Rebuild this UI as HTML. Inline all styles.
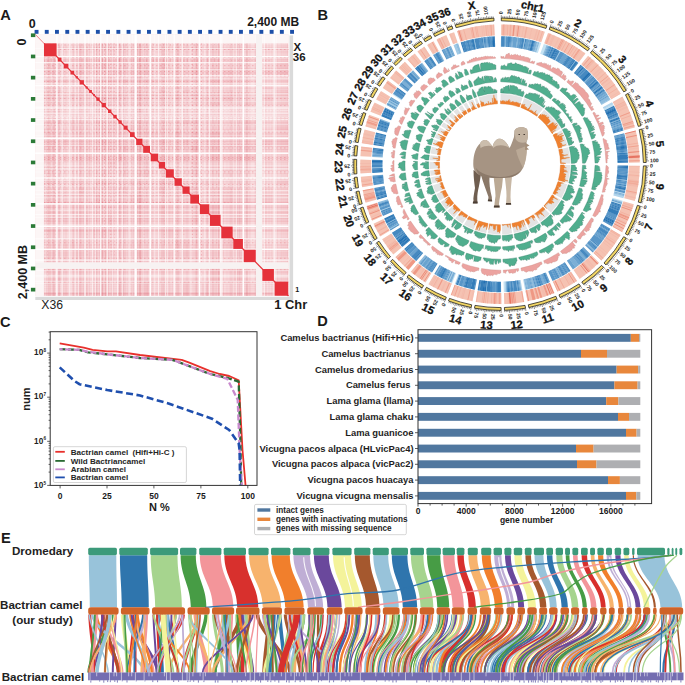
<!DOCTYPE html>
<html><head><meta charset="utf-8"><style>
html,body{margin:0;padding:0;background:#fff;width:685px;height:685px;overflow:hidden}
svg{display:block;font-family:"Liberation Sans", sans-serif}
</style></head><body>
<svg width="685" height="685" viewBox="0 0 685 685">
<rect width="685" height="685" fill="#fff"/>
<rect x="35.3" y="34.4" width="253.2" height="261.6" fill="#f9e0e2"/>
<rect x="35.3" y="34.4" width="8.7" height="261.6" fill="#fcf6f6"/>
<rect x="35.3" y="34.4" width="253.2" height="9" fill="#fcf6f6"/>
<rect x="56.8" y="89.2" width="5.7" height="4.5" fill="#e9707a" opacity="0.08"/>
<rect x="56.8" y="101.8" width="5.7" height="6.7" fill="#e9707a" opacity="0.06"/>
<rect x="56.8" y="108.5" width="5.7" height="5.5" fill="#e9707a" opacity="0.10"/>
<rect x="56.8" y="119.4" width="5.7" height="5.2" fill="#e9707a" opacity="0.12"/>
<rect x="56.8" y="145.5" width="5.7" height="7.7" fill="#e9707a" opacity="0.04"/>
<rect x="56.8" y="161.7" width="5.7" height="7.2" fill="#e9707a" opacity="0.06"/>
<rect x="56.8" y="168.9" width="5.7" height="9" fill="#e9707a" opacity="0.04"/>
<rect x="56.8" y="268.6" width="5.7" height="12.6" fill="#e9707a" opacity="0.12"/>
<rect x="62.5" y="75.5" width="7" height="3.5" fill="#e9707a" opacity="0.06"/>
<rect x="62.5" y="79" width="7" height="6.7" fill="#e9707a" opacity="0.10"/>
<rect x="62.5" y="108.5" width="7" height="5.5" fill="#e9707a" opacity="0.06"/>
<rect x="62.5" y="138.3" width="7" height="7.1" fill="#e9707a" opacity="0.09"/>
<rect x="62.5" y="153.2" width="7" height="8.5" fill="#e9707a" opacity="0.05"/>
<rect x="62.5" y="186.2" width="7" height="8.1" fill="#e9707a" opacity="0.06"/>
<rect x="62.5" y="194.2" width="7" height="9.7" fill="#e9707a" opacity="0.04"/>
<rect x="62.5" y="214.5" width="7" height="11.8" fill="#e9707a" opacity="0.08"/>
<rect x="62.5" y="238.7" width="7" height="10.6" fill="#e9707a" opacity="0.10"/>
<rect x="62.5" y="249.3" width="7" height="13.1" fill="#e9707a" opacity="0.09"/>
<rect x="62.5" y="268.6" width="7" height="12.6" fill="#e9707a" opacity="0.07"/>
<rect x="62.5" y="281.2" width="7" height="14.8" fill="#e9707a" opacity="0.06"/>
<rect x="69.5" y="79" width="5.6" height="6.7" fill="#e9707a" opacity="0.07"/>
<rect x="69.5" y="93.7" width="5.6" height="2.9" fill="#e9707a" opacity="0.12"/>
<rect x="69.5" y="96.6" width="5.6" height="5.2" fill="#e9707a" opacity="0.06"/>
<rect x="69.5" y="114" width="5.6" height="5.5" fill="#e9707a" opacity="0.05"/>
<rect x="69.5" y="119.4" width="5.6" height="5.2" fill="#e9707a" opacity="0.09"/>
<rect x="69.5" y="124.6" width="5.6" height="6.3" fill="#e9707a" opacity="0.09"/>
<rect x="69.5" y="177.9" width="5.6" height="8.3" fill="#e9707a" opacity="0.05"/>
<rect x="69.5" y="203.9" width="5.6" height="10.5" fill="#e9707a" opacity="0.06"/>
<rect x="69.5" y="238.7" width="5.6" height="10.6" fill="#e9707a" opacity="0.12"/>
<rect x="75.1" y="56.6" width="3.4" height="5.9" fill="#e9707a" opacity="0.04"/>
<rect x="75.1" y="69.7" width="3.4" height="5.8" fill="#e9707a" opacity="0.10"/>
<rect x="75.1" y="75.5" width="3.4" height="3.5" fill="#e9707a" opacity="0.11"/>
<rect x="75.1" y="85.7" width="3.4" height="3.4" fill="#e9707a" opacity="0.05"/>
<rect x="75.1" y="93.7" width="3.4" height="2.9" fill="#e9707a" opacity="0.06"/>
<rect x="75.1" y="114" width="3.4" height="5.5" fill="#e9707a" opacity="0.11"/>
<rect x="75.1" y="119.4" width="3.4" height="5.2" fill="#e9707a" opacity="0.04"/>
<rect x="75.1" y="124.6" width="3.4" height="6.3" fill="#e9707a" opacity="0.08"/>
<rect x="75.1" y="130.9" width="3.4" height="7.4" fill="#e9707a" opacity="0.05"/>
<rect x="75.1" y="153.2" width="3.4" height="8.5" fill="#e9707a" opacity="0.07"/>
<rect x="75.1" y="203.9" width="3.4" height="10.5" fill="#e9707a" opacity="0.04"/>
<rect x="75.1" y="214.5" width="3.4" height="11.8" fill="#e9707a" opacity="0.11"/>
<rect x="75.1" y="249.3" width="3.4" height="13.1" fill="#e9707a" opacity="0.09"/>
<rect x="78.5" y="69.7" width="6.5" height="5.8" fill="#e9707a" opacity="0.08"/>
<rect x="78.5" y="186.2" width="6.5" height="8.1" fill="#e9707a" opacity="0.09"/>
<rect x="85" y="56.6" width="3.3" height="5.9" fill="#e9707a" opacity="0.10"/>
<rect x="85" y="62.5" width="3.3" height="7.2" fill="#e9707a" opacity="0.09"/>
<rect x="85" y="75.5" width="3.3" height="3.5" fill="#e9707a" opacity="0.10"/>
<rect x="85" y="93.7" width="3.3" height="2.9" fill="#e9707a" opacity="0.04"/>
<rect x="85" y="108.5" width="3.3" height="5.5" fill="#e9707a" opacity="0.05"/>
<rect x="85" y="153.2" width="3.3" height="8.5" fill="#e9707a" opacity="0.07"/>
<rect x="85" y="214.5" width="3.3" height="11.8" fill="#e9707a" opacity="0.08"/>
<rect x="85" y="281.2" width="3.3" height="14.8" fill="#e9707a" opacity="0.05"/>
<rect x="88.3" y="62.5" width="4.4" height="7.2" fill="#e9707a" opacity="0.06"/>
<rect x="88.3" y="101.8" width="4.4" height="6.7" fill="#e9707a" opacity="0.04"/>
<rect x="88.3" y="114" width="4.4" height="5.5" fill="#e9707a" opacity="0.10"/>
<rect x="88.3" y="138.3" width="4.4" height="7.1" fill="#e9707a" opacity="0.05"/>
<rect x="88.3" y="153.2" width="4.4" height="8.5" fill="#e9707a" opacity="0.11"/>
<rect x="88.3" y="161.7" width="4.4" height="7.2" fill="#e9707a" opacity="0.05"/>
<rect x="88.3" y="168.9" width="4.4" height="9" fill="#e9707a" opacity="0.09"/>
<rect x="88.3" y="238.7" width="4.4" height="10.6" fill="#e9707a" opacity="0.08"/>
<rect x="88.3" y="249.3" width="4.4" height="13.1" fill="#e9707a" opacity="0.04"/>
<rect x="92.7" y="56.6" width="2.8" height="5.9" fill="#e9707a" opacity="0.06"/>
<rect x="92.7" y="101.8" width="2.8" height="6.7" fill="#e9707a" opacity="0.11"/>
<rect x="92.7" y="114" width="2.8" height="5.5" fill="#e9707a" opacity="0.08"/>
<rect x="92.7" y="186.2" width="2.8" height="8.1" fill="#e9707a" opacity="0.10"/>
<rect x="92.7" y="226.3" width="2.8" height="12.4" fill="#e9707a" opacity="0.11"/>
<rect x="95.5" y="79" width="5" height="6.7" fill="#e9707a" opacity="0.08"/>
<rect x="95.5" y="96.6" width="5" height="5.2" fill="#e9707a" opacity="0.10"/>
<rect x="95.5" y="101.8" width="5" height="6.7" fill="#e9707a" opacity="0.10"/>
<rect x="95.5" y="108.5" width="5" height="5.5" fill="#e9707a" opacity="0.07"/>
<rect x="95.5" y="119.4" width="5" height="5.2" fill="#e9707a" opacity="0.05"/>
<rect x="95.5" y="177.9" width="5" height="8.3" fill="#e9707a" opacity="0.06"/>
<rect x="95.5" y="194.2" width="5" height="9.7" fill="#e9707a" opacity="0.10"/>
<rect x="100.5" y="62.5" width="6.5" height="7.2" fill="#e9707a" opacity="0.11"/>
<rect x="100.5" y="85.7" width="6.5" height="3.4" fill="#e9707a" opacity="0.08"/>
<rect x="100.5" y="96.6" width="6.5" height="5.2" fill="#e9707a" opacity="0.12"/>
<rect x="100.5" y="138.3" width="6.5" height="7.1" fill="#e9707a" opacity="0.08"/>
<rect x="100.5" y="168.9" width="6.5" height="9" fill="#e9707a" opacity="0.08"/>
<rect x="100.5" y="177.9" width="6.5" height="8.3" fill="#e9707a" opacity="0.07"/>
<rect x="100.5" y="226.3" width="6.5" height="12.4" fill="#e9707a" opacity="0.09"/>
<rect x="100.5" y="249.3" width="6.5" height="13.1" fill="#e9707a" opacity="0.10"/>
<rect x="100.5" y="268.6" width="6.5" height="12.6" fill="#e9707a" opacity="0.06"/>
<rect x="100.5" y="281.2" width="6.5" height="14.8" fill="#e9707a" opacity="0.09"/>
<rect x="107" y="75.5" width="5.3" height="3.5" fill="#e9707a" opacity="0.10"/>
<rect x="107" y="79" width="5.3" height="6.7" fill="#e9707a" opacity="0.08"/>
<rect x="107" y="85.7" width="5.3" height="3.4" fill="#e9707a" opacity="0.06"/>
<rect x="107" y="114" width="5.3" height="5.5" fill="#e9707a" opacity="0.06"/>
<rect x="107" y="161.7" width="5.3" height="7.2" fill="#e9707a" opacity="0.10"/>
<rect x="107" y="214.5" width="5.3" height="11.8" fill="#e9707a" opacity="0.12"/>
<rect x="107" y="238.7" width="5.3" height="10.6" fill="#e9707a" opacity="0.06"/>
<rect x="107" y="268.6" width="5.3" height="12.6" fill="#e9707a" opacity="0.05"/>
<rect x="112.3" y="69.7" width="5.3" height="5.8" fill="#e9707a" opacity="0.07"/>
<rect x="112.3" y="79" width="5.3" height="6.7" fill="#e9707a" opacity="0.06"/>
<rect x="112.3" y="96.6" width="5.3" height="5.2" fill="#e9707a" opacity="0.08"/>
<rect x="112.3" y="119.4" width="5.3" height="5.2" fill="#e9707a" opacity="0.05"/>
<rect x="112.3" y="124.6" width="5.3" height="6.3" fill="#e9707a" opacity="0.04"/>
<rect x="112.3" y="153.2" width="5.3" height="8.5" fill="#e9707a" opacity="0.05"/>
<rect x="112.3" y="161.7" width="5.3" height="7.2" fill="#e9707a" opacity="0.11"/>
<rect x="112.3" y="186.2" width="5.3" height="8.1" fill="#e9707a" opacity="0.04"/>
<rect x="117.6" y="56.6" width="5" height="5.9" fill="#e9707a" opacity="0.10"/>
<rect x="117.6" y="69.7" width="5" height="5.8" fill="#e9707a" opacity="0.08"/>
<rect x="117.6" y="85.7" width="5" height="3.4" fill="#e9707a" opacity="0.05"/>
<rect x="117.6" y="93.7" width="5" height="2.9" fill="#e9707a" opacity="0.11"/>
<rect x="117.6" y="153.2" width="5" height="8.5" fill="#e9707a" opacity="0.11"/>
<rect x="117.6" y="281.2" width="5" height="14.8" fill="#e9707a" opacity="0.07"/>
<rect x="122.6" y="62.5" width="6.1" height="7.2" fill="#e9707a" opacity="0.07"/>
<rect x="122.6" y="79" width="6.1" height="6.7" fill="#e9707a" opacity="0.12"/>
<rect x="122.6" y="145.5" width="6.1" height="7.7" fill="#e9707a" opacity="0.09"/>
<rect x="122.6" y="161.7" width="6.1" height="7.2" fill="#e9707a" opacity="0.07"/>
<rect x="122.6" y="168.9" width="6.1" height="9" fill="#e9707a" opacity="0.06"/>
<rect x="122.6" y="186.2" width="6.1" height="8.1" fill="#e9707a" opacity="0.06"/>
<rect x="128.7" y="56.6" width="7.2" height="5.9" fill="#e9707a" opacity="0.09"/>
<rect x="128.7" y="69.7" width="7.2" height="5.8" fill="#e9707a" opacity="0.11"/>
<rect x="128.7" y="75.5" width="7.2" height="3.5" fill="#e9707a" opacity="0.08"/>
<rect x="128.7" y="79" width="7.2" height="6.7" fill="#e9707a" opacity="0.08"/>
<rect x="128.7" y="89.2" width="7.2" height="4.5" fill="#e9707a" opacity="0.12"/>
<rect x="128.7" y="114" width="7.2" height="5.5" fill="#e9707a" opacity="0.09"/>
<rect x="128.7" y="124.6" width="7.2" height="6.3" fill="#e9707a" opacity="0.10"/>
<rect x="128.7" y="130.9" width="7.2" height="7.4" fill="#e9707a" opacity="0.04"/>
<rect x="128.7" y="138.3" width="7.2" height="7.1" fill="#e9707a" opacity="0.04"/>
<rect x="128.7" y="145.5" width="7.2" height="7.7" fill="#e9707a" opacity="0.10"/>
<rect x="128.7" y="177.9" width="7.2" height="8.3" fill="#e9707a" opacity="0.12"/>
<rect x="128.7" y="194.2" width="7.2" height="9.7" fill="#e9707a" opacity="0.11"/>
<rect x="128.7" y="238.7" width="7.2" height="10.6" fill="#e9707a" opacity="0.08"/>
<rect x="135.9" y="75.5" width="6.9" height="3.5" fill="#e9707a" opacity="0.09"/>
<rect x="135.9" y="85.7" width="6.9" height="3.4" fill="#e9707a" opacity="0.04"/>
<rect x="135.9" y="93.7" width="6.9" height="2.9" fill="#e9707a" opacity="0.08"/>
<rect x="135.9" y="108.5" width="6.9" height="5.5" fill="#e9707a" opacity="0.09"/>
<rect x="135.9" y="153.2" width="6.9" height="8.5" fill="#e9707a" opacity="0.05"/>
<rect x="135.9" y="194.2" width="6.9" height="9.7" fill="#e9707a" opacity="0.09"/>
<rect x="135.9" y="249.3" width="6.9" height="13.1" fill="#e9707a" opacity="0.06"/>
<rect x="142.8" y="62.5" width="7.5" height="7.2" fill="#e9707a" opacity="0.04"/>
<rect x="142.8" y="69.7" width="7.5" height="5.8" fill="#e9707a" opacity="0.07"/>
<rect x="142.8" y="79" width="7.5" height="6.7" fill="#e9707a" opacity="0.08"/>
<rect x="142.8" y="85.7" width="7.5" height="3.4" fill="#e9707a" opacity="0.05"/>
<rect x="142.8" y="114" width="7.5" height="5.5" fill="#e9707a" opacity="0.07"/>
<rect x="142.8" y="130.9" width="7.5" height="7.4" fill="#e9707a" opacity="0.05"/>
<rect x="142.8" y="161.7" width="7.5" height="7.2" fill="#e9707a" opacity="0.07"/>
<rect x="142.8" y="168.9" width="7.5" height="9" fill="#e9707a" opacity="0.10"/>
<rect x="142.8" y="281.2" width="7.5" height="14.8" fill="#e9707a" opacity="0.11"/>
<rect x="150.3" y="56.6" width="8.2" height="5.9" fill="#e9707a" opacity="0.05"/>
<rect x="150.3" y="79" width="8.2" height="6.7" fill="#e9707a" opacity="0.10"/>
<rect x="150.3" y="85.7" width="8.2" height="3.4" fill="#e9707a" opacity="0.06"/>
<rect x="150.3" y="93.7" width="8.2" height="2.9" fill="#e9707a" opacity="0.06"/>
<rect x="150.3" y="108.5" width="8.2" height="5.5" fill="#e9707a" opacity="0.05"/>
<rect x="150.3" y="130.9" width="8.2" height="7.4" fill="#e9707a" opacity="0.10"/>
<rect x="150.3" y="238.7" width="8.2" height="10.6" fill="#e9707a" opacity="0.07"/>
<rect x="158.5" y="62.5" width="7" height="7.2" fill="#e9707a" opacity="0.09"/>
<rect x="158.5" y="89.2" width="7" height="4.5" fill="#e9707a" opacity="0.10"/>
<rect x="158.5" y="96.6" width="7" height="5.2" fill="#e9707a" opacity="0.04"/>
<rect x="158.5" y="138.3" width="7" height="7.1" fill="#e9707a" opacity="0.08"/>
<rect x="158.5" y="153.2" width="7" height="8.5" fill="#e9707a" opacity="0.05"/>
<rect x="158.5" y="177.9" width="7" height="8.3" fill="#e9707a" opacity="0.09"/>
<rect x="158.5" y="186.2" width="7" height="8.1" fill="#e9707a" opacity="0.10"/>
<rect x="158.5" y="203.9" width="7" height="10.5" fill="#e9707a" opacity="0.06"/>
<rect x="165.5" y="177.9" width="8.7" height="8.3" fill="#e9707a" opacity="0.10"/>
<rect x="165.5" y="203.9" width="8.7" height="10.5" fill="#e9707a" opacity="0.06"/>
<rect x="165.5" y="226.3" width="8.7" height="12.4" fill="#e9707a" opacity="0.12"/>
<rect x="165.5" y="238.7" width="8.7" height="10.6" fill="#e9707a" opacity="0.06"/>
<rect x="165.5" y="249.3" width="8.7" height="13.1" fill="#e9707a" opacity="0.09"/>
<rect x="165.5" y="281.2" width="8.7" height="14.8" fill="#e9707a" opacity="0.04"/>
<rect x="174.2" y="75.5" width="8" height="3.5" fill="#e9707a" opacity="0.05"/>
<rect x="174.2" y="79" width="8" height="6.7" fill="#e9707a" opacity="0.06"/>
<rect x="174.2" y="85.7" width="8" height="3.4" fill="#e9707a" opacity="0.10"/>
<rect x="174.2" y="93.7" width="8" height="2.9" fill="#e9707a" opacity="0.05"/>
<rect x="174.2" y="96.6" width="8" height="5.2" fill="#e9707a" opacity="0.05"/>
<rect x="174.2" y="130.9" width="8" height="7.4" fill="#e9707a" opacity="0.11"/>
<rect x="174.2" y="177.9" width="8" height="8.3" fill="#e9707a" opacity="0.04"/>
<rect x="174.2" y="238.7" width="8" height="10.6" fill="#e9707a" opacity="0.12"/>
<rect x="174.2" y="268.6" width="8" height="12.6" fill="#e9707a" opacity="0.04"/>
<rect x="182.2" y="79" width="7.8" height="6.7" fill="#e9707a" opacity="0.05"/>
<rect x="182.2" y="89.2" width="7.8" height="4.5" fill="#e9707a" opacity="0.11"/>
<rect x="182.2" y="108.5" width="7.8" height="5.5" fill="#e9707a" opacity="0.08"/>
<rect x="182.2" y="114" width="7.8" height="5.5" fill="#e9707a" opacity="0.10"/>
<rect x="182.2" y="119.4" width="7.8" height="5.2" fill="#e9707a" opacity="0.11"/>
<rect x="182.2" y="138.3" width="7.8" height="7.1" fill="#e9707a" opacity="0.06"/>
<rect x="182.2" y="153.2" width="7.8" height="8.5" fill="#e9707a" opacity="0.08"/>
<rect x="182.2" y="238.7" width="7.8" height="10.6" fill="#e9707a" opacity="0.11"/>
<rect x="182.2" y="249.3" width="7.8" height="13.1" fill="#e9707a" opacity="0.08"/>
<rect x="182.2" y="281.2" width="7.8" height="14.8" fill="#e9707a" opacity="0.11"/>
<rect x="190" y="69.7" width="9.4" height="5.8" fill="#e9707a" opacity="0.06"/>
<rect x="190" y="93.7" width="9.4" height="2.9" fill="#e9707a" opacity="0.07"/>
<rect x="190" y="119.4" width="9.4" height="5.2" fill="#e9707a" opacity="0.07"/>
<rect x="190" y="130.9" width="9.4" height="7.4" fill="#e9707a" opacity="0.09"/>
<rect x="190" y="145.5" width="9.4" height="7.7" fill="#e9707a" opacity="0.12"/>
<rect x="190" y="161.7" width="9.4" height="7.2" fill="#e9707a" opacity="0.09"/>
<rect x="190" y="168.9" width="9.4" height="9" fill="#e9707a" opacity="0.07"/>
<rect x="190" y="186.2" width="9.4" height="8.1" fill="#e9707a" opacity="0.07"/>
<rect x="190" y="214.5" width="9.4" height="11.8" fill="#e9707a" opacity="0.06"/>
<rect x="199.4" y="69.7" width="10.2" height="5.8" fill="#e9707a" opacity="0.05"/>
<rect x="199.4" y="75.5" width="10.2" height="3.5" fill="#e9707a" opacity="0.09"/>
<rect x="199.4" y="85.7" width="10.2" height="3.4" fill="#e9707a" opacity="0.07"/>
<rect x="199.4" y="96.6" width="10.2" height="5.2" fill="#e9707a" opacity="0.06"/>
<rect x="199.4" y="101.8" width="10.2" height="6.7" fill="#e9707a" opacity="0.05"/>
<rect x="199.4" y="114" width="10.2" height="5.5" fill="#e9707a" opacity="0.11"/>
<rect x="199.4" y="177.9" width="10.2" height="8.3" fill="#e9707a" opacity="0.07"/>
<rect x="199.4" y="238.7" width="10.2" height="10.6" fill="#e9707a" opacity="0.07"/>
<rect x="199.4" y="281.2" width="10.2" height="14.8" fill="#e9707a" opacity="0.07"/>
<rect x="209.6" y="79" width="11.4" height="6.7" fill="#e9707a" opacity="0.10"/>
<rect x="209.6" y="101.8" width="11.4" height="6.7" fill="#e9707a" opacity="0.10"/>
<rect x="209.6" y="130.9" width="11.4" height="7.4" fill="#e9707a" opacity="0.12"/>
<rect x="209.6" y="145.5" width="11.4" height="7.7" fill="#e9707a" opacity="0.05"/>
<rect x="209.6" y="153.2" width="11.4" height="8.5" fill="#e9707a" opacity="0.09"/>
<rect x="209.6" y="203.9" width="11.4" height="10.5" fill="#e9707a" opacity="0.12"/>
<rect x="209.6" y="214.5" width="11.4" height="11.8" fill="#e9707a" opacity="0.11"/>
<rect x="209.6" y="268.6" width="11.4" height="12.6" fill="#e9707a" opacity="0.11"/>
<rect x="221" y="69.7" width="12" height="5.8" fill="#e9707a" opacity="0.11"/>
<rect x="221" y="75.5" width="12" height="3.5" fill="#e9707a" opacity="0.11"/>
<rect x="221" y="79" width="12" height="6.7" fill="#e9707a" opacity="0.09"/>
<rect x="221" y="89.2" width="12" height="4.5" fill="#e9707a" opacity="0.08"/>
<rect x="221" y="93.7" width="12" height="2.9" fill="#e9707a" opacity="0.04"/>
<rect x="221" y="96.6" width="12" height="5.2" fill="#e9707a" opacity="0.12"/>
<rect x="221" y="153.2" width="12" height="8.5" fill="#e9707a" opacity="0.06"/>
<rect x="221" y="168.9" width="12" height="9" fill="#e9707a" opacity="0.07"/>
<rect x="221" y="186.2" width="12" height="8.1" fill="#e9707a" opacity="0.08"/>
<rect x="221" y="194.2" width="12" height="9.7" fill="#e9707a" opacity="0.09"/>
<rect x="221" y="226.3" width="12" height="12.4" fill="#e9707a" opacity="0.09"/>
<rect x="221" y="238.7" width="12" height="10.6" fill="#e9707a" opacity="0.12"/>
<rect x="233" y="153.2" width="10.3" height="8.5" fill="#e9707a" opacity="0.10"/>
<rect x="233" y="214.5" width="10.3" height="11.8" fill="#e9707a" opacity="0.05"/>
<rect x="233" y="268.6" width="10.3" height="12.6" fill="#e9707a" opacity="0.10"/>
<rect x="243.3" y="56.6" width="12.7" height="5.9" fill="#e9707a" opacity="0.06"/>
<rect x="243.3" y="69.7" width="12.7" height="5.8" fill="#e9707a" opacity="0.05"/>
<rect x="243.3" y="101.8" width="12.7" height="6.7" fill="#e9707a" opacity="0.10"/>
<rect x="243.3" y="119.4" width="12.7" height="5.2" fill="#e9707a" opacity="0.10"/>
<rect x="243.3" y="124.6" width="12.7" height="6.3" fill="#e9707a" opacity="0.08"/>
<rect x="243.3" y="138.3" width="12.7" height="7.1" fill="#e9707a" opacity="0.06"/>
<rect x="243.3" y="145.5" width="12.7" height="7.7" fill="#e9707a" opacity="0.07"/>
<rect x="243.3" y="153.2" width="12.7" height="8.5" fill="#e9707a" opacity="0.11"/>
<rect x="243.3" y="194.2" width="12.7" height="9.7" fill="#e9707a" opacity="0.04"/>
<rect x="243.3" y="281.2" width="12.7" height="14.8" fill="#e9707a" opacity="0.06"/>
<rect x="262" y="69.7" width="12.2" height="5.8" fill="#e9707a" opacity="0.11"/>
<rect x="262" y="85.7" width="12.2" height="3.4" fill="#e9707a" opacity="0.11"/>
<rect x="262" y="93.7" width="12.2" height="2.9" fill="#e9707a" opacity="0.09"/>
<rect x="262" y="96.6" width="12.2" height="5.2" fill="#e9707a" opacity="0.11"/>
<rect x="262" y="101.8" width="12.2" height="6.7" fill="#e9707a" opacity="0.05"/>
<rect x="262" y="138.3" width="12.2" height="7.1" fill="#e9707a" opacity="0.10"/>
<rect x="262" y="161.7" width="12.2" height="7.2" fill="#e9707a" opacity="0.06"/>
<rect x="262" y="186.2" width="12.2" height="8.1" fill="#e9707a" opacity="0.05"/>
<rect x="262" y="194.2" width="12.2" height="9.7" fill="#e9707a" opacity="0.09"/>
<rect x="262" y="268.6" width="12.2" height="12.6" fill="#e9707a" opacity="0.06"/>
<rect x="274.2" y="62.5" width="14.3" height="7.2" fill="#e9707a" opacity="0.09"/>
<rect x="274.2" y="69.7" width="14.3" height="5.8" fill="#e9707a" opacity="0.12"/>
<rect x="274.2" y="89.2" width="14.3" height="4.5" fill="#e9707a" opacity="0.09"/>
<rect x="274.2" y="93.7" width="14.3" height="2.9" fill="#e9707a" opacity="0.06"/>
<rect x="274.2" y="101.8" width="14.3" height="6.7" fill="#e9707a" opacity="0.06"/>
<rect x="274.2" y="114" width="14.3" height="5.5" fill="#e9707a" opacity="0.06"/>
<rect x="274.2" y="124.6" width="14.3" height="6.3" fill="#e9707a" opacity="0.11"/>
<rect x="274.2" y="138.3" width="14.3" height="7.1" fill="#e9707a" opacity="0.08"/>
<rect x="274.2" y="177.9" width="14.3" height="8.3" fill="#e9707a" opacity="0.08"/>
<path d="M276.6 43.4v252.6M86.5 43.4v252.6M234.6 43.4v252.6M84.4 43.4v252.6M192.7 43.4v252.6M101.5 43.4v252.6M151.7 43.4v252.6M233 43.4v252.6M236.3 43.4v252.6M237.4 43.4v252.6M101.7 43.4v252.6M163.6 43.4v252.6M98.1 43.4v252.6M185.8 43.4v252.6M166 43.4v252.6M52.6 43.4v252.6M189.9 43.4v252.6M218.7 43.4v252.6M184 43.4v252.6M257.4 43.4v252.6M88 43.4v252.6M81.1 43.4v252.6M48.3 43.4v252.6M165.3 43.4v252.6M150.3 43.4v252.6M152 43.4v252.6M108.3 43.4v252.6M239.2 43.4v252.6M61.7 43.4v252.6M265.8 43.4v252.6M183.1 43.4v252.6M176.8 43.4v252.6M237.5 43.4v252.6M102.2 43.4v252.6M79.8 43.4v252.6M120 43.4v252.6M54.3 43.4v252.6M120.9 43.4v252.6M195.9 43.4v252.6M172.5 43.4v252.6M108.7 43.4v252.6M187.9 43.4v252.6M65.6 43.4v252.6M244.6 43.4v252.6M86 43.4v252.6M106.3 43.4v252.6M83.1 43.4v252.6M212.9 43.4v252.6M247.2 43.4v252.6M236.3 43.4v252.6M58.9 43.4v252.6M144.4 43.4v252.6M133.1 43.4v252.6M96.9 43.4v252.6M281.3 43.4v252.6M54.3 43.4v252.6M163.7 43.4v252.6M230.1 43.4v252.6M285.1 43.4v252.6M79.3 43.4v252.6M155.3 43.4v252.6M226.1 43.4v252.6M53.6 43.4v252.6M102.8 43.4v252.6M261.6 43.4v252.6M78.6 43.4v252.6M140.1 43.4v252.6M116.9 43.4v252.6M147.8 43.4v252.6M62.7 43.4v252.6M52.4 43.4v252.6M287.6 43.4v252.6M230.6 43.4v252.6M223.5 43.4v252.6M100.2 43.4v252.6M105.9 43.4v252.6M178.9 43.4v252.6M103.1 43.4v252.6M156.9 43.4v252.6M272 43.4v252.6M133 43.4v252.6M126.4 43.4v252.6M283.9 43.4v252.6M193.4 43.4v252.6M53.7 43.4v252.6M142.5 43.4v252.6M202.9 43.4v252.6M58.3 43.4v252.6M127.9 43.4v252.6M213.9 43.4v252.6M255.4 43.4v252.6M188.4 43.4v252.6M260.7 43.4v252.6M157.1 43.4v252.6M140.1 43.4v252.6M250.1 43.4v252.6M137.2 43.4v252.6M235 43.4v252.6M96.7 43.4v252.6M128.9 43.4v252.6M88.9 43.4v252.6M178.4 43.4v252.6M84.1 43.4v252.6M93.8 43.4v252.6M96.4 43.4v252.6M158.4 43.4v252.6M119.4 43.4v252.6M153.3 43.4v252.6M286.9 43.4v252.6M210.1 43.4v252.6M254.9 43.4v252.6M94 43.4v252.6M137.6 43.4v252.6M61.8 43.4v252.6M213 43.4v252.6M132.7 43.4v252.6M111.1 43.4v252.6M48.5 43.4v252.6M88.5 43.4v252.6M108.1 43.4v252.6M140.1 43.4v252.6M269.8 43.4v252.6M218.9 43.4v252.6M109.7 43.4v252.6M132.3 43.4v252.6M81.5 43.4v252.6M273 43.4v252.6M132 43.4v252.6M231.2 43.4v252.6M220.9 43.4v252.6M265.8 43.4v252.6M49 43.4v252.6M122.7 43.4v252.6M138 43.4v252.6M64.3 43.4v252.6M259.7 43.4v252.6M123.5 43.4v252.6M232.4 43.4v252.6M171 43.4v252.6M57.4 43.4v252.6M140.3 43.4v252.6M102.3 43.4v252.6M54 43.4v252.6M80.9 43.4v252.6M189.6 43.4v252.6M51.8 43.4v252.6M120.4 43.4v252.6M147.7 43.4v252.6M177 43.4v252.6M77.3 43.4v252.6M216.8 43.4v252.6M107.7 43.4v252.6M221.4 43.4v252.6M206.9 43.4v252.6M80 43.4v252.6M94.1 43.4v252.6M112.5 43.4v252.6M218.3 43.4v252.6M143.1 43.4v252.6M138.5 43.4v252.6M255.7 43.4v252.6M99.3 43.4v252.6M115.4 43.4v252.6M128.3 43.4v252.6M96.8 43.4v252.6M53.9 43.4v252.6M50 43.4v252.6M198.1 43.4v252.6M182.4 43.4v252.6M241.7 43.4v252.6M282.5 43.4v252.6M116.9 43.4v252.6M207.9 43.4v252.6M268.7 43.4v252.6M96.9 43.4v252.6M212.5 43.4v252.6M207 43.4v252.6M277.5 43.4v252.6M256.3 43.4v252.6M101.4 43.4v252.6M198.7 43.4v252.6M66 43.4v252.6M148.6 43.4v252.6M140 43.4v252.6M58.7 43.4v252.6M137.7 43.4v252.6M124.2 43.4v252.6M165.5 43.4v252.6M112.4 43.4v252.6M82.8 43.4v252.6M142.4 43.4v252.6M160.2 43.4v252.6M84.8 43.4v252.6M206.6 43.4v252.6M102.6 43.4v252.6M66.8 43.4v252.6M127.6 43.4v252.6M147.3 43.4v252.6M80.9 43.4v252.6M186.5 43.4v252.6M215.5 43.4v252.6M179.3 43.4v252.6M215.2 43.4v252.6M49.6 43.4v252.6M139.7 43.4v252.6M133.1 43.4v252.6M59.4 43.4v252.6M142.9 43.4v252.6M57.4 43.4v252.6M165.2 43.4v252.6M187.2 43.4v252.6M158.7 43.4v252.6M123.6 43.4v252.6M106 43.4v252.6M49.8 43.4v252.6M128.9 43.4v252.6M262 43.4v252.6M182.3 43.4v252.6M108 43.4v252.6M207.3 43.4v252.6M89.5 43.4v252.6M158.7 43.4v252.6M194.4 43.4v252.6M277.4 43.4v252.6M132.7 43.4v252.6M184.9 43.4v252.6M274.4 43.4v252.6M232.6 43.4v252.6M197.4 43.4v252.6M195.8 43.4v252.6M144.5 43.4v252.6M145.6 43.4v252.6M111.5 43.4v252.6M246.8 43.4v252.6M259.1 43.4v252.6M137.4 43.4v252.6M266.4 43.4v252.6M53.3 43.4v252.6M77.2 43.4v252.6M168 43.4v252.6M119.5 43.4v252.6M132.1 43.4v252.6M282.9 43.4v252.6M80.6 43.4v252.6M91.1 43.4v252.6M99.9 43.4v252.6M210.3 43.4v252.6M101.3 43.4v252.6M44.2 43.4v252.6M177 43.4v252.6M140.3 43.4v252.6M102.5 43.4v252.6M164.7 43.4v252.6M203 43.4v252.6M178 43.4v252.6M196.7 43.4v252.6M181.1 43.4v252.6M247.2 43.4v252.6M280.9 43.4v252.6M125.5 43.4v252.6M128.8 43.4v252.6M260.7 43.4v252.6M120.6 43.4v252.6M219 43.4v252.6M214 43.4v252.6M211.9 43.4v252.6M279.7 43.4v252.6M245.6 43.4v252.6M83 43.4v252.6M196 43.4v252.6M164 43.4v252.6M181.9 43.4v252.6M134.3 43.4v252.6M113.9 43.4v252.6M227.1 43.4v252.6M174.6 43.4v252.6M102 43.4v252.6M105 43.4v252.6M123.5 43.4v252.6M87.5 43.4v252.6M169.6 43.4v252.6M74.8 43.4v252.6M59.5 43.4v252.6M60.8 43.4v252.6M69 43.4v252.6M216.3 43.4v252.6M71.6 43.4v252.6M154.4 43.4v252.6M232.8 43.4v252.6M161.5 43.4v252.6M83.7 43.4v252.6M255.8 43.4v252.6M256.7 43.4v252.6M57.1 43.4v252.6M106.1 43.4v252.6M168.1 43.4v252.6M238.7 43.4v252.6M139.9 43.4v252.6M219 43.4v252.6M105.6 43.4v252.6M219 43.4v252.6M123.9 43.4v252.6M125.6 43.4v252.6M229.6 43.4v252.6M250 43.4v252.6M246.6 43.4v252.6M182.7 43.4v252.6M146.8 43.4v252.6M216.8 43.4v252.6M196.3 43.4v252.6M247.2 43.4v252.6M239.9 43.4v252.6M74.6 43.4v252.6M136.2 43.4v252.6M207.7 43.4v252.6M100.5 43.4v252.6M89.1 43.4v252.6M47.4 43.4v252.6M187.2 43.4v252.6M274.1 43.4v252.6M281.3 43.4v252.6M76.7 43.4v252.6M212.1 43.4v252.6M146.5 43.4v252.6M198.4 43.4v252.6M141 43.4v252.6M272.2 43.4v252.6M285.8 43.4v252.6M55.9 43.4v252.6M218.4 43.4v252.6M72.9 43.4v252.6M54.4 43.4v252.6M113.9 43.4v252.6M222.8 43.4v252.6M286.9 43.4v252.6M73.4 43.4v252.6M124.7 43.4v252.6M50.5 43.4v252.6M176.7 43.4v252.6M162.1 43.4v252.6M135.3 43.4v252.6M119.6 43.4v252.6M239.7 43.4v252.6M249.1 43.4v252.6M113.4 43.4v252.6M139.8 43.4v252.6M195 43.4v252.6M231.1 43.4v252.6M283.8 43.4v252.6M139.2 43.4v252.6M213.7 43.4v252.6M177.5 43.4v252.6M239.6 43.4v252.6M79.9 43.4v252.6M86.8 43.4v252.6M70.2 43.4v252.6M272.3 43.4v252.6M105.5 43.4v252.6M163.4 43.4v252.6M73.4 43.4v252.6M123.1 43.4v252.6M48.7 43.4v252.6M182.4 43.4v252.6M79.1 43.4v252.6M196.9 43.4v252.6M111 43.4v252.6M99.6 43.4v252.6M161.9 43.4v252.6M133.4 43.4v252.6M107.5 43.4v252.6M56.5 43.4v252.6M59.7 43.4v252.6M262.3 43.4v252.6M119.6 43.4v252.6M63.2 43.4v252.6M88.6 43.4v252.6M162.2 43.4v252.6M287.8 43.4v252.6M93.4 43.4v252.6M256 43.4v252.6M162.4 43.4v252.6M145.4 43.4v252.6M241.3 43.4v252.6M140.8 43.4v252.6M58.1 43.4v252.6M178.6 43.4v252.6M204.6 43.4v252.6M196.3 43.4v252.6M111.8 43.4v252.6M273.6 43.4v252.6M255.4 43.4v252.6M287.1 43.4v252.6M152.4 43.4v252.6M247.8 43.4v252.6M221.3 43.4v252.6M87 43.4v252.6M50.5 43.4v252.6M85.3 43.4v252.6M73 43.4v252.6M62.3 43.4v252.6M131.8 43.4v252.6M228.2 43.4v252.6M119.8 43.4v252.6M169.7 43.4v252.6M46.6 43.4v252.6M95.4 43.4v252.6M278.5 43.4v252.6M46.7 43.4v252.6M172.9 43.4v252.6M242.1 43.4v252.6M237.7 43.4v252.6M223.8 43.4v252.6M141.6 43.4v252.6M240.4 43.4v252.6M246.4 43.4v252.6M231.7 43.4v252.6M285.1 43.4v252.6M68.7 43.4v252.6M276.4 43.4v252.6M142.4 43.4v252.6" stroke="#e4606c" stroke-width="0.45" opacity="0.14" fill="none"/>
<path d="M44 221.5h244.5M44 106.7h244.5M44 273.2h244.5M44 49.3h244.5M44 189.1h244.5M44 100.8h244.5M44 141.5h244.5M44 136.7h244.5M44 209.3h244.5M44 248.2h244.5M44 135.5h244.5M44 204.6h244.5M44 132.8h244.5M44 113.9h244.5M44 272h244.5M44 124.6h244.5M44 67.2h244.5M44 128h244.5M44 230.7h244.5M44 96.8h244.5M44 231.1h244.5M44 181.4h244.5M44 215.2h244.5M44 88.2h244.5M44 70.1h244.5M44 79.5h244.5M44 131.9h244.5M44 152.2h244.5M44 45.8h244.5M44 170.3h244.5M44 145.3h244.5M44 124.6h244.5M44 179.1h244.5M44 283.9h244.5M44 95.1h244.5M44 265.8h244.5M44 124.5h244.5M44 233.9h244.5M44 70.8h244.5M44 292.8h244.5M44 152h244.5M44 286.6h244.5M44 98.9h244.5M44 146.5h244.5M44 221.7h244.5M44 88.3h244.5M44 112.4h244.5M44 214.5h244.5M44 282.8h244.5M44 124.8h244.5M44 89.7h244.5M44 133.6h244.5M44 293.3h244.5M44 80.8h244.5M44 203.7h244.5M44 138.9h244.5M44 206h244.5M44 97h244.5M44 199.1h244.5M44 267.6h244.5M44 259.7h244.5M44 202.2h244.5M44 170.9h244.5M44 186.8h244.5M44 72.2h244.5M44 254.9h244.5M44 217.6h244.5M44 157.9h244.5M44 211.5h244.5M44 149.3h244.5M44 140.6h244.5M44 101.5h244.5M44 195.1h244.5M44 188.1h244.5M44 173.5h244.5M44 51.5h244.5M44 201.9h244.5M44 156.3h244.5M44 193.3h244.5M44 193.6h244.5M44 278.7h244.5M44 81.8h244.5M44 161.8h244.5M44 294.2h244.5M44 229.8h244.5M44 122.4h244.5M44 229.5h244.5M44 293.3h244.5M44 145h244.5M44 262.5h244.5M44 75.4h244.5M44 293.5h244.5M44 167.4h244.5M44 102.5h244.5M44 255.6h244.5M44 207.4h244.5M44 280.3h244.5M44 252.9h244.5M44 244.9h244.5M44 172.6h244.5M44 294.4h244.5M44 59.8h244.5M44 263.2h244.5M44 223.2h244.5M44 106.7h244.5M44 247.3h244.5M44 158.1h244.5M44 178.9h244.5M44 262h244.5M44 92.9h244.5M44 114h244.5M44 206h244.5M44 62h244.5M44 183.6h244.5M44 242.2h244.5M44 167.4h244.5M44 104.5h244.5M44 245.5h244.5M44 259.4h244.5M44 238.1h244.5M44 182.1h244.5M44 272.2h244.5M44 244.7h244.5M44 81.7h244.5M44 135.8h244.5M44 68.7h244.5M44 52.7h244.5M44 130.7h244.5M44 261.9h244.5M44 254h244.5M44 73h244.5M44 89.3h244.5M44 141.6h244.5M44 257.9h244.5M44 199.3h244.5M44 271.2h244.5M44 61.5h244.5M44 292.9h244.5M44 95.6h244.5M44 202.3h244.5M44 264.8h244.5M44 227.2h244.5M44 93.2h244.5M44 212.2h244.5M44 152.2h244.5M44 47.3h244.5M44 129.2h244.5M44 123h244.5M44 202.5h244.5M44 113.7h244.5M44 195.7h244.5M44 218.9h244.5M44 89h244.5M44 75.7h244.5M44 218.6h244.5M44 161.2h244.5M44 76h244.5M44 72.7h244.5M44 281.1h244.5M44 197.5h244.5M44 133.7h244.5M44 92.9h244.5M44 294.7h244.5M44 218.1h244.5M44 229.4h244.5M44 134.4h244.5M44 121.8h244.5M44 146.5h244.5M44 80.3h244.5M44 202.8h244.5M44 150.7h244.5M44 250.6h244.5M44 146.7h244.5M44 158.8h244.5M44 171.3h244.5M44 281.3h244.5M44 130.9h244.5M44 221.1h244.5M44 102.8h244.5M44 189.7h244.5M44 115.4h244.5M44 263.8h244.5M44 115.8h244.5M44 259.2h244.5M44 214.3h244.5M44 158.3h244.5M44 279.2h244.5M44 141.3h244.5M44 231.2h244.5M44 195.3h244.5M44 156.7h244.5M44 59.6h244.5M44 149.3h244.5M44 114.4h244.5M44 154.8h244.5M44 284.5h244.5M44 117.4h244.5M44 218.9h244.5M44 213.2h244.5M44 105.2h244.5M44 147.3h244.5M44 76.8h244.5M44 269.6h244.5M44 107h244.5M44 149.6h244.5M44 129.7h244.5M44 250.7h244.5M44 258.2h244.5M44 192.6h244.5M44 181.3h244.5M44 68.5h244.5M44 269.9h244.5M44 65.7h244.5M44 135.2h244.5M44 138h244.5M44 226h244.5M44 212.4h244.5M44 130.3h244.5M44 270.2h244.5M44 283.3h244.5M44 49.3h244.5M44 203.3h244.5M44 161.9h244.5M44 134.8h244.5M44 160.8h244.5M44 123.2h244.5M44 212.9h244.5M44 196.4h244.5M44 288.5h244.5M44 290.1h244.5M44 294.1h244.5M44 143.2h244.5M44 252.7h244.5M44 207.6h244.5M44 220.5h244.5M44 295.4h244.5M44 60.2h244.5M44 160.2h244.5M44 144.8h244.5M44 209.1h244.5M44 98.5h244.5M44 293.4h244.5M44 96.3h244.5M44 136.8h244.5M44 79.5h244.5M44 143.1h244.5M44 230.8h244.5M44 64.5h244.5M44 85.5h244.5M44 207.3h244.5M44 200.8h244.5M44 230.8h244.5M44 107.4h244.5M44 248.3h244.5M44 228h244.5M44 239.4h244.5M44 73.6h244.5M44 161.8h244.5M44 47.4h244.5M44 260.6h244.5" stroke="#e4606c" stroke-width="0.45" opacity="0.16" fill="none"/>
<path d="M44 282h244.5M44 269.7h244.5M44 49.5h244.5M44 132.1h244.5M44 178.8h244.5M44 178.2h244.5M44 71.5h244.5M44 242.8h244.5M44 119.6h244.5M44 171.5h244.5M44 74.9h244.5M44 186.8h244.5M44 76.2h244.5M44 65.7h244.5M44 172.8h244.5M44 117.6h244.5M44 239.8h244.5M44 105.7h244.5M44 148h244.5M44 57.1h244.5M44 98.4h244.5M44 157.5h244.5M44 184.4h244.5M44 159.4h244.5M44 258.3h244.5" stroke="#de4a58" stroke-width="0.8" stroke-dasharray="1.5 2.5" opacity="0.35" fill="none"/>
<path d="M44 60.6h226.5M44 69h237.3M44 130.2h186.6M44 144.6h227.7M44 202.7h187.2M44 45.2h163.8M44 178.7h216.1M44 161.2h164.1M44 131.2h152.6M44 61.6h177.1M44 203.1h207.9M44 183.5h154.1M44 112.2h157.1M44 86.5h160.1M44 195.3h179.6M44 124.2h208.9M44 190h235.2M44 137.3h195.1M44 192.8h185.5M44 92.9h216.5M44 86.1h183.1M44 114.3h192.9M44 102.6h188.7M44 117.9h154.5M44 181.5h155.6M44 130.7h199.3M44 109.5h170M44 59.8h183.5M44 95.4h193.6M44 81.5h217.5M44 124h150.8M44 110.6h237M44 44.6h203.4M44 202.2h182.9M44 142.3h183.2M44 93.2h204.8M44 140.8h178.4M44 125.7h196.5M44 168h154.8M44 58.7h172.7M87.2 43.4v221.6M112.1 43.4v227.4M108.4 43.4v175.7M152.8 43.4v157.7M201.5 43.4v224.8M96.5 43.4v178.6M175.1 43.4v220.9M146.8 43.4v155.1M166.2 43.4v154.3M144 43.4v199.7M192.4 43.4v207.5M47.6 43.4v234.1M164.4 43.4v202.2M44.9 43.4v216.3M110.9 43.4v211.2M201.4 43.4v232.5M56 43.4v220.3M114.5 43.4v217.6M104.5 43.4v190.3M113.9 43.4v160.6M95.2 43.4v216.1M55.4 43.4v160.4M177.4 43.4v210M131.7 43.4v160.2M62.9 43.4v177.9M196.6 43.4v200.4M191.6 43.4v169M110.4 43.4v198.3M178.3 43.4v161.1M183.8 43.4v192.5M49 43.4v188.9M104.4 43.4v210.7M192.5 43.4v194.4M154.3 43.4v184.9M168.6 43.4v159.5M162.8 43.4v165M137.7 43.4v168.2M99.4 43.4v164.7M100 43.4v203.2M127.2 43.4v185" stroke="#dc4654" stroke-width="0.8" stroke-dasharray="1.2 2.2" opacity="0.2" fill="none"/>
<rect x="56.2" y="34.4" width="1.2" height="261.6" fill="#ffffff" opacity="0.95"/>
<rect x="35.3" y="56" width="253.2" height="1.2" fill="#ffffff" opacity="0.95"/>
<rect x="62" y="34.4" width="1" height="261.6" fill="#ffffff" opacity="0.58"/>
<rect x="35.3" y="62" width="253.2" height="1" fill="#ffffff" opacity="0.69"/>
<rect x="69" y="34.4" width="1" height="261.6" fill="#ffffff" opacity="0.49"/>
<rect x="35.3" y="69.2" width="253.2" height="1" fill="#ffffff" opacity="0.58"/>
<rect x="74.6" y="34.4" width="1" height="261.6" fill="#ffffff" opacity="0.54"/>
<rect x="35.3" y="75" width="253.2" height="1" fill="#ffffff" opacity="0.74"/>
<rect x="78" y="34.4" width="1" height="261.6" fill="#ffffff" opacity="0.48"/>
<rect x="35.3" y="78.5" width="253.2" height="1" fill="#ffffff" opacity="0.63"/>
<rect x="84.4" y="34.4" width="1.2" height="261.6" fill="#ffffff" opacity="0.95"/>
<rect x="35.3" y="85.1" width="253.2" height="1.2" fill="#ffffff" opacity="0.95"/>
<rect x="87.8" y="34.4" width="1" height="261.6" fill="#ffffff" opacity="0.44"/>
<rect x="35.3" y="88.7" width="253.2" height="1" fill="#ffffff" opacity="0.45"/>
<rect x="92.2" y="34.4" width="1" height="261.6" fill="#ffffff" opacity="0.64"/>
<rect x="35.3" y="93.2" width="253.2" height="1" fill="#ffffff" opacity="0.58"/>
<rect x="95" y="34.4" width="1" height="261.6" fill="#ffffff" opacity="0.45"/>
<rect x="35.3" y="96.1" width="253.2" height="1" fill="#ffffff" opacity="0.38"/>
<rect x="100" y="34.4" width="1" height="261.6" fill="#ffffff" opacity="0.68"/>
<rect x="35.3" y="101.3" width="253.2" height="1" fill="#ffffff" opacity="0.50"/>
<rect x="106.5" y="34.4" width="1" height="261.6" fill="#ffffff" opacity="0.64"/>
<rect x="35.3" y="108" width="253.2" height="1" fill="#ffffff" opacity="0.52"/>
<rect x="111.8" y="34.4" width="1" height="261.6" fill="#ffffff" opacity="0.60"/>
<rect x="35.3" y="113.5" width="253.2" height="1" fill="#ffffff" opacity="0.57"/>
<rect x="117.1" y="34.4" width="1" height="261.6" fill="#ffffff" opacity="0.74"/>
<rect x="35.3" y="118.9" width="253.2" height="1" fill="#ffffff" opacity="0.71"/>
<rect x="122.1" y="34.4" width="1" height="261.6" fill="#ffffff" opacity="0.53"/>
<rect x="35.3" y="124.1" width="253.2" height="1" fill="#ffffff" opacity="0.54"/>
<rect x="128.2" y="34.4" width="1" height="261.6" fill="#ffffff" opacity="0.44"/>
<rect x="35.3" y="130.4" width="253.2" height="1" fill="#ffffff" opacity="0.65"/>
<rect x="135" y="34.4" width="1.8" height="261.6" fill="#ffffff" opacity="0.95"/>
<rect x="35.3" y="137.4" width="253.2" height="1.8" fill="#ffffff" opacity="0.95"/>
<rect x="142.3" y="34.4" width="1" height="261.6" fill="#ffffff" opacity="0.39"/>
<rect x="35.3" y="145" width="253.2" height="1" fill="#ffffff" opacity="0.47"/>
<rect x="149.5" y="34.4" width="1.6" height="261.6" fill="#ffffff" opacity="0.95"/>
<rect x="35.3" y="152.4" width="253.2" height="1.6" fill="#ffffff" opacity="0.95"/>
<rect x="158" y="34.4" width="1" height="261.6" fill="#ffffff" opacity="0.69"/>
<rect x="35.3" y="161.2" width="253.2" height="1" fill="#ffffff" opacity="0.36"/>
<rect x="165" y="34.4" width="1" height="261.6" fill="#ffffff" opacity="0.63"/>
<rect x="35.3" y="168.4" width="253.2" height="1" fill="#ffffff" opacity="0.58"/>
<rect x="173.6" y="34.4" width="1.2" height="261.6" fill="#ffffff" opacity="0.95"/>
<rect x="35.3" y="177.3" width="253.2" height="1.2" fill="#ffffff" opacity="0.95"/>
<rect x="181.7" y="34.4" width="1" height="261.6" fill="#ffffff" opacity="0.57"/>
<rect x="35.3" y="185.7" width="253.2" height="1" fill="#ffffff" opacity="0.48"/>
<rect x="189.5" y="34.4" width="1" height="261.6" fill="#ffffff" opacity="0.41"/>
<rect x="35.3" y="193.7" width="253.2" height="1" fill="#ffffff" opacity="0.73"/>
<rect x="198.6" y="34.4" width="1.6" height="261.6" fill="#ffffff" opacity="0.95"/>
<rect x="35.3" y="203.1" width="253.2" height="1.6" fill="#ffffff" opacity="0.95"/>
<rect x="209.1" y="34.4" width="1" height="261.6" fill="#ffffff" opacity="0.66"/>
<rect x="35.3" y="214" width="253.2" height="1" fill="#ffffff" opacity="0.67"/>
<rect x="220.2" y="34.4" width="1.5" height="261.6" fill="#ffffff" opacity="0.95"/>
<rect x="35.3" y="225.5" width="253.2" height="1.5" fill="#ffffff" opacity="0.95"/>
<rect x="232.5" y="34.4" width="1" height="261.6" fill="#ffffff" opacity="0.39"/>
<rect x="35.3" y="238.2" width="253.2" height="1" fill="#ffffff" opacity="0.66"/>
<rect x="242.6" y="34.4" width="1.5" height="261.6" fill="#ffffff" opacity="0.95"/>
<rect x="35.3" y="248.6" width="253.2" height="1.5" fill="#ffffff" opacity="0.95"/>
<rect x="255.5" y="34.4" width="1" height="261.6" fill="#ffffff" opacity="0.44"/>
<rect x="35.3" y="261.9" width="253.2" height="1" fill="#ffffff" opacity="0.43"/>
<rect x="261.5" y="34.4" width="1" height="261.6" fill="#ffffff" opacity="0.56"/>
<rect x="35.3" y="268.1" width="253.2" height="1" fill="#ffffff" opacity="0.59"/>
<rect x="273.7" y="34.4" width="1" height="261.6" fill="#ffffff" opacity="0.40"/>
<rect x="35.3" y="280.7" width="253.2" height="1" fill="#ffffff" opacity="0.66"/>
<path d="M35.3 190.5H288.5M35.3 270.6H288.5M35.3 276.8H288.5M35.3 217.5H288.5M35.3 135.3H288.5M35.3 283.6H288.5M35.3 224.9H288.5M35.3 116.9H288.5M35.3 260H288.5M35.3 227H288.5M35.3 110.3H288.5M35.3 106.3H288.5M35.3 48.5H288.5M35.3 179.1H288.5M35.3 107.4H288.5M35.3 117.4H288.5M35.3 107.3H288.5M35.3 76.6H288.5M35.3 165.9H288.5M35.3 112.3H288.5M35.3 115.4H288.5M35.3 113.5H288.5M35.3 172H288.5M35.3 264.1H288.5M35.3 83.8H288.5M35.3 260.5H288.5M35.3 259.3H288.5M35.3 197.3H288.5M35.3 180.8H288.5M35.3 228.8H288.5M35.3 178.4H288.5M35.3 210.1H288.5M35.3 275.6H288.5M35.3 239.2H288.5M107.5 34.4V296M57.3 34.4V296M273 34.4V296M132.7 34.4V296M236.5 34.4V296M101.1 34.4V296M154.7 34.4V296M134.6 34.4V296M222.3 34.4V296M274.7 34.4V296M167.6 34.4V296M182.4 34.4V296M129.3 34.4V296M100.8 34.4V296M276.2 34.4V296M71 34.4V296M274 34.4V296M204.7 34.4V296M61.6 34.4V296M264.5 34.4V296M68.9 34.4V296M182.2 34.4V296" stroke="#ffffff" stroke-width="0.7" opacity="0.65" fill="none"/>
<rect x="256" y="34.4" width="6" height="261.6" fill="#f7f2f2"/>
<rect x="35.3" y="262.4" width="253.2" height="6.2" fill="#f7f2f2"/>
<line x1="35.3" y1="34.4" x2="44" y2="43.4" stroke="#e8505a" stroke-width="0.7"/>
<line x1="44" y1="43.4" x2="288.5" y2="296" stroke="#e5323b" stroke-width="1.3"/>
<rect x="44" y="43.4" width="12.6" height="13" fill="#e5323b"/>
<rect x="57.8" y="57.7" width="3.6" height="3.8" fill="#e5323b"/>
<rect x="63.8" y="63.8" width="4.5" height="4.6" fill="#e5323b"/>
<rect x="70.5" y="70.8" width="3.6" height="3.7" fill="#e5323b"/>
<rect x="75.7" y="76.2" width="2.2" height="2.2" fill="#e5323b"/>
<rect x="79.7" y="80.2" width="4.2" height="4.3" fill="#e5323b"/>
<rect x="85.6" y="86.4" width="2.1" height="2.2" fill="#e5323b"/>
<rect x="89.1" y="90" width="2.8" height="2.9" fill="#e5323b"/>
<rect x="93.2" y="94.2" width="1.8" height="1.9" fill="#e5323b"/>
<rect x="96.4" y="97.5" width="3.2" height="3.3" fill="#e5323b"/>
<rect x="101.7" y="103" width="4.2" height="4.3" fill="#e5323b"/>
<rect x="108" y="109.5" width="3.4" height="3.5" fill="#e5323b"/>
<rect x="113.3" y="114.9" width="3.4" height="3.5" fill="#e5323b"/>
<rect x="118.5" y="120.4" width="3.2" height="3.3" fill="#e5323b"/>
<rect x="123.7" y="125.7" width="3.9" height="4" fill="#e5323b"/>
<rect x="130" y="132.2" width="4.6" height="4.8" fill="#e5323b"/>
<rect x="136.2" y="138.7" width="6.2" height="6.4" fill="#e5323b"/>
<rect x="143.2" y="145.8" width="6.8" height="7" fill="#e5323b"/>
<rect x="150.7" y="153.6" width="7.5" height="7.7" fill="#e5323b"/>
<rect x="158.8" y="162" width="6.3" height="6.5" fill="#e5323b"/>
<rect x="165.8" y="169.3" width="8" height="8.3" fill="#e5323b"/>
<rect x="174.5" y="178.3" width="7.3" height="7.5" fill="#e5323b"/>
<rect x="182.5" y="186.5" width="7.1" height="7.3" fill="#e5323b"/>
<rect x="190.3" y="194.6" width="8.7" height="9" fill="#e5323b"/>
<rect x="199.8" y="204.3" width="9.5" height="9.8" fill="#e5323b"/>
<rect x="209.9" y="214.8" width="10.7" height="11.1" fill="#e5323b"/>
<rect x="221.3" y="226.6" width="11.3" height="11.7" fill="#e5323b"/>
<rect x="233.3" y="239" width="9.6" height="9.9" fill="#e5323b"/>
<rect x="243.7" y="249.7" width="12" height="12.4" fill="#e5323b"/>
<rect x="262.4" y="269" width="11.5" height="11.9" fill="#e5323b"/>
<rect x="274.6" y="281.6" width="13.6" height="14.1" fill="#e5323b"/>
<rect x="289.5" y="35.4" width="3.6" height="265.6" fill="#dadada"/>
<rect x="35.3" y="296.8" width="257.8" height="3.2" fill="#dadada"/>
<rect x="34.6" y="29.9" width="3.9" height="3.9" fill="#1d4fa8"/>
<rect x="44.8" y="29.9" width="3.9" height="3.9" fill="#1d4fa8"/>
<rect x="55" y="29.9" width="3.9" height="3.9" fill="#1d4fa8"/>
<rect x="65.3" y="29.9" width="3.9" height="3.9" fill="#1d4fa8"/>
<rect x="75.5" y="29.9" width="3.9" height="3.9" fill="#1d4fa8"/>
<rect x="85.7" y="29.9" width="3.9" height="3.9" fill="#1d4fa8"/>
<rect x="95.9" y="29.9" width="3.9" height="3.9" fill="#1d4fa8"/>
<rect x="106.1" y="29.9" width="3.9" height="3.9" fill="#1d4fa8"/>
<rect x="116.4" y="29.9" width="3.9" height="3.9" fill="#1d4fa8"/>
<rect x="126.6" y="29.9" width="3.9" height="3.9" fill="#1d4fa8"/>
<rect x="136.8" y="29.9" width="3.9" height="3.9" fill="#1d4fa8"/>
<rect x="147" y="29.9" width="3.9" height="3.9" fill="#1d4fa8"/>
<rect x="157.2" y="29.9" width="3.9" height="3.9" fill="#1d4fa8"/>
<rect x="167.5" y="29.9" width="3.9" height="3.9" fill="#1d4fa8"/>
<rect x="177.7" y="29.9" width="3.9" height="3.9" fill="#1d4fa8"/>
<rect x="187.9" y="29.9" width="3.9" height="3.9" fill="#1d4fa8"/>
<rect x="198.1" y="29.9" width="3.9" height="3.9" fill="#1d4fa8"/>
<rect x="208.3" y="29.9" width="3.9" height="3.9" fill="#1d4fa8"/>
<rect x="218.6" y="29.9" width="3.9" height="3.9" fill="#1d4fa8"/>
<rect x="228.8" y="29.9" width="3.9" height="3.9" fill="#1d4fa8"/>
<rect x="239" y="29.9" width="3.9" height="3.9" fill="#1d4fa8"/>
<rect x="249.2" y="29.9" width="3.9" height="3.9" fill="#1d4fa8"/>
<rect x="259.4" y="29.9" width="3.9" height="3.9" fill="#1d4fa8"/>
<rect x="269.7" y="29.9" width="3.9" height="3.9" fill="#1d4fa8"/>
<rect x="279.9" y="29.9" width="3.9" height="3.9" fill="#1d4fa8"/>
<rect x="290.1" y="29.9" width="3.9" height="3.9" fill="#1d4fa8"/>
<rect x="30.9" y="33.4" width="4.4" height="3.7" fill="#2b7a37"/>
<rect x="30.9" y="54.6" width="4.4" height="3.7" fill="#2b7a37"/>
<rect x="30.9" y="75.8" width="4.4" height="3.7" fill="#2b7a37"/>
<rect x="30.9" y="97" width="4.4" height="3.7" fill="#2b7a37"/>
<rect x="30.9" y="118.2" width="4.4" height="3.7" fill="#2b7a37"/>
<rect x="30.9" y="139.4" width="4.4" height="3.7" fill="#2b7a37"/>
<rect x="30.9" y="160.6" width="4.4" height="3.7" fill="#2b7a37"/>
<rect x="30.9" y="181.8" width="4.4" height="3.7" fill="#2b7a37"/>
<rect x="30.9" y="203" width="4.4" height="3.7" fill="#2b7a37"/>
<rect x="30.9" y="224.2" width="4.4" height="3.7" fill="#2b7a37"/>
<rect x="30.9" y="245.4" width="4.4" height="3.7" fill="#2b7a37"/>
<rect x="30.9" y="266.6" width="4.4" height="3.7" fill="#2b7a37"/>
<rect x="30.9" y="287.8" width="4.4" height="3.7" fill="#2b7a37"/>
<text x="0.3" y="20" font-size="14.6" font-weight="bold" fill="#1a1a1a">A</text>
<text x="28.8" y="27.5" font-size="12.5" font-weight="bold" fill="#1a1a1a">0</text>
<text x="299.2" y="26.2" font-size="12" font-weight="bold" text-anchor="end" fill="#1a1a1a">2,400 MB</text>
<text x="25.6" y="42" font-size="12.5" font-weight="bold" text-anchor="middle" fill="#1a1a1a" transform="rotate(-90 25.6 42)">0</text>
<text x="26.8" y="272.1" font-size="12.5" font-weight="bold" text-anchor="middle" fill="#1a1a1a" transform="rotate(-90 26.8 272.1)">2,400 MB</text>
<text x="293.4" y="51.4" font-size="11.5" font-weight="bold" fill="#1a1a1a">X</text>
<text x="292.8" y="61.2" font-size="11.5" font-weight="bold" fill="#1a1a1a">36</text>
<text x="41.3" y="308.6" font-size="12.2" fill="#222">X36</text>
<text x="295.2" y="292" font-size="7.2" font-weight="bold" fill="#1a1a1a">1</text>
<text x="274.3" y="308.5" font-size="12.9" font-weight="bold" fill="#1a1a1a">1 Chr</text>
<text x="317.4" y="20" font-size="14.6" font-weight="bold" fill="#1a1a1a">B</text>
<path d="M500.6 94A70.2 70.2 0 0 1 522.5 97.7L519.4 106.9A60.5 60.5 0 0 0 500.5 103.7ZM524.1 98.3A70.2 70.2 0 0 1 543 108.7L537 116.3A60.5 60.5 0 0 0 520.8 107.4ZM544.2 109.7A70.2 70.2 0 0 1 560.6 128.8L552.2 133.7A60.5 60.5 0 0 0 538.1 117.2ZM561.4 130.2A70.2 70.2 0 0 1 567.7 145.7L558.4 148.3A60.5 60.5 0 0 0 553 134.9ZM568.1 147.3A70.2 70.2 0 0 1 570.2 163.4L560.5 163.5A60.5 60.5 0 0 0 558.7 149.6ZM570.2 165A70.2 70.2 0 0 1 567.7 182.8L558.3 180.2A60.5 60.5 0 0 0 560.5 164.9ZM567.2 184.3A70.2 70.2 0 0 1 561.4 198.3L552.9 193.6A60.5 60.5 0 0 0 558 181.6ZM560.6 199.7A70.2 70.2 0 0 1 550.9 212.5L543.9 205.9A60.5 60.5 0 0 0 552.2 194.8ZM549.7 213.7A70.2 70.2 0 0 1 540 221.9L534.5 213.9A60.5 60.5 0 0 0 542.9 206.9ZM538.7 222.8A70.2 70.2 0 0 1 528.9 228.2L524.9 219.4A60.5 60.5 0 0 0 533.3 214.7ZM527.3 228.9A70.2 70.2 0 0 1 513.8 233L511.9 223.5A60.5 60.5 0 0 0 523.6 219.9ZM512.2 233.3A70.2 70.2 0 0 1 502.2 234.4L501.9 224.7A60.5 60.5 0 0 0 510.5 223.8ZM500.5 234.4A70.2 70.2 0 0 1 487.8 233.3L489.5 223.8A60.5 60.5 0 0 0 500.4 224.7ZM486.2 233A70.2 70.2 0 0 1 475.3 229.9L478.7 220.8A60.5 60.5 0 0 0 488.1 223.5ZM473.7 229.3A70.2 70.2 0 0 1 464 224.5L469 216.2A60.5 60.5 0 0 0 477.4 220.3ZM462.6 223.6A70.2 70.2 0 0 1 455.3 218.3L461.5 210.9A60.5 60.5 0 0 0 467.8 215.4ZM454.1 217.3A70.2 70.2 0 0 1 447.5 210.8L454.7 204.3A60.5 60.5 0 0 0 460.4 209.9ZM446.4 209.5A70.2 70.2 0 0 1 440.8 201.9L449 196.7A60.5 60.5 0 0 0 453.8 203.3ZM439.9 200.5A70.2 70.2 0 0 1 436.5 194.1L445.2 189.9A60.5 60.5 0 0 0 448.2 195.5ZM435.8 192.6A70.2 70.2 0 0 1 433 185.2L442.3 182.3A60.5 60.5 0 0 0 444.7 188.6ZM432.5 183.6A70.2 70.2 0 0 1 431 177.3L440.6 175.5A60.5 60.5 0 0 0 441.9 180.9ZM430.7 175.7A70.2 70.2 0 0 1 430.1 170.5L439.7 169.7A60.5 60.5 0 0 0 440.3 174.1ZM430 168.9A70.2 70.2 0 0 1 429.8 161.8L439.5 162.2A60.5 60.5 0 0 0 439.6 168.2ZM429.9 160.2A70.2 70.2 0 0 1 430.4 155.2L440 156.5A60.5 60.5 0 0 0 439.6 160.7ZM430.6 153.6A70.2 70.2 0 0 1 432 146.8L441.4 149.2A60.5 60.5 0 0 0 440.2 155.1ZM432.4 145.2A70.2 70.2 0 0 1 434.3 139.4L443.4 142.8A60.5 60.5 0 0 0 441.8 147.9ZM434.9 137.8A70.2 70.2 0 0 1 437 133.2L445.7 137.5A60.5 60.5 0 0 0 443.9 141.5ZM437.8 131.7A70.2 70.2 0 0 1 440.2 127.4L448.5 132.5A60.5 60.5 0 0 0 446.4 136.2ZM441.1 126A70.2 70.2 0 0 1 443.7 122.2L451.5 128A60.5 60.5 0 0 0 449.2 131.3ZM444.7 120.9A70.2 70.2 0 0 1 447.9 117.1L455.1 123.6A60.5 60.5 0 0 0 452.4 126.9ZM449.1 115.9A70.2 70.2 0 0 1 452.2 112.8L458.8 119.9A60.5 60.5 0 0 0 456.1 122.6ZM453.5 111.6A70.2 70.2 0 0 1 457.2 108.6L463.1 116.3A60.5 60.5 0 0 0 459.9 118.9ZM458.5 107.6A70.2 70.2 0 0 1 462 105.2L467.2 113.3A60.5 60.5 0 0 0 464.2 115.4ZM463.4 104.3A70.2 70.2 0 0 1 466.6 102.4L471.2 111A60.5 60.5 0 0 0 468.5 112.6ZM468.1 101.7A70.2 70.2 0 0 1 473.1 99.4L476.8 108.3A60.5 60.5 0 0 0 472.5 110.3ZM474.6 98.8A70.2 70.2 0 0 1 476.9 97.9L480.1 107.1A60.5 60.5 0 0 0 478.1 107.8ZM478.5 97.4A70.2 70.2 0 0 1 497.1 94.1L497.5 103.8A60.5 60.5 0 0 0 481.5 106.6Z" fill="#e3e3e3"/>
<path d="M501.3 18A146.2 146.2 0 0 1 546.9 25.7L546 28.4A143.4 143.4 0 0 0 501.3 20.8ZM550.2 26.9A146.2 146.2 0 0 1 589.5 48.6L587.7 50.8A143.4 143.4 0 0 0 549.2 29.5ZM592.2 50.7A146.2 146.2 0 0 1 626.3 90.5L623.8 91.9A143.4 143.4 0 0 0 590.4 52.9ZM628 93.5A146.2 146.2 0 0 1 641 125.7L638.3 126.4A143.4 143.4 0 0 0 625.5 94.8ZM641.9 129A146.2 146.2 0 0 1 646.2 162.5L643.4 162.5A143.4 143.4 0 0 0 639.2 129.7ZM646.2 165.9A146.2 146.2 0 0 1 641 202.8L638.3 202.1A143.4 143.4 0 0 0 643.4 165.9ZM640.1 206.2A146.2 146.2 0 0 1 627.8 235.1L625.4 233.8A143.4 143.4 0 0 0 637.4 205.3ZM626.1 238.1A146.2 146.2 0 0 1 606 264.9L604 263A143.4 143.4 0 0 0 623.7 236.7ZM603.6 267.4A146.2 146.2 0 0 1 583.4 284.3L581.8 282A143.4 143.4 0 0 0 601.6 265.4ZM580.5 286.2A146.2 146.2 0 0 1 560.1 297.5L559 294.9A143.4 143.4 0 0 0 579 283.9ZM556.9 298.9A146.2 146.2 0 0 1 528.8 307.5L528.3 304.8A143.4 143.4 0 0 0 555.9 296.3ZM525.5 308.2A146.2 146.2 0 0 1 504.5 310.3L504.4 307.5A143.4 143.4 0 0 0 525 305.4ZM501.1 310.4A146.2 146.2 0 0 1 474.5 308.2L475 305.4A143.4 143.4 0 0 0 501.1 307.6ZM471.2 307.5A146.2 146.2 0 0 1 448.5 301L449.5 298.4A143.4 143.4 0 0 0 471.7 304.8ZM445.3 299.8A146.2 146.2 0 0 1 425.1 289.7L426.5 287.3A143.4 143.4 0 0 0 446.3 297.2ZM422.1 287.9A146.2 146.2 0 0 1 407 277L408.7 274.8A143.4 143.4 0 0 0 423.6 285.6ZM404.3 274.7A146.2 146.2 0 0 1 390.6 261.2L392.7 259.4A143.4 143.4 0 0 0 406.2 272.6ZM388.4 258.6A146.2 146.2 0 0 1 376.7 242.7L379 241.2A143.4 143.4 0 0 0 390.5 256.8ZM374.8 239.8A146.2 146.2 0 0 1 367.7 226.4L370.2 225.2A143.4 143.4 0 0 0 377.2 238.3ZM366.3 223.3A146.2 146.2 0 0 1 360.5 207.9L363.1 207A143.4 143.4 0 0 0 368.8 222.1ZM359.5 204.6A146.2 146.2 0 0 1 356.4 191.5L359.1 191A143.4 143.4 0 0 0 362.2 203.8ZM355.8 188.1A146.2 146.2 0 0 1 354.4 177.4L357.2 177.1A143.4 143.4 0 0 0 358.5 187.7ZM354.1 174A146.2 146.2 0 0 1 353.9 159.3L356.7 159.4A143.4 143.4 0 0 0 356.9 173.8ZM354 155.8A146.2 146.2 0 0 1 355 145.6L357.8 145.9A143.4 143.4 0 0 0 356.8 156ZM355.5 142.1A146.2 146.2 0 0 1 358.3 128L361.1 128.7A143.4 143.4 0 0 0 358.2 142.6ZM359.2 124.7A146.2 146.2 0 0 1 363.3 112.5L365.9 113.5A143.4 143.4 0 0 0 361.9 125.5ZM364.5 109.3A146.2 146.2 0 0 1 368.8 99.6L371.4 100.8A143.4 143.4 0 0 0 367.1 110.3ZM370.4 96.5A146.2 146.2 0 0 1 375.5 87.5L377.9 89A143.4 143.4 0 0 0 372.9 97.8ZM377.4 84.6A146.2 146.2 0 0 1 382.8 76.8L385.1 78.5A143.4 143.4 0 0 0 379.7 86.2ZM384.9 74A146.2 146.2 0 0 1 391.6 66.1L393.6 68A143.4 143.4 0 0 0 387.1 75.8ZM393.9 63.6A146.2 146.2 0 0 1 400.5 57.1L402.4 59.1A143.4 143.4 0 0 0 395.9 65.5ZM403.1 54.7A146.2 146.2 0 0 1 410.8 48.3L412.6 50.5A143.4 143.4 0 0 0 404.9 56.8ZM413.6 46.3A146.2 146.2 0 0 1 420.9 41.3L422.4 43.6A143.4 143.4 0 0 0 415.3 48.5ZM423.8 39.4A146.2 146.2 0 0 1 430.5 35.6L431.9 38A143.4 143.4 0 0 0 425.2 41.8ZM433.6 34A146.2 146.2 0 0 1 443.9 29.2L444.9 31.8A143.4 143.4 0 0 0 434.8 36.5ZM447.1 27.9A146.2 146.2 0 0 1 452 26.1L452.9 28.8A143.4 143.4 0 0 0 448.1 30.5ZM455.2 25A146.2 146.2 0 0 1 493.9 18.1L494 20.9A143.4 143.4 0 0 0 456.1 27.7Z" fill="#f1d565" stroke="#1a1a1a" stroke-width="0.75"/>
<path d="M501.2 24.4A139.8 139.8 0 0 1 544.9 31.8L541.3 42.2A128.8 128.8 0 0 0 501.1 35.4ZM548 32.9A139.8 139.8 0 0 1 585.5 53.6L578.8 62.3A128.8 128.8 0 0 0 544.2 43.2ZM588.1 55.7A139.8 139.8 0 0 1 620.7 93.7L611.2 99.3A128.8 128.8 0 0 0 581.2 64.2ZM622.4 96.6A139.8 139.8 0 0 1 634.9 127.4L624.2 130.3A128.8 128.8 0 0 0 612.7 101.9ZM635.7 130.6A139.8 139.8 0 0 1 639.8 162.6L628.8 162.7A128.8 128.8 0 0 0 625 133.2ZM639.8 165.8A139.8 139.8 0 0 1 634.8 201.1L624.2 198.2A128.8 128.8 0 0 0 628.8 165.7ZM633.9 204.3A139.8 139.8 0 0 1 622.2 232L612.6 226.7A128.8 128.8 0 0 0 623.4 201.2ZM620.6 234.9A139.8 139.8 0 0 1 601.4 260.5L593.4 252.9A128.8 128.8 0 0 0 611.1 229.3ZM599.1 262.8A139.8 139.8 0 0 1 579.7 279L573.5 270A128.8 128.8 0 0 0 591.3 255.1ZM577 280.9A139.8 139.8 0 0 1 557.5 291.6L553 281.6A128.8 128.8 0 0 0 570.9 271.7ZM554.5 293A139.8 139.8 0 0 1 527.6 301.3L525.4 290.5A128.8 128.8 0 0 0 550.2 282.8ZM524.3 301.9A139.8 139.8 0 0 1 504.3 303.9L504 292.9A128.8 128.8 0 0 0 522.4 291ZM501 304A139.8 139.8 0 0 1 475.7 301.9L477.6 291A128.8 128.8 0 0 0 501 293ZM472.4 301.3A139.8 139.8 0 0 1 450.8 295L454.6 284.7A128.8 128.8 0 0 0 474.6 290.5ZM447.7 293.8A139.8 139.8 0 0 1 428.4 284.3L434 274.8A128.8 128.8 0 0 0 451.8 283.6ZM425.6 282.5A139.8 139.8 0 0 1 411 272L418 263.5A128.8 128.8 0 0 0 431.4 273.2ZM408.5 269.9A139.8 139.8 0 0 1 395.4 257L403.6 249.7A128.8 128.8 0 0 0 415.7 261.6ZM393.3 254.5A139.8 139.8 0 0 1 382.1 239.3L391.3 233.4A128.8 128.8 0 0 0 401.7 247.4ZM380.3 236.5A139.8 139.8 0 0 1 373.5 223.7L383.4 219A128.8 128.8 0 0 0 389.7 230.8ZM372.1 220.7A139.8 139.8 0 0 1 366.6 205.9L377.1 202.7A128.8 128.8 0 0 0 382.2 216.2ZM365.6 202.8A139.8 139.8 0 0 1 362.7 190.3L373.5 188.3A128.8 128.8 0 0 0 376.2 199.8ZM362.1 187.1A139.8 139.8 0 0 1 360.8 176.8L371.7 175.8A128.8 128.8 0 0 0 372.9 185.3ZM360.5 173.5A139.8 139.8 0 0 1 360.3 159.5L371.3 159.9A128.8 128.8 0 0 0 371.5 172.8ZM360.4 156.2A139.8 139.8 0 0 1 361.3 146.4L372.3 147.8A128.8 128.8 0 0 0 371.4 156.8ZM361.8 143.1A139.8 139.8 0 0 1 364.5 129.6L375.2 132.3A128.8 128.8 0 0 0 372.7 144.8ZM365.4 126.4A139.8 139.8 0 0 1 369.2 114.7L379.5 118.6A128.8 128.8 0 0 0 376 129.4ZM370.4 111.7A139.8 139.8 0 0 1 374.6 102.4L384.5 107.3A128.8 128.8 0 0 0 380.6 115.8ZM376.1 99.5A139.8 139.8 0 0 1 381 90.9L390.3 96.7A128.8 128.8 0 0 0 385.8 104.6ZM382.7 88.1A139.8 139.8 0 0 1 387.9 80.6L396.8 87.2A128.8 128.8 0 0 0 391.9 94.1ZM389.9 78A139.8 139.8 0 0 1 396.3 70.4L404.5 77.8A128.8 128.8 0 0 0 398.6 84.8ZM398.6 68A139.8 139.8 0 0 1 404.9 61.7L412.4 69.8A128.8 128.8 0 0 0 406.5 75.6ZM407.3 59.5A139.8 139.8 0 0 1 414.8 53.4L421.5 62.1A128.8 128.8 0 0 0 414.6 67.8ZM417.4 51.4A139.8 139.8 0 0 1 424.3 46.7L430.3 55.9A128.8 128.8 0 0 0 423.9 60.3ZM427.1 44.9A139.8 139.8 0 0 1 433.6 41.2L438.8 50.9A128.8 128.8 0 0 0 432.8 54.3ZM436.5 39.7A139.8 139.8 0 0 1 446.3 35.1L450.6 45.3A128.8 128.8 0 0 0 441.5 49.5ZM449.4 33.9A139.8 139.8 0 0 1 454.1 32.2L457.7 42.5A128.8 128.8 0 0 0 453.4 44.1ZM457.2 31.1A139.8 139.8 0 0 1 494.1 24.5L494.6 35.5A128.8 128.8 0 0 0 460.6 41.6Z" fill="#f5c2b2"/>
<path d="M639.6 156A139.8 139.8 0 0 1 639.7 157.8L628.7 158.3A128.8 128.8 0 0 0 628.6 156.7ZM590.2 271A139.8 139.8 0 0 1 588.8 272.2L581.8 263.7A128.8 128.8 0 0 0 583.1 262.6ZM535.6 299.4A139.8 139.8 0 0 1 532.5 300.2L530 289.5A128.8 128.8 0 0 0 532.8 288.8ZM542.3 297.4A139.8 139.8 0 0 1 540.4 298L537.3 287.5A128.8 128.8 0 0 0 539 287ZM538.8 298.5A139.8 139.8 0 0 1 537.2 298.9L534.3 288.3A128.8 128.8 0 0 0 535.7 287.9ZM513.4 303.4A139.8 139.8 0 0 1 510.3 303.6L509.5 292.6A128.8 128.8 0 0 0 512.3 292.4ZM414.8 275A139.8 139.8 0 0 1 412.5 273.2L419.4 264.7A128.8 128.8 0 0 0 421.5 266.3ZM408 269.4A139.8 139.8 0 0 1 405.8 267.5L413.2 259.3A128.8 128.8 0 0 0 415.2 261.1ZM408.4 269.8A139.8 139.8 0 0 1 406.5 268.1L413.9 260A128.8 128.8 0 0 0 415.6 261.5ZM398.7 260.5A139.8 139.8 0 0 1 396.8 258.5L405 251.1A128.8 128.8 0 0 0 406.6 252.9ZM367.9 210.1A139.8 139.8 0 0 1 367.3 208.3L377.8 204.9A128.8 128.8 0 0 0 378.3 206.5ZM362.9 191.3A139.8 139.8 0 0 1 362.7 190.3L373.5 188.3A128.8 128.8 0 0 0 373.7 189.2ZM365 200.6A139.8 139.8 0 0 1 364.2 197.2L374.8 194.6A128.8 128.8 0 0 0 375.6 197.7Z" fill="#e9765f" opacity="0.55"/>
<path d="M507.3 35.6L507.9 24.6M504.1 35.5L504.4 24.5M510.3 35.8L511.1 24.8M539.3 41.5L542.7 31.1M524.8 37.8L526.9 27M516.3 36.4L517.7 25.5M509.6 35.8L510.4 24.8M524.5 37.8L526.6 27M536.5 40.7L539.6 30.1M559.4 49.9L564.5 40.1M545.7 43.8L549.6 33.5M571.2 56.9L577.3 47.7M568.9 55.4L574.8 46.1M561.3 50.9L566.6 41.3M546.5 44.1L550.4 33.8M558.2 49.3L563.2 39.5M546.4 44L550.4 33.8M597.3 79.9L605.7 72.6M601.3 84.6L609.9 77.8M608.2 94.3L617.4 88.3M586.4 68.6L593.7 60.5M623.1 126.2L633.6 123M615.1 106.4L625 101.5M619.7 116.7L629.9 112.6M623 125.9L633.5 122.7M622.7 124.9L633.1 121.6M616.4 109L626.3 104.3M620.7 119.3L631 115.5M627.3 144.8L638.2 143.1M628.2 152.3L639.2 151.2M628.8 160.7L639.7 160.4M627.7 180.8L638.6 182.2M627.4 183.2L638.3 184.8M627.7 181.3L638.6 182.7M627.5 182.7L638.3 184.3M628.4 174.8L639.3 175.7M627.5 182.4L638.4 183.9M627.8 180.3L638.7 181.6M619.2 213L629.4 217.2M622.8 203.1L633.3 206.4M619.8 211.6L630 215.6M606.1 237.3L615.1 243.5M610.8 229.8L620.3 235.4M605.8 237.6L614.9 243.9M593.7 252.6L601.7 260.1M595.2 251L603.3 258.4M595 251.2L603.1 258.6M610.3 230.8L619.7 236.5M559.3 278.5L564.3 288.3M559.3 278.5L564.4 288.3M570.7 271.9L576.7 281.1M570 272.3L576 281.6M564.3 275.8L569.8 285.3M509.3 292.7L510.1 303.6M508.6 292.7L509.3 303.7M483.4 291.9L482 302.8M488.4 292.5L487.4 303.4M478.1 291.1L476.3 302M492 292.7L491.3 303.7M486.5 292.3L485.3 303.2M493.8 292.9L493.3 303.8M461.1 287L457.7 297.5M449.4 282.6L445 292.7M438.3 277.3L433 286.9M418 263.6L411 272M426.4 269.9L420.2 279M404.3 250.4L396.1 257.8M406.7 253L398.8 260.6M397 241.6L388.2 248.2M396.3 240.6L387.4 247.1M385.3 222.8L375.5 227.8M387.2 226.3L377.5 231.6M379.3 209.1L369 213M372.2 180.3L361.3 181.7M371.2 166.4L360.2 166.6M371.3 170.2L360.4 170.7M371.9 151.2L360.9 150.1M372.7 144.5L361.8 142.8M373.6 139.6L362.8 137.5M381.8 113L371.7 108.6M382.4 111.7L372.3 107.2M395.5 88.9L386.6 82.5M395.4 89.1L386.4 82.7M403.1 79.3L394.8 72.1M403.9 78.4L395.7 71.1M407.9 74.2L400 66.5M409.2 72.9L401.4 65.1M419 64L412.1 55.5M415.1 67.3L407.8 59.1M446.2 47.2L441.6 37.2M442.4 49L437.5 39.2M453.4 44.1L449.4 33.9M462.2 41.1L459 30.5M463.1 40.8L459.9 30.3M466.5 39.8L463.6 29.2M486.8 36.1L485.7 25.1M460.8 41.5L457.4 31M461.8 41.2L458.6 30.7M473 38.3L470.7 27.5M477.2 37.4L475.3 26.6M478.5 37.2L476.7 26.4M494.2 35.5L493.7 24.5" stroke="#f0a593" stroke-width="0.55" fill="none"/>
<path d="M516.1 36.4L517.4 25.5M521.8 37.3L523.7 26.4M518.8 36.8L520.4 25.9M504.8 35.5L505.3 24.5M534.6 40.1L537.5 29.5M513 36.1L514.1 25.1M505.9 35.5L506.5 24.5M534.1 40L537.1 29.4M503.7 35.5L504 24.5M518.6 36.7L520.2 25.9M525 37.8L527.1 27M529.5 38.8L532 28.1M549.8 45.4L554.1 35.3M574.8 59.4L581.2 50.4M565 53L570.6 43.5M573.1 58.2L579.3 49.1M545.1 43.5L548.9 33.2M550.4 45.7L554.7 35.6M549 45.1L553.2 34.9M547.2 44.4L551.2 34.1M554.4 47.5L559.1 37.5M577.5 61.3L584.1 52.5M589.3 71.3L596.9 63.4M590.3 72.3L598 64.5M595.3 77.6L603.4 70.2M603.3 87.3L612.1 80.7M606.2 91.3L615.3 85.1M594.7 76.9L602.8 69.4M601.7 85.2L610.4 78.5M583.6 66.2L590.7 57.8M586.9 69.1L594.3 61M583.1 65.8L590.2 57.4M586.5 68.8L593.9 60.6M593.6 75.7L601.5 68.1M586.4 68.7L593.8 60.5M593 75.1L601 67.5M611.1 99L620.6 93.4M597.3 79.8L605.6 72.6M584.8 67.3L592.1 59M586.9 69.1L594.3 61M610.1 97.3L619.5 91.6M616.4 109L626.3 104.3M617.3 110.9L627.3 106.4M615.9 108.1L625.8 103.3M617.6 111.7L627.6 107.2M613.1 102.7L622.8 97.4M623.9 129L634.5 126M623.9 128.9L634.5 125.9M615.8 107.9L625.7 103.1M615.5 107.3L625.4 102.4M628.6 156.7L639.6 156.1M627.7 147.2L638.6 145.7M628.6 156.4L639.5 155.7M626.1 138.1L636.9 135.9M628.6 156.9L639.6 156.3M628.3 152.5L639.2 151.5M627.9 149.3L638.9 148M628.3 175.4L639.3 176.3M627.1 184.9L638 186.7M627.9 179.5L638.8 180.8M625 195.4L635.6 198M625 195.2L635.7 197.8M624.9 195.6L635.6 198.3M628.8 166.3L639.8 166.5M628.6 171.7L639.6 172.4M625.8 191.8L636.5 194.2M627.3 184L638.1 185.7M625.9 191.3L636.7 193.7M627.3 184.1L638.1 185.8M613.4 225.3L623.1 230.5M614.7 222.8L624.5 227.8M622.4 204.4L632.8 207.8M622.8 203.1L633.3 206.4M616.9 218.3L626.9 222.9M604.1 240L613 246.5M605.7 237.8L614.7 244.1M604 240.2L612.9 246.7M602.7 241.9L611.5 248.6M594 252.3L602 259.8M606.9 236L616.1 242.1M597.8 248.1L606.1 255.2M609.1 232.6L618.5 238.4M607.1 235.8L616.2 241.9M599.3 246.3L607.7 253.3M604.2 239.8L613.1 246.3M583.5 262.2L590.7 270.6M586.8 259.4L594.2 267.5M582.2 263.3L589.2 271.8M589.5 256.9L597.1 264.8M590.4 255.9L598.2 263.7M586 260.1L593.4 268.3M578 266.7L584.6 275.5M582.7 262.9L589.8 271.4M585.4 260.6L592.7 268.8M587.1 259.1L594.5 267.2M565.6 275.1L571.2 284.5M567 274.2L572.7 283.6M555.2 280.6L559.9 290.5M549.1 283.3L553.3 293.4M543.7 285.4L547.4 295.7M541.3 286.2L544.9 296.6M525.8 290.4L528 301.2M544.9 284.9L548.8 295.2M542 285.9L545.6 296.3M540.6 286.4L544.1 296.9M534.8 288.2L537.7 298.8M507.5 292.8L508.1 303.8M510.6 292.6L511.5 303.5M504.7 292.9L505.1 303.9M514.1 292.2L515.3 303.2M495 292.9L494.6 303.9M499.1 293L499.1 304M473.4 290.2L471.1 301M461 287L457.7 297.4M464.2 287.9L461.1 298.5M465.2 288.2L462.2 298.8M456.7 285.5L453 295.9M474.2 290.4L472 301.2M465.5 288.3L462.6 298.9M470.3 289.5L467.8 300.2M439.1 277.7L433.9 287.4M435.8 275.8L430.3 285.4M451.3 283.5L447.2 293.6M442.9 279.6L438 289.5M446.3 281.3L441.7 291.3M445.5 280.9L440.9 290.9M436.7 276.4L431.3 286M419.3 264.6L412.4 273.1M426.3 269.8L420 278.8M427.6 270.7L421.4 279.8M428 271L421.8 280.1M424.4 268.5L418 277.4M406.9 253.2L398.9 260.8M412.1 258.3L404.6 266.4M404.5 250.6L396.3 258M409.8 256.2L402.1 264M403.9 250L395.7 257.3M407.6 254L399.7 261.6M399 244.1L390.3 250.9M395.7 239.8L386.8 246.2M399.4 244.7L390.8 251.5M392.6 235.2L383.4 241.3M393.8 237.1L384.7 243.3M386.9 225.8L377.2 231M388.9 229.3L379.4 234.9M379.5 209.7L369.2 213.5M380.9 213.2L370.7 217.4M377.2 203.1L366.7 206.4M374.3 192.4L363.6 194.8M375.8 198.3L365.2 201.2M375.8 198.5L365.2 201.4M375 195.3L364.3 198M374.4 192.9L363.7 195.3M372.9 185L362 186.8M372.1 179.1L361.1 180.4M372.1 179.2L361.1 180.4M371.2 167.3L360.2 167.6M371.2 163.5L360.2 163.5M371.2 167.7L360.3 168M371.4 171.9L360.5 172.6M371.3 170.3L360.4 170.8M372.1 148.8L361.2 147.5M372.1 148.7L361.2 147.4M372.1 148.6L361.2 147.3M373 142.5L362.2 140.6M374.4 135.9L363.6 133.5M372.9 143.4L362 141.6M373 142.7L362.2 140.9M374.2 136.6L363.4 134.3M377.4 124.6L367 121.2M376.2 128.5L365.7 125.5M383.7 108.9L373.7 104.2M383.3 109.8L373.3 105.1M382.6 111.2L372.6 106.6M388.6 99.6L379.1 94.1M387.5 101.6L377.8 96.2M389.4 98.2L380 92.6M386.7 103L377 97.8M388.5 99.7L379 94.2M396.5 87.5L387.7 80.9M396.4 87.7L387.5 81.2M403.4 79L395.2 71.7M402.8 79.7L394.4 72.5M399.4 83.8L390.8 77M412 70.2L404.4 62.2M410.5 71.5L402.9 63.6M410 72.1L402.3 64.2M415.7 66.8L408.5 58.5M418.3 64.6L411.3 56.1M417.5 65.3L410.4 56.9M430.1 56L424.1 46.8M424.7 59.7L418.3 50.8M429.6 56.4L423.6 47.2M437.5 51.6L432.1 42M434.5 53.3L428.9 43.8M434.3 53.4L428.7 43.9M443.1 48.6L438.3 38.8M443.2 48.6L438.3 38.7M443.7 48.3L438.9 38.4M454.4 43.8L450.5 33.5M490.3 35.8L489.5 24.8M488.7 35.9L487.7 24.9M484.6 36.3L483.3 25.4M461.8 41.2L458.5 30.7M488.3 35.9L487.3 25M463.2 40.8L460 30.2M483 36.5L481.6 25.6M473.9 38.1L471.7 27.3" stroke="#f3b7a8" stroke-width="0.55" fill="none"/>
<path d="M517.3 36.6L518.8 25.7M512.9 36L514 25.1M628.3 152.6L639.2 151.6M626 137.6L636.8 135.3M618.9 213.7L629.1 217.9M618 215.7L628.1 220.1M615.4 221.4L625.3 226.3M614.2 223.8L623.9 228.9M621.5 207L631.9 210.6M580.3 264.9L587.1 273.5M589.9 256.4L597.6 264.3M590.2 256.2L597.9 264M555 280.7L559.7 290.6M568.5 273.3L574.4 282.6M544.2 285.2L547.9 295.5M548 283.7L552.1 293.9M526.5 290.2L528.7 301M513.1 292.3L514.3 303.3M509.8 292.6L510.6 303.6M430 272.3L424 281.5M427.5 270.6L421.3 279.7M426.3 269.8L420 278.8M384.5 221.2L374.6 226.1M379.7 210.2L369.4 214.1M381.7 215.1L371.6 219.4M378.9 120.3L368.6 116.6M462 41.1L458.8 30.6" stroke="#e66a55" stroke-width="0.55" fill="none"/>
<path d="M503 35.4L503.3 24.4M513.4 36.1L514.5 25.2M573.7 58.6L580 49.5M567.3 54.4L573 45M558.4 49.4L563.4 39.6M564 52.4L569.4 42.9M573 58.1L579.3 49M557.3 48.8L562.2 39M599.8 82.7L608.3 75.8M583.1 65.8L590.2 57.4M605.7 90.7L614.8 84.4M585.5 67.9L592.8 59.7M590.3 72.4L598.1 64.6M619.7 116.5L629.9 112.5M622.6 124.7L633.1 121.4M623.7 128.4L634.3 125.4M627.7 147.2L638.6 145.8M628.6 156.2L639.5 155.5M628.8 161.1L639.8 160.8M626.1 190.6L636.8 192.8M618.6 214.5L628.7 218.8M616.4 219.3L626.4 224M622.1 205.2L632.5 208.7M612.8 226.4L622.4 231.8M555.2 280.6L559.9 290.5M553.3 281.5L557.8 291.5M535.5 288L538.6 298.6M543.4 285.5L547.1 295.8M546.7 284.2L550.7 294.5M514.5 292.2L515.8 303.1M521.7 291.2L523.5 302M500.9 293L501 304M499.4 293L499.4 304M494.7 292.9L494.3 303.9M496.1 292.9L495.8 303.9M484.9 292.1L483.6 303M495 292.9L494.6 303.9M455.1 284.9L451.2 295.2M458.2 286L454.6 296.4M470.3 289.5L467.8 300.2M442.3 279.4L437.4 289.2M442.6 279.5L437.7 289.3M449.6 282.7L445.3 292.9M406.5 252.8L398.5 260.3M412 258.2L404.4 266.2M398 242.9L389.3 249.6M397.6 242.4L388.9 249.1M398.7 243.7L390 250.5M384.7 221.5L374.8 226.4M389.1 229.7L379.6 235.3M384.8 221.8L375 226.8M377.9 205.1L367.4 208.6M374.3 192.5L363.6 194.9M374.6 193.8L363.9 196.3M372.6 183.5L361.8 185.1M371.3 169L360.3 169.4M371.8 151.4L360.9 150.4M377 126L366.5 122.7M377.4 124.8L366.9 121.5M377.9 123.3L367.4 119.8M377.2 125.3L366.7 121.9M395.8 88.5L386.9 82M426.5 58.4L420.3 49.4M437.4 51.6L432.1 42M444 48.2L439.2 38.3M491.6 35.7L490.9 24.7M474.3 38L472.1 27.2" stroke="#ec8c78" stroke-width="0.55" fill="none"/>
<path d="M628.6 156.8L639.6 156.1M628.6 157.5L639.6 156.9M625.1 133.6L635.8 131M581.8 263.7L588.7 272.2M549.3 283.2L553.6 293.3M546.4 284.3L550.4 294.6M509.3 292.7L510.1 303.6M377.4 203.6L366.9 207M377.8 204.8L367.3 208.2" stroke="#dd4b3a" stroke-width="0.55" fill="none"/>
<path d="M539 42.3A128 128 0 0 1 540.3 42.7L537 52.7A117.5 117.5 0 0 0 535.8 52.3ZM540 42.6A128 128 0 0 1 541.2 43L537.8 53A117.5 117.5 0 0 0 536.7 52.6ZM543.8 43.9A128 128 0 0 1 545 44.4L541.3 54.2A117.5 117.5 0 0 0 540.2 53.8ZM544.8 44.3A128 128 0 0 1 546 44.7L542.2 54.5A117.5 117.5 0 0 0 541.1 54.1ZM545.7 44.6A128 128 0 0 1 546.9 45.1L543 54.9A117.5 117.5 0 0 0 542 54.4ZM612.9 104A128 128 0 0 1 613.5 105.1L604.2 109.9A117.5 117.5 0 0 0 603.7 108.9ZM613.4 104.9A128 128 0 0 1 614 106L604.7 110.8A117.5 117.5 0 0 0 604.1 109.7ZM624.7 192.9A128 128 0 0 1 624.4 194.2L614.2 191.7A117.5 117.5 0 0 0 614.5 190.6ZM622.7 200.8A128 128 0 0 1 622.3 202L612.2 198.9A117.5 117.5 0 0 0 612.6 197.8ZM621.7 203.7A128 128 0 0 1 621.3 205L611.4 201.6A117.5 117.5 0 0 0 611.8 200.5ZM505.1 292.1A128 128 0 0 1 503.8 292.1L503.5 281.6A117.5 117.5 0 0 0 504.7 281.6ZM452.2 283A128 128 0 0 1 451 282.5L455 272.8A117.5 117.5 0 0 0 456.1 273.2ZM392.5 94.6A128 128 0 0 1 393.3 93.5L402 99.3A117.5 117.5 0 0 0 401.4 100.4Z" fill="#c4e2f3"/>
<path d="M524.2 38.5A128 128 0 0 1 525.5 38.8L523.4 49.1A117.5 117.5 0 0 0 522.3 48.8ZM559.5 50.9A128 128 0 0 1 560.6 51.5L555.7 60.7A117.5 117.5 0 0 0 554.6 60.2ZM612 102.2A128 128 0 0 1 612.6 103.3L603.3 108.3A117.5 117.5 0 0 0 602.8 107.3ZM612.5 103.1A128 128 0 0 1 613.1 104.2L603.8 109.1A117.5 117.5 0 0 0 603.2 108.1ZM624 195.9A128 128 0 0 1 623.7 197.2L613.5 194.5A117.5 117.5 0 0 0 613.8 193.3ZM623.7 196.9A128 128 0 0 1 623.4 198.2L613.3 195.4A117.5 117.5 0 0 0 613.6 194.2ZM526.4 289.5A128 128 0 0 1 525.1 289.7L523.1 279.4A117.5 117.5 0 0 0 524.2 279.2ZM522.4 290.2A128 128 0 0 1 521.1 290.4L519.4 280.1A117.5 117.5 0 0 0 520.6 279.9ZM506.1 292.1A128 128 0 0 1 504.9 292.1L504.5 281.6A117.5 117.5 0 0 0 505.6 281.6ZM456 284.4A128 128 0 0 1 454.8 283.9L458.5 274.1A117.5 117.5 0 0 0 459.6 274.5ZM449.3 281.8A128 128 0 0 1 448.1 281.2L452.4 271.6A117.5 117.5 0 0 0 453.5 272.1ZM447.4 280.9A128 128 0 0 1 446.2 280.4L450.7 270.8A117.5 117.5 0 0 0 451.8 271.3ZM381 211.3A128 128 0 0 1 380.5 210.1L390.3 206.3A117.5 117.5 0 0 0 390.7 207.4ZM372.1 168.6A128 128 0 0 1 372 167.3L382.5 167A117.5 117.5 0 0 0 382.6 168.2Z" fill="#b2d5ec"/>
<path d="M537.1 41.7A128 128 0 0 1 538.3 42.1L535.2 52.1A117.5 117.5 0 0 0 534 51.7ZM591.2 74.4A128 128 0 0 1 592.1 75.3L584.5 82.6A117.5 117.5 0 0 0 583.7 81.8ZM610 98.7A128 128 0 0 1 610.6 99.8L601.5 105.1A117.5 117.5 0 0 0 600.9 104ZM598.3 246.2A128 128 0 0 1 597.5 247.2L589.5 240.4A117.5 117.5 0 0 0 590.2 239.5ZM390 229.6A128 128 0 0 1 389.3 228.5L398.4 223.2A117.5 117.5 0 0 0 399 224.2ZM387 224.3A128 128 0 0 1 386.4 223.1L395.7 218.3A117.5 117.5 0 0 0 396.2 219.3ZM387.4 103.3A128 128 0 0 1 388 102.2L397.2 107.3A117.5 117.5 0 0 0 396.7 108.3ZM387.9 102.4A128 128 0 0 1 388.5 101.3L397.7 106.5A117.5 117.5 0 0 0 397.1 107.5ZM388.9 100.7A128 128 0 0 1 389.5 99.6L398.6 104.9A117.5 117.5 0 0 0 398 105.9ZM453.5 44.9A128 128 0 0 1 454.9 44.4L458.6 54.3A117.5 117.5 0 0 0 457.3 54.7ZM454.6 44.5A128 128 0 0 1 455.9 44L459.5 53.9A117.5 117.5 0 0 0 458.3 54.3ZM473.4 39A128 128 0 0 1 474.7 38.7L476.7 49A117.5 117.5 0 0 0 475.6 49.3Z" fill="#a0c9e5"/>
<path d="M505.1 36.3A128 128 0 0 1 506.3 36.4L505.8 46.8A117.5 117.5 0 0 0 504.6 46.8ZM517.2 37.4A128 128 0 0 1 518.5 37.5L517 47.9A117.5 117.5 0 0 0 515.8 47.8ZM538.1 42A128 128 0 0 1 539.3 42.4L536.1 52.4A117.5 117.5 0 0 0 534.9 52ZM546.6 45A128 128 0 0 1 547.8 45.5L543.9 55.2A117.5 117.5 0 0 0 542.8 54.8ZM575 60.5A128 128 0 0 1 576 61.2L569.8 69.7A117.5 117.5 0 0 0 568.8 69ZM607.2 94.3A128 128 0 0 1 607.9 95.4L599.1 101.1A117.5 117.5 0 0 0 598.4 100.1ZM608.3 96A128 128 0 0 1 609 97.1L600.1 102.6A117.5 117.5 0 0 0 599.5 101.6ZM608.9 96.9A128 128 0 0 1 609.6 98L600.6 103.4A117.5 117.5 0 0 0 600 102.4ZM609.4 97.8A128 128 0 0 1 610.1 98.9L601.1 104.3A117.5 117.5 0 0 0 600.4 103.2ZM618.5 115.9A128 128 0 0 1 619 117.1L609.3 121A117.5 117.5 0 0 0 608.8 119.9ZM619.7 118.8A128 128 0 0 1 620.1 120L610.3 123.6A117.5 117.5 0 0 0 609.8 122.5ZM627 179.9A128 128 0 0 1 626.9 181.1L616.5 179.7A117.5 117.5 0 0 0 616.6 178.6ZM626.1 185.9A128 128 0 0 1 625.9 187.2L615.6 185.3A117.5 117.5 0 0 0 615.8 184.1ZM625.4 189.9A128 128 0 0 1 625.1 191.2L614.9 189A117.5 117.5 0 0 0 615.1 187.8ZM624.3 194.9A128 128 0 0 1 623.9 196.2L613.8 193.6A117.5 117.5 0 0 0 614.1 192.4ZM622.4 201.8A128 128 0 0 1 622 203L612 199.8A117.5 117.5 0 0 0 612.3 198.7ZM595 250A128 128 0 0 1 594.1 251L586.4 243.9A117.5 117.5 0 0 0 587.2 243ZM562.8 275.8A128 128 0 0 1 561.6 276.4L556.6 267.2A117.5 117.5 0 0 0 557.6 266.6ZM561 276.7A128 128 0 0 1 559.8 277.3L554.9 268.1A117.5 117.5 0 0 0 556 267.5ZM535.4 287.2A128 128 0 0 1 534.1 287.6L531.3 277.4A117.5 117.5 0 0 0 532.5 277.1ZM534.4 287.5A128 128 0 0 1 533.2 287.8L530.4 277.7A117.5 117.5 0 0 0 531.6 277.4ZM528.4 289A128 128 0 0 1 527.1 289.3L524.9 279A117.5 117.5 0 0 0 526.1 278.8ZM507.2 292A128 128 0 0 1 505.9 292.1L505.4 281.6A117.5 117.5 0 0 0 506.6 281.5ZM486.9 291.5A128 128 0 0 1 485.6 291.4L486.8 281A117.5 117.5 0 0 0 488 281.1ZM458.9 285.4A128 128 0 0 1 457.7 285L461.2 275.1A117.5 117.5 0 0 0 462.3 275.5ZM436.3 275.2A128 128 0 0 1 435.2 274.6L440.5 265.5A117.5 117.5 0 0 0 441.5 266.1ZM421.9 265.6A128 128 0 0 1 420.8 264.8L427.3 256.5A117.5 117.5 0 0 0 428.3 257.3ZM419.4 263.7A128 128 0 0 1 418.4 262.8L425.1 254.8A117.5 117.5 0 0 0 426 255.5ZM378.2 203.5A128 128 0 0 1 377.8 202.3L387.8 199.2A117.5 117.5 0 0 0 388.2 200.3ZM372.2 157A128 128 0 0 1 372.3 155.6L382.8 156.3A117.5 117.5 0 0 0 382.7 157.6ZM379.9 120A128 128 0 0 1 380.3 118.8L390.1 122.5A117.5 117.5 0 0 0 389.7 123.6ZM410.6 72.6A128 128 0 0 1 411.5 71.7L418.8 79.3A117.5 117.5 0 0 0 417.9 80.1ZM421 63.5A128 128 0 0 1 422.1 62.7L428.4 71A117.5 117.5 0 0 0 427.5 71.8ZM438.1 52.2A128 128 0 0 1 439.3 51.5L444.3 60.8A117.5 117.5 0 0 0 443.1 61.4ZM447.7 47.4A128 128 0 0 1 449 46.8L453.1 56.4A117.5 117.5 0 0 0 452 57ZM455.7 44.1A128 128 0 0 1 457 43.6L460.5 53.5A117.5 117.5 0 0 0 459.3 54ZM456.8 43.7A128 128 0 0 1 458.1 43.3L461.5 53.2A117.5 117.5 0 0 0 460.3 53.6ZM482.4 37.4A128 128 0 0 1 483.7 37.2L485 47.7A117.5 117.5 0 0 0 483.8 47.8Z" fill="#8ebcdd"/>
<path d="M512.2 36.8A128 128 0 0 1 513.4 36.9L512.3 47.3A117.5 117.5 0 0 0 511.2 47.2ZM529.2 39.6A128 128 0 0 1 530.5 39.9L528 50.1A117.5 117.5 0 0 0 526.8 49.8ZM535.1 41.1A128 128 0 0 1 536.4 41.5L533.4 51.5A117.5 117.5 0 0 0 532.3 51.2ZM536.1 41.4A128 128 0 0 1 537.3 41.8L534.3 51.8A117.5 117.5 0 0 0 533.1 51.5ZM547.6 45.4A128 128 0 0 1 548.8 45.9L544.8 55.6A117.5 117.5 0 0 0 543.7 55.1ZM600.7 85.2A128 128 0 0 1 601.5 86.2L593.1 92.6A117.5 117.5 0 0 0 592.4 91.6ZM606.1 92.6A128 128 0 0 1 606.8 93.7L598.1 99.5A117.5 117.5 0 0 0 597.4 98.5ZM620.4 120.7A128 128 0 0 1 620.8 121.9L610.9 125.3A117.5 117.5 0 0 0 610.5 124.2ZM621 122.6A128 128 0 0 1 621.5 123.8L611.5 127.1A117.5 117.5 0 0 0 611.1 126ZM621.7 124.5A128 128 0 0 1 622.1 125.7L612.1 128.9A117.5 117.5 0 0 0 611.7 127.8ZM626.5 183.9A128 128 0 0 1 626.3 185.2L615.9 183.5A117.5 117.5 0 0 0 616.1 182.3ZM624.5 193.9A128 128 0 0 1 624.2 195.2L614 192.6A117.5 117.5 0 0 0 614.3 191.5ZM594.3 250.8A128 128 0 0 1 593.4 251.7L585.7 244.5A117.5 117.5 0 0 0 586.5 243.7ZM586.2 258.8A128 128 0 0 1 585.3 259.7L578.3 251.8A117.5 117.5 0 0 0 579.2 251ZM585.5 259.5A128 128 0 0 1 584.5 260.4L577.6 252.5A117.5 117.5 0 0 0 578.5 251.7ZM579 264.9A128 128 0 0 1 578 265.7L571.6 257.4A117.5 117.5 0 0 0 572.5 256.6ZM578.2 265.5A128 128 0 0 1 577.2 266.3L570.8 258A117.5 117.5 0 0 0 571.8 257.2ZM577.4 266.2A128 128 0 0 1 576.3 267L570.1 258.5A117.5 117.5 0 0 0 571 257.8ZM576.5 266.8A128 128 0 0 1 575.5 267.6L569.3 259.1A117.5 117.5 0 0 0 570.2 258.4ZM545.2 284A128 128 0 0 1 544 284.4L540.4 274.5A117.5 117.5 0 0 0 541.5 274.1ZM544.2 284.3A128 128 0 0 1 543 284.8L539.5 274.9A117.5 117.5 0 0 0 540.6 274.5ZM537.4 286.6A128 128 0 0 1 536.1 287L533.2 276.9A117.5 117.5 0 0 0 534.3 276.6ZM533.4 287.8A128 128 0 0 1 532.2 288.1L529.5 277.9A117.5 117.5 0 0 0 530.7 277.6ZM531.4 288.3A128 128 0 0 1 530.2 288.6L527.7 278.4A117.5 117.5 0 0 0 528.8 278.1ZM530.4 288.5A128 128 0 0 1 529.1 288.8L526.8 278.6A117.5 117.5 0 0 0 527.9 278.3ZM529.4 288.8A128 128 0 0 1 528.1 289.1L525.8 278.8A117.5 117.5 0 0 0 527 278.6ZM527.4 289.2A128 128 0 0 1 526.1 289.5L524 279.2A117.5 117.5 0 0 0 525.1 279ZM521.4 290.4A128 128 0 0 1 520.1 290.6L518.5 280.2A117.5 117.5 0 0 0 519.6 280ZM518.4 290.9A128 128 0 0 1 517.1 291.1L515.7 280.6A117.5 117.5 0 0 0 516.9 280.5ZM451.3 282.6A128 128 0 0 1 450.1 282.1L454.2 272.4A117.5 117.5 0 0 0 455.3 272.8ZM450.3 282.2A128 128 0 0 1 449.1 281.6L453.3 272A117.5 117.5 0 0 0 454.4 272.5ZM425.1 268A128 128 0 0 1 424.1 267.3L430.3 258.8A117.5 117.5 0 0 0 431.3 259.5ZM420.2 264.3A128 128 0 0 1 419.2 263.5L425.9 255.4A117.5 117.5 0 0 0 426.8 256.1ZM379.9 208.4A128 128 0 0 1 379.4 207.2L389.3 203.7A117.5 117.5 0 0 0 389.7 204.8ZM378.5 204.5A128 128 0 0 1 378.1 203.3L388.1 200.1A117.5 117.5 0 0 0 388.5 201.2ZM372.3 154.8A128 128 0 0 1 372.5 153.4L382.9 154.3A117.5 117.5 0 0 0 382.8 155.5ZM386.5 105.1A128 128 0 0 1 387.1 103.9L396.3 108.9A117.5 117.5 0 0 0 395.8 109.9ZM389.9 98.9A128 128 0 0 1 390.6 97.8L399.5 103.3A117.5 117.5 0 0 0 398.9 104.3ZM401 83A128 128 0 0 1 401.9 82L409.9 88.8A117.5 117.5 0 0 0 409.2 89.7ZM401.7 82.2A128 128 0 0 1 402.5 81.3L410.5 88.1A117.5 117.5 0 0 0 409.7 89ZM402.3 81.5A128 128 0 0 1 403.2 80.5L411.1 87.4A117.5 117.5 0 0 0 410.3 88.3ZM412.1 71.2A128 128 0 0 1 413 70.3L420.1 78A117.5 117.5 0 0 0 419.3 78.8ZM444.7 48.8A128 128 0 0 1 445.9 48.2L450.4 57.7A117.5 117.5 0 0 0 449.2 58.2ZM449.7 46.5A128 128 0 0 1 451 46L455 55.7A117.5 117.5 0 0 0 453.8 56.1ZM485.4 37A128 128 0 0 1 486.7 36.9L487.8 47.3A117.5 117.5 0 0 0 486.6 47.5Z" fill="#7cafd6"/>
<path d="M504 36.3A128 128 0 0 1 505.3 36.3L504.9 46.8A117.5 117.5 0 0 0 503.7 46.8ZM511.1 36.7A128 128 0 0 1 512.4 36.8L511.4 47.3A117.5 117.5 0 0 0 510.2 47.1ZM513.2 36.9A128 128 0 0 1 514.5 37L513.3 47.5A117.5 117.5 0 0 0 512.1 47.3ZM514.2 37A128 128 0 0 1 515.5 37.1L514.2 47.6A117.5 117.5 0 0 0 513 47.4ZM515.2 37.1A128 128 0 0 1 516.5 37.3L515.1 47.7A117.5 117.5 0 0 0 514 47.5ZM516.2 37.2A128 128 0 0 1 517.5 37.4L516 47.8A117.5 117.5 0 0 0 514.9 47.6ZM518.2 37.5A128 128 0 0 1 519.5 37.7L517.9 48.1A117.5 117.5 0 0 0 516.7 47.9ZM519.2 37.7A128 128 0 0 1 520.5 37.9L518.8 48.2A117.5 117.5 0 0 0 517.7 48ZM526.2 38.9A128 128 0 0 1 527.5 39.2L525.2 49.4A117.5 117.5 0 0 0 524.1 49.2ZM527.2 39.1A128 128 0 0 1 528.5 39.4L526.2 49.6A117.5 117.5 0 0 0 525 49.4ZM528.2 39.4A128 128 0 0 1 529.5 39.6L527.1 49.9A117.5 117.5 0 0 0 525.9 49.6ZM531.2 40.1A128 128 0 0 1 532.4 40.4L529.8 50.5A117.5 117.5 0 0 0 528.6 50.2ZM548.5 45.8A128 128 0 0 1 549.7 46.2L545.6 55.9A117.5 117.5 0 0 0 544.5 55.5ZM551.3 46.9A128 128 0 0 1 552.5 47.5L548.2 57A117.5 117.5 0 0 0 547.1 56.6ZM563.9 53.3A128 128 0 0 1 565 54L559.7 63A117.5 117.5 0 0 0 558.7 62.4ZM564.8 53.8A128 128 0 0 1 565.9 54.5L560.5 63.5A117.5 117.5 0 0 0 559.5 62.9ZM565.7 54.3A128 128 0 0 1 566.8 55L561.3 64A117.5 117.5 0 0 0 560.3 63.4ZM566.6 54.9A128 128 0 0 1 567.6 55.5L562.1 64.4A117.5 117.5 0 0 0 561.1 63.8ZM592.6 75.9A128 128 0 0 1 593.5 76.8L585.8 84A117.5 117.5 0 0 0 585 83.1ZM599.4 83.6A128 128 0 0 1 600.2 84.6L592 91.1A117.5 117.5 0 0 0 591.2 90.2ZM603.2 88.4A128 128 0 0 1 603.9 89.5L595.4 95.6A117.5 117.5 0 0 0 594.7 94.6ZM604.9 90.9A128 128 0 0 1 605.7 92L597 97.9A117.5 117.5 0 0 0 596.3 96.9ZM605.5 91.8A128 128 0 0 1 606.3 92.8L597.5 98.7A117.5 117.5 0 0 0 596.9 97.7ZM606.7 93.5A128 128 0 0 1 607.4 94.5L598.6 100.3A117.5 117.5 0 0 0 597.9 99.3ZM607.8 95.2A128 128 0 0 1 608.5 96.3L599.6 101.8A117.5 117.5 0 0 0 599 100.8ZM622 125.5A128 128 0 0 1 622.4 126.7L612.3 129.8A117.5 117.5 0 0 0 612 128.7ZM622.3 126.4A128 128 0 0 1 622.7 127.7L612.6 130.7A117.5 117.5 0 0 0 612.3 129.5ZM624.4 134.3A128 128 0 0 1 624.7 135.5L614.5 137.9A117.5 117.5 0 0 0 614.2 136.7ZM624.7 135.3A128 128 0 0 1 625 136.5L614.7 138.8A117.5 117.5 0 0 0 614.5 137.6ZM627.4 151.4A128 128 0 0 1 627.5 152.6L617 153.6A117.5 117.5 0 0 0 616.9 152.4ZM622.1 202.8A128 128 0 0 1 621.7 204L611.7 200.7A117.5 117.5 0 0 0 612 199.6ZM615.3 219.8A128 128 0 0 1 614.7 221L605.3 216.3A117.5 117.5 0 0 0 605.8 215.3ZM608.9 231.4A128 128 0 0 1 608.3 232.5L599.4 226.9A117.5 117.5 0 0 0 600 225.9ZM605 237.3A128 128 0 0 1 604.3 238.4L595.8 232.3A117.5 117.5 0 0 0 596.4 231.3ZM604.5 238.2A128 128 0 0 1 603.7 239.2L595.2 233.1A117.5 117.5 0 0 0 595.9 232.1ZM603.3 239.8A128 128 0 0 1 602.5 240.8L594.1 234.6A117.5 117.5 0 0 0 594.8 233.6ZM590.8 254.4A128 128 0 0 1 589.9 255.3L582.5 247.9A117.5 117.5 0 0 0 583.4 247ZM590.1 255.2A128 128 0 0 1 589.1 256.1L581.8 248.5A117.5 117.5 0 0 0 582.7 247.7ZM587 258.1A128 128 0 0 1 586.1 259L579 251.2A117.5 117.5 0 0 0 579.9 250.4ZM583.1 261.6A128 128 0 0 1 582.1 262.4L575.4 254.4A117.5 117.5 0 0 0 576.3 253.6ZM581.5 262.9A128 128 0 0 1 580.5 263.7L573.9 255.6A117.5 117.5 0 0 0 574.8 254.8ZM580.7 263.6A128 128 0 0 1 579.6 264.4L573.1 256.2A117.5 117.5 0 0 0 574.1 255.4ZM579.9 264.2A128 128 0 0 1 578.8 265.1L572.4 256.8A117.5 117.5 0 0 0 573.3 256ZM575.7 267.4A128 128 0 0 1 574.6 268.2L568.5 259.7A117.5 117.5 0 0 0 569.5 259ZM574.8 268A128 128 0 0 1 573.8 268.8L567.7 260.2A117.5 117.5 0 0 0 568.7 259.5ZM574 268.7A128 128 0 0 1 572.9 269.4L566.9 260.8A117.5 117.5 0 0 0 567.9 260.1ZM568.9 272.1A128 128 0 0 1 567.8 272.8L562.3 263.9A117.5 117.5 0 0 0 563.3 263.2ZM566.3 273.7A128 128 0 0 1 565.2 274.4L559.8 265.3A117.5 117.5 0 0 0 560.9 264.7ZM561.9 276.2A128 128 0 0 1 560.7 276.9L555.8 267.6A117.5 117.5 0 0 0 556.8 267.1ZM560.1 277.2A128 128 0 0 1 558.9 277.8L554.1 268.5A117.5 117.5 0 0 0 555.2 268ZM558.3 278.2A128 128 0 0 1 557.1 278.7L552.4 269.4A117.5 117.5 0 0 0 553.5 268.8ZM556.4 279.1A128 128 0 0 1 555.3 279.6L550.7 270.2A117.5 117.5 0 0 0 551.8 269.7ZM550 282A128 128 0 0 1 548.8 282.5L544.8 272.8A117.5 117.5 0 0 0 545.9 272.4ZM547.1 283.2A128 128 0 0 1 545.9 283.7L542.1 273.9A117.5 117.5 0 0 0 543.3 273.4ZM546.2 283.6A128 128 0 0 1 544.9 284.1L541.3 274.2A117.5 117.5 0 0 0 542.4 273.8ZM538.4 286.3A128 128 0 0 1 537.1 286.7L534.1 276.7A117.5 117.5 0 0 0 535.2 276.3ZM532.4 288A128 128 0 0 1 531.2 288.4L528.6 278.2A117.5 117.5 0 0 0 529.8 277.9ZM520.4 290.6A128 128 0 0 1 519.1 290.8L517.6 280.4A117.5 117.5 0 0 0 518.7 280.2ZM514.3 291.4A128 128 0 0 1 513 291.5L512 281.1A117.5 117.5 0 0 0 513.1 281ZM511.3 291.7A128 128 0 0 1 510 291.8L509.1 281.3A117.5 117.5 0 0 0 510.3 281.2ZM496 292.1A128 128 0 0 1 494.7 292.1L495.2 281.6A117.5 117.5 0 0 0 496.3 281.6ZM463.9 287A128 128 0 0 1 462.6 286.6L465.7 276.6A117.5 117.5 0 0 0 466.8 276.9ZM462.9 286.7A128 128 0 0 1 461.6 286.3L464.8 276.3A117.5 117.5 0 0 0 465.9 276.6ZM448.4 281.3A128 128 0 0 1 447.2 280.8L451.5 271.2A117.5 117.5 0 0 0 452.6 271.7ZM446.5 280.5A128 128 0 0 1 445.3 279.9L449.8 270.4A117.5 117.5 0 0 0 450.9 270.9ZM444.6 279.6A128 128 0 0 1 443.4 279L448.1 269.6A117.5 117.5 0 0 0 449.2 270.1ZM427.7 269.8A128 128 0 0 1 426.6 269.1L432.6 260.5A117.5 117.5 0 0 0 433.6 261.1ZM424.3 267.4A128 128 0 0 1 423.3 266.7L429.6 258.3A117.5 117.5 0 0 0 430.5 259ZM423.5 266.8A128 128 0 0 1 422.5 266L428.8 257.7A117.5 117.5 0 0 0 429.8 258.4ZM422.7 266.2A128 128 0 0 1 421.6 265.4L428.1 257.1A117.5 117.5 0 0 0 429 257.8ZM410.9 256.1A128 128 0 0 1 409.9 255.2L417.3 247.7A117.5 117.5 0 0 0 418.2 248.6ZM410.1 255.4A128 128 0 0 1 409.2 254.4L416.7 247A117.5 117.5 0 0 0 417.5 247.9ZM396.1 238.9A128 128 0 0 1 395.3 237.9L403.9 231.8A117.5 117.5 0 0 0 404.6 232.8ZM389.5 228.7A128 128 0 0 1 388.8 227.6L397.9 222.4A117.5 117.5 0 0 0 398.5 223.4ZM387.9 226.1A128 128 0 0 1 387.3 224.9L396.6 219.9A117.5 117.5 0 0 0 397.1 221ZM381.7 213.2A128 128 0 0 1 381.3 212L391 208.1A117.5 117.5 0 0 0 391.4 209.2ZM379.5 207.4A128 128 0 0 1 379.1 206.2L389 202.8A117.5 117.5 0 0 0 389.4 203.9ZM376.4 197.6A128 128 0 0 1 376.1 196.3L386.3 193.7A117.5 117.5 0 0 0 386.6 194.9ZM375.2 192.4A128 128 0 0 1 374.9 191.1L385.1 188.9A117.5 117.5 0 0 0 385.4 190.1ZM372.6 176.9A128 128 0 0 1 372.5 175.6L383 174.7A117.5 117.5 0 0 0 383.1 175.9ZM372.3 155.9A128 128 0 0 1 372.4 154.5L382.8 155.3A117.5 117.5 0 0 0 382.7 156.6ZM374.8 137.8A128 128 0 0 1 375 136.5L385.3 138.8A117.5 117.5 0 0 0 385 139.9ZM388.4 101.5A128 128 0 0 1 389 100.4L398.1 105.7A117.5 117.5 0 0 0 397.5 106.7ZM390.4 98.1A128 128 0 0 1 391.1 97L400 102.5A117.5 117.5 0 0 0 399.4 103.5ZM399.2 85.4A128 128 0 0 1 399.9 84.4L408.2 90.9A117.5 117.5 0 0 0 407.4 91.8ZM399.8 84.6A128 128 0 0 1 400.6 83.6L408.7 90.2A117.5 117.5 0 0 0 408 91.1ZM403 80.7A128 128 0 0 1 403.8 79.7L411.7 86.7A117.5 117.5 0 0 0 410.9 87.6ZM411.3 71.9A128 128 0 0 1 412.3 71L419.5 78.6A117.5 117.5 0 0 0 418.6 79.5ZM419.2 64.9A128 128 0 0 1 420.3 64L426.9 72.2A117.5 117.5 0 0 0 425.9 73ZM420.1 64.2A128 128 0 0 1 421.2 63.3L427.6 71.6A117.5 117.5 0 0 0 426.7 72.4ZM426.9 59.1A128 128 0 0 1 428.1 58.3L434 67A117.5 117.5 0 0 0 432.9 67.7ZM427.8 58.5A128 128 0 0 1 429 57.7L434.8 66.4A117.5 117.5 0 0 0 433.8 67.1ZM434.1 54.5A128 128 0 0 1 435.3 53.7L440.6 62.8A117.5 117.5 0 0 0 439.5 63.5ZM442.7 49.7A128 128 0 0 1 443.9 49.1L448.5 58.6A117.5 117.5 0 0 0 447.4 59.1ZM443.7 49.2A128 128 0 0 1 444.9 48.7L449.4 58.1A117.5 117.5 0 0 0 448.3 58.7ZM448.7 46.9A128 128 0 0 1 450 46.4L454.1 56A117.5 117.5 0 0 0 452.9 56.5ZM486.4 36.9A128 128 0 0 1 487.7 36.8L488.7 47.2A117.5 117.5 0 0 0 487.5 47.4Z" fill="#6aa3cf"/>
<path d="M501 36.2A128 128 0 0 1 502.3 36.2L502.1 46.7A117.5 117.5 0 0 0 500.9 46.7ZM506.1 36.3A128 128 0 0 1 507.4 36.4L506.8 46.9A117.5 117.5 0 0 0 505.6 46.8ZM507.1 36.4A128 128 0 0 1 508.4 36.5L507.7 47A117.5 117.5 0 0 0 506.5 46.9ZM510.1 36.6A128 128 0 0 1 511.4 36.7L510.5 47.2A117.5 117.5 0 0 0 509.3 47.1ZM520.2 37.8A128 128 0 0 1 521.5 38L519.7 48.4A117.5 117.5 0 0 0 518.6 48.2ZM521.2 38A128 128 0 0 1 522.5 38.2L520.7 48.5A117.5 117.5 0 0 0 519.5 48.3ZM530.2 39.8A128 128 0 0 1 531.5 40.1L528.9 50.3A117.5 117.5 0 0 0 527.7 50ZM534.2 40.8A128 128 0 0 1 535.4 41.2L532.5 51.3A117.5 117.5 0 0 0 531.4 51ZM549.5 46.1A128 128 0 0 1 550.6 46.6L546.5 56.3A117.5 117.5 0 0 0 545.4 55.8ZM553.2 47.8A128 128 0 0 1 554.3 48.3L549.9 57.8A117.5 117.5 0 0 0 548.8 57.3ZM560.4 51.4A128 128 0 0 1 561.5 52L556.5 61.2A117.5 117.5 0 0 0 555.5 60.6ZM561.3 51.8A128 128 0 0 1 562.4 52.5L557.3 61.6A117.5 117.5 0 0 0 556.3 61.1ZM562.2 52.3A128 128 0 0 1 563.3 52.9L558.1 62.1A117.5 117.5 0 0 0 557.1 61.5ZM563.1 52.8A128 128 0 0 1 564.2 53.5L558.9 62.5A117.5 117.5 0 0 0 557.9 62ZM567.4 55.4A128 128 0 0 1 568.5 56.1L562.9 64.9A117.5 117.5 0 0 0 561.9 64.3ZM570.8 57.6A128 128 0 0 1 571.9 58.3L566 67A117.5 117.5 0 0 0 565 66.3ZM571.7 58.1A128 128 0 0 1 572.7 58.9L566.8 67.5A117.5 117.5 0 0 0 565.8 66.8ZM577.4 62.3A128 128 0 0 1 578.4 63L572 71.3A117.5 117.5 0 0 0 571.1 70.6ZM582.2 66A128 128 0 0 1 583.1 66.9L576.3 74.9A117.5 117.5 0 0 0 575.4 74.1ZM583.7 67.4A128 128 0 0 1 584.7 68.2L577.7 76.1A117.5 117.5 0 0 0 576.9 75.3ZM585.3 68.7A128 128 0 0 1 586.2 69.6L579.2 77.4A117.5 117.5 0 0 0 578.3 76.6ZM591.9 75.1A128 128 0 0 1 592.8 76.1L585.2 83.3A117.5 117.5 0 0 0 584.4 82.4ZM594 77.4A128 128 0 0 1 594.9 78.3L587.1 85.4A117.5 117.5 0 0 0 586.3 84.5ZM594.7 78.1A128 128 0 0 1 595.6 79.1L587.7 86.1A117.5 117.5 0 0 0 587 85.2ZM596.8 80.4A128 128 0 0 1 597.6 81.4L589.6 88.2A117.5 117.5 0 0 0 588.8 87.3ZM598.7 82.8A128 128 0 0 1 599.6 83.8L591.4 90.4A117.5 117.5 0 0 0 590.6 89.4ZM602.5 87.6A128 128 0 0 1 603.3 88.6L594.8 94.8A117.5 117.5 0 0 0 594.1 93.9ZM604.4 90.1A128 128 0 0 1 605.1 91.1L596.5 97.1A117.5 117.5 0 0 0 595.8 96.2ZM617 112.2A128 128 0 0 1 617.5 113.4L607.8 117.5A117.5 117.5 0 0 0 607.4 116.4ZM617.8 114A128 128 0 0 1 618.3 115.2L608.6 119.2A117.5 117.5 0 0 0 608.1 118.2ZM618.2 115A128 128 0 0 1 618.6 116.2L608.9 120.1A117.5 117.5 0 0 0 608.5 119ZM620.7 121.6A128 128 0 0 1 621.1 122.8L611.2 126.2A117.5 117.5 0 0 0 610.8 125.1ZM621.4 123.5A128 128 0 0 1 621.8 124.8L611.8 128A117.5 117.5 0 0 0 611.4 126.9ZM624.2 133.3A128 128 0 0 1 624.5 134.5L614.3 137A117.5 117.5 0 0 0 614 135.8ZM625.7 140.2A128 128 0 0 1 626 141.5L615.6 143.4A117.5 117.5 0 0 0 615.4 142.2ZM626.3 143.3A128 128 0 0 1 626.5 144.5L616.1 146.1A117.5 117.5 0 0 0 615.9 145ZM627.1 149.3A128 128 0 0 1 627.3 150.6L616.8 151.7A117.5 117.5 0 0 0 616.7 150.5ZM627.5 153.4A128 128 0 0 1 627.6 154.7L617.2 155.5A117.5 117.5 0 0 0 617.1 154.3ZM627.9 159.5A128 128 0 0 1 628 160.8L617.5 161.1A117.5 117.5 0 0 0 617.4 159.9ZM627.9 168.6A128 128 0 0 1 627.9 169.9L617.4 169.5A117.5 117.5 0 0 0 617.4 168.3ZM627.9 169.7A128 128 0 0 1 627.8 171L617.3 170.4A117.5 117.5 0 0 0 617.4 169.2ZM627.8 170.7A128 128 0 0 1 627.8 172L617.3 171.3A117.5 117.5 0 0 0 617.3 170.2ZM627.7 172.7A128 128 0 0 1 627.6 174L617.2 173.2A117.5 117.5 0 0 0 617.2 172ZM627.6 173.7A128 128 0 0 1 627.5 175L617.1 174.1A117.5 117.5 0 0 0 617.2 173ZM626.8 181.9A128 128 0 0 1 626.6 183.2L616.2 181.6A117.5 117.5 0 0 0 616.4 180.4ZM626.6 182.9A128 128 0 0 1 626.4 184.2L616.1 182.5A117.5 117.5 0 0 0 616.2 181.4ZM625.2 190.9A128 128 0 0 1 624.9 192.2L614.7 189.9A117.5 117.5 0 0 0 614.9 188.8ZM625 191.9A128 128 0 0 1 624.7 193.2L614.4 190.8A117.5 117.5 0 0 0 614.7 189.7ZM620.8 206.6A128 128 0 0 1 620.3 207.8L610.5 204.3A117.5 117.5 0 0 0 610.9 203.2ZM619.3 210.5A128 128 0 0 1 618.9 211.7L609.1 207.8A117.5 117.5 0 0 0 609.6 206.7ZM617.4 215.2A128 128 0 0 1 616.9 216.4L607.3 212.1A117.5 117.5 0 0 0 607.8 211ZM617 216.1A128 128 0 0 1 616.5 217.3L606.9 212.9A117.5 117.5 0 0 0 607.4 211.9ZM616.6 217.1A128 128 0 0 1 616 218.2L606.5 213.8A117.5 117.5 0 0 0 607 212.7ZM616.2 218A128 128 0 0 1 615.6 219.2L606.1 214.6A117.5 117.5 0 0 0 606.6 213.6ZM612.5 225.3A128 128 0 0 1 611.9 226.4L602.7 221.3A117.5 117.5 0 0 0 603.3 220.3ZM610.5 228.8A128 128 0 0 1 609.8 229.9L600.8 224.5A117.5 117.5 0 0 0 601.4 223.5ZM609.5 230.5A128 128 0 0 1 608.8 231.6L599.9 226.1A117.5 117.5 0 0 0 600.5 225.1ZM606.8 234.8A128 128 0 0 1 606 235.9L597.3 230A117.5 117.5 0 0 0 598 229ZM605.6 236.5A128 128 0 0 1 604.9 237.6L596.3 231.5A117.5 117.5 0 0 0 597 230.6ZM603.9 239A128 128 0 0 1 603.1 240L594.7 233.8A117.5 117.5 0 0 0 595.4 232.9ZM602.7 240.6A128 128 0 0 1 601.9 241.7L593.5 235.3A117.5 117.5 0 0 0 594.3 234.4ZM602.1 241.4A128 128 0 0 1 601.3 242.5L593 236A117.5 117.5 0 0 0 593.7 235.1ZM601.5 242.2A128 128 0 0 1 600.7 243.3L592.4 236.8A117.5 117.5 0 0 0 593.1 235.8ZM600.8 243A128 128 0 0 1 600 244.1L591.8 237.5A117.5 117.5 0 0 0 592.6 236.6ZM600.2 243.8A128 128 0 0 1 599.4 244.8L591.2 238.2A117.5 117.5 0 0 0 592 237.3ZM599.6 244.6A128 128 0 0 1 598.8 245.6L590.7 238.9A117.5 117.5 0 0 0 591.4 238ZM597.6 247A128 128 0 0 1 596.8 247.9L588.9 241.1A117.5 117.5 0 0 0 589.6 240.2ZM596.3 248.5A128 128 0 0 1 595.5 249.5L587.6 242.5A117.5 117.5 0 0 0 588.4 241.6ZM595.6 249.3A128 128 0 0 1 594.8 250.2L587 243.2A117.5 117.5 0 0 0 587.8 242.3ZM593.6 251.5A128 128 0 0 1 592.7 252.4L585.1 245.2A117.5 117.5 0 0 0 585.9 244.4ZM584.7 260.2A128 128 0 0 1 583.7 261.1L576.8 253.1A117.5 117.5 0 0 0 577.7 252.3ZM569.8 271.5A128 128 0 0 1 568.7 272.2L563 263.4A117.5 117.5 0 0 0 564 262.7ZM568 272.6A128 128 0 0 1 566.9 273.3L561.5 264.3A117.5 117.5 0 0 0 562.5 263.7ZM565.4 274.2A128 128 0 0 1 564.3 274.9L559 265.8A117.5 117.5 0 0 0 560.1 265.2ZM563.7 275.2A128 128 0 0 1 562.5 275.9L557.4 266.7A117.5 117.5 0 0 0 558.4 266.1ZM557.4 278.6A128 128 0 0 1 556.2 279.2L551.6 269.8A117.5 117.5 0 0 0 552.7 269.2ZM555.5 279.5A128 128 0 0 1 554.4 280.1L549.9 270.6A117.5 117.5 0 0 0 551 270.1ZM554.6 280A128 128 0 0 1 553.4 280.5L549 271A117.5 117.5 0 0 0 550.1 270.5ZM553.7 280.4A128 128 0 0 1 552.5 280.9L548.2 271.4A117.5 117.5 0 0 0 549.3 270.9ZM543.3 284.7A128 128 0 0 1 542 285.1L538.6 275.2A117.5 117.5 0 0 0 539.7 274.8ZM542.3 285A128 128 0 0 1 541.1 285.4L537.7 275.5A117.5 117.5 0 0 0 538.8 275.1ZM540.3 285.7A128 128 0 0 1 539.1 286.1L535.9 276.1A117.5 117.5 0 0 0 537 275.7ZM536.4 286.9A128 128 0 0 1 535.1 287.3L532.3 277.2A117.5 117.5 0 0 0 533.4 276.9ZM508.2 291.9A128 128 0 0 1 506.9 292L506.3 281.5A117.5 117.5 0 0 0 507.5 281.5ZM497 292.2A128 128 0 0 1 495.7 292.1L496.1 281.6A117.5 117.5 0 0 0 497.3 281.7ZM495 292.1A128 128 0 0 1 493.7 292L494.2 281.6A117.5 117.5 0 0 0 495.4 281.6ZM494 292.1A128 128 0 0 1 492.7 292L493.3 281.5A117.5 117.5 0 0 0 494.5 281.6ZM493 292A128 128 0 0 1 491.7 291.9L492.4 281.5A117.5 117.5 0 0 0 493.5 281.5ZM479.9 290.6A128 128 0 0 1 478.6 290.4L480.3 280A117.5 117.5 0 0 0 481.5 280.2ZM474.9 289.7A128 128 0 0 1 473.6 289.5L475.8 279.2A117.5 117.5 0 0 0 476.9 279.4ZM461.9 286.4A128 128 0 0 1 460.6 286L463.9 276A117.5 117.5 0 0 0 465 276.4ZM460.9 286.1A128 128 0 0 1 459.7 285.7L463 275.7A117.5 117.5 0 0 0 464.1 276.1ZM459.9 285.8A128 128 0 0 1 458.7 285.3L462.1 275.4A117.5 117.5 0 0 0 463.2 275.8ZM445.5 280A128 128 0 0 1 444.4 279.5L448.9 270A117.5 117.5 0 0 0 450 270.5ZM443.7 279.1A128 128 0 0 1 442.5 278.6L447.2 269.2A117.5 117.5 0 0 0 448.3 269.7ZM442.7 278.7A128 128 0 0 1 441.6 278.1L446.4 268.7A117.5 117.5 0 0 0 447.4 269.3ZM438.1 276.3A128 128 0 0 1 437 275.6L442.2 266.5A117.5 117.5 0 0 0 443.2 267.1ZM437.2 275.8A128 128 0 0 1 436.1 275.1L441.3 266A117.5 117.5 0 0 0 442.4 266.6ZM435.4 274.7A128 128 0 0 1 434.3 274L439.7 265A117.5 117.5 0 0 0 440.7 265.6ZM431.1 272.1A128 128 0 0 1 430 271.4L435.7 262.6A117.5 117.5 0 0 0 436.7 263.2ZM430.2 271.5A128 128 0 0 1 429.1 270.8L435 262.1A117.5 117.5 0 0 0 435.9 262.7ZM428.5 270.4A128 128 0 0 1 427.4 269.6L433.4 261A117.5 117.5 0 0 0 434.4 261.7ZM426.8 269.2A128 128 0 0 1 425.8 268.5L431.8 259.9A117.5 117.5 0 0 0 432.8 260.6ZM426 268.6A128 128 0 0 1 424.9 267.9L431.1 259.4A117.5 117.5 0 0 0 432.1 260.1ZM421 264.9A128 128 0 0 1 420 264.1L426.6 255.9A117.5 117.5 0 0 0 427.5 256.7ZM415.5 260.4A128 128 0 0 1 414.6 259.5L421.6 251.7A117.5 117.5 0 0 0 422.5 252.5ZM411.7 256.8A128 128 0 0 1 410.7 255.9L418 248.4A117.5 117.5 0 0 0 418.9 249.2ZM409.4 254.6A128 128 0 0 1 408.5 253.7L416 246.3A117.5 117.5 0 0 0 416.8 247.2ZM408.7 253.9A128 128 0 0 1 407.7 252.9L415.3 245.6A117.5 117.5 0 0 0 416.1 246.5ZM407.9 253.1A128 128 0 0 1 407 252.2L414.6 244.9A117.5 117.5 0 0 0 415.5 245.8ZM405.7 250.8A128 128 0 0 1 404.9 249.8L412.7 242.8A117.5 117.5 0 0 0 413.5 243.7ZM397.3 240.6A128 128 0 0 1 396.5 239.5L405 233.4A117.5 117.5 0 0 0 405.7 234.3ZM394.9 237.3A128 128 0 0 1 394.2 236.2L402.9 230.3A117.5 117.5 0 0 0 403.5 231.3ZM390.5 230.5A128 128 0 0 1 389.8 229.4L398.9 224A117.5 117.5 0 0 0 399.5 225ZM388.9 227.8A128 128 0 0 1 388.3 226.7L397.5 221.6A117.5 117.5 0 0 0 398 222.6ZM388.4 226.9A128 128 0 0 1 387.8 225.8L397 220.8A117.5 117.5 0 0 0 397.6 221.8ZM383 216A128 128 0 0 1 382.4 214.8L392.1 210.7A117.5 117.5 0 0 0 392.6 211.8ZM382.5 215.1A128 128 0 0 1 382 213.9L391.7 209.8A117.5 117.5 0 0 0 392.2 210.9ZM380.6 210.3A128 128 0 0 1 380.1 209.1L390 205.4A117.5 117.5 0 0 0 390.4 206.5ZM380.2 209.4A128 128 0 0 1 379.8 208.1L389.6 204.5A117.5 117.5 0 0 0 390.1 205.7ZM375.4 193.5A128 128 0 0 1 375.1 192.2L385.3 189.9A117.5 117.5 0 0 0 385.6 191.1ZM374.5 189.3A128 128 0 0 1 374.2 188L384.5 186A117.5 117.5 0 0 0 384.8 187.2ZM373.7 185.3A128 128 0 0 1 373.5 184L383.9 182.4A117.5 117.5 0 0 0 384.1 183.6ZM373.6 184.3A128 128 0 0 1 373.4 182.9L383.8 181.4A117.5 117.5 0 0 0 384 182.6ZM373.3 182.2A128 128 0 0 1 373.1 180.9L383.5 179.5A117.5 117.5 0 0 0 383.7 180.7ZM373.1 181.1A128 128 0 0 1 373 179.8L383.4 178.5A117.5 117.5 0 0 0 383.5 179.7ZM373 180.1A128 128 0 0 1 372.8 178.8L383.3 177.6A117.5 117.5 0 0 0 383.4 178.8ZM372 165.4A128 128 0 0 1 372 164L382.5 164.1A117.5 117.5 0 0 0 382.5 165.3ZM372 164.3A128 128 0 0 1 372 163L382.5 163.1A117.5 117.5 0 0 0 382.5 164.3ZM372.4 153.6A128 128 0 0 1 372.6 152.2L383 153.2A117.5 117.5 0 0 0 382.9 154.5ZM372.6 151.4A128 128 0 0 1 372.8 150L383.2 151.2A117.5 117.5 0 0 0 383.1 152.4ZM373.6 144A128 128 0 0 1 373.8 142.7L384.2 144.4A117.5 117.5 0 0 0 384 145.6ZM374 141.9A128 128 0 0 1 374.2 140.6L384.5 142.5A117.5 117.5 0 0 0 384.3 143.7ZM374.1 140.9A128 128 0 0 1 374.4 139.6L384.7 141.6A117.5 117.5 0 0 0 384.5 142.8ZM374.3 139.8A128 128 0 0 1 374.6 138.5L384.9 140.7A117.5 117.5 0 0 0 384.6 141.8ZM375.2 135.7A128 128 0 0 1 375.5 134.4L385.7 136.9A117.5 117.5 0 0 0 385.4 138.1ZM375.4 134.7A128 128 0 0 1 375.8 133.4L385.9 135.9A117.5 117.5 0 0 0 385.7 137.1ZM376.7 129.7A128 128 0 0 1 377.1 128.5L387.2 131.4A117.5 117.5 0 0 0 386.8 132.6ZM377.3 127.8A128 128 0 0 1 377.7 126.5L387.7 129.6A117.5 117.5 0 0 0 387.4 130.8ZM377.6 126.8A128 128 0 0 1 378 125.6L388 128.7A117.5 117.5 0 0 0 387.6 129.9ZM378.2 124.8A128 128 0 0 1 378.6 123.6L388.6 126.9A117.5 117.5 0 0 0 388.2 128.1ZM378.5 123.9A128 128 0 0 1 378.9 122.6L388.9 126A117.5 117.5 0 0 0 388.5 127.2ZM382.1 114.3A128 128 0 0 1 382.6 113.1L392.3 117.3A117.5 117.5 0 0 0 391.8 118.4ZM384.7 108.7A128 128 0 0 1 385.2 107.5L394.6 112.2A117.5 117.5 0 0 0 394.1 113.2ZM386.9 104.2A128 128 0 0 1 387.5 103.1L396.8 108.1A117.5 117.5 0 0 0 396.2 109.1ZM389.4 99.8A128 128 0 0 1 390 98.7L399.1 104.1A117.5 117.5 0 0 0 398.5 105.1ZM393.1 93.8A128 128 0 0 1 393.8 92.7L402.6 98.5A117.5 117.5 0 0 0 401.9 99.5ZM393.7 92.9A128 128 0 0 1 394.4 91.8L403.1 97.7A117.5 117.5 0 0 0 402.4 98.7ZM394.3 92A128 128 0 0 1 395 90.9L403.6 97A117.5 117.5 0 0 0 403 97.9ZM396.1 89.5A128 128 0 0 1 396.9 88.4L405.3 94.6A117.5 117.5 0 0 0 404.6 95.6ZM403.6 79.9A128 128 0 0 1 404.5 79L412.3 86A117.5 117.5 0 0 0 411.5 86.9ZM404.3 79.2A128 128 0 0 1 405.2 78.2L412.9 85.3A117.5 117.5 0 0 0 412.2 86.2ZM408.4 74.8A128 128 0 0 1 409.3 73.8L416.8 81.3A117.5 117.5 0 0 0 415.9 82.1ZM417.5 66.3A128 128 0 0 1 418.6 65.4L425.3 73.5A117.5 117.5 0 0 0 424.3 74.3ZM425.1 60.4A128 128 0 0 1 426.3 59.6L432.3 68.2A117.5 117.5 0 0 0 431.3 68.9ZM433.1 55A128 128 0 0 1 434.3 54.3L439.7 63.3A117.5 117.5 0 0 0 438.6 64ZM437.1 52.7A128 128 0 0 1 438.3 52.1L443.4 61.3A117.5 117.5 0 0 0 442.2 61.9ZM441.7 50.2A128 128 0 0 1 442.9 49.6L447.6 59A117.5 117.5 0 0 0 446.5 59.6ZM445.7 48.3A128 128 0 0 1 446.9 47.7L451.3 57.3A117.5 117.5 0 0 0 450.1 57.8ZM446.7 47.8A128 128 0 0 1 447.9 47.3L452.2 56.9A117.5 117.5 0 0 0 451.1 57.4ZM464.6 41.2A128 128 0 0 1 465.8 40.9L468.6 51A117.5 117.5 0 0 0 467.5 51.3ZM465.5 40.9A128 128 0 0 1 466.8 40.6L469.5 50.7A117.5 117.5 0 0 0 468.4 51ZM468.5 40.1A128 128 0 0 1 469.7 39.8L472.2 50A117.5 117.5 0 0 0 471.1 50.3ZM469.5 39.9A128 128 0 0 1 470.7 39.6L473.1 49.8A117.5 117.5 0 0 0 472 50.1ZM478.4 38A128 128 0 0 1 479.7 37.8L481.3 48.2A117.5 117.5 0 0 0 480.2 48.4ZM479.4 37.9A128 128 0 0 1 480.7 37.7L482.2 48A117.5 117.5 0 0 0 481.1 48.2ZM480.4 37.7A128 128 0 0 1 481.7 37.5L483.2 47.9A117.5 117.5 0 0 0 482 48.1ZM484.4 37.2A128 128 0 0 1 485.7 37L486.9 47.4A117.5 117.5 0 0 0 485.7 47.6ZM489.4 36.6A128 128 0 0 1 490.7 36.5L491.5 47A117.5 117.5 0 0 0 490.3 47.1ZM490.5 36.6A128 128 0 0 1 491.7 36.5L492.4 46.9A117.5 117.5 0 0 0 491.2 47Z" fill="#5896c8"/>
<path d="M502 36.2A128 128 0 0 1 503.3 36.2L503 46.7A117.5 117.5 0 0 0 501.8 46.7ZM503 36.2A128 128 0 0 1 504.3 36.3L504 46.8A117.5 117.5 0 0 0 502.8 46.7ZM508.1 36.5A128 128 0 0 1 509.4 36.5L508.6 47A117.5 117.5 0 0 0 507.4 46.9ZM509.1 36.5A128 128 0 0 1 510.4 36.6L509.5 47.1A117.5 117.5 0 0 0 508.4 47ZM522.2 38.1A128 128 0 0 1 523.5 38.4L521.6 48.7A117.5 117.5 0 0 0 520.4 48.5ZM523.2 38.3A128 128 0 0 1 524.5 38.6L522.5 48.9A117.5 117.5 0 0 0 521.3 48.7ZM525.2 38.7A128 128 0 0 1 526.5 39L524.3 49.2A117.5 117.5 0 0 0 523.2 49ZM550.4 46.5A128 128 0 0 1 551.6 47L547.3 56.7A117.5 117.5 0 0 0 546.3 56.2ZM554.1 48.2A128 128 0 0 1 555.2 48.7L550.7 58.2A117.5 117.5 0 0 0 549.6 57.7ZM555.9 49.1A128 128 0 0 1 557.1 49.6L552.4 59A117.5 117.5 0 0 0 551.3 58.5ZM557.7 50A128 128 0 0 1 558.9 50.5L554 59.9A117.5 117.5 0 0 0 553 59.3ZM558.6 50.4A128 128 0 0 1 559.8 51L554.9 60.3A117.5 117.5 0 0 0 553.8 59.7ZM568.3 55.9A128 128 0 0 1 569.4 56.6L563.7 65.4A117.5 117.5 0 0 0 562.7 64.8ZM569.1 56.5A128 128 0 0 1 570.2 57.2L564.4 65.9A117.5 117.5 0 0 0 563.5 65.3ZM570 57A128 128 0 0 1 571 57.7L565.2 66.5A117.5 117.5 0 0 0 564.2 65.8ZM572.5 58.7A128 128 0 0 1 573.5 59.4L567.5 68A117.5 117.5 0 0 0 566.5 67.4ZM573.3 59.3A128 128 0 0 1 574.4 60L568.3 68.6A117.5 117.5 0 0 0 567.3 67.9ZM581.4 65.4A128 128 0 0 1 582.4 66.2L575.6 74.3A117.5 117.5 0 0 0 574.7 73.5ZM584.5 68.1A128 128 0 0 1 585.5 68.9L578.5 76.7A117.5 117.5 0 0 0 577.6 75.9ZM586 69.4A128 128 0 0 1 587 70.3L579.8 78A117.5 117.5 0 0 0 579 77.2ZM586.8 70.1A128 128 0 0 1 587.7 71L580.5 78.6A117.5 117.5 0 0 0 579.7 77.8ZM587.5 70.8A128 128 0 0 1 588.5 71.7L581.2 79.3A117.5 117.5 0 0 0 580.4 78.5ZM588.3 71.5A128 128 0 0 1 589.2 72.4L581.9 79.9A117.5 117.5 0 0 0 581 79.1ZM593.3 76.6A128 128 0 0 1 594.2 77.6L586.5 84.7A117.5 117.5 0 0 0 585.7 83.8ZM595.4 78.9A128 128 0 0 1 596.3 79.8L588.4 86.8A117.5 117.5 0 0 0 587.6 85.9ZM596.1 79.6A128 128 0 0 1 596.9 80.6L589 87.5A117.5 117.5 0 0 0 588.2 86.6ZM598.1 82A128 128 0 0 1 598.9 83L590.8 89.6A117.5 117.5 0 0 0 590 88.7ZM600 84.4A128 128 0 0 1 600.8 85.4L592.6 91.8A117.5 117.5 0 0 0 591.8 90.9ZM601.3 86A128 128 0 0 1 602.1 87L593.7 93.3A117.5 117.5 0 0 0 593 92.4ZM614.3 106.7A128 128 0 0 1 614.9 107.8L605.5 112.4A117.5 117.5 0 0 0 605 111.4ZM616.1 110.3A128 128 0 0 1 616.6 111.5L607.1 115.8A117.5 117.5 0 0 0 606.6 114.7ZM616.5 111.3A128 128 0 0 1 617.1 112.4L607.5 116.7A117.5 117.5 0 0 0 607 115.6ZM620 119.7A128 128 0 0 1 620.5 120.9L610.6 124.5A117.5 117.5 0 0 0 610.2 123.4ZM622.6 127.4A128 128 0 0 1 623 128.7L612.9 131.6A117.5 117.5 0 0 0 612.5 130.4ZM623.2 129.4A128 128 0 0 1 623.5 130.6L613.4 133.4A117.5 117.5 0 0 0 613.1 132.2ZM624.9 136.2A128 128 0 0 1 625.2 137.5L614.9 139.7A117.5 117.5 0 0 0 614.7 138.5ZM625.1 137.2A128 128 0 0 1 625.4 138.5L615.1 140.6A117.5 117.5 0 0 0 614.9 139.5ZM625.5 139.2A128 128 0 0 1 625.8 140.5L615.5 142.5A117.5 117.5 0 0 0 615.2 141.3ZM625.9 141.2A128 128 0 0 1 626.2 142.5L615.8 144.3A117.5 117.5 0 0 0 615.6 143.1ZM626.4 144.3A128 128 0 0 1 626.6 145.5L616.2 147.1A117.5 117.5 0 0 0 616.1 145.9ZM627 148.3A128 128 0 0 1 627.2 149.6L616.7 150.8A117.5 117.5 0 0 0 616.6 149.6ZM627.2 150.3A128 128 0 0 1 627.4 151.6L616.9 152.7A117.5 117.5 0 0 0 616.8 151.5ZM628 161.5A128 128 0 0 1 628 162.8L617.5 162.9A117.5 117.5 0 0 0 617.5 161.8ZM628 167.6A128 128 0 0 1 627.9 168.9L617.4 168.5A117.5 117.5 0 0 0 617.5 167.3ZM627.8 171.7A128 128 0 0 1 627.7 173L617.2 172.3A117.5 117.5 0 0 0 617.3 171.1ZM627.6 174.8A128 128 0 0 1 627.5 176.1L617 175.1A117.5 117.5 0 0 0 617.1 173.9ZM627.3 177.8A128 128 0 0 1 627.1 179.1L616.7 177.9A117.5 117.5 0 0 0 616.8 176.7ZM626.9 180.9A128 128 0 0 1 626.7 182.1L616.3 180.7A117.5 117.5 0 0 0 616.5 179.5ZM626.3 184.9A128 128 0 0 1 626.1 186.2L615.8 184.4A117.5 117.5 0 0 0 616 183.2ZM626 186.9A128 128 0 0 1 625.7 188.2L615.4 186.2A117.5 117.5 0 0 0 615.6 185.1ZM621.1 205.7A128 128 0 0 1 620.7 206.9L610.8 203.4A117.5 117.5 0 0 0 611.2 202.3ZM620.1 208.6A128 128 0 0 1 619.6 209.8L609.8 206A117.5 117.5 0 0 0 610.2 204.9ZM615.7 218.9A128 128 0 0 1 615.2 220.1L605.7 215.5A117.5 117.5 0 0 0 606.2 214.4ZM613.9 222.6A128 128 0 0 1 613.3 223.7L604 218.8A117.5 117.5 0 0 0 604.6 217.8ZM613 224.4A128 128 0 0 1 612.4 225.5L603.1 220.5A117.5 117.5 0 0 0 603.7 219.5ZM610 229.7A128 128 0 0 1 609.3 230.8L600.4 225.3A117.5 117.5 0 0 0 601 224.3ZM608.4 232.3A128 128 0 0 1 607.7 233.4L598.9 227.7A117.5 117.5 0 0 0 599.5 226.7ZM607.9 233.1A128 128 0 0 1 607.2 234.2L598.4 228.5A117.5 117.5 0 0 0 599 227.5ZM607.3 234A128 128 0 0 1 606.6 235.1L597.9 229.2A117.5 117.5 0 0 0 598.5 228.3ZM606.2 235.7A128 128 0 0 1 605.5 236.7L596.8 230.8A117.5 117.5 0 0 0 597.5 229.8ZM598.9 245.4A128 128 0 0 1 598.1 246.4L590.1 239.7A117.5 117.5 0 0 0 590.8 238.8ZM597 247.7A128 128 0 0 1 596.1 248.7L588.2 241.8A117.5 117.5 0 0 0 589 240.9ZM589.3 255.9A128 128 0 0 1 588.4 256.8L581.1 249.2A117.5 117.5 0 0 0 582 248.4ZM588.6 256.6A128 128 0 0 1 587.6 257.5L580.4 249.9A117.5 117.5 0 0 0 581.3 249ZM587.8 257.4A128 128 0 0 1 586.8 258.2L579.7 250.5A117.5 117.5 0 0 0 580.6 249.7ZM583.9 260.9A128 128 0 0 1 582.9 261.7L576.1 253.7A117.5 117.5 0 0 0 577 252.9ZM582.3 262.2A128 128 0 0 1 581.3 263.1L574.6 255A117.5 117.5 0 0 0 575.5 254.2ZM570.6 271A128 128 0 0 1 569.5 271.7L563.8 262.8A117.5 117.5 0 0 0 564.8 262.2ZM567.2 273.2A128 128 0 0 1 566.1 273.8L560.7 264.8A117.5 117.5 0 0 0 561.7 264.2ZM564.5 274.7A128 128 0 0 1 563.4 275.4L558.2 266.3A117.5 117.5 0 0 0 559.3 265.7ZM559.2 277.7A128 128 0 0 1 558 278.3L553.3 268.9A117.5 117.5 0 0 0 554.3 268.4ZM549 282.4A128 128 0 0 1 547.8 282.9L543.9 273.2A117.5 117.5 0 0 0 545 272.7ZM548.1 282.8A128 128 0 0 1 546.9 283.3L543 273.5A117.5 117.5 0 0 0 544.1 273.1ZM539.3 286A128 128 0 0 1 538.1 286.4L535 276.4A117.5 117.5 0 0 0 536.1 276ZM519.4 290.7A128 128 0 0 1 518.1 290.9L516.6 280.5A117.5 117.5 0 0 0 517.8 280.3ZM517.4 291A128 128 0 0 1 516.1 291.2L514.8 280.8A117.5 117.5 0 0 0 515.9 280.6ZM516.3 291.2A128 128 0 0 1 515.1 291.3L513.8 280.9A117.5 117.5 0 0 0 515 280.7ZM515.3 291.3A128 128 0 0 1 514 291.4L512.9 281A117.5 117.5 0 0 0 514.1 280.9ZM513.3 291.5A128 128 0 0 1 512 291.6L511 281.2A117.5 117.5 0 0 0 512.2 281.1ZM512.3 291.6A128 128 0 0 1 511 291.7L510.1 281.3A117.5 117.5 0 0 0 511.3 281.2ZM510.2 291.8A128 128 0 0 1 508.9 291.9L508.2 281.4A117.5 117.5 0 0 0 509.4 281.3ZM501.1 292.2A128 128 0 0 1 499.8 292.2L499.8 281.7A117.5 117.5 0 0 0 501 281.7ZM498 292.2A128 128 0 0 1 496.8 292.2L497 281.7A117.5 117.5 0 0 0 498.2 281.7ZM492 291.9A128 128 0 0 1 490.7 291.9L491.4 281.4A117.5 117.5 0 0 0 492.6 281.5ZM490.9 291.9A128 128 0 0 1 489.7 291.8L490.5 281.3A117.5 117.5 0 0 0 491.7 281.4ZM470.8 288.8A128 128 0 0 1 469.6 288.5L472.1 278.3A117.5 117.5 0 0 0 473.2 278.6ZM469.8 288.6A128 128 0 0 1 468.6 288.3L471.2 278.1A117.5 117.5 0 0 0 472.3 278.4ZM468.8 288.3A128 128 0 0 1 467.6 288L470.2 277.9A117.5 117.5 0 0 0 471.4 278.2ZM467.8 288.1A128 128 0 0 1 466.6 287.8L469.3 277.6A117.5 117.5 0 0 0 470.5 277.9ZM464.8 287.3A128 128 0 0 1 463.6 286.9L466.6 276.8A117.5 117.5 0 0 0 467.7 277.2ZM457 284.8A128 128 0 0 1 455.8 284.3L459.4 274.5A117.5 117.5 0 0 0 460.5 274.9ZM440 277.2A128 128 0 0 1 438.8 276.6L443.8 267.4A117.5 117.5 0 0 0 444.9 268ZM439 276.8A128 128 0 0 1 437.9 276.1L443 266.9A117.5 117.5 0 0 0 444 267.5ZM432 272.6A128 128 0 0 1 430.9 271.9L436.5 263.1A117.5 117.5 0 0 0 437.5 263.7ZM429.4 270.9A128 128 0 0 1 428.3 270.2L434.2 261.5A117.5 117.5 0 0 0 435.2 262.2ZM416.3 261.1A128 128 0 0 1 415.3 260.2L422.3 252.3A117.5 117.5 0 0 0 423.2 253.1ZM414 259A128 128 0 0 1 413 258.1L420.1 250.4A117.5 117.5 0 0 0 421 251.2ZM413.2 258.3A128 128 0 0 1 412.2 257.4L419.4 249.7A117.5 117.5 0 0 0 420.3 250.5ZM412.4 257.5A128 128 0 0 1 411.5 256.6L418.7 249.1A117.5 117.5 0 0 0 419.6 249.9ZM407.2 252.3A128 128 0 0 1 406.3 251.4L414 244.2A117.5 117.5 0 0 0 414.8 245.1ZM402.4 247A128 128 0 0 1 401.5 246L409.6 239.3A117.5 117.5 0 0 0 410.4 240.2ZM401.1 245.4A128 128 0 0 1 400.2 244.4L408.4 237.8A117.5 117.5 0 0 0 409.2 238.7ZM395.5 238.1A128 128 0 0 1 394.8 237.1L403.4 231.1A117.5 117.5 0 0 0 404.1 232ZM394.3 236.4A128 128 0 0 1 393.6 235.4L402.3 229.5A117.5 117.5 0 0 0 403 230.5ZM393.8 235.6A128 128 0 0 1 393 234.5L401.8 228.8A117.5 117.5 0 0 0 402.5 229.7ZM393.2 234.7A128 128 0 0 1 392.5 233.7L401.3 228A117.5 117.5 0 0 0 402 229ZM392.6 233.9A128 128 0 0 1 391.9 232.8L400.8 227.2A117.5 117.5 0 0 0 401.4 228.2ZM387.4 225.2A128 128 0 0 1 386.8 224L396.1 219.1A117.5 117.5 0 0 0 396.7 220.2ZM385.6 221.5A128 128 0 0 1 385 220.4L394.4 215.8A117.5 117.5 0 0 0 394.9 216.8ZM382.1 214.1A128 128 0 0 1 381.6 212.9L391.4 208.9A117.5 117.5 0 0 0 391.8 210ZM381.4 212.2A128 128 0 0 1 380.9 211L390.6 207.2A117.5 117.5 0 0 0 391.1 208.3ZM379.2 206.5A128 128 0 0 1 378.8 205.2L388.7 201.9A117.5 117.5 0 0 0 389.1 203ZM378.8 205.5A128 128 0 0 1 378.4 204.3L388.4 201A117.5 117.5 0 0 0 388.8 202.1ZM376.7 198.6A128 128 0 0 1 376.4 197.4L386.5 194.6A117.5 117.5 0 0 0 386.8 195.8ZM375.9 195.5A128 128 0 0 1 375.6 194.3L385.8 191.8A117.5 117.5 0 0 0 386.1 193ZM375.6 194.5A128 128 0 0 1 375.3 193.2L385.6 190.8A117.5 117.5 0 0 0 385.8 192ZM374.9 191.4A128 128 0 0 1 374.6 190.1L384.9 188A117.5 117.5 0 0 0 385.2 189.2ZM374.7 190.4A128 128 0 0 1 374.4 189L384.7 187A117.5 117.5 0 0 0 385 188.2ZM373.4 183.2A128 128 0 0 1 373.2 181.9L383.6 180.4A117.5 117.5 0 0 0 383.8 181.6ZM372.7 178A128 128 0 0 1 372.6 176.7L383.1 175.6A117.5 117.5 0 0 0 383.2 176.8ZM372.1 169.7A128 128 0 0 1 372.1 168.3L382.6 168A117.5 117.5 0 0 0 382.6 169.2ZM372 167.5A128 128 0 0 1 372 166.2L382.5 166A117.5 117.5 0 0 0 382.5 167.3ZM372 166.5A128 128 0 0 1 372 165.1L382.5 165A117.5 117.5 0 0 0 382.5 166.3ZM372 163.2A128 128 0 0 1 372 161.9L382.5 162.1A117.5 117.5 0 0 0 382.5 163.3ZM372 161.1A128 128 0 0 1 372.1 159.8L382.6 160.1A117.5 117.5 0 0 0 382.5 161.4ZM372.5 152.5A128 128 0 0 1 372.7 151.1L383.1 152.2A117.5 117.5 0 0 0 383 153.5ZM372.9 149.1A128 128 0 0 1 373.1 147.7L383.5 149.1A117.5 117.5 0 0 0 383.3 150.4ZM375 136.8A128 128 0 0 1 375.3 135.5L385.5 137.8A117.5 117.5 0 0 0 385.2 139ZM377 128.8A128 128 0 0 1 377.4 127.5L387.4 130.5A117.5 117.5 0 0 0 387.1 131.7ZM379.2 121.9A128 128 0 0 1 379.6 120.7L389.5 124.3A117.5 117.5 0 0 0 389.1 125.4ZM379.5 121A128 128 0 0 1 380 119.7L389.8 123.4A117.5 117.5 0 0 0 389.4 124.5ZM382.9 112.4A128 128 0 0 1 383.5 111.2L393 115.6A117.5 117.5 0 0 0 392.5 116.7ZM394.9 91.2A128 128 0 0 1 395.6 90.1L404.2 96.2A117.5 117.5 0 0 0 403.5 97.2ZM395.5 90.3A128 128 0 0 1 396.2 89.2L404.8 95.4A117.5 117.5 0 0 0 404.1 96.4ZM400.4 83.8A128 128 0 0 1 401.2 82.8L409.3 89.5A117.5 117.5 0 0 0 408.6 90.4ZM407 76.2A128 128 0 0 1 407.9 75.3L415.5 82.6A117.5 117.5 0 0 0 414.6 83.4ZM407.7 75.5A128 128 0 0 1 408.6 74.6L416.1 81.9A117.5 117.5 0 0 0 415.3 82.8ZM409.1 74A128 128 0 0 1 410.1 73.1L417.4 80.6A117.5 117.5 0 0 0 416.6 81.4ZM409.9 73.3A128 128 0 0 1 410.8 72.4L418.1 79.9A117.5 117.5 0 0 0 417.3 80.8ZM415.9 67.7A128 128 0 0 1 416.9 66.8L423.7 74.8A117.5 117.5 0 0 0 422.8 75.6ZM424.2 61A128 128 0 0 1 425.4 60.2L431.5 68.7A117.5 117.5 0 0 0 430.5 69.5ZM426 59.7A128 128 0 0 1 427.2 58.9L433.1 67.6A117.5 117.5 0 0 0 432.1 68.3ZM428.8 57.9A128 128 0 0 1 429.9 57.1L435.6 65.9A117.5 117.5 0 0 0 434.6 66.6ZM429.7 57.3A128 128 0 0 1 430.8 56.5L436.5 65.3A117.5 117.5 0 0 0 435.4 66ZM435.1 53.9A128 128 0 0 1 436.3 53.2L441.5 62.3A117.5 117.5 0 0 0 440.4 62.9ZM436.1 53.3A128 128 0 0 1 437.3 52.6L442.4 61.8A117.5 117.5 0 0 0 441.3 62.4ZM461.7 42.1A128 128 0 0 1 462.9 41.7L465.9 51.7A117.5 117.5 0 0 0 464.8 52.1ZM462.6 41.8A128 128 0 0 1 463.9 41.4L466.8 51.5A117.5 117.5 0 0 0 465.7 51.8ZM463.6 41.5A128 128 0 0 1 464.8 41.1L467.7 51.2A117.5 117.5 0 0 0 466.6 51.6ZM466.5 40.7A128 128 0 0 1 467.8 40.3L470.4 50.5A117.5 117.5 0 0 0 469.3 50.8ZM467.5 40.4A128 128 0 0 1 468.7 40.1L471.3 50.3A117.5 117.5 0 0 0 470.2 50.6ZM470.4 39.7A128 128 0 0 1 471.7 39.4L474 49.6A117.5 117.5 0 0 0 472.9 49.9ZM474.4 38.8A128 128 0 0 1 475.7 38.5L477.7 48.8A117.5 117.5 0 0 0 476.5 49.1ZM475.4 38.6A128 128 0 0 1 476.7 38.3L478.6 48.7A117.5 117.5 0 0 0 477.4 48.9ZM476.4 38.4A128 128 0 0 1 477.7 38.2L479.5 48.5A117.5 117.5 0 0 0 478.3 48.7ZM477.4 38.2A128 128 0 0 1 478.7 38L480.4 48.3A117.5 117.5 0 0 0 479.2 48.5ZM481.4 37.6A128 128 0 0 1 482.7 37.4L484.1 47.8A117.5 117.5 0 0 0 482.9 47.9ZM483.4 37.3A128 128 0 0 1 484.7 37.1L485.9 47.5A117.5 117.5 0 0 0 484.8 47.7ZM487.4 36.8A128 128 0 0 1 488.7 36.7L489.6 47.2A117.5 117.5 0 0 0 488.5 47.3ZM488.4 36.7A128 128 0 0 1 489.7 36.6L490.6 47.1A117.5 117.5 0 0 0 489.4 47.2ZM491.5 36.5A128 128 0 0 1 492.7 36.4L493.3 46.9A117.5 117.5 0 0 0 492.2 47Z" fill="#4689c0"/>
<path d="M532.2 40.3A128 128 0 0 1 533.4 40.6L530.7 50.8A117.5 117.5 0 0 0 529.5 50.5ZM533.2 40.6A128 128 0 0 1 534.4 40.9L531.6 51A117.5 117.5 0 0 0 530.5 50.7ZM552.2 47.3A128 128 0 0 1 553.4 47.9L549 57.4A117.5 117.5 0 0 0 548 56.9ZM556.8 49.5A128 128 0 0 1 558 50.1L553.2 59.4A117.5 117.5 0 0 0 552.2 58.9ZM575.8 61.1A128 128 0 0 1 576.8 61.8L570.5 70.2A117.5 117.5 0 0 0 569.6 69.5ZM576.6 61.7A128 128 0 0 1 577.6 62.4L571.3 70.8A117.5 117.5 0 0 0 570.3 70.1ZM580.6 64.7A128 128 0 0 1 581.6 65.6L574.9 73.7A117.5 117.5 0 0 0 574 72.9ZM590.5 73.7A128 128 0 0 1 591.4 74.6L583.9 81.9A117.5 117.5 0 0 0 583.1 81.1ZM603.8 89.2A128 128 0 0 1 604.5 90.3L595.9 96.4A117.5 117.5 0 0 0 595.2 95.4ZM613.9 105.8A128 128 0 0 1 614.5 106.9L605.1 111.6A117.5 117.5 0 0 0 604.5 110.6ZM614.8 107.6A128 128 0 0 1 615.4 108.7L605.9 113.3A117.5 117.5 0 0 0 605.4 112.2ZM617.4 113.1A128 128 0 0 1 617.9 114.3L608.2 118.4A117.5 117.5 0 0 0 607.7 117.3ZM618.9 116.9A128 128 0 0 1 619.4 118.1L609.6 121.8A117.5 117.5 0 0 0 609.2 120.7ZM619.3 117.8A128 128 0 0 1 619.8 119L609.9 122.7A117.5 117.5 0 0 0 609.5 121.6ZM622.9 128.4A128 128 0 0 1 623.2 129.6L613.1 132.5A117.5 117.5 0 0 0 612.8 131.3ZM625.3 138.2A128 128 0 0 1 625.6 139.5L615.3 141.5A117.5 117.5 0 0 0 615.1 140.4ZM626.1 142.3A128 128 0 0 1 626.3 143.5L616 145.2A117.5 117.5 0 0 0 615.8 144.1ZM626.6 145.3A128 128 0 0 1 626.8 146.6L616.4 148A117.5 117.5 0 0 0 616.2 146.8ZM626.9 147.3A128 128 0 0 1 627 148.6L616.6 149.9A117.5 117.5 0 0 0 616.5 148.7ZM627.5 152.4A128 128 0 0 1 627.6 153.7L617.1 154.5A117.5 117.5 0 0 0 617 153.3ZM627.6 154.4A128 128 0 0 1 627.7 155.7L617.2 156.4A117.5 117.5 0 0 0 617.2 155.2ZM627.7 155.4A128 128 0 0 1 627.8 156.7L617.3 157.3A117.5 117.5 0 0 0 617.2 156.1ZM627.8 156.4A128 128 0 0 1 627.8 157.7L617.3 158.3A117.5 117.5 0 0 0 617.3 157.1ZM627.8 157.5A128 128 0 0 1 627.9 158.7L617.4 159.2A117.5 117.5 0 0 0 617.3 158ZM627.9 158.5A128 128 0 0 1 627.9 159.8L617.4 160.1A117.5 117.5 0 0 0 617.4 158.9ZM628 165.6A128 128 0 0 1 628 166.9L617.5 166.6A117.5 117.5 0 0 0 617.5 165.5ZM627.5 175.8A128 128 0 0 1 627.4 177.1L616.9 176A117.5 117.5 0 0 0 617 174.8ZM627.4 176.8A128 128 0 0 1 627.2 178.1L616.8 176.9A117.5 117.5 0 0 0 616.9 175.8ZM627.2 178.8A128 128 0 0 1 627 180.1L616.6 178.8A117.5 117.5 0 0 0 616.7 177.6ZM625.8 187.9A128 128 0 0 1 625.5 189.2L615.2 187.2A117.5 117.5 0 0 0 615.5 186ZM625.6 188.9A128 128 0 0 1 625.3 190.2L615 188.1A117.5 117.5 0 0 0 615.3 186.9ZM621.4 204.7A128 128 0 0 1 621 205.9L611.1 202.5A117.5 117.5 0 0 0 611.5 201.4ZM620.4 207.6A128 128 0 0 1 620 208.8L610.1 205.1A117.5 117.5 0 0 0 610.5 204ZM619.7 209.5A128 128 0 0 1 619.2 210.7L609.5 206.9A117.5 117.5 0 0 0 609.9 205.8ZM619 211.4A128 128 0 0 1 618.5 212.6L608.8 208.6A117.5 117.5 0 0 0 609.2 207.5ZM618.6 212.4A128 128 0 0 1 618.1 213.6L608.4 209.5A117.5 117.5 0 0 0 608.9 208.4ZM618.2 213.3A128 128 0 0 1 617.7 214.5L608 210.4A117.5 117.5 0 0 0 608.5 209.3ZM617.8 214.3A128 128 0 0 1 617.3 215.4L607.7 211.2A117.5 117.5 0 0 0 608.1 210.1ZM614.8 220.8A128 128 0 0 1 614.3 221.9L604.9 217.2A117.5 117.5 0 0 0 605.4 216.1ZM541.3 285.4A128 128 0 0 1 540.1 285.8L536.8 275.8A117.5 117.5 0 0 0 537.9 275.4ZM509.2 291.9A128 128 0 0 1 507.9 292L507.3 281.5A117.5 117.5 0 0 0 508.5 281.4ZM500.1 292.2A128 128 0 0 1 498.8 292.2L498.9 281.7A117.5 117.5 0 0 0 500.1 281.7ZM499.1 292.2A128 128 0 0 1 497.8 292.2L498 281.7A117.5 117.5 0 0 0 499.1 281.7ZM489.9 291.8A128 128 0 0 1 488.7 291.7L489.6 281.2A117.5 117.5 0 0 0 490.8 281.3ZM488.9 291.7A128 128 0 0 1 487.6 291.6L488.7 281.2A117.5 117.5 0 0 0 489.8 281.3ZM487.9 291.6A128 128 0 0 1 486.6 291.5L487.7 281.1A117.5 117.5 0 0 0 488.9 281.2ZM484.9 291.3A128 128 0 0 1 483.6 291.1L485 280.7A117.5 117.5 0 0 0 486.1 280.9ZM482.9 291A128 128 0 0 1 481.6 290.9L483.1 280.5A117.5 117.5 0 0 0 484.3 280.6ZM481.9 290.9A128 128 0 0 1 480.6 290.7L482.2 280.3A117.5 117.5 0 0 0 483.3 280.5ZM480.9 290.8A128 128 0 0 1 479.6 290.6L481.3 280.2A117.5 117.5 0 0 0 482.4 280.4ZM478.9 290.4A128 128 0 0 1 477.6 290.2L479.4 279.9A117.5 117.5 0 0 0 480.6 280.1ZM473.9 289.5A128 128 0 0 1 472.6 289.2L474.8 279A117.5 117.5 0 0 0 476 279.2ZM472.9 289.3A128 128 0 0 1 471.6 289L473.9 278.8A117.5 117.5 0 0 0 475.1 279ZM471.9 289.1A128 128 0 0 1 470.6 288.8L473 278.6A117.5 117.5 0 0 0 474.2 278.8ZM466.8 287.8A128 128 0 0 1 465.6 287.5L468.4 277.4A117.5 117.5 0 0 0 469.6 277.7ZM465.8 287.6A128 128 0 0 1 464.6 287.2L467.5 277.1A117.5 117.5 0 0 0 468.6 277.4ZM458 285.1A128 128 0 0 1 456.7 284.7L460.3 274.8A117.5 117.5 0 0 0 461.4 275.2ZM441.8 278.2A128 128 0 0 1 440.6 277.6L445.5 268.3A117.5 117.5 0 0 0 446.6 268.9ZM440.9 277.7A128 128 0 0 1 439.7 277.1L444.7 267.9A117.5 117.5 0 0 0 445.7 268.4ZM414.8 259.7A128 128 0 0 1 413.8 258.8L420.8 251A117.5 117.5 0 0 0 421.7 251.8ZM406.5 251.6A128 128 0 0 1 405.6 250.6L413.3 243.5A117.5 117.5 0 0 0 414.1 244.4ZM405 250A128 128 0 0 1 404.2 249L412 242.1A117.5 117.5 0 0 0 412.8 243ZM399.8 243.8A128 128 0 0 1 399 242.8L407.3 236.4A117.5 117.5 0 0 0 408 237.3ZM397.9 241.4A128 128 0 0 1 397.1 240.4L405.6 234.1A117.5 117.5 0 0 0 406.3 235.1ZM396.7 239.8A128 128 0 0 1 395.9 238.7L404.5 232.6A117.5 117.5 0 0 0 405.2 233.6ZM386.5 223.4A128 128 0 0 1 385.9 222.2L395.3 217.4A117.5 117.5 0 0 0 395.8 218.5ZM386 222.4A128 128 0 0 1 385.4 221.3L394.8 216.6A117.5 117.5 0 0 0 395.4 217.7ZM385.1 220.6A128 128 0 0 1 384.5 219.5L394 214.9A117.5 117.5 0 0 0 394.5 216ZM384.7 219.7A128 128 0 0 1 384.1 218.5L393.6 214.1A117.5 117.5 0 0 0 394.1 215.1ZM377 199.7A128 128 0 0 1 376.6 198.4L386.8 195.6A117.5 117.5 0 0 0 387.1 196.8ZM376.2 196.6A128 128 0 0 1 375.8 195.3L386 192.7A117.5 117.5 0 0 0 386.3 193.9ZM372.9 179A128 128 0 0 1 372.7 177.7L383.2 176.6A117.5 117.5 0 0 0 383.3 177.8ZM372.3 172.9A128 128 0 0 1 372.2 171.5L382.7 170.9A117.5 117.5 0 0 0 382.8 172.2ZM372.2 170.7A128 128 0 0 1 372.1 169.4L382.6 169A117.5 117.5 0 0 0 382.7 170.2ZM372.8 150.3A128 128 0 0 1 372.9 148.9L383.3 150.1A117.5 117.5 0 0 0 383.2 151.4ZM373.4 145A128 128 0 0 1 373.6 143.7L384 145.4A117.5 117.5 0 0 0 383.8 146.6ZM373.8 142.9A128 128 0 0 1 374 141.6L384.3 143.5A117.5 117.5 0 0 0 384.1 144.7ZM374.5 138.8A128 128 0 0 1 374.8 137.5L385.1 139.7A117.5 117.5 0 0 0 384.8 140.9ZM375.7 133.7A128 128 0 0 1 376 132.4L386.2 135A117.5 117.5 0 0 0 385.9 136.2ZM377.9 125.8A128 128 0 0 1 378.3 124.6L388.3 127.8A117.5 117.5 0 0 0 387.9 129ZM378.8 122.9A128 128 0 0 1 379.3 121.7L389.2 125.2A117.5 117.5 0 0 0 388.8 126.3ZM381.3 116.2A128 128 0 0 1 381.8 115L391.5 119.1A117.5 117.5 0 0 0 391.1 120.2ZM381.7 115.3A128 128 0 0 1 382.2 114.1L391.9 118.2A117.5 117.5 0 0 0 391.4 119.3ZM382.5 113.4A128 128 0 0 1 383 112.2L392.6 116.4A117.5 117.5 0 0 0 392.2 117.5ZM383.8 110.5A128 128 0 0 1 384.3 109.4L393.8 113.9A117.5 117.5 0 0 0 393.3 114.9ZM396.7 88.6A128 128 0 0 1 397.5 87.6L405.9 93.8A117.5 117.5 0 0 0 405.2 94.8ZM415 68.5A128 128 0 0 1 416.1 67.6L423 75.5A117.5 117.5 0 0 0 422 76.3ZM418.4 65.6A128 128 0 0 1 419.5 64.7L426.1 72.9A117.5 117.5 0 0 0 425.1 73.7ZM460.7 42.4A128 128 0 0 1 461.9 42L465 52A117.5 117.5 0 0 0 463.9 52.4ZM471.4 39.4A128 128 0 0 1 472.7 39.1L474.9 49.4A117.5 117.5 0 0 0 473.8 49.7ZM472.4 39.2A128 128 0 0 1 473.7 38.9L475.8 49.2A117.5 117.5 0 0 0 474.7 49.5ZM493.5 36.4A128 128 0 0 1 494.8 36.3L495.2 46.8A117.5 117.5 0 0 0 494 46.9Z" fill="#347db9"/>
<path d="M555 48.6A128 128 0 0 1 556.1 49.2L551.5 58.6A117.5 117.5 0 0 0 550.5 58.1ZM574.2 59.9A128 128 0 0 1 575.2 60.6L569 69.1A117.5 117.5 0 0 0 568.1 68.4ZM582.9 66.7A128 128 0 0 1 583.9 67.6L577 75.5A117.5 117.5 0 0 0 576.1 74.7ZM589 72.2A128 128 0 0 1 589.9 73.1L582.6 80.6A117.5 117.5 0 0 0 581.7 79.8ZM589.8 72.9A128 128 0 0 1 590.7 73.8L583.2 81.3A117.5 117.5 0 0 0 582.4 80.4ZM597.4 81.2A128 128 0 0 1 598.3 82.2L590.2 88.9A117.5 117.5 0 0 0 589.4 88ZM601.9 86.8A128 128 0 0 1 602.7 87.8L594.3 94.1A117.5 117.5 0 0 0 593.6 93.1ZM615.2 108.5A128 128 0 0 1 615.8 109.6L606.3 114.1A117.5 117.5 0 0 0 605.8 113.1ZM615.7 109.4A128 128 0 0 1 616.2 110.6L606.7 115A117.5 117.5 0 0 0 606.2 113.9ZM626.7 146.3A128 128 0 0 1 626.9 147.6L616.5 148.9A117.5 117.5 0 0 0 616.3 147.8ZM627.9 160.5A128 128 0 0 1 628 161.8L617.5 162A117.5 117.5 0 0 0 617.5 160.8ZM628 166.6A128 128 0 0 1 627.9 167.9L617.5 167.6A117.5 117.5 0 0 0 617.5 166.4ZM614.4 221.7A128 128 0 0 1 613.8 222.8L604.5 218A117.5 117.5 0 0 0 605 217ZM613.4 223.5A128 128 0 0 1 612.8 224.6L603.6 219.7A117.5 117.5 0 0 0 604.1 218.6ZM485.9 291.4A128 128 0 0 1 484.6 291.3L485.9 280.8A117.5 117.5 0 0 0 487 281ZM483.9 291.2A128 128 0 0 1 482.6 291L484 280.6A117.5 117.5 0 0 0 485.2 280.8ZM401.7 246.2A128 128 0 0 1 400.9 245.2L409 238.5A117.5 117.5 0 0 0 409.8 239.5ZM400.4 244.6A128 128 0 0 1 399.6 243.6L407.8 237.1A117.5 117.5 0 0 0 408.6 238ZM399.1 243A128 128 0 0 1 398.4 242L406.7 235.6A117.5 117.5 0 0 0 407.4 236.5ZM398.5 242.2A128 128 0 0 1 397.7 241.2L406.1 234.9A117.5 117.5 0 0 0 406.8 235.8ZM372.2 171.8A128 128 0 0 1 372.2 170.5L382.6 170A117.5 117.5 0 0 0 382.7 171.2ZM372 162.2A128 128 0 0 1 372 160.8L382.5 161.1A117.5 117.5 0 0 0 382.5 162.3ZM383.4 111.5A128 128 0 0 1 383.9 110.3L393.4 114.7A117.5 117.5 0 0 0 392.9 115.8ZM384.2 109.6A128 128 0 0 1 384.8 108.4L394.2 113A117.5 117.5 0 0 0 393.7 114.1ZM416.7 67A128 128 0 0 1 417.8 66.1L424.5 74.2A117.5 117.5 0 0 0 423.5 75ZM492.5 36.4A128 128 0 0 1 493.8 36.4L494.3 46.8A117.5 117.5 0 0 0 493.1 46.9Z" fill="#2270b2"/>
<path d="M500.9 58.2L500.9 55.9L501.5 56.5L502.1 56.4L502.6 56.8L503.2 56.6L503.8 56.3L504.3 58L504.9 58.1L505.6 55.7L506.2 54.6L506.8 53.9L507.4 54.5L508 53.5L508.6 53.5L509.2 53L509.7 55L510.2 55.9L510.9 54.8L511.5 54.5L512 55L512.6 55.3L513.2 54.8L513.8 55L514.4 54.4L515 54.8L515.6 54.3L516.2 54.7L516.6 55.5L517.4 54.4L517.9 55.1L518.4 55.5L519 55.8L519.5 56L520.3 54.9L520.7 56L521.2 56.3L521.8 56.6L522.4 56.5L523 56.2L523.5 56.6L524.2 56.2L524.6 57.4L525.2 57.3L525.8 57.2L526.4 57.1L526.8 58.1L527.6 57.2L528 58.2L528.7 57.7L529.2 58L529.5 59.3L530.3 58.5L529.8 62.2L530.5 62L531.1 61.7L531.9 61.3L532.6 60.9L533.1 61.3L533.4 62.1L534.2 61.5L534.9 61.3L534 63.8A106 106 0 0 0 500.9 58.2ZM536.4 64.6L537.1 62.7L537.5 63.2L538.3 62.8L538.8 63L539.6 62.6L540.2 62.7L541 62.2L541.6 62.3L541.9 63L542.3 63.7L543.2 63L543.4 63.9L544.5 62.9L544.6 64.2L545.5 63.6L546.1 63.6L546.7 63.8L546.8 64.9L547.4 65L548.4 64.4L548.6 65.2L549 65.8L549.9 65.4L550.6 65.3L551 65.6L550.7 67.6L550.8 68.6L551.2 69.2L552.7 67.6L553.3 67.6L554 67.7L554.4 68.1L555.2 67.8L555.4 68.7L556 68.8L556.6 69L557.9 67.9L558 69L558.9 68.6L559.4 68.9L559.5 69.9L559.9 70.3L560.3 70.9L561.1 70.8L561.2 71.6L562.1 71.3L562.1 72.3L562.7 72.6L560.5 76.8L561.4 76.5L564.1 73.7L563.8 75L564.4 75.3L564.7 75.8L565.6 75.5L566 76L565.7 77.4L564.6 79.8L566.6 78L564.9 80.4A106 106 0 0 0 536.4 64.6ZM566.8 81.9L568.7 79.6L568.9 80.2L569.1 80.9L569.7 81.1L570.2 81.4L571.3 80.9L571.8 81.4L573.1 80.7L573.1 81.6L573.9 81.6L571.3 85.3L571.7 85.8L575.6 82.3L576.1 82.6L576.3 83.3L577.2 83.2L577.9 83.4L577.7 84.4L578.7 84.2L578.5 85.3L579 85.6L579.6 85.8L580.2 86.1L580.4 86.7L580.9 87.1L581.3 87.5L582 87.7L582.2 88.3L583 88.3L583.2 89L583.8 89.3L584.2 89.6L584.6 90.1L585 90.5L584.9 91.4L585.6 91.6L585.9 92.1L586.6 92.4L587 92.8L587.3 93.3L587.7 93.7L588.1 94.2L588.2 94.9L588.3 95.6L589 95.8L588.8 96.6L588 98L588.4 98.4L588.4 99.2L589.3 99.2L589.5 99.8L590 100.2L590 100.9L590.3 101.4L590.1 102.2L591 102.3L590.5 103.3L591.7 103.3L591.6 104L590.6 105.4L591.1 105.7L589.7 107.3L592.2 106.4L593 106.6L592.3 107.7L592.6 108.2L593.3 108.4L593.6 108.9L593.9 109.4L591.5 110.8A106 106 0 0 0 566.8 81.9ZM592.8 112.9L593.9 112.3L594.7 112.5L594.6 113.2L595.1 113.6L595.9 113.8L595.3 114.8L595.6 115.3L597.4 115L598.7 115L599.1 115.5L597 117.1L596 118.2L597.1 118.3L599.9 117.7L601 117.8L597.8 119.9L598.2 120.3L598 121L599.4 121.1L599 121.9L598.7 122.6L599.1 123.1L603 122L602.9 122.7L603.6 123.1L602.7 124.1L600.1 125.7L603.7 124.9L604 125.5L604.1 126L604.6 126.5L604.3 127.2L604.3 127.9L604.7 128.3L603.3 129.4L604.2 129.7L604.3 130.3L603.6 131.1L603.6 131.7L603.8 132.3L604.7 132.6L603.6 133.5L604.7 133.8L603.6 134.7L603.7 135.3L602.8 136.1L602.3 136.3A106 106 0 0 0 592.8 112.9ZM602.9 138.7L603.7 138.5L604.1 139L604.8 139.4L605.6 139.8L606.4 140.2L606.8 140.7L606.3 141.4L606.9 141.8L606.4 142.5L607.2 142.9L607.1 143.6L608.4 143.9L607.3 144.7L608.6 145L608 145.7L608.5 146.2L607.8 146.9L609 147.3L608.7 147.9L609.1 148.5L609.4 149L605.4 150.1L605.4 150.7L605.8 151.2L609.7 151.3L607.3 152.2L608 152.7L608.2 153.2L605.8 154L607.7 154.4L607.4 155L608.3 155.5L608.3 156.1L607.7 156.7L607.4 157.3L607.9 157.8L608.4 158.4L607.1 159L607 159.6L607.3 160.1L607.1 160.7L607.3 161.2L606.8 161.8L607.4 162.4L606.6 162.9L606 163A106 106 0 0 0 602.9 138.7ZM606 165.4L606.8 165.5L607 166L608 166.6L608.4 167.2L608.5 167.8L608.3 168.4L608.6 169L607.9 169.5L608.6 170.1L608.1 170.7L608.8 171.3L608.8 171.9L608.1 172.4L608.9 173L607.8 173.5L607.2 174.1L607.3 174.6L607.3 175.2L607 175.8L608 176.5L605.8 176.8L606 177.4L607.1 178.1L609.3 179L607.2 179.3L607.1 179.8L607.1 180.4L606.9 181L607.3 181.6L606.7 182.1L607.2 182.8L607.5 183.4L606.9 183.9L607.2 184.6L606.2 184.9L606.7 185.6L606 186.1L605.8 186.6L605.8 187.2L605.2 187.7L604.8 188.2L605.7 189L605.4 189.5L605.6 190.1L604.5 190.5L604.8 191.1L605.2 191.8L604 192.1L602.5 192.3L602.2 192.2A106 106 0 0 0 606 165.4ZM601.5 194.6L603.6 195.2L602.8 195.6L603.2 196.3L602.9 196.8L602.5 197.3L603.4 198.2L602.7 198.5L603.4 199.4L603 199.8L602.9 200.4L603.3 201.2L602.4 201.4L602.4 202.1L602.8 202.8L601.9 203.1L602.7 204L601.8 204.3L602.3 205.1L601.1 205.2L601.1 205.9L601.2 206.5L600.9 207.1L600.7 207.6L600.5 208.1L600.6 208.8L599.8 209.1L600 209.8L600.2 210.5L600.1 211.1L600.5 211.9L599.3 212L598.6 212.3L598.7 213L598.2 213.4L598 213.9L597.8 214.5L597.2 214.8L596.9 215.3L596 215.5L596.1 216.2L595.5 216.5L594.6 216.7L592.7 215.6A106 106 0 0 0 601.5 194.6ZM591.4 217.8L593.3 218.9L593.3 219.6L593.5 220.4L592.5 220.4L593.2 221.5L592.8 222L591.9 222.1L591.8 222.7L591.7 223.4L590.8 223.5L591.3 224.5L591.3 225.2L590.9 225.6L590.6 226.1L590.9 227.1L590.7 227.6L589.8 227.7L589.3 228.1L589.4 228.9L589.6 229.7L589 230L588.9 230.7L587.7 230.5L587.4 231L587 231.5L586.8 232L583.4 230.1L584.1 231.4L582.8 231.1L586 234.4L584.5 234L584.7 234.9L584.4 235.4L583.4 235.3L582.9 235.7L582.3 235.9L581.7 236.1L581.9 237.1L581.1 237.2L581.1 238L580.7 238.5L580.6 239.1L579.5 238.9L578.7 238.9L576.9 237.2A106 106 0 0 0 591.4 217.8ZM575.1 239L577.2 241L577 241.7L576.3 241.8L576.7 243L576 243.1L573.3 241.2L573 241.6L572.5 242L575.5 246L574.5 245.9L574.2 246.4L574.6 247.7L574.3 248.2L573.4 248.2L572.7 248.3L572.3 248.7L572 249.2L572.2 250.4L571.1 250.1L570.7 250.4L570.6 251.3L569.4 250.7L569.7 252L569.1 252.2L568.1 251.9L567.6 252.2L567.4 253L566.8 253.2L566.3 253.4L565.5 253.4L564.5 252.9L564.3 253.7L563.2 253.2L563 253.9L561.7 253L560.5 251.3A106 106 0 0 0 575.1 239ZM558.4 252.7L559.8 254.7L559.4 255.2L559.3 256.1L558.5 256L558.1 256.4L558.3 257.9L557.9 258.3L557.9 259.5L557.4 259.8L557.2 260.6L556.7 261L556.1 261L555.5 261.3L555.2 261.8L554.4 261.8L553.8 261.8L553.1 261.9L552.4 261.7L552.3 262.8L551.7 262.9L551.2 263.3L550.3 262.8L549.6 262.7L549.3 263.5L548.5 263.3L548.2 263.9L547.5 263.7L546.7 263.4L545.9 263.1L545 262.6L544.8 263.6L543.6 260.8A106 106 0 0 0 558.4 252.7ZM541.3 261.8L542.1 263.7L541.8 264.5L541.1 264.2L540.7 265L540 264.7L539.9 266.1L539.3 266.1L539 267L538.5 267.1L537.9 267.4L537.5 268L536.8 267.6L536.8 269.4L536.3 269.7L535.8 270.1L535 269.5L534.5 270L533.8 269.9L533.5 270.7L532.9 270.8L532.5 271.6L531.8 271.3L531 270.7L530.6 271.3L530 271.3L529.3 271.1L528.6 270.9L528.2 271.4L527.6 271.5L527 271.7L526.6 272.3L525.9 272.1L525.2 271.8L524.6 271.5L523.8 270.8L523.2 270.6L522.7 271.1L522 270.7L521.5 270.9L520.9 268.1A106 106 0 0 0 541.3 261.8ZM518.5 268.6L518.8 270.5L518.2 270.6L517.8 271.7L517.2 271.2L516.3 269.5L516 271.5L515.5 272.2L515.1 273.1L514.5 272.8L513.8 272.4L513.3 273.4L512.8 273.5L512.1 273L511.5 272.7L510.9 272.9L510.4 273L509.8 273L509.2 273.2L508.5 271.7L507.8 270.3L507.3 270.2L506.8 271.4L506.2 271L505.7 273.6L505.1 272.5L504.5 272.8L503.9 272.8L503.4 272.5L503.3 270.1A106 106 0 0 0 518.5 268.6ZM500.8 270.2L500.8 272.9L500.2 273.2L499.6 273.4L499 274.1L498.5 273.4L497.9 273.3L497.3 274.4L496.7 274.1L496.1 275.2L495.5 274.6L494.9 273.9L494.3 274.6L493.7 274.8L493.1 275.5L492.4 275.8L491.9 275.2L491.3 275.1L490.6 275.7L490.1 275.3L489.5 275.5L488.9 275.3L488.3 275.2L487.6 276L487 275.9L486.5 275.1L485.9 274.7L485.4 274.1L484.7 275L484.1 274.7L483.6 274.3L483.1 273.7L482.5 273.5L481.9 273.2L481.6 271.7L481.1 270.9L481.5 268.6A106 106 0 0 0 500.8 270.2ZM479.1 268.1L478.6 270.6L478 270.5L477.5 270.2L476.7 271L476.2 270.8L475.5 271L474.7 271.9L474.2 271.5L473.4 272.1L473.1 270.9L472.2 272L471.8 271.1L471.1 271.6L470.4 271.8L469.9 271.4L469.4 270.9L468.7 271.3L468.4 270.1L467.6 270.6L467.2 269.9L466.4 270.5L466.1 269.4L465.6 269.2L465 268.9L464.5 268.6L463.9 268.5L463.4 268L462.8 268.2L462.7 266.6L462 266.8L461.8 265.7L462.7 263.4A106 106 0 0 0 479.1 268.1ZM460.3 262.5L459.7 264L459 264.3L458.3 264.5L457.9 263.9L457.3 263.9L456.6 264.1L456.4 263L455.5 263.7L455 263.3L455.4 261L454.9 260.8L454.3 260.8L452.7 262.8L452.1 262.6L451.5 262.5L451.6 261.1L451 260.9L450.4 260.9L449.9 260.5L449.4 260.3L448.8 260.1L448.8 258.9L448.5 258.3L448.2 257.6L447.5 257.8L447.1 257.4L447 256.3L446.2 256.6L445.6 256.6L445.4 255.6L445.7 255.2A106 106 0 0 0 460.3 262.5ZM443.6 253.9L442.5 255.5L442.4 254.8L441.1 255.7L440.8 255.1L440.2 254.9L439.2 255.3L439.3 254.2L438.3 254.6L437.5 254.7L437.1 254.2L437.2 253.1L436.5 253.1L435.7 253.2L436.6 250.9L435.2 251.9L434.7 251.6L434.5 250.9L433.4 251.4L433.2 250.6L432.9 250.1L432.2 250L432.3 249L431.8 248.7L431.7 247.9L431.4 247.4L432.5 246A106 106 0 0 0 443.6 253.9ZM430.6 244.4L429.6 245.5L429.5 244.8L428.7 244.9L427.6 245.2L427.6 244.3L427.7 243.4L426.7 243.7L427 242.5L425.8 243L425.4 242.5L425.7 241.4L424.9 241.4L424 241.5L423.7 241L423.4 240.6L423.6 239.5L423.3 239L422.6 239L422.5 238.2L421.6 238.3L420.6 238.5L420.6 237.7L419.6 237.9L419.9 236.8L419 236.8L419.7 235.4L420.7 234.5A106 106 0 0 0 430.6 244.4ZM419.1 232.7L417.6 233.9L416.5 234L415.8 233.9L414.4 234.2L413.8 233.9L413.5 233.5L413.4 232.7L412.5 232.7L412.4 232L411.5 231.9L411.1 231.5L410.5 231.2L410.2 230.7L410.3 229.8L409.3 229.8L409.2 229.2L408.4 229L408.4 228.2L408.7 227.3L408.8 226.5L408.8 225.8L407.6 225.8L407.8 225L408.6 223.8L408.5 223.1L408.2 222.6L410.6 221.1A106 106 0 0 0 419.1 232.7ZM409.3 219L407.7 220L407.3 219.5L407 219L407.9 217.8L407 217.6L403.5 218.9L403.1 218.4L402.8 217.9L402.1 217.6L402.9 216.5L404.9 214.8L404 214.6L403.5 214.1L403.5 213.5L403.9 212.6L402.9 212.5L402.9 211.8L403.5 210.9L403.2 210.4L403.7 209.4L404.1 209.3A106 106 0 0 0 409.3 219ZM403 207L401.6 207.7L401.6 207L400.5 206.9L400.9 206.1L401.7 205.1L401 204.8L400.2 204.5L397.7 204.9L398.2 204L397.2 203.8L397.8 202.9L397.1 202.5L396.7 202.1L396.7 201.4L396.1 201.1L396.8 200.2L396.4 199.7L397.1 198.8L396.1 198.5L396.7 197.8L396.4 197.2L397.5 196.3L398.8 195.9A106 106 0 0 0 403 207ZM398.1 193.5L396.2 194L395.4 193.6L393.6 193.5L393.5 192.9L393.3 192.4L392.6 191.9L391.9 191.5L391.6 190.9L391.7 190.3L392.1 189.6L391 189.2L391.2 188.6L391.2 188L391.3 187.3L392.2 186.5L392.1 185.9L392.8 185.2L393.5 184.5L395.9 184A106 106 0 0 0 398.1 193.5ZM395.4 181.6L393 182L392.6 181.5L390.6 181.2L390 180.7L390.7 180L390.3 179.4L389.1 179L388.5 178.5L389.4 177.8L394.1 176.6L393.7 176.1L389.3 176L390.3 175.3L392.1 174.5L392.3 174L394.4 173.8A106 106 0 0 0 395.4 181.6ZM394.2 171.3L392.4 171.4L391.9 170.9L391.4 170.3L390.9 169.8L391.9 169.1L390.4 168.6L391.3 168L392.4 167.4L393 166.8L390.8 166.3L390.9 165.7L392.1 165.1L393.7 164.6L393.2 164L392.3 163.4L392.5 162.9L392.4 162.3L392.8 161.7L392.6 161.2L393.3 160.6L394.1 160.6A106 106 0 0 0 394.2 171.3ZM394.2 158.1L392.9 158.1L391.9 157.4L391.8 156.8L391.3 156.2L391.9 155.7L391.5 155L391.7 154.5L394.2 154.1L390.8 153.2L391.4 152.6L392.5 152.2L393 151.6L393.5 151.1L392.9 150.4L394.9 150.7A106 106 0 0 0 394.2 158.1ZM395.2 148.2L392.9 147.9L393.5 147.4L392.3 146.6L393.1 146.1L392.8 145.4L392.1 144.7L392.8 144.2L392 143.5L391.8 142.8L392.1 142.3L391.6 141.5L392.6 141.1L392.4 140.5L392.9 140L392.7 139.3L393.6 138.9L394.8 138.6L394.9 138L395.5 137.5L397.3 138A106 106 0 0 0 395.2 148.2ZM397.9 135.6L395.5 134.9L395.4 134.2L394.5 133.3L395.3 132.9L394.1 131.9L394.8 131.5L395.2 131L394.7 130.2L394.7 129.6L395.6 129.2L394.9 128.4L395.7 128L396.7 127.7L397.3 127.3L397.4 126.7L398.5 126.4L398.4 125.8L400.9 126.7A106 106 0 0 0 397.9 135.6ZM401.8 124.4L400.6 123.9L400.2 123.1L399.5 122.1L399 121.3L399.4 120.8L399.4 120.1L400.2 119.8L400.7 119.3L400.3 118.5L400.3 117.8L401.4 117.7L402.1 117.3L401.9 116.6L403.6 116.7L404.9 117.4A106 106 0 0 0 401.8 124.4ZM406 115.1L404.4 114.3L404.4 113.6L404 112.7L404.6 112.4L404.4 111.6L404 110.7L405.2 110.7L404.8 109.7L405.2 109.3L405.5 108.8L404.8 107.7L407.5 108.6L409 108.8L408.3 107.7L409.7 108.6A106 106 0 0 0 406 115.1ZM411.1 106.5L409.7 105.6L409.9 105.1L409.3 104L409.8 103.6L409 102.3L409.7 102.1L410.1 101.6L410.4 101.1L410.7 100.6L411.1 100.1L413.1 100.8L413.3 100.3L414.5 100.4L415 100.8A106 106 0 0 0 411.1 106.5ZM416.6 98.8L414.2 97L414.4 96.4L414 95.3L413.6 94.2L414.1 93.9L414.5 93.4L414.7 92.7L415.2 92.4L416.2 92.5L416.7 92.1L416.1 90.7L417.5 91.2L418.1 90.9L418.8 90.8L421.4 93.1A106 106 0 0 0 416.6 98.8ZM423.1 91.3L421.2 89.5L420.7 88.2L420.6 87.3L421.5 87.4L421.4 86.4L421.6 85.8L422.7 86.1L422.6 85.2L423.1 84.8L423.7 84.6L424.3 84.4L426 85.4L426.9 85.5L427.9 86.5A106 106 0 0 0 423.1 91.3ZM429.7 84.8L427.9 82.8L427.8 81.8L428 81.1L428.2 80.5L428.4 79.8L428.4 78.9L429 78.7L429.4 78.2L430.3 78.4L430.5 77.7L431.6 78.1L432.5 78.4L432.9 77.9L433.8 78.2L435.4 80.2A106 106 0 0 0 429.7 84.8ZM437.4 78.7L436.7 77.7L436.1 75.9L436.4 75.4L436.8 74.9L436.9 73.9L437.6 74L438 73.4L438.2 72.7L438.9 72.6L440.2 73.5L441 73.6L441.6 73.5L442.6 75.1A106 106 0 0 0 437.4 78.7ZM444.7 73.7L443.6 71.9L443.3 70.2L443.7 69.8L443.8 68.9L443.9 67.8L444.3 67.3L445.1 67.5L447.1 69.9L448.4 71.1L448.7 70.4L448.3 68.5L449.6 70.9A106 106 0 0 0 444.7 73.7ZM451.8 69.8L451.4 68.8L451.4 67.7L451.8 67L452.5 67.2L452.7 66.2L453.3 65.9L453.4 64.8L454.3 65.2L454.8 64.9L455.3 64.6L456.6 66.1L457.3 66.1L457.7 65.6L458.4 65.7L458.9 65.3L459.3 66.3A106 106 0 0 0 451.8 69.8ZM461.6 65.4L460.9 63.5L461.4 63.1L461.7 62L462.3 61.7L462.8 61.3L463.5 61.2L464.7 62.6L465.2 64.1A106 106 0 0 0 461.6 65.4ZM467.6 63.3L467 61.5L467.7 62L468.1 61.2L468.9 62L469 60.5L469.5 60.1L470.2 60.2L470.8 60.3L471.1 59.2L471.6 59.1L472.2 59.1L472.9 59.2L473.2 58.1L473.8 58.1L474.5 58.7L474.9 57.8L475.5 57.8L475.9 57L476.6 57.8L477.3 58.3L477.8 57.9L478.4 57.5L479 57.8L479.5 57.4L480.1 57.3L480.7 57.8L481.2 56.9L481.7 56.9L482.4 57.1L483 57.3L483.5 57L484 56.3L484.6 56.9L485.1 56.1L485.7 56.3L486.3 56.6L486.9 56.6L487.4 56.2L488 56.2L488.7 56.8L489.2 56.2L489.8 57.1L490.3 56.5L490.9 56.3L491.5 56.7L492.1 56.8L492.6 56.2L493.3 57.4L493.8 57.2L494.4 56.6L495 57.3L495.5 57.5L495.6 58.3A106 106 0 0 0 467.6 63.3Z" fill="#eca3a0" stroke="#c98a86" stroke-width="0.35" stroke-linejoin="round"/>
<path d="M500.8 69.2L500.9 66.6L501.4 66L501.9 65.3L502.4 65.9L502.9 66L503.5 65.5L504 64.7L504.6 64.9L505 66.3L505.6 66L506.1 66.3L506.6 66.5L507.2 65.4L507.8 63.4L508.3 63.8L508.9 63.2L509.5 63.5L510.1 62.8L510.6 62.9L511.1 63.5L511.7 62.6L512.1 64L512.6 64L513.2 63.9L513.7 64L514.2 64.1L514.9 63.4L515.5 62.8L516 63.1L516.5 63.3L516.9 64.5L517.5 64.1L518.1 64L518.6 64.3L519.2 64L519.5 65L520.1 64.9L520.7 64.7L521.2 65L521.6 65.6L522.2 65.5L522.7 65.6L523 66.6L523.5 66.8L524.2 66L524.6 66.9L525.3 66.2L525.6 67.1L526.3 66.7L526.5 67.8L527.2 67.3L527.5 68.2L528 68.5L528.7 68L527.8 72.6L528.2 73.1L529.7 70L530.2 70.2L530.8 70.1L531.3 70.2L531.3 72L530.5 74.2A95 95 0 0 0 500.8 69.2ZM532.6 75L533 74L534.4 71.5L535.1 71.3L535.5 71.7L535.8 72.4L536.6 71.9L537.3 71.5L537.8 71.6L538.5 71.4L538.4 72.9L539 72.8L539.6 72.8L540.1 73L541.1 72L541.2 73.2L542.1 72.3L542.7 72.5L542.7 73.6L543.5 73.2L544.3 72.8L544.7 73.2L545.1 73.6L545.2 74.6L545.8 74.7L546.3 74.7L547.3 74L547.4 75L548 75.1L548.6 75.1L549.4 74.8L549.6 75.4L550 75.8L550 76.9L551 76.3L551.4 76.7L551.7 77.1L552.5 76.9L552.2 78.4L552.6 78.9L553 79.3L552 81.8L553.7 80.1L553.9 80.7L554.6 80.6L554.9 81.1L555.4 81.4L555.9 81.6L556.5 81.6L557 81.8L557.2 82.5L557.3 83.2L557.2 84.3L557.9 84.3L558.5 84.3L559 84.5L559.2 85.1L559 86.2L559.4 86.5L559.5 87.2L558.1 89.1A95 95 0 0 0 532.6 75ZM559.9 90.4L561.7 88.2L562.8 87.7L562.8 88.5L563.8 88.1L563.7 89.1L565 88.3L565.4 88.7L566.5 88.2L566.8 88.7L567.3 88.9L565.4 91.8L566.2 91.7L566.6 92L566.9 92.5L568 92.1L567.7 93.2L568.7 92.9L569 93.4L569.5 93.6L569 94.9L570 94.6L570.2 95.1L570.6 95.4L570.6 96.2L573.4 94.2L573.6 94.8L574.6 94.6L575 94.9L575.9 94.9L575.1 96.3L575.6 96.6L576.9 96.2L572.1 101L573.4 100.6L577.2 98L577.4 98.6L578 98.7L578.5 99.1L575.4 102.3L574.3 103.8L574.3 104.5L578.7 101.7L579.7 101.6L579.3 102.6L580.4 102.4L579.5 103.7L581 103.3L580.4 104.4L581.5 104.2L582.2 104.4L582.8 104.6L583.5 104.8L582.5 106.2L583 106.4L583.2 107L583.2 107.6L583.7 107.9L584.5 108L584.9 108.4L584.1 109.6L584.9 109.7L584.5 110.6L584.3 111.3L584.5 111.8L584.4 112.5L584.8 112.9L583.9 114L584.2 114.5L583.7 115.4L582 116.3A95 95 0 0 0 559.9 90.4ZM583.1 118.3L584.9 117.3L585.4 117.6L585.7 118L587.5 117.7L587.1 118.4L587.9 118.6L587.5 119.4L588.3 119.6L589.1 119.8L588.6 120.6L589.4 120.8L590 121.1L590.1 121.6L591.2 121.7L590.4 122.7L590.7 123.1L591.2 123.5L591.9 123.7L591.7 124.4L591.5 125.1L592.4 125.2L590.1 126.8L593.5 125.9L593.4 126.6L593.9 126.9L591.3 128.5L594.6 127.8L593.4 128.8L593.5 129.4L595 129.4L591.5 131.2L589.8 132.4L591.3 132.4L594.4 131.9L594 132.5L594.1 133.1L592.9 134L592.7 134.6L595.5 134.3L595.4 134.8L595.5 135.4L595 136.1L594.7 136.7L594.7 137.3L594.6 137.8L592.9 138.8L591.6 139.2A95 95 0 0 0 583.1 118.3ZM592.2 141.3L596.1 140.4L596.1 140.9L593.5 142.1L597.4 141.7L597.1 142.3L597.9 142.6L597.4 143.3L597.9 143.7L599.2 144L599.5 144.5L599 145.1L599.3 145.6L600.2 146L599.8 146.6L599.5 147.2L599.8 147.7L600.3 148.1L601.6 148.5L601.1 149.1L600.9 149.7L599.9 150.3L599.8 150.9L600 151.4L602 151.7L600.9 152.3L600.8 152.9L600.3 153.5L600 154.1L600.5 154.5L597.3 155.4L596.7 155.9L595.2 156.6L600.6 156.7L600.7 157.2L600.1 157.7L599 158.3L598.9 158.9L599.7 159.4L599.7 159.9L598.5 160.4L598.1 161L598.9 161.5L598.5 162L597.8 162.5L597.9 163L595 163.1A95 95 0 0 0 592.2 141.3ZM595 165.3L597.6 165.4L598.1 165.9L599.3 166.4L599.1 167L599.8 167.5L599.3 168L599.9 168.6L599.5 169.1L600.1 169.7L600.4 170.2L600 170.7L595.3 170.9L596.1 171.5L601.5 172.4L601.3 173L601.7 173.6L601.6 174.1L601.6 174.6L602.2 175.2L602.1 175.8L601.3 176.2L602 176.9L601.9 177.4L601.9 178L601.8 178.5L601.6 179L601.6 179.6L601 180.1L601.5 180.7L601.2 181.2L601.1 181.7L600.1 182.1L600.6 182.7L600.2 183.2L599.6 183.7L599.5 184.2L599.2 184.7L598.1 185L598 185.5L596.8 185.8L597.2 186.4L596.8 186.9L594.6 186.9L595.7 187.7L596.4 188.4L595.2 188.7L595.6 189.3L595.4 189.8L593.5 189.8L591.6 189.3A95 95 0 0 0 595 165.3ZM591 191.5L593.2 192.1L593.1 192.6L594.5 193.6L593.7 193.9L593.5 194.4L594.7 195.3L593.2 195.4L593.3 195.9L593.7 196.6L593.3 197L593.6 197.7L593.9 198.3L593.6 198.8L593.3 199.2L592.4 199.5L588.9 198.7L592.9 200.8L592 201L593.2 202L591.8 202L591.3 202.4L591.2 202.9L592 203.8L587.3 202.4L590.5 204.3L590.7 205L590 205.2L589.6 205.6L589.7 206.2L590.3 207.1L588.8 207L591.3 208.7L590.8 209.1L590.9 209.7L590.3 210L589.3 210.1L588.8 210.5L588 210.6L587.5 211L587.2 211.4L586.9 211.8L585.5 211.6L583.1 210.3A95 95 0 0 0 591 191.5ZM582 212.2L584.7 213.8L583 213.4L581.7 213.3L582.7 214.5L583.5 215.6L584.3 216.7L584.6 217.5L584.2 217.9L584 218.4L583.6 218.7L582.9 219L582.6 219.4L583.7 220.8L582.3 220.5L582.4 221.2L581.8 221.4L582.8 222.7L582.7 223.4L581.8 223.4L582.8 224.8L581.8 224.7L581.8 225.4L581.1 225.5L580.4 225.7L579.9 226L579.8 226.6L579.2 226.8L579.7 227.9L579.1 228.1L578.5 228.3L577.6 228.3L577.7 229.1L577.1 229.3L576.1 229.1L577.2 230.7L576.6 230.9L575.8 231L574.7 230.8L574.8 231.5L573.8 231.3L573.2 231.6L572.9 232L572 231.9L570.9 231.5L568.9 229.6A95 95 0 0 0 582 212.2ZM567.3 231.2L570 233.9L569.1 233.8L569.2 234.5L569.7 235.9L568.8 235.6L569.9 237.6L569.5 238L569.3 238.5L569.4 239.4L568.9 239.7L566.7 238.1L566.4 238.6L565.1 237.8L564.8 238.3L565.2 239.6L564.7 239.8L564.4 240.3L563.3 239.8L563.7 241L563.4 241.5L562.8 241.7L562.7 242.4L562.5 243L562.4 243.7L561.3 243.2L560.9 243.5L559.9 243.1L560.2 244.4L558.9 243.5L559 244.5L558 244.1L558 244.9L557 244.4L555.9 243.7L556.1 245L554.2 242.2A95 95 0 0 0 567.3 231.2ZM552.3 243.5L553.9 245.8L553.6 246.3L553.4 247L553.3 247.8L552.5 247.6L552.3 248.2L552.6 249.8L551.7 249.2L551.7 250.2L551.4 250.8L551 251.2L550.3 251.1L550.1 251.9L549.9 252.5L549.1 252.3L548.4 252L548.6 253.5L548.1 253.7L546.6 252.2L545.9 251.8L545 251.3L544.5 251.4L544.5 252.7L543.5 251.9L543.3 252.6L542.3 251.8L542.3 253L541.4 252.2L541.3 253.2L540.3 252.3L540.1 253.2L539.1 250.8A95 95 0 0 0 552.3 243.5ZM537 251.7L537.9 253.8L537.8 254.8L537.3 255.1L537 255.8L536.4 255.5L536.2 256.6L535.7 256.8L534.8 255.9L534.5 256.4L534.4 257.8L534 258.2L533.5 258.3L532.6 257.3L532.4 258.3L531.9 258.7L531.2 258.1L530.6 257.9L529.6 256.6L530 259.5L529.3 259.1L529 259.8L528.3 259.3L527.7 259.3L527.2 259.3L527 260.8L526.2 259.9L525.5 259L525.2 260.1L524.4 259L524 259.9L523.5 260L522.9 259.6L522.4 259.6L522 260.4L521.4 260.1L520.9 260.3L520.4 260.1L519.6 258.9L519.1 258.9L518.7 257.3A95 95 0 0 0 537 251.7ZM516.5 257.7L517.1 260.8L516.6 261.2L516.2 262.1L516 263.8L515.3 262.7L515 264.8L514.6 265.4L514 265.1L513.5 265.8L512.9 264.9L512.4 266L511.8 265L511.3 265.2L510.8 266L510.3 266.5L509.7 266.5L509.1 265.7L508.4 263.8L507.9 263.8L507.4 263.9L506.8 263.9L506.2 262.9L505.7 262.9L505.2 263.6L504.6 262.2L504.1 261.9L503.6 262.6L503 261.6L502.9 259.2A95 95 0 0 0 516.5 257.7ZM500.7 259.2L500.7 262.2L500.2 262.6L499.7 261.6L499.1 263.2L498.6 263.7L498.1 262.6L497.6 260L497.1 261.1L496.5 264.1L495.9 264.4L495.4 263.9L494.9 263.5L494.5 259.8L494 260.3L493.2 264.8L492.7 264.4L492.2 264.1L491.6 263.8L491 264.8L490.5 264.1L490.1 263.2L489.5 263.4L489.2 261.1L488.7 261.1L488.2 261.1L487.5 262.3L487.1 261.2L486.4 262.4L486 261.8L485.6 260.5L485 261.1L484.6 260L484 260.4L483.9 258.2L483.2 259.2L483.5 257.7A95 95 0 0 0 500.7 259.2ZM481.3 257.3L480.6 260.5L480.3 259.5L479.5 260.7L478.9 261L478.2 261.5L477.7 261.3L477 261.9L476.7 261L476 261.7L475.5 261.4L475.1 260.7L474.4 261.2L473.8 261.5L474 258.7L474.2 256L473.7 255.8L472.2 259.4L471.8 258.6L471.3 258.4L470.5 259.4L470 259.1L469.5 258.8L468.4 260.6L468 259.9L467.6 259.6L467.1 259.2L466.4 259.7L466.1 258.8L465.7 258.4L465.6 257.2L465.4 256.1L466.5 253.1A95 95 0 0 0 481.3 257.3ZM464.5 252.3L463.3 255.2L462.9 254.8L462.3 254.9L461.4 255.7L460.9 255.4L460.6 254.9L460 254.9L459.4 254.9L459 254.6L458.3 254.8L457.8 254.6L457.2 254.6L456.4 255L455.9 254.8L456 253.5L455.4 253.5L454.5 254L454.1 253.7L452.8 255L452.8 253.9L451.8 254.5L452.2 252.7L451.1 253.6L451.5 251.8L450.5 252.4L450.7 250.9L450.6 250.1L449.6 250.7L449.4 250.1L449.7 248.4L451.3 245.8A95 95 0 0 0 464.5 252.3ZM449.4 244.6L448.1 246.6L447.9 246L446.8 246.7L446.4 246.4L445.4 247L445.5 246L444.2 246.9L444.2 246L445.4 243.3L444.2 244.2L444 243.5L442.4 244.9L441.6 245L441.2 244.6L440.7 244.5L440.3 244.2L440 243.6L439.5 243.4L439.7 242.3L438.6 242.8L438.7 241.8L438 241.9L438.7 240.2L437.9 240.3L438.1 239.2L439.5 237.5A95 95 0 0 0 449.4 244.6ZM437.8 236L436.3 237.8L434.8 238.7L433.9 239L433.3 238.8L432.5 238.9L432.8 237.8L431.6 238.4L430.7 238.5L431.3 237.1L431.2 236.5L431.1 235.8L430.6 235.6L430.4 235L430.6 234.1L427.4 236.5L427.6 235.6L427.1 235.3L427.2 234.5L426.9 234.1L426.2 234L426.3 233.1L426.7 232.1L427.7 230.4L425.9 231.3L425.9 230.7L426 229.8L428.9 227.2A95 95 0 0 0 437.8 236ZM427.5 225.6L425.6 227.1L424.7 227.2L424.4 226.8L424.3 226.2L423.6 226L422.5 226.2L422.3 225.7L423 224.4L421.7 224.8L421.2 224.5L421.7 223.4L420.6 223.6L420.9 222.7L419.7 222.9L419.5 222.5L419.7 221.6L419.6 221.1L419.2 220.7L419.7 219.7L418.7 219.8L419.2 218.7L419.4 218L418.6 217.9L419.7 216.6L419 216.4L418.1 216.3L419.9 215.2A95 95 0 0 0 427.5 225.6ZM418.7 213.3L416.9 214.4L415.2 214.8L414.8 214.4L414.3 214L414.5 213.3L413.2 213.4L413 212.9L413 212.3L412.4 212L411.1 212.1L411.8 211.1L410.9 210.9L410.8 210.4L411.2 209.6L410.9 209.1L410.7 208.6L411.9 207.4L411 207.2L411.6 206.4L412.3 205.4L414 204.6A95 95 0 0 0 418.7 213.3ZM413.1 202.6L410.8 203.6L408.9 203.8L410.1 202.7L409.2 202.6L408.9 202.1L408.2 201.8L405.3 202.4L406.6 201.3L410.8 199.1L404.8 200.9L404.6 200.3L405 199.6L404.2 199.3L409.8 196.7L410.2 196.1L408.4 196.1L404.9 196.8L404.8 196.2L405.2 195.5L405.5 194.9L405.3 194.4L405.7 193.7L409.3 192.6A95 95 0 0 0 413.1 202.6ZM408.7 190.4L405.5 191.3L405.5 190.8L404.9 190.4L404.6 189.9L404.2 189.5L403.8 189L403 188.7L402.2 188.3L402.2 187.8L403 187L401.9 186.7L405.7 185.3L401.8 185.6L402.7 184.9L402 184.5L404.9 183.4L406.2 182.6L404.5 182.4L406.7 182A95 95 0 0 0 408.7 190.4ZM406.3 179.8L403.9 180.2L401.5 180L401.9 179.4L400.8 179.1L400.4 178.6L400.5 178L399.4 177.6L398.9 177.2L399.3 176.6L399.8 176L399.7 175.4L400.3 174.8L400.5 174.3L400.9 173.7L404.4 172.9L405.4 172.8A95 95 0 0 0 406.3 179.8ZM405.2 170.5L403.1 170.7L401.4 170.3L402.4 169.7L400.6 169.3L400.2 168.8L401.4 168.2L398.7 167.8L398.1 167.2L399.1 166.7L398.9 166.1L398.8 165.6L398.4 165.1L398.3 164.5L398.6 164L399.1 163.5L399 162.9L401.1 162.4L401.6 161.9L402.6 161.4L402.9 160.9L405.1 161A95 95 0 0 0 405.2 170.5ZM405.2 158.8L402.5 158.6L402.1 158.1L401.1 157.5L400.8 156.9L402.4 156.5L404.4 156.1L405.1 155.7L399.6 154.6L400.4 154.1L400.5 153.6L401.9 153.2L401.4 152.6L402.5 152.2L403.5 151.8L405.8 152.1A95 95 0 0 0 405.2 158.8ZM406.1 149.9L402.5 149.3L402.7 148.8L401.5 148.1L401.7 147.5L400.9 146.8L401.7 146.4L400.4 145.6L400.8 145.1L400.2 144.5L400.8 144L400.9 143.5L399.5 142.6L400.4 142.2L400.7 141.7L401.5 141.3L401.8 140.8L403.3 140.6L403.9 140.2L404.8 139.9L408 140.7A95 95 0 0 0 406.1 149.9ZM408.5 138.5L405.6 137.7L404.2 136.8L403.6 136L402.8 135.2L402 134.3L403.8 134.3L404.2 133.9L404 133.2L404.1 132.7L404.5 132.2L404 131.5L405.3 131.3L404.9 130.6L406.3 130.5L406.9 130.2L409.3 130.4L409.3 129.9L411.1 130.6A95 95 0 0 0 408.5 138.5ZM412 128.5L409 127.3L408 126.3L407.7 125.6L407.8 125L407.7 124.3L407.4 123.6L407.1 122.8L408.2 122.7L408.5 122.3L408.9 121.8L408.8 121.2L410.5 121.3L411.6 121.3L411.6 120.7L414.8 122.2A95 95 0 0 0 412 128.5ZM415.8 120.2L412.9 118.7L411.7 117.5L411.4 116.7L410.9 115.8L411.7 115.6L411.6 114.9L411.2 114.1L410.8 113.2L411.8 113.1L411.9 112.6L413.5 112.9L417.4 114.5L414.5 112.2L416 112.5L419.1 114.4A95 95 0 0 0 415.8 120.2ZM420.3 112.5L418.4 111.2L417.9 110.3L416.8 108.9L417.3 108.6L417.1 107.8L416.8 106.9L417.4 106.7L417.5 106.1L418.4 106.1L418.5 105.5L419 105.2L419.8 105.1L421 105.3L423.9 107.4A95 95 0 0 0 420.3 112.5ZM425.2 105.6L424.3 104.9L423.9 103.9L423.7 103.1L424 102.6L423.2 101.3L421.7 99.4L421.7 98.6L421.5 97.8L421.9 97.3L422.6 97.2L424.1 97.7L425.8 98.5L425.7 97.8L427 98.2L429.5 100.5A95 95 0 0 0 425.2 105.6ZM431.1 98.8L429.2 97.1L430.7 97.8L431.5 97.8L431.1 96.7L428.1 93L429.1 93.3L429.1 92.5L429.9 92.6L430 91.9L431 92.2L434.4 95L434.3 94.2L433.1 92.1L435.4 94.6A95 95 0 0 0 431.1 98.8ZM437 93.1L434.7 90.4L435.4 90.5L435.7 90L435.8 89.4L435.7 88.4L436.2 88.2L436.4 87.6L437.4 88L438.1 88L438.3 87.4L439.2 87.7L439.4 87.1L440.1 87.2L441.3 87.9L442.1 88.9A95 95 0 0 0 437 93.1ZM443.9 87.6L442.2 85.3L442.1 84.2L443.6 85.4L441.3 81.3L441.8 81L442.2 80.6L442.7 80.4L443.1 79.9L443.6 79.7L444.5 80L445.4 80.4L447 81.9L448.6 84.3A95 95 0 0 0 443.9 87.6ZM450.5 83.1L449.4 81.4L448.9 79.6L448.4 77.7L449.3 78.1L449 76.7L449.9 77.1L449.8 75.9L450.7 76.4L451.3 76.4L452.7 77.8L453.5 78.1L454.9 80.6A95 95 0 0 0 450.5 83.1ZM456.8 79.6L455.3 76.5L455.3 75.3L455.8 75L455.5 73.2L456.1 73.3L458.1 76L458.9 76.5L459.6 76.8L457.7 71.3L458.8 72.3L459.2 71.8L459.8 71.9L460.6 72.4L461.1 72.1L462.5 74L463.5 76.5A95 95 0 0 0 456.8 79.6ZM465.6 75.6L464.5 72.9L464.7 71.8L464.4 69.3L465.4 70.1L465.6 69.1L466.5 69.6L468.1 72.3L468.8 74.5A95 95 0 0 0 465.6 75.6ZM470.9 73.8L470.1 71.3L470.3 70L470.6 69.4L471.3 70L471.8 69.8L472.3 69.4L472.7 68.9L472.8 67.5L473.3 67.1L473.7 66.8L474 66L474.6 65.8L475.1 65.9L475.5 65L476.1 65.1L476.5 64.9L477.1 64.7L477.5 64.4L478.1 64.4L478.6 64L480.3 69.8L480.8 69.7L480.3 64.3L480.8 64L481.1 63.1L481.7 63.1L482.2 62.9L482.8 62.9L483.4 63.2L483.8 62.7L484.4 62.6L484.9 62.8L485.5 62.7L486 62.4L486.5 62.5L487.1 62.5L487.6 62.2L488.2 63.2L488.8 63.2L489.2 62.2L489.9 63.4L490.4 63L491 63.9L491.5 62.9L492.1 63.7L492.6 63.5L493.2 64.8L493.7 64.2L494.2 64.7L494.8 64.5L495.3 65L495.8 65L496 69.3A95 95 0 0 0 470.9 73.8Z" fill="#50ae8e" stroke="#3a8068" stroke-width="0.35" stroke-linejoin="round"/>
<path d="M500.7 81.7L500.7 79.9L501.2 78.7L501.6 79.5L502.1 78.3L502.6 77.6L503 79L503.4 79.5L504 77.4L504.4 78.5L504.9 78L505.4 76.7L505.8 77.9L506.3 77.7L506.7 77.8L507.2 78L507.7 77.1L508.1 77.8L508.7 76.9L508.7 80.9L509.5 77.6L510.1 76.9L510.6 76.5L511.2 75.5L511.7 75.5L512.1 75.5L512.6 75.6L513 76.1L513.4 76.6L514.1 75.4L514.5 76L514.8 76.7L515.4 76L515.6 77.8L516.3 76.4L516.7 76.7L516.9 78.1L517.6 77.3L518.1 76.9L518.6 77L519.1 77.1L519.3 78.1L519.9 77.8L520.1 79L520.5 79.1L521 79L521.6 78.5L521 82.7L521.4 83L522.9 79.1L523.4 79.3L523.8 79.5L524.2 79.7L524.3 81.2L524.8 81L525.4 80.6L524.7 84.4L525.5 83.3L525.7 84.1L526.6 82.8L526.6 84.3L526.6 85.8L526.5 86.1A82.5 82.5 0 0 0 500.7 81.7ZM528.3 86.7L528.8 85.4L529.9 83.8L530 84.9L530.5 84.7L531.2 84.2L531.5 84.6L532.3 84L532.5 84.6L533.2 84.1L533.2 85.2L533.9 84.8L534.9 83.6L535.4 83.6L535.6 84.4L536.3 83.9L536.7 84.1L537.4 83.8L537.9 83.8L538.3 84.1L538.5 84.8L539.1 84.7L539.8 84.3L540.4 84.1L540.9 84.2L540.7 85.5L541.2 85.7L541.1 86.8L541.6 86.9L542.6 86L543 86.2L543.5 86.4L544.2 86L544 87.4L544.8 87L544.9 87.7L545.2 88.1L546.2 87.4L546.3 88.2L546.8 88.2L546.9 89L547.6 88.7L548.1 88.9L547.7 90.3L547.9 90.8L549 90L548.6 91.4L549.1 91.5L550.1 91L550.3 91.5L549.8 93.1L550.2 93.2L550.5 93.7L551 93.8L551.1 94.4L551.6 94.4L552 94.7L552.1 95.3L552.3 95.8L552.5 96.4L550.5 98.9A82.5 82.5 0 0 0 528.3 86.7ZM552 100.2L553 98.9L554 98.4L554.6 98.4L555.2 98.4L555.2 99.1L555.6 99.3L556.5 99L555.6 100.6L555.6 101.4L557.4 100L557.5 100.6L558.7 100L558.4 101L558.7 101.3L559.5 101.1L559.8 101.4L559.9 102L560.3 102.3L559.4 103.8L558.4 105.5L561.3 103.2L561.3 103.9L562.7 103.1L562.5 103.9L563.6 103.6L562.8 105L564 104.5L564.6 104.5L564.7 105.1L564.5 105.9L565.5 105.6L564.9 106.8L565.3 107L566 107L565 108.4L564.6 109.4L565 109.7L565.7 109.7L565.3 110.6L566.1 110.5L566.8 110.5L565.6 112L565.1 113L566.1 112.8L566.3 113.2L566.6 113.6L566.8 113.9L568.3 113.4L567.7 114.4L568.4 114.4L569 114.5L568.5 115.5L568.7 115.8L568.9 116.3L568.7 116.9L569.6 116.9L570.6 116.7L571.5 116.7L571.1 117.5L570 118.7L571.2 118.5L571.1 119.1L571.4 119.4L572.3 119.4L572.5 119.8L572.1 120.6L571.1 121.7L571.3 122.1L572.7 121.8L571.2 122.6A82.5 82.5 0 0 0 552 100.2ZM572.2 124.3L574.6 123L574.6 123.5L576.5 123L577 123.2L576.2 124.2L577.5 124L573.7 126.5L575.6 126L578 125.3L579.1 125.3L578.9 125.9L579.9 125.9L579.6 126.6L579.7 127.1L580.7 127.1L580.1 127.9L580.3 128.3L581.7 128.2L579.2 129.8L580.4 129.8L580 130.5L580.4 130.8L580.5 131.2L580.1 131.9L579.8 132.5L580.2 132.9L580.9 133.1L581.5 133.3L580.4 134.3L580.7 134.6L581.9 134.7L581.4 135.3L581.1 135.9L581.3 136.3L581.9 136.6L579 138L582.2 137.5L581.8 138.1L582.5 138.3L582.4 138.8L582.4 139.3L582.2 139.9L582 140.4L581.1 141.1L582.4 141.2L581.9 141.8L579.6 142.5A82.5 82.5 0 0 0 572.2 124.3ZM580.1 144.3L582 143.9L582.8 144.1L582.9 144.6L584.5 144.7L584.1 145.2L583.9 145.7L583.8 146.2L585.2 146.4L585.3 146.8L585.9 147.2L586.2 147.6L586.5 148L588.1 148.2L587.8 148.7L589.1 149L588.5 149.5L588.7 150L589.4 150.3L589.5 150.8L589.4 151.3L589.2 151.8L589.7 152.2L589.8 152.7L589.8 153.2L589.6 153.7L589 154.2L588.2 154.8L588 155.3L587.1 155.8L588.3 156.2L588.1 156.7L587.6 157.2L587.9 157.6L586.7 158.2L587.6 158.6L586.8 159.1L587.2 159.5L586.5 160L586.3 160.5L586.7 160.9L585.6 161.4L586.2 161.8L585.1 162.3L585.7 162.7L584.9 163.2L582.5 163.2A82.5 82.5 0 0 0 580.1 144.3ZM582.5 165.2L585.3 165.2L585.8 165.7L585.6 166.1L585.9 166.6L585.8 167L585.5 167.5L586.3 168L586.4 168.4L585.5 168.9L583.7 169.2L583.3 169.6L584.6 170.2L584.8 170.6L582.5 170.9L585.5 171.6L586.6 172.2L586.9 172.7L587.1 173.1L586.6 173.6L586 174L585.9 174.4L586 174.9L586.5 175.4L586.9 175.9L586.7 176.4L586.2 176.8L586.3 177.3L585.5 177.6L587.2 178.4L587 178.8L587.2 179.3L581.9 178.9L581.9 179.3L587.4 180.8L587 181.2L587.1 181.7L586.5 182.1L585.7 182.4L586.1 182.9L586.3 183.4L585.3 183.7L585.7 184.3L584.4 184.5L584.5 185L583.9 185.3L584.2 185.8L584.5 186.4L582.7 186.4L582.1 186.7L579.6 186A82.5 82.5 0 0 0 582.5 165.2ZM579 187.9L581.9 188.7L582.1 189.3L582.2 189.8L582.2 190.2L582.7 190.9L582.5 191.3L581.7 191.5L581.5 191.9L581.6 192.4L581.6 192.9L582.6 193.8L583 194.4L582.3 194.6L582.4 195.2L582.5 195.7L582.5 196.2L582.2 196.6L582.1 197L582.5 197.7L582 198L582.6 198.8L581.9 199L581 199.1L581.4 199.8L581.3 200.2L581.2 200.7L579.9 200.6L580.4 201.4L579.2 201.3L579.9 202.2L580.3 202.9L579.6 203.1L579 203.3L578.6 203.6L577.7 203.7L577.2 203.9L577.6 204.6L577.4 205L575.8 204.7L575.8 205.2L573.9 204.7L573.9 205.2L572.1 204.2A82.5 82.5 0 0 0 579 187.9ZM571.2 205.9L574 207.6L574.2 208.2L573.5 208.3L574.1 209.3L573.6 209.5L572.3 209.2L571.3 209.1L570.7 209.3L571.6 210.4L569.5 209.5L573.1 212.5L573.1 213.1L573.5 213.8L573.4 214.4L573.3 214.9L573.5 215.6L573.2 215.9L572.9 216.3L572.8 216.9L573 217.6L566.6 213.5L567 214.3L567.2 215L571.9 219.2L571.6 219.6L571.3 219.9L571 220.3L570.2 220.3L569.4 220.3L569.8 221.3L569 221.2L568.2 221.1L566.9 220.7L567.4 221.7L566.8 221.8L566.1 221.8L565.7 222.1L564.5 221.6L564.4 222.2L563.8 222.3L563.1 222.3L563.5 223.2L562.9 223.3L562.3 223.4L559.8 221A82.5 82.5 0 0 0 571.2 205.9ZM558.5 222.4L560.4 224.4L559.8 224.4L560.7 226L559.9 225.7L559.6 226.2L560.3 227.5L559.5 227.3L557.6 226L556.2 225.1L556 225.6L559.1 229.7L558.7 229.9L557.5 229.3L556.7 229L556.8 229.8L556.7 230.4L555.6 229.9L556.1 231.2L554.2 229.6L553.9 230L552.3 228.7L552.7 229.9L552.9 230.8L551.8 230.2L554.8 234.7L554.1 234.7L554.1 235.4L553.5 235.4L552.5 234.9L551.9 234.8L551.9 235.6L551.4 235.7L550.6 235.5L549.5 234.6L549.4 235.3L547.1 232A82.5 82.5 0 0 0 558.5 222.4ZM545.4 233.1L547.1 235.5L546.7 235.7L547.3 237.6L546.5 237.1L546.3 237.6L546.5 238.9L546 239L546 239.9L545.6 240.1L545.5 240.8L544.6 240.3L545 241.9L544.4 241.9L544.1 242.2L543 241.3L542 240.5L542.4 242.1L541.3 241L540.7 241L540.8 242.1L540.6 242.7L540 242.7L539.4 242.5L538.9 242.5L538.4 242.7L537.8 242.5L537.6 243.1L536.7 242.2L536.5 242.9L535.3 241.5L535.4 242.6L533.9 239.4A82.5 82.5 0 0 0 545.4 233.1ZM532.1 240.2L533 242.2L532.5 242.2L532.1 242.4L532.1 243.7L531.4 243.1L531 243.3L529.9 241.6L530.8 245.3L530.9 246.8L530.6 247.5L529.8 246.5L529.9 248.2L529 247L529 248.4L528.2 247.6L528 248.6L527.3 248L527.1 248.8L526.5 248.4L526.3 249.5L525.6 248.8L525.3 249.3L525.1 250.3L524.2 248.9L523.8 249.2L523.5 249.9L522.8 249.1L522.6 250.1L522.1 250.3L521.5 249.6L521.1 249.9L520.4 249L520.1 249.9L519.6 249.9L518.8 248.4L518.4 248.6L517.6 247L517.2 247.5L516.7 247.3L516.3 245.1A82.5 82.5 0 0 0 532.1 240.2ZM514.4 245.4L514.9 248.3L514.5 248.6L513.9 248L513.7 249.3L513.3 250.1L513 251.3L512 247.7L511.9 250.3L511.5 250.7L510.9 249.2L510.6 250.7L510.1 250.4L509.6 250.3L509.1 250.1L508.8 251.4L508.3 251.5L507.8 250.8L507.2 249.7L506.8 250.5L506.3 250.1L505.9 249.8L505.4 249.6L505 250.5L504.5 249.8L504 249.6L503.6 250.2L503.1 249L502.6 248.8L502.6 246.7A82.5 82.5 0 0 0 514.4 245.4ZM500.6 246.7L500.6 248.6L500.2 249.1L499.7 249.4L499.3 249.4L498.8 249.3L498.3 250L497.8 251.3L497.4 251.1L496.9 251L496.4 251.6L496 251.7L495.5 251.7L495 251.2L494.6 251.4L494.1 251.5L493.6 251.8L493.2 250.9L492.7 251L492.2 251.3L491.7 251.6L491.3 251.5L490.8 251.4L490.4 250.4L490 250.3L489.5 250.2L489 250.2L488.5 250.9L488.1 250.3L487.6 250.5L487.4 248.6L486.8 249.6L486.6 248L486 248.5L485.5 248.7L484.9 249.4L485.6 245.4A82.5 82.5 0 0 0 500.6 246.7ZM483.7 245.1L483 248.8L482.7 247.6L482.1 248.3L481.5 249.3L480.7 250.5L480 251.3L479.5 251.3L479.1 251.1L478.5 251.4L478.2 250.7L477.6 250.9L477.2 250.6L476.7 250.6L476.2 250.7L475.5 251.3L475.1 251L474.8 250.3L474.1 250.9L473.9 250.1L473.2 250.6L473 249.6L472.6 249.4L472.2 248.8L471.7 248.9L471.4 248.5L471.1 247.7L470.8 247.1L470.2 247.5L470 246.6L469.6 246.2L469.5 245.3L470.9 241.4A82.5 82.5 0 0 0 483.7 245.1ZM469.1 240.7L468.1 243.1L467.3 243.9L466.6 244.5L465.8 245.3L465.5 244.8L464.7 245.3L463.7 246.5L463.5 245.8L462.7 246.4L462.2 246.4L462 245.5L461.3 246L460.8 245.8L460.5 245.4L460 245.4L459.5 245.2L459.1 244.9L458.8 244.5L458.3 244.5L458.3 243.4L457.9 243.2L457.4 243L457.5 241.8L457.4 241.1L456.4 241.9L456.8 240.3L456.3 240.2L455.7 240.2L455.8 239.2L455.5 238.7L457.7 235A82.5 82.5 0 0 0 469.1 240.7ZM456.1 234L454.3 236.9L453.3 237.5L453.4 236.5L452.3 237.4L451.5 237.8L451.5 236.9L450.7 237.2L450 237.4L449.8 236.9L448.5 237.9L448.1 237.7L447.4 237.8L447.1 237.4L446.6 237.3L446.2 237L445.9 236.6L445.5 236.4L446 234.9L445.7 234.5L445.4 234.1L445.8 232.9L445.9 232L445.7 231.5L445.3 231.2L445.7 230L447.5 227.8A82.5 82.5 0 0 0 456.1 234ZM446 226.6L443.9 229L443.3 229L442.5 229.3L442.2 228.9L441.1 229.5L440.8 229.1L439.7 229.5L439.3 229.4L438.6 229.4L441.8 225.3L438.3 228.4L437 229L437.2 228.1L436.9 227.7L436.7 227.2L436.3 227L436.1 226.5L435.6 226.4L435.4 225.9L435.3 225.3L435.6 224.5L435.3 224.1L437.3 221.7L434.8 223.2L435.8 221.7L436 221L438.3 218.9A82.5 82.5 0 0 0 446 226.6ZM437 217.5L434.5 219.6L433.9 219.5L432.9 219.7L432.8 219.2L432.1 219.2L431.3 219.2L430.7 219.1L431 218.2L430.6 217.9L429.3 218.3L429.4 217.7L428.9 217.4L429.3 216.5L428.8 216.3L427.8 216.4L432.6 212.4L428.4 214.8L427.6 214.8L427.8 214.1L426.9 214.1L427.2 213.4L427.6 212.5L427.6 211.9L429.5 210.2L430.1 209.2L428.1 209.9L430.4 208.5A82.5 82.5 0 0 0 437 217.5ZM429.4 206.8L428 207.7L427.2 207.6L426.1 207.7L425.5 207.5L424.7 207.4L423.8 207.4L423.4 207.1L422.6 207L422.9 206.3L424.7 204.8L420.5 206.4L421.6 205.3L420.5 205.3L421 204.5L420.7 204.1L421 203.5L421.3 202.8L421.6 202.1L424.8 200L424.6 199.6L425.3 199.3A82.5 82.5 0 0 0 429.4 206.8ZM424.5 197.5L422.7 198.3L421 198.6L420.6 198.3L420.8 197.7L419.4 197.7L419.6 197.1L419.2 196.8L418.4 196.6L418.1 196.2L417.6 195.9L416.8 195.7L417.8 194.9L417.4 194.5L417.1 194.1L416.9 193.7L416.4 193.4L418 192.3L419.7 191.2L421.4 190.2L418.4 190.7L418.2 190.3L419.2 189.5L421.3 188.8A82.5 82.5 0 0 0 424.5 197.5ZM420.7 187L418.2 187.7L417 187.5L416.6 187.2L416.8 186.6L416.4 186.3L414.9 186.2L414.8 185.7L415.2 185.1L415.4 184.6L417.3 183.7L417.8 183.1L417.3 182.7L414.5 182.9L414.8 182.3L414.3 181.9L416.2 181.1L415.6 180.7L415.9 180.2L419 179.6A82.5 82.5 0 0 0 420.7 187ZM418.6 177.7L415.9 178.2L415.1 177.8L414.8 177.4L414 177.1L412.1 176.9L412.7 176.3L412.3 175.9L412.7 175.4L411.7 175L412.5 174.5L412.4 174L413.6 173.4L412.7 173L413.3 172.5L414.3 172L417.8 171.6A82.5 82.5 0 0 0 418.6 177.7ZM417.7 169.7L414.7 169.9L414.6 169.5L414.7 169L413.9 168.6L413.3 168.2L413.5 167.7L413.4 167.2L412.6 166.8L413.3 166.3L413.7 165.9L412 165.4L412.5 165L413.9 164.5L412.9 164L414.2 163.6L414.6 163.1L414.8 162.7L416 162.3L413.1 161.7L413.9 161.3L417.5 161.4A82.5 82.5 0 0 0 417.7 169.7ZM417.6 159.5L414.8 159.3L414.3 158.8L412.5 158.2L412 157.7L412.9 157.3L412.5 156.8L412.2 156.3L411.4 155.7L411.7 155.3L412.8 154.9L413.7 154.5L415.9 154.3L415.8 153.8L416.8 153.5L418.2 153.7A82.5 82.5 0 0 0 417.6 159.5ZM418.4 151.8L418.1 151.7L416.9 151L414.6 150.2L413.1 149.5L412.9 149L412.3 148.4L412.1 147.8L413.3 147.5L413.4 147.1L413.2 146.5L412.5 145.9L413.7 145.7L413.8 145.2L413.4 144.6L414.6 144.4L415.4 144.1L415 143.5L415.8 143.2L416.4 142.8L420.1 143.8A82.5 82.5 0 0 0 418.4 151.8ZM420.6 141.9L418.7 141.4L418.1 140.7L418.2 140.3L416.8 139.4L416 138.6L417.3 138.5L416.4 137.7L416.4 137.2L416 136.6L417.1 136.5L416 135.6L416.7 135.3L417.5 135L418.2 134.8L418.9 134.5L419.3 134.2L421 134.3L422.8 135A82.5 82.5 0 0 0 420.6 141.9ZM423.5 133.2L420.7 132.1L419.2 130.9L418.7 130.2L418.4 129.5L417.7 128.7L417.6 128.1L417.5 127.5L417.5 126.9L418.1 126.6L418.6 126.3L419 126L420.8 126.3L421.8 126.2L423.6 126.5L426 127.7A82.5 82.5 0 0 0 423.5 133.2ZM426.9 126L424.4 124.7L423.6 123.8L423.9 123.4L424.4 123.1L424.4 122.6L423.8 121.7L423.7 121.2L424 120.8L424.9 120.7L424.5 119.9L424.7 119.5L425.9 119.7L427 119.8L426.7 119.1L429.8 120.9A82.5 82.5 0 0 0 426.9 126ZM430.8 119.3L429.2 118.3L428.3 117.1L426.8 115.6L425.6 114.2L425.2 113.3L425.5 112.9L430.5 115.8L431.6 116L430.8 114.9L426.9 111.5L431.8 114.5L431.4 113.6L433.5 114.6L433.9 114.9A82.5 82.5 0 0 0 430.8 119.3ZM435.1 113.3L433.9 112.4L432.8 110.9L432.8 110.3L433.3 110.2L432.5 108.9L432.8 108.6L434 108.9L433.7 108.1L434.4 108.1L434.5 107.5L434.7 107.1L436.3 107.8L436.6 107.5L437.5 107.7L438.8 108.9A82.5 82.5 0 0 0 435.1 113.3ZM440.1 107.4L438.2 105.6L438.2 104.9L437.8 103.9L438.5 104L439.3 104.2L439.5 103.7L440.6 104.1L440.3 103.2L440.2 102.4L440.8 102.5L441.5 102.5L441.9 102.3L443 102.8L443.9 103.7A82.5 82.5 0 0 0 440.1 107.4ZM445.3 102.4L444.4 101.4L443.7 99.9L443.7 99.3L443.2 97.9L443.5 97.6L444.4 98L444.3 97.1L445 97.2L444.5 95.9L445.6 96.5L446.3 96.7L446.9 96.7L447 96L448.3 97L449.7 98.8A82.5 82.5 0 0 0 445.3 102.4ZM451.2 97.6L449.7 95.6L448.9 93.7L448.8 92.6L448.9 92L449.1 91.4L449.2 90.7L450 91L450.2 90.5L451.1 90.9L452.5 92.1L452.4 91.2L454 92.8L455.3 94.8A82.5 82.5 0 0 0 451.2 97.6ZM457 93.8L456.1 92.4L455.6 90.6L457.6 93.1L456.3 90L455.7 88.1L456.8 89L456.8 88.1L457.7 88.8L457.9 88.3L458.7 88.6L459.8 89.8L460.8 91.6A82.5 82.5 0 0 0 457 93.8ZM462.5 90.7L461.3 88.4L461.1 86.8L461.6 86.8L461.2 84.8L461.7 84.8L462.3 84.9L463.6 86.5L463.8 85.9L464.3 85.7L464.9 86L464.9 84.8L466.1 86.3L466 84.9L466.7 85.3L467.4 85.7L468.3 88A82.5 82.5 0 0 0 462.5 90.7ZM470.1 87.3L468.9 84.2L468.4 81.5L469.1 81.6L468.9 79.7L470 81.1L470.5 80.9L471.9 83.5L472.9 86.3A82.5 82.5 0 0 0 470.1 87.3ZM474.7 85.7L473.6 82L473.9 81.4L474.2 80.8L474.8 81.4L474.9 80L475.3 79.7L476.1 80.9L476 79L476.7 79.6L476.8 78.3L477.3 78.2L477.8 78.4L477.9 76.9L478.3 76.5L478.9 77.1L479.9 79.1L480.1 78.1L480.7 78.4L481.4 79.5L481.6 78.4L481.9 77.6L482.2 76.7L482.7 76.5L484.1 81.5L484.4 80.8L484 76L484.5 76.2L485.1 76.6L485.6 76.7L485.9 75.5L486.5 76.5L486.9 75.9L487.5 76.8L487.8 75.8L488.3 76L488.9 77.1L489.3 75.9L490.3 80.8L490.2 76L490.7 76.6L491.2 76L491.7 77.2L492.2 76.7L492.7 77.3L493.3 79.2L493.9 81.6L494.2 80L494.6 77.9L495 78L495.4 77.4L496 78.6L496.5 79.6L496.5 81.8A82.5 82.5 0 0 0 474.7 85.7Z" fill="#50ae8e" stroke="#3a8068" stroke-width="0.35" stroke-linejoin="round"/>
<path d="M500.6 92.9L500.6 89.7L501.1 88.9L501.5 88.8L501.9 88.5L502.3 88.4L502.7 88.8L502.9 92.6L503.5 87.7L504 86.9L504.3 88L504.8 87.1L505.1 87.5L505.7 86.1L506.1 86.3L506.5 86.2L506.9 85.8L507.3 86.3L507.7 86.3L508.3 85L508.6 86L509.1 85.4L508.9 90.5L509.9 85.9L510.3 85.5L510.8 85.1L511.2 85.2L511.5 86.1L512 85.7L512.5 85.4L512.9 85.5L513.3 85.6L513.7 85.6L514.2 85.7L514.6 85.7L514.9 86.4L515.3 86.5L515.7 86.7L516.2 86.1L516.4 87.3L516.9 86.9L517.2 87.5L517.6 87.6L517.8 88.5L518.2 88.9L518.5 89.2L518.9 89.5L519.4 89.1L519.6 89.7L520.1 89.6L520.5 89.7L521.1 89.2L520.8 91.8L521.3 91.2L521.6 91.6L521.6 93.1L522.5 91.4L523 91.3L523.5 90.9L523.5 92.3L523.9 92.6L524.3 92.6L522.9 96.7A71.3 71.3 0 0 0 500.6 92.9ZM524.5 97.2L525.2 95.1L525.6 95.2L526.5 93.9L527 93.8L526.9 95.1L527.7 94.1L527.9 94.7L529.1 92.8L529.4 93.2L530.1 92.7L529.9 94.2L530.9 92.8L531.3 93.1L531.6 93.4L532.2 93L532.3 93.8L532.8 93.7L533.1 94L534 93.2L534.2 93.6L534.8 93.4L534.8 94.4L535.8 93.2L535.4 94.8L536.4 94L536.4 94.7L537.4 93.9L537.4 94.7L537.8 94.9L538 95.4L538.9 94.5L539.3 94.8L539.6 95L539.6 96L539.2 97.4L539.3 98L539.8 98.1L540.8 97.1L541.6 96.8L541.6 97.5L542.5 96.9L542.6 97.4L542.5 98.4L542.6 99L543.6 98.3L543.6 99.1L543.7 99.6L544 99.9L544.6 99.7L541.2 105.4L542.1 104.7L545.2 101L542.9 104.9L543.6 104.6L543.2 105.8L543.6 105.9L544.6 105.2L544.9 105.6L545.1 105.9L543.6 107.8A71.3 71.3 0 0 0 524.5 97.2ZM544.9 108.8L546.7 106.7L546.7 107.3L547 107.5L548 107L548.9 106.5L548.5 107.6L549.4 107.2L549.7 107.4L550.1 107.6L551.4 106.7L551.3 107.5L552.3 106.9L552.1 107.8L552.6 107.9L553.6 107.4L553.7 107.9L554.3 107.9L553.8 109L555 108.3L554.8 109.1L555.1 109.4L555.6 109.4L556 109.7L556.2 110L556.9 109.9L557.5 110L556.8 111.2L557.7 110.9L558.9 110.4L559.2 110.7L559.5 111L559.8 111.3L559.4 112.2L560.3 111.9L560.6 112.3L560.9 112.6L558.4 115.2L558.6 115.6L558.1 116.5L559.6 115.8L558.6 117.1L559.3 117.1L559.9 117.1L557.1 119.8L557.5 120L560.7 118L560 119L560.6 119.1L560.8 119.4L561.3 119.6L561.9 119.6L561.6 120.3L561 121.3L562.3 120.9L561.3 122L562.4 121.7L562.5 122.2L562.2 122.9L562 123.4L563.1 123.2L562.6 124L562.4 124.6L564.8 123.6L565.1 123.9L563.9 125.1L565 124.8L564.6 125.5L565.1 125.8L564.3 126.7L561.6 128.3A71.3 71.3 0 0 0 544.9 108.8ZM562.4 129.7L564.8 128.4L564.9 128.8L566.4 128.4L566.7 128.7L566.7 129.1L566.8 129.5L567.7 129.5L567.3 130.2L567.8 130.4L568.1 130.7L568.7 130.8L568.7 131.3L570 131.1L570.3 131.4L569.2 132.4L569.4 132.7L569.9 133L571.4 132.8L570.1 133.8L569.2 134.6L570.7 134.4L569.6 135.3L570.8 135.2L570.4 135.8L569.4 136.7L568.3 137.5L566.9 138.5L571.5 137.1L571.1 137.7L571.1 138.1L572.1 138.2L572.1 138.6L570.8 139.5L571.4 139.7L572.3 139.9L571.7 140.5L571.1 141.1L572.2 141.1L571.1 141.9L574 141.5L572.8 142.2L574 142.3L572.9 143L572.8 143.5L571.4 144.3L572 144.5L568.8 145.4A71.3 71.3 0 0 0 562.4 129.7ZM569.2 147L572.3 146.3L573.5 146.4L574.9 146.5L573.7 147.1L574.2 147.5L574.5 147.8L576.2 147.8L575.8 148.3L576.7 148.6L576.8 149L577.3 149.3L577.4 149.7L577.8 150L577.9 150.5L577.4 151L576.7 151.5L578.1 151.7L578 152.1L578.9 152.4L579 152.8L578.2 153.3L578.5 153.7L579.2 154.1L579.2 154.5L578.6 155L579.3 155.3L579.3 155.7L578.9 156.2L579.4 156.6L578.1 157.1L578.8 157.5L579.5 157.8L578.3 158.3L579 158.7L578.7 159.1L578.1 159.6L577.3 160L577.5 160.4L577.1 160.9L577 161.3L577.4 161.7L575.6 162.1L576.7 162.5L575.4 162.9L574.6 163.3L571.3 163.4A71.3 71.3 0 0 0 569.2 147ZM571.3 165L574.3 165.1L575.5 165.5L574.9 165.9L575.2 166.3L575.7 166.7L576 167.1L576.4 167.5L576.6 168L576.3 168.4L577 168.8L576.5 169.2L575.7 169.5L576.3 170L577.3 170.5L577.3 170.9L571.3 170.8L572.4 171.3L571.3 171.5L576.8 172.5L576.2 172.8L576.9 173.3L577.1 173.8L577.9 174.3L577 174.6L573.1 174.5L570.9 174.5L572.3 175.2L576.3 176.2L576.9 176.7L575.7 176.9L576.4 177.4L576.7 177.9L575.5 178.1L575.1 178.4L574 178.6L573.9 179.1L573.9 179.5L573.4 179.8L573.8 180.2L574.9 180.9L574.5 181.2L572.4 181.2L572.5 181.6L571.9 181.8L572.1 182.3L572.3 182.8L573.3 183.4L573.3 183.9L572 183.9L568.8 183A71.3 71.3 0 0 0 571.3 165ZM568.3 184.7L571.7 185.7L571.3 186L572.8 186.8L573.2 187.4L568.2 186.2L572.4 188L572.6 188.5L574.1 189.4L573.4 189.6L573.6 190.1L573 190.3L574.1 191.1L574.6 191.8L574.4 192.1L574.5 192.6L572.8 192.4L573.7 193.2L570.5 192.4L571.6 193.3L570.4 193.2L570.4 193.6L570.4 194.1L570.9 194.7L572.7 196L573 196.5L571.8 196.5L572.6 197.3L571.2 197.1L572.3 198.1L570.7 197.8L570.9 198.4L569.9 198.3L569.9 198.8L570 199.3L570 199.7L568.5 199.4L568.3 199.8L567.6 199.9L568.1 200.6L566.4 200.1L566.5 200.7L566.4 201L562.3 198.8A71.3 71.3 0 0 0 568.3 184.7ZM561.5 200.3L563.7 201.5L564.3 202.4L562.6 201.8L563.4 202.8L561.9 202.3L563.4 203.7L563.2 204L564.1 205L564.2 205.6L564.1 206L563.1 205.9L563.2 206.4L562.9 206.7L563.6 207.7L562.7 207.6L563.1 208.3L563.2 208.9L562 208.6L562.7 209.6L562.4 209.9L561.8 209.9L561.9 210.5L561.4 210.6L561.2 211L561.5 211.8L562.1 212.7L562 213.2L561.7 213.5L561 213.5L560.9 214L560.3 214L559.3 213.7L559.1 214L559.5 214.9L558.5 214.6L558.1 214.8L557.3 214.7L557 215L556.2 214.8L555 214.2L554.9 214.7L554.3 214.7L553.5 214.5L554.5 215.9L551.7 213.3A71.3 71.3 0 0 0 561.5 200.3ZM550.5 214.5L552.3 216.3L552.7 217.2L550.2 215.3L551.7 217.3L551.3 217.5L552 218.8L553.1 220.6L552.8 220.8L553 221.6L553.2 222.5L553.2 223.1L553.1 223.7L552.2 223.2L552.4 224.2L551.7 223.9L551.9 224.8L551.6 225.1L551.2 225.4L550.7 225.4L550 225.2L549.8 225.6L549.3 225.6L549.2 226.3L548.4 225.8L548.2 226.3L547.8 226.5L548.1 227.5L546.9 226.7L545.8 225.9L545.3 225.8L543.7 224.4L543.7 225L543.4 225.3L543.1 225.6L542.3 225.2L540.7 222.8A71.3 71.3 0 0 0 550.5 214.5ZM539.3 223.7L541.1 226.5L540.4 226.1L540.1 226.4L540.3 227.4L539.9 227.5L540 228.4L539.7 228.8L539.9 229.8L539.6 230.2L538.9 229.8L539 230.8L538.3 230.4L536.3 227.6L536.3 228.4L535.8 228.4L537.2 231.7L536.7 231.6L536.5 232.2L536.3 232.7L535.5 232L535.6 233.1L535.2 233.2L534.2 232.1L533.8 232.2L533.1 231.8L533.2 232.9L532.4 232.1L532.2 232.6L531.8 232.7L531.1 232.2L530 230.7L529.3 229.2A71.3 71.3 0 0 0 539.3 223.7ZM527.8 229.9L529.1 232.9L528.6 232.9L528.7 234.2L528.4 234.5L528.1 234.7L528.1 236L527.9 236.4L527.5 236.7L525.7 232.9L525.4 233.2L526.3 237L526.3 238.1L526 238.5L525.5 238.3L525.1 238.5L524.8 238.9L524.6 239.6L523.8 238.6L523.6 239.2L522.9 238.6L523.1 240.4L522.4 239.8L522.3 240.8L521.7 240.2L521.5 240.9L521.1 241.1L520.5 240.7L520.2 241.3L519.7 241L519.2 240.5L518.8 240.6L518.3 240.5L517.9 240.5L517.3 239.7L516.9 240L516.5 239.8L515.8 238.6L515.3 238.4L514.9 238.2L514.1 234.1A71.3 71.3 0 0 0 527.8 229.9ZM512.4 234.4L513 238L512.6 237.9L512.3 238.2L511.9 238.3L511.6 238.9L511.3 239.7L511 240.4L510.5 239.8L510 239.5L509.7 240L509.4 240.9L509 241.7L508.6 241.4L508.2 241.7L507.7 240.4L507.3 240.3L506.8 240.3L506.5 241L506.1 241.5L505.6 240.5L505.2 240L504.8 239.9L504.4 240L504 241.3L503.6 240.6L503.2 240.3L502.8 240.6L502.3 239L502.2 235.5A71.3 71.3 0 0 0 512.4 234.4ZM500.5 235.5L500.6 238.4L500.2 238.2L499.8 239.2L499.4 238.9L498.9 239.3L498.6 238.5L498.1 240.1L497.7 240.5L497.3 240.2L496.8 242.5L496.4 242.2L496 242.1L495.5 242.3L495.1 242.5L494.6 243.7L494.2 243.5L493.8 242.7L493.4 243L493.1 241.8L492.6 242.7L492.2 241.8L491.7 243.2L491.4 241.4L490.9 242.4L490.5 241.9L490.2 241.2L489.7 242.1L489.3 241.5L488.9 241.1L488.6 240.4L488.4 239.1L488.1 238.7L487.5 239.8L487.4 237.8L487 237.7L487.6 234.4A71.3 71.3 0 0 0 500.5 235.5ZM485.9 234.1L485.5 236.1L485.1 236.2L484.4 237.6L483.9 238.1L483.7 237.3L483.2 237.3L482.7 238L482.4 237.4L481.6 238.8L481.2 238.6L481.1 237.4L480.6 237.9L480 238.6L479.9 237.1L479.2 238.4L478.8 238.2L478.4 238L478.3 237L477.8 237.1L477.2 237.7L477.2 236.4L476.9 235.9L476.2 236.8L476.1 235.8L476 234.9L475.2 236L475.1 235L474.9 234.3L474.7 233.6L474.3 233.6L473.9 233.6L474.9 230.9A71.3 71.3 0 0 0 485.9 234.1ZM473.3 230.3L472.7 231.9L472.1 232.2L471.2 233.5L471 232.9L470.4 233.2L470.1 233L469.6 233.1L469.5 232.3L468.6 233.3L468.9 231.7L467.4 234.1L467.6 232.6L466.9 233.1L466.7 232.7L468.1 228.8L467.4 229.5L465.4 232.5L465.2 232L464.5 232.5L464.6 231.5L465.2 229.5L465.1 228.9L464.8 228.6L464.3 228.6L463.9 228.5L464.3 227L464 226.7L463.7 226.5L463.1 226.8L462.9 226.3L463.5 225.4A71.3 71.3 0 0 0 473.3 230.3ZM462 224.6L460.5 227.1L459.1 228.5L458.6 228.4L457.7 229.1L457.1 229.2L456.5 229.5L455.8 229.7L455.9 228.8L455 229.3L455.2 228.4L454.7 228.3L454.6 227.7L453.9 227.9L457.2 222.8L456.3 223.3L456.2 222.8L452.3 227.4L452.6 226.3L451.5 227L452 225.6L452.3 224.6L451.7 224.7L453.4 221.9L453.5 221.2L454 219.9L454.6 219.2A71.3 71.3 0 0 0 462 224.6ZM453.3 218.1L451.2 220.6L451.5 219.7L450.9 219.7L449.3 220.9L448.9 220.8L449.1 220L448.9 219.6L447.4 220.6L447.1 220.4L447.3 219.5L446.4 219.9L447.1 218.6L446.6 218.5L445.4 219.2L446.1 217.9L445.3 218.1L446.8 216.1L446.1 216.3L445.7 216L446.3 214.9L447.1 213.7L444.6 215.5L444.3 215.2L445.1 214L444.3 214.2L444.1 213.8L446.7 211.5A71.3 71.3 0 0 0 453.3 218.1ZM445.6 210.2L443.1 212.4L442.1 212.6L442.1 212.1L443.7 210.3L442.9 210.4L443.2 209.7L438.4 212.9L438.5 212.3L438.1 212.1L438.3 211.4L437.1 211.8L436.5 211.7L437 210.8L437 210.3L435.5 210.9L436.7 209.5L435.7 209.7L436.3 208.7L436.3 208.2L435.5 208.3L435.4 207.8L435.2 207.4L435.6 206.7L435.7 206.1L436 205.4L437.1 204.3L439.8 202.5A71.3 71.3 0 0 0 445.6 210.2ZM439 201.1L436.7 202.4L436 202.4L435.1 202.4L434.2 202.5L435.1 201.5L433.5 201.9L433 201.7L432.7 201.4L432.5 201L433 200.3L432.4 200.1L432.2 199.8L431.3 199.7L431.6 199.2L431.9 198.5L432.3 197.8L431.7 197.7L432.4 196.9L433 196.1L432.7 195.8L435.5 194.5A71.3 71.3 0 0 0 439 201.1ZM434.8 193L432.8 193.9L430.7 194.4L431 193.8L430.2 193.7L428.5 193.9L431.7 192.2L427.8 193.4L427.2 193.1L427.5 192.6L427.4 192.2L427 191.9L427.7 191.1L426.5 191.2L427.4 190.4L427.5 189.9L427.9 189.3L427.9 188.9L427.5 188.6L427 188.3L428.7 187.4L427.9 187.2L429.7 186.2L432 185.5A71.3 71.3 0 0 0 434.8 193ZM431.5 183.9L429.4 184.5L428.4 184.3L426.8 184.4L426.4 184.1L425.7 183.8L426 183.3L428.9 182.2L429.7 181.6L425.7 182.1L425.6 181.7L425.6 181.3L429.2 180.1L428.5 179.8L427.8 179.6L426.4 179.4L425 179.3L426.5 178.6L426.7 178.1L430 177.5A71.3 71.3 0 0 0 431.5 183.9ZM429.7 175.9L427.1 176.3L427.7 175.8L424.5 175.9L423 175.7L422.5 175.4L421.2 175.2L420.9 174.8L422 174.2L420.8 173.9L421.3 173.4L422.5 172.9L422.6 172.5L423.3 172L424.5 171.4L425.9 170.9L429 170.6A71.3 71.3 0 0 0 429.7 175.9ZM428.9 169L427.1 169.1L425.1 168.8L424.9 168.4L425.2 168L423.1 167.7L423.3 167.3L423.6 166.9L423.7 166.5L423.4 166.1L423.8 165.7L424.1 165.3L420.2 164.9L420.8 164.5L420.5 164L421.9 163.6L421.9 163.2L422.1 162.8L427.5 162.5L426.5 162.1L425.1 161.7L428.7 161.8A71.3 71.3 0 0 0 428.9 169ZM428.8 160.1L425.5 159.9L425.2 159.5L424.4 159.1L423.6 158.6L421.1 158L420.7 157.5L421.9 157.2L422.1 156.8L422.2 156.3L422.8 156L423.3 155.6L423.7 155.2L424 154.8L428.8 155L429.3 155.1A71.3 71.3 0 0 0 428.8 160.1ZM429.5 153.4L426.5 153L426.3 152.5L425.4 152L424.6 151.4L425.3 151.1L424.2 150.5L425.3 150.3L424.9 149.8L425.1 149.4L424 148.7L424.1 148.3L424.8 148L425.5 147.8L426.1 147.5L426.3 147.1L425.9 146.6L426.3 146.2L426.8 145.9L428.3 145.9L430.9 146.6A71.3 71.3 0 0 0 429.5 153.4ZM431.4 144.9L428.1 144L427.5 143.4L428.6 143.3L428.4 142.8L427.4 142.1L427.7 141.8L427.4 141.2L426.2 140.4L427 140.2L427.1 139.8L429.5 140.2L428.7 139.5L430 139.5L430.3 139.1L431.1 139L430.9 138.5L431.3 138.2L433.3 139A71.3 71.3 0 0 0 431.4 144.9ZM433.9 137.4L431.7 136.5L431.2 135.9L432.4 135.9L432.3 135.4L431.1 134.4L431.8 134.3L431.8 133.8L434.4 134.6L432.8 133.4L433 133L432.3 132.3L431 131.2L434.4 132.3L434.3 131.8L436 132.7A71.3 71.3 0 0 0 433.9 137.4ZM436.8 131.2L433.3 129.4L433.1 128.8L436.7 130.3L435.8 129.3L431.9 126.7L431.9 126.2L431.5 125.5L433.1 125.9L432.5 125.1L434.1 125.6L434.6 125.4L434.5 124.8L436.3 125.5L436 124.8L439.3 126.8A71.3 71.3 0 0 0 436.8 131.2ZM440.2 125.4L437.2 123.5L437.7 123.3L437.2 122.5L436 121.2L437.1 121.4L436.8 120.7L436.7 120.1L436.3 119.3L437 119.3L438.4 119.8L438.6 119.4L440.2 120.1L440.3 119.6L442.9 121.6A71.3 71.3 0 0 0 440.2 125.4ZM443.9 120.2L441.6 118.5L440.9 117.4L440.7 116.7L440.8 116.3L440.7 115.6L439.9 114.4L440 113.9L441.4 114.6L440.7 113.4L441.5 113.6L441.9 113.3L442.6 113.4L444.1 114.2L444.6 114.1L447.1 116.4A71.3 71.3 0 0 0 443.9 120.2ZM448.3 115.1L445.6 112.6L446.4 112.9L445.8 111.7L444.9 110.3L445 109.8L444.6 108.8L445.7 109.4L449.4 112.5L449.1 111.6L447 109L447.8 109.2L447.7 108.4L449.7 110L451.5 111.9A71.3 71.3 0 0 0 448.3 115.1ZM452.7 110.8L451.2 109.1L450.5 107.7L450.5 107.1L449.7 105.5L449.5 104.7L450.2 104.9L450.1 104.1L450.4 103.9L450.4 103.2L451.1 103.4L452.1 104L452.4 103.7L454.2 105.3L454.1 104.5L456.5 107.7A71.3 71.3 0 0 0 452.7 110.8ZM457.9 106.7L455.5 103.4L455 102.1L455 101.3L454.9 100.5L455.3 100.2L455.9 100.4L455.8 99.6L456.7 100L457.6 100.7L458.9 101.9L459.6 102.2L460.7 103.2L461.4 104.3A71.3 71.3 0 0 0 457.9 106.7ZM462.8 103.4L461.3 100.9L460.8 99.3L460.2 97.4L460.1 96.5L460 95.4L460.4 95.3L460.7 95L461.2 95.1L462.4 96.3L463.4 97.2L464.7 98.9L466.1 101.5A71.3 71.3 0 0 0 462.8 103.4ZM467.6 100.7L466.1 97.8L466.6 97.8L466.5 96.6L466.6 96L466.4 94.6L467.9 96.6L467.8 95.4L468.4 95.7L468.9 95.9L469 95.1L469.8 95.8L469.9 95L470.7 95.9L470.8 95.1L471.6 95.8L472.6 98.4A71.3 71.3 0 0 0 467.6 100.7ZM474.2 97.7L472.9 94.4L472.5 92.2L472.4 90.5L472.5 89.4L473 89.5L474.2 91.5L475.1 92.6L476.6 96.9A71.3 71.3 0 0 0 474.2 97.7ZM478.2 96.3L476.9 92.5L477.4 92.7L477.6 91.9L477.9 91.5L478.4 92L478.5 90.8L478.8 90.4L478.9 89.1L479.2 88.6L479.9 89.8L480.1 89L480.2 87.7L480.8 88.3L481.1 87.8L481.4 87.1L481.8 87.1L482.2 87L482.6 86.8L483.2 87.5L484.5 91.6L483.8 86.7L484.3 86.8L484.7 86.6L485.1 86.7L485.5 86.5L486.1 87.6L486.5 87.5L486.8 86.5L487.2 86.7L487.8 87.9L488 86.3L488.5 86.6L488.8 86.2L489.3 86.6L489.8 86.9L490.3 87.7L490.5 86.5L491.1 87.3L491.6 88.1L492 88.7L492.5 89.1L492.8 88.7L493.3 89.2L494 92.7L494.1 89.9L494.5 88.9L494.9 90.3L495.4 90.6L495.7 89.3L496.2 91L496.5 91L496.9 90.2L497 93A71.3 71.3 0 0 0 478.2 96.3Z" fill="#50ae8e" stroke="#3a8068" stroke-width="0.35" stroke-linejoin="round"/>
<path d="M500.5 103.7L500.6 100.7L500.9 100.7L501.2 102L501.6 100.9L501.9 101.4L502.2 100.7L502.6 100.7L502.9 100.7L503.2 101.3L503.6 100.4L503.9 101.4L504.2 101.5L504.5 101.6L505 100.6L505.2 101.8L505.5 101.8L505.8 102.2L506.2 101.5L506.6 100.9L507 100.6L507.3 101L507.5 101.8L508 100.9L508.4 100.6L508.7 100.6L509.2 99.3L509.2 102.2L509.6 101.7L510.1 100.6L510.2 102.1L510.5 102.3L510.8 102.6L511.2 102.2L511.5 102.1L511.9 101.8L512.3 101.7L512.7 101.3L512.9 102.1L513.3 102L513.7 101.5L513.7 103.2L514.3 102.1L514.5 102.9L514.9 102.4L515.2 102.6L515.7 101.9L515.8 103.1L516.3 102.3L516.8 101.9L516.9 102.8L517.1 103.1L517.6 102.8L518.1 102.3L518.1 103.6L518.4 103.6L518.9 103.1L518.8 104.5L519.6 103.3L518.9 106.3L520.4 103L520.6 103.3L519.4 106.9A60.5 60.5 0 0 0 500.5 103.7ZM520.8 107.4L521.9 104.3L522.4 104L522.2 105.5L522.8 104.9L523.3 104.3L523.5 104.8L523.5 105.6L524.2 104.9L525 104L524.4 106.1L524.7 106.4L524.8 107L525.4 106.4L525.5 106.9L525.8 107.1L525.7 108.3L526.6 107L526.4 108.3L526.6 108.5L526.9 108.7L527.2 108.7L527.6 108.8L527.7 109.3L528.7 108L528.4 109.3L531.5 104.2L529.1 109.5L529.1 110.2L529.6 110L529.5 110.8L529.9 110.8L530.8 109.7L530.7 110.7L531.2 110.5L531.6 110.3L531.6 111.1L531.9 111.2L532.5 110.8L532.3 111.8L533.1 111.2L532.5 112.7L533.5 111.7L533.2 112.7L533.6 112.8L534 112.8L534.5 112.6L536.3 110.5L534.9 113.1L534.7 114L536.1 112.7L535.9 113.5L536 113.9L535.7 114.8L536.4 114.5L537.3 113.8L536.6 115.3L537.6 114.6L537.2 115.5L537.5 115.7L537 116.3A60.5 60.5 0 0 0 520.8 107.4ZM538.1 117.2L539.8 115.1L541.2 114L541 114.8L541 115.4L541.6 115.2L542.9 114.1L542.7 114.9L543.1 114.9L543.7 114.8L544.4 114.5L544.5 115L544.3 115.7L545.1 115.3L545.2 115.8L546.3 115.2L546.4 115.5L545.7 116.7L546.3 116.7L546.5 116.9L547.3 116.7L546.7 117.7L547.4 117.5L548.5 116.9L548.9 117.1L548.2 118.3L548.2 118.7L548.4 119L549.1 118.9L549.3 119.2L548.6 120.2L549.4 120L549.3 120.6L549.8 120.6L549.6 121.2L550.4 121L549.6 122.2L546.6 125.1L547.3 124.9L547.5 125.2L547.6 125.5L547.5 126.1L552.2 122.7L552.9 122.6L552.9 123.1L553.9 122.7L552.6 124.2L554.3 123.4L554.5 123.6L553.3 124.9L553.6 125.2L556.8 123.3L554.3 125.5L554.8 125.6L555.3 125.8L555.3 126.1L557.9 124.8L555.9 126.6L556.7 126.5L556.8 126.9L555.9 127.9L556.4 128L551.4 131.6L551.6 131.9L551.9 132L555.7 130.1L553 132.1L552.7 132.7L553 132.9L552.6 133.5L552.2 133.7A60.5 60.5 0 0 0 538.1 117.2ZM553 134.9L555.5 133.5L555.7 133.8L556.7 133.6L557.3 133.7L557.8 133.8L557.2 134.6L556.8 135.1L556.9 135.5L556.8 135.9L562.6 133.4L558.1 136L558.9 136L558 136.8L560.9 135.8L562.5 135.5L563.8 135.3L561.6 136.7L561.1 137.3L561.9 137.3L561.9 137.7L562.5 137.9L562.5 138.3L561.8 138.9L562.2 139.1L562.6 139.4L561.8 140.1L558.1 141.8L560.5 141.3L564.2 140.3L560.3 142.1L559.9 142.6L560.5 142.8L560.6 143.1L561.9 143L561.5 143.5L560.2 144.3L562.2 144L562.4 144.3L561.5 144.9L560.7 145.5L562.5 145.3L566 144.7L562.3 146.1L561.5 146.7L562.1 146.9L561.3 147.5L558.4 148.3A60.5 60.5 0 0 0 553 134.9ZM558.7 149.6L561.9 148.9L562.3 149.1L562.2 149.5L562 149.9L562.5 150.1L562.6 150.4L561.1 151.1L561.1 151.4L563 151.4L561.8 151.9L562.2 152.2L563.1 152.4L562.7 152.8L561.9 153.3L561.5 153.7L561.5 154L562.6 154.2L563.5 154.4L563 154.8L562.6 155.2L567.9 154.8L562.4 155.9L563.8 156L562.1 156.6L562.3 156.9L562.4 157.2L563.9 157.4L562.5 157.9L569.7 157.5L566.8 158.1L565.9 158.6L560.7 159.3L560.9 159.6L561.7 159.9L560.8 160.3L560.8 160.6L560.8 160.9L560.8 161.2L561.4 161.5L561.2 161.9L561.1 162.2L560.9 162.5L561.9 162.8L564.9 163.1L565.8 163.4L560.5 163.5A60.5 60.5 0 0 0 558.7 149.6ZM560.5 164.9L563.8 165L563 165.3L564.6 165.6L564.5 166L564.5 166.3L564.8 166.7L564.2 167L564.8 167.4L566.4 167.8L563.2 168L563.4 168.3L564 168.7L563.9 169L563.9 169.4L562.9 169.6L566.7 170.3L564.7 170.5L562.9 170.7L564.6 171.2L567.6 171.9L564.5 171.9L562.7 172L564 172.5L563.1 172.7L562.8 173L564.6 173.6L565.5 174.1L566.2 174.6L565.7 174.9L564.8 175.1L564.8 175.4L565.3 175.9L565.9 176.3L565 176.5L565.4 177L565 177.3L563.8 177.4L565.4 178.1L564.4 178.2L564 178.5L565.3 179.1L564.7 179.4L564.8 179.8L568 180.9L565.3 180.6L563.7 180.6L563.9 181L564.8 181.6L565.2 182.1L558.3 180.2A60.5 60.5 0 0 0 560.5 164.9ZM558 181.6L563.6 183.2L561.7 183L561.7 183.4L560.5 183.4L561 183.9L560.3 184L560.3 184.4L561.2 185L560.7 185.2L561.1 185.7L559.9 185.6L560 186L560.4 186.5L560 186.7L559.9 187.1L557.7 186.6L557.3 186.8L559.1 187.8L557.5 187.5L558.5 188.3L556.9 188L560.2 189.8L557.1 188.8L558.1 189.6L557.7 189.8L557.1 189.9L557.5 190.4L557.3 190.7L556.5 190.7L555.9 190.8L556.4 191.4L555.9 191.5L557.5 192.6L557.9 193.2L555.8 192.5L556.5 193.3L556 193.4L555.4 193.4L555.7 194L555.5 194.2L555.3 194.5L554.3 194.3L552.9 193.6A60.5 60.5 0 0 0 558 181.6ZM552.2 194.8L554.2 196L554 196.3L553.9 196.6L554.3 197.2L557.7 199.7L554.1 197.9L553.7 198L553 198L552.2 197.9L552.9 198.7L553.3 199.4L552.3 199.1L552.7 199.8L552.8 200.3L551 199.5L551.1 199.9L553.6 202.1L553.8 202.7L553.7 203L552.5 202.6L552.3 202.9L550.9 202.3L551.5 203.2L551.9 203.9L551.2 203.8L550 203.3L549.8 203.5L547.6 202.2L547.4 202.5L548 203.4L547 203L546.7 203.2L547.4 204.2L546.3 203.7L546.1 204L545.9 204.2L546.5 205.2L545.5 204.7L545.2 204.9L545 205.2L545.3 205.9L545.1 206.2L545.3 206.8L546.8 208.6L543.9 205.9A60.5 60.5 0 0 0 552.2 194.8ZM542.9 206.9L544.2 208.2L544.8 209.3L544.4 209.3L544.6 210.1L543.7 209.6L543.8 210.2L543.6 210.4L542.5 209.8L543.4 211.2L542.9 211.3L542.4 211.2L541.6 210.7L542.2 211.9L541.1 211.2L541.2 211.9L541.7 212.9L544.2 216.4L541 213.2L541.9 214.8L539.7 212.7L540.2 213.8L538.8 212.6L539.6 214.1L539.4 214.4L538.5 213.8L537.1 212.5L538.7 215.2L538.3 215.2L537.8 215.1L537 214.6L539.3 218.3L535.5 213.6L535.3 213.8L535.4 214.6L534.7 214.2L534.5 213.9A60.5 60.5 0 0 0 542.9 206.9ZM533.3 214.7L534.5 216.4L535 217.9L534.3 217.4L534 217.6L533.4 217.3L533.6 218.2L532.6 217.2L534.3 220.6L531.7 217L531.4 217.1L531 217.1L530.5 216.9L530.2 217L530.3 217.9L529.9 217.8L530.1 218.8L529.1 217.7L529.2 218.6L529.1 219.1L528.2 218.1L528.3 219L529.8 222.6L529.5 222.8L529.3 223.1L529.2 223.8L529 224.1L528.3 223.6L528.5 224.8L527.5 223.4L525.9 220.8L525.3 220.4L524.9 219.4A60.5 60.5 0 0 0 533.3 214.7ZM523.6 219.9L524.3 221.6L523.9 221.5L525 225.2L522.8 220.6L522.7 221.3L522.3 221.2L522 221.2L523.7 226.7L521.4 221.4L521.1 221.5L521.6 223.8L520.6 222.2L521.6 225.9L521.5 226.6L521.2 226.8L521.1 227.9L520.3 226.5L520.3 227.7L520.2 228.3L520.3 230L518.6 225.6L518.4 226L518 226.1L517.5 225.6L517 225.1L517.1 226.4L516.7 226.5L517.3 230.1L515.8 225.6L515.3 225.2L515.4 226.9L514.8 225.9L514.8 227.2L514.2 226.2L514 226.8L513.4 225.7L513.4 227.5L513 227.3L512.6 226.6L511.9 223.5A60.5 60.5 0 0 0 523.6 219.9ZM510.5 223.8L510.6 224.2L510.3 224.2L510.7 228.5L509.7 224.7L509.3 224.4L509 224.4L508.7 224.5L508.4 224.8L508 224.5L508.1 227.4L507.5 225.5L507.1 224.7L506.8 225L506.5 225.2L506.1 224.8L505.8 224.8L505.5 224.8L505.1 224.9L504.8 224.9L504.5 225.1L504.2 224.9L503.8 225L503.5 225.1L503.2 225.7L502.9 225L502.5 225L502.2 225.3L501.9 225.1L501.9 224.7A60.5 60.5 0 0 0 510.5 223.8ZM500.4 224.7L500.5 229.9L500.1 231.1L499.8 231.8L499.4 233.2L499.1 230.9L498.7 231.4L498.3 232L498 231.1L497.6 232.2L497.3 230.4L497.2 225L496.9 225L496.5 225L496.2 225.7L495.9 224.9L495.2 230L494.9 228.9L494.6 228L494 230.9L493.9 228.4L493.5 228.9L493.3 227.7L493.2 225.4L492.9 225.3L492.5 225.6L492.2 225.2L491.8 226.3L491.5 226L491.1 225.8L491 224.6L490.4 226L490.2 225.6L489.8 225.7L488.8 229.7L489.3 224.7L489.5 223.8A60.5 60.5 0 0 0 500.4 224.7ZM488.1 223.5L487.4 226.6L486.4 229.7L486.8 226.4L486.5 226.3L486.1 226.5L485.8 226.3L485.4 226.4L484.8 227.2L484.5 226.9L484.5 225.5L483.6 227.9L483.8 225.5L483.8 224.3L483.3 225L482.9 225.1L482.5 225.2L482 225.7L481.6 225.8L480.9 226.9L481.1 225.2L479 230.6L480.5 224.8L479.6 226.4L479.9 224.5L478.5 227.5L478.2 227.3L476.8 230.2L477.5 227.2L477.5 226L475.7 229.8L476.9 225.7L478.7 220.8A60.5 60.5 0 0 0 488.1 223.5ZM477.4 220.3L476.4 222.6L476 222.9L475.8 222.4L474.2 225.2L475.6 221.2L475 221.7L475 220.9L474.4 221.5L474.3 220.9L474 220.6L473.8 220.4L473.1 221.1L473.2 220L472.5 220.7L472.3 220.3L472.2 219.8L471.6 220.3L471.1 220.6L471 220L470.9 219.5L470.1 220.2L470.4 219L469.5 220L470 218.3L469 219.4L468.5 219.7L468.4 219.1L468 219.2L467.5 219.3L467.3 219L469 216.2A60.5 60.5 0 0 0 477.4 220.3ZM467.8 215.4L466 218.2L466.6 216.7L465.6 217.6L465.5 217.2L465.2 216.9L465.3 216.2L464.7 216.5L464 216.9L464 216.4L463.4 216.6L463 216.5L463.7 215L463.5 214.7L463.1 214.6L462.2 215.4L461.8 215.3L461.4 215.3L462 213.9L461.4 214.2L459.8 215.7L459.3 215.7L459.4 215.1L459.1 214.9L458.4 215.2L461 211.4L461.5 210.9A60.5 60.5 0 0 0 467.8 215.4ZM460.4 209.9L459.4 211.1L458.6 211.6L458.9 210.7L458.7 210.5L457.6 211.1L457.7 210.5L457.9 209.9L454.4 213.1L453.5 213.6L456 210.5L455.7 210.3L456.1 209.3L455.9 209.1L455.3 209.2L454.2 209.8L455.4 208.1L454.5 208.6L453.3 209.2L454.3 207.8L453.5 208.2L454.1 207.1L453.6 207.1L453.9 206.4L453.3 206.5L453.2 206.2L453.4 205.5L454.7 204.3A60.5 60.5 0 0 0 460.4 209.9ZM453.8 203.3L450.6 206L449.7 206.2L449.1 206.3L451 204.3L449.9 204.7L449.9 204.3L450.6 203.3L446.9 205.8L447.9 204.5L448 204L447.5 204L447 203.8L447.2 203.2L446.8 203.1L446.2 203.1L445.8 203L445.8 202.5L445.5 202.3L446.2 201.4L447.1 200.3L446.4 200.4L447.6 199.2L449.2 197.7L448.5 197.7L445.2 199.5L448.6 196.9L449 196.7A60.5 60.5 0 0 0 453.8 203.3ZM448.2 195.5L445.6 197.1L444.2 197.5L444.8 196.7L444.6 196.4L443.9 196.4L444.5 195.7L444.7 195.2L443.3 195.5L444.4 194.5L443.3 194.7L443.1 194.5L443.1 194.1L442.3 194.1L443.2 193.2L442.6 193.1L443.4 192.3L442.8 192.2L441.6 192.4L441.5 192.1L440.4 192.2L445.2 189.9A60.5 60.5 0 0 0 448.2 195.5ZM444.7 188.6L443.6 189.1L443.4 188.8L441.8 189.2L442.4 188.5L443 187.9L442 188L441.5 187.8L441.8 187.3L441.2 187.2L440.7 187L441.4 186.4L440.5 186.4L441.3 185.7L441.8 185.2L441 185.1L442.5 184.2L440.3 184.6L440.6 184.2L440.9 183.8L441.3 183.3L440.1 183.3L439.7 183.1L442.3 182.3A60.5 60.5 0 0 0 444.7 188.6ZM441.9 180.9L437.2 182.2L437.6 181.8L438.2 181.2L439 180.7L437.6 180.7L438.5 180.1L435.9 180.4L440.2 179L440.8 178.5L440.4 178.2L435 179.1L439.7 177.7L440.5 177.2L440.5 176.9L439.9 176.7L439.4 176.4L440.3 175.9L440.2 175.6L440.6 175.5A60.5 60.5 0 0 0 441.9 180.9ZM440.3 174.1L436.7 174.7L435.5 174.6L436.6 174L438.5 173.4L434.7 173.6L438.2 172.8L434.8 172.9L438.3 172.1L438.3 171.8L437 171.6L434.7 171.5L435.5 171.1L435.6 170.7L433.9 170.5L435.1 170.1L439.7 169.7A60.5 60.5 0 0 0 440.3 174.1ZM439.6 168.2L438 168.3L438.1 168L437.7 167.7L437.9 167.4L438.9 167L438 166.7L439 166.3L439.1 166L438.3 165.7L437.8 165.4L435.6 165.1L435.8 164.8L436 164.4L435.8 164.1L435 163.7L435.8 163.4L436 163.1L433.7 162.7L436.2 162.4L436.2 162.1L439.5 162.2A60.5 60.5 0 0 0 439.6 168.2ZM439.6 160.7L437.4 160.6L436.4 160.2L437.9 160L438.6 159.7L438.4 159.3L437.8 158.9L432.7 158.1L439 158.4L439.4 158.1L438.6 157.7L438.6 157.3L438.6 157L438.7 156.7L438 156.2L440 156.5A60.5 60.5 0 0 0 439.6 160.7ZM440.2 155.1L437.2 154.6L437.7 154.3L437.5 154L438.2 153.7L437.2 153.2L438.1 153L438.2 152.7L439.1 152.5L437.3 151.8L438.4 151.7L438.4 151.3L439.3 151.2L438.8 150.7L438 150.2L435.9 149.3L439.5 149.8L438.6 149.2L439.8 149.2L438.1 148.4L441.4 149.2A60.5 60.5 0 0 0 440.2 155.1ZM441.8 147.9L439.3 147.2L439.3 146.8L439.8 146.6L438.8 145.9L436.1 144.7L433.1 143.4L437.7 144.5L436.4 143.7L436.2 143.2L438 143.5L438.1 143.1L437 142.3L438.2 142.3L438.2 142L438.6 141.7L440.7 142.2L440.2 141.6L443.4 142.8A60.5 60.5 0 0 0 441.8 147.9ZM443.9 141.5L442 140.7L442.2 140.4L440 139.1L441.5 139.3L441.7 139L440.9 138.3L441.9 138.3L439.7 137L441.8 137.5L443.1 137.7L442.9 137.3L441.8 136.3L437.9 134L443.6 136.4L445.7 137.5A60.5 60.5 0 0 0 443.9 141.5ZM446.4 136.2L444.4 135.2L443.2 134.2L444.2 134.3L443.5 133.5L445.3 134.1L441.2 131.4L444.2 132.7L444.9 132.7L443.6 131.6L445.3 132.1L445.7 132L445.1 131.2L445.6 131.1L446.1 131L448.5 132.5A60.5 60.5 0 0 0 446.4 136.2ZM449.2 131.3L446.3 129.4L449.1 130.8L449.3 130.5L449.5 130.2L449.7 130L449.8 129.6L450 129.4L450.2 129.1L447.6 126.9L448.9 127.4L448.9 126.9L447.7 125.6L447.3 124.9L451.5 128A60.5 60.5 0 0 0 449.2 131.3ZM452.4 126.9L450 125.1L450.9 125.3L451 124.9L451 124.5L452.3 125.1L451.2 123.8L452.3 124.3L452.8 124.2L450.4 121.7L449.2 120.2L451 121.3L450 120L454.6 123.6L454.1 122.7L455.1 123.6A60.5 60.5 0 0 0 452.4 126.9ZM456.1 122.6L455.2 121.7L454 120.2L454.9 120.5L455.6 120.7L455.8 120.5L455.9 120.1L455.5 119.2L456 119.3L456.1 118.9L454.5 116.8L456.1 117.9L458.3 119.8L454.8 115.5L458.8 119.9A60.5 60.5 0 0 0 456.1 122.6ZM459.9 118.9L458 116.7L457.1 115.2L458.7 116.5L458.6 116L458.4 115.1L459 115.3L458.5 114.2L458.8 114.1L461.1 116.4L461.4 116.1L461.3 115.5L460.3 113.7L462.4 115.8L462.1 115L463.1 116.3A60.5 60.5 0 0 0 459.9 118.9ZM464.2 115.4L462 112.3L462.2 112L463 112.6L463.2 112.2L464.1 112.8L462.8 110.4L464.5 112.2L464 110.9L464.5 111L465.1 111.3L465.4 111.1L465.2 110.1L467.2 113.3A60.5 60.5 0 0 0 464.2 115.4ZM468.5 112.6L467 110.2L467.8 110.9L467.6 109.8L467.7 109.3L467.7 108.8L468.6 109.6L468.6 108.9L468.7 108.4L469 108.2L469.6 108.5L470 108.6L471.2 111A60.5 60.5 0 0 0 468.5 112.6ZM472.5 110.3L471.6 108.6L471.6 107.7L472.2 108.1L472.7 108.4L472.3 106.8L472.9 107.2L472.8 106.2L473.5 106.8L471.7 102.1L473.8 105.8L474.9 107.3L475.7 108.3L475.9 108.1L476.3 108.1L476.6 107.9L476.8 108.3A60.5 60.5 0 0 0 472.5 110.3ZM478.1 107.8L476.7 104.2L477.3 104.7L477.4 103.9L478.4 105.5L478.4 104.4L478.4 103.3L479 103.9L480.1 107.1A60.5 60.5 0 0 0 478.1 107.8ZM481.5 106.6L480.7 104.3L480.9 103.6L481 102.7L480.7 100.7L481.7 102.9L481.9 102.3L482.1 101.8L483 103.6L482.9 102L483.2 102L484.3 104.8L484.8 105.3L484.9 104.7L485.1 103.9L485.4 103.9L485.9 104.5L486.2 104.3L486.3 103.1L486.7 103.5L487.1 103.8L487.4 103.8L487.8 104L488.1 104L488.5 104.3L488.2 101.1L489.1 104.1L489.5 104.2L489.6 103.4L489.9 103.1L490.2 102.4L490.6 102.9L490.8 102.4L491.2 102.5L491.7 103.9L492 103.8L492.2 103L492.6 103.1L492.3 97.9L493.1 102.3L493.5 102.5L493.8 102.4L493.8 98.7L493.8 94.8L494.5 99.3L494.8 98.1L495.2 98.4L495.6 99.3L495.9 99.8L496.4 101.5L496.7 101.1L497 100.5L497.4 101.5L497.5 103.8A60.5 60.5 0 0 0 481.5 106.6Z" fill="#f0812f" stroke="#e07020" stroke-width="0.35" stroke-linejoin="round"/>
<path d="M501.3 18L501.3 15.2M502.9 18L502.9 16.2M504.5 18.1L504.6 16.3M506.1 18.1L506.2 16.3M507.7 18.2L507.8 16.4M509.3 18.3L509.5 15.5M510.9 18.4L511.1 16.6M512.5 18.5L512.7 16.7M514.2 18.7L514.3 16.9M515.8 18.9L516 17.1M517.4 19L517.7 16.3M519 19.2L519.2 17.5M520.6 19.5L520.8 17.7M522.2 19.7L522.4 17.9M523.7 19.9L524 18.2M525.3 20.2L525.8 17.5M526.9 20.5L527.3 18.7M528.5 20.8L528.9 19M530.1 21.1L530.5 19.4M531.7 21.5L532.1 19.7M533.2 21.8L533.9 19.1M534.8 22.2L535.2 20.5M536.4 22.6L536.8 20.9M537.9 23L538.4 21.3M539.5 23.4L540 21.7M541 23.9L541.8 21.2M542.6 24.3L543.1 22.6M544.1 24.8L544.7 23.1M545.7 25.3L546.2 23.6M550.2 26.9L551.1 24.3M551.7 27.4L552.3 25.8M553.2 28L553.9 26.3M554.7 28.6L555.4 26.9M556.2 29.2L556.9 27.6M557.7 29.9L558.8 27.3M559.2 30.5L559.9 28.9M560.6 31.2L561.4 29.5M562.1 31.8L562.9 30.2M563.5 32.5L564.3 30.9M565 33.2L566.2 30.7M566.4 34L567.3 32.4M567.9 34.7L568.7 33.1M569.3 35.5L570.1 33.9M570.7 36.2L571.6 34.7M572.1 37L573.5 34.6M573.5 37.8L574.4 36.3M574.9 38.6L575.8 37.1M576.3 39.5L577.2 37.9M577.7 40.3L578.6 38.8M579 41.2L580.5 38.8M580.4 42.1L581.4 40.6M581.7 43L582.7 41.5M583 43.9L584.1 42.4M584.4 44.8L585.4 43.3M585.7 45.7L587.3 43.5M587 46.7L588 45.2M588.3 47.7L589.4 46.2M592.2 50.7L593.9 48.5M593.4 51.7L594.6 50.3M594.6 52.8L595.8 51.4M595.9 53.8L597 52.5M597.1 54.9L598.3 53.5M598.3 56L600.2 53.9M599.5 57L600.7 55.7M600.6 58.1L601.9 56.8M601.8 59.3L603.1 58M603 60.4L604.2 59.1M604.1 61.5L606.1 59.6M605.2 62.7L606.5 61.4M606.3 63.9L607.6 62.6M607.4 65L608.8 63.8M608.5 66.2L609.9 65M609.6 67.4L611.7 65.6M610.7 68.6L612 67.5M611.7 69.9L613.1 68.7M612.7 71.1L614.1 70M613.8 72.4L615.2 71.2M614.8 73.6L617 71.9M615.8 74.9L617.2 73.8M616.7 76.2L618.2 75.1M617.7 77.5L619.1 76.4M618.6 78.8L620.1 77.7M619.6 80.1L621.9 78.5M620.5 81.4L622 80.4M621.4 82.7L622.9 81.7M622.3 84.1L623.8 83.1M623.2 85.4L624.7 84.5M624 86.8L626.4 85.3M624.9 88.2L626.4 87.2M625.7 89.6L627.3 88.6M628 93.5L630.4 92.1M628.7 94.9L630.3 94.1M629.5 96.3L631.1 95.5M630.2 97.8L631.8 96.9M631 99.2L632.6 98.4M631.7 100.6L634.2 99.4M632.4 102.1L634 101.3M633 103.6L634.7 102.8M633.7 105L635.3 104.3M634.3 106.5L636 105.8M635 108L637.6 106.9M635.6 109.5L637.2 108.8M636.2 111L637.9 110.3M636.8 112.5L638.4 111.9M637.3 114L639 113.4M637.9 115.5L640.5 114.6M638.4 117.1L640.1 116.5M638.9 118.6L640.6 118M639.4 120.1L641.1 119.6M639.9 121.7L641.6 121.1M640.3 123.2L643 122.4M640.8 124.8L642.5 124.3M641.9 129L644.6 128.3M642.3 130.6L644 130.2M642.6 132.2L644.4 131.8M643 133.7L644.8 133.4M643.3 135.3L645.1 135M643.6 136.9L646.4 136.4M643.9 138.5L645.7 138.2M644.2 140.1L646 139.8M644.5 141.7L646.2 141.4M644.7 143.3L646.5 143M644.9 144.9L647.7 144.5M645.1 146.5L646.9 146.2M645.3 148.1L647.1 147.9M645.5 149.7L647.3 149.5M645.6 151.3L647.4 151.1M645.8 152.9L648.6 152.7M645.9 154.5L647.7 154.4M646 156.1L647.8 156M646.1 157.7L647.9 157.6M646.1 159.3L647.9 159.2M646.2 160.9L649 160.9M646.2 165.9L649 166M646.2 167.5L648 167.6M646.1 169.1L647.9 169.2M646.1 170.8L647.9 170.8M646 172.4L647.8 172.5M645.9 174L648.7 174.2M645.8 175.6L647.6 175.7M645.6 177.2L647.4 177.4M645.5 178.8L647.3 179M645.3 180.4L647.1 180.6M645.1 182L647.9 182.3M644.9 183.6L646.7 183.8M644.7 185.2L646.5 185.5M644.4 186.8L646.2 187.1M644.2 188.4L646 188.7M643.9 190L646.7 190.5M643.6 191.6L645.4 191.9M643.3 193.1L645.1 193.5M643 194.7L644.7 195.1M642.6 196.3L644.4 196.7M642.3 197.9L645 198.5M641.9 199.4L643.6 199.9M641.5 201L643.2 201.5M641.1 202.6L642.8 203M640.1 206.2L642.7 207M639.6 207.7L641.3 208.2M639.1 209.2L640.8 209.8M638.6 210.8L640.3 211.3M638.1 212.3L639.8 212.9M637.5 213.8L640.2 214.8M637 215.3L638.7 216M636.4 216.8L638.1 217.5M635.8 218.3L637.5 219M635.2 219.8L636.9 220.5M634.6 221.3L637.2 222.4M633.9 222.8L635.6 223.5M633.3 224.3L634.9 225M632.6 225.7L634.3 226.5M631.9 227.2L633.6 228M631.2 228.6L633.7 229.9M630.5 230.1L632.1 230.9M629.8 231.5L631.4 232.4M629 233L630.6 233.8M628.3 234.4L629.8 235.2M626.1 238.1L628.5 239.5M625.3 239.5L626.9 240.4M624.5 240.9L626 241.8M623.6 242.3L625.1 243.2M622.7 243.6L624.3 244.6M621.9 245L624.2 246.5M621 246.3L622.5 247.3M620.1 247.6L621.5 248.7M619.1 249L620.6 250M618.2 250.3L619.6 251.3M617.2 251.6L619.5 253.2M616.3 252.9L617.7 253.9M615.3 254.1L616.7 255.2M614.3 255.4L615.7 256.5M613.3 256.6L614.7 257.8M612.2 257.9L614.4 259.7M611.2 259.1L612.6 260.3M610.1 260.3L611.5 261.5M609.1 261.6L610.4 262.8M608 262.8L609.3 264M606.9 263.9L608.9 265.8M603.6 267.4L605.6 269.3M602.5 268.5L603.7 269.8M601.3 269.6L602.6 270.9M600.1 270.7L601.4 272M599 271.8L600.2 273.1M597.8 272.9L599.6 275M596.6 274L597.7 275.3M595.3 275L596.5 276.4M594.1 276.1L595.3 277.5M592.9 277.1L594 278.5M591.6 278.1L593.4 280.3M590.4 279.1L591.5 280.5M589.1 280.1L590.2 281.6M587.8 281.1L588.9 282.5M586.5 282.1L587.6 283.5M585.2 283L586.8 285.3M583.9 283.9L584.9 285.4M580.5 286.2L582.1 288.6M579.2 287.1L580.2 288.6M577.8 288L578.8 289.5M576.5 288.8L577.4 290.4M575.1 289.7L576 291.2M573.7 290.5L575.1 292.9M572.3 291.3L573.2 292.8M570.9 292.1L571.8 293.6M569.5 292.8L570.3 294.4M568 293.6L568.9 295.2M566.6 294.3L567.9 296.8M565.2 295.1L566 296.7M563.7 295.8L564.5 297.4M562.3 296.5L563 298.1M560.8 297.2L561.6 298.8M556.9 298.9L558 301.4M555.5 299.5L556.1 301.1M554 300.1L554.6 301.7M552.5 300.7L553.1 302.3M551 301.2L551.6 302.9M549.4 301.8L550.4 304.4M547.9 302.3L548.5 304M546.4 302.8L547 304.6M544.9 303.3L545.4 305.1M543.3 303.8L543.9 305.6M541.8 304.3L542.6 307M540.2 304.8L540.7 306.5M538.7 305.2L539.2 306.9M537.1 305.6L537.6 307.3M535.6 306L536 307.8M534 306.4L534.6 309.1M532.4 306.8L532.8 308.5M530.8 307.1L531.2 308.9M529.3 307.4L529.6 309.2M525.5 308.2L525.9 310.9M523.9 308.4L524.2 310.2M522.3 308.7L522.5 310.5M520.7 308.9L520.9 310.7M519.1 309.2L519.3 310.9M517.5 309.4L517.8 312.1M515.9 309.5L516.1 311.3M514.3 309.7L514.4 311.5M512.7 309.9L512.8 311.6M511.1 310L511.2 311.8M509.4 310.1L509.6 312.9M507.8 310.2L507.9 312M506.2 310.3L506.3 312.1M504.6 310.3L504.7 312.1M501.1 310.4L501.1 313.2M499.5 310.4L499.5 312.2M497.9 310.4L497.8 312.2M496.2 310.4L496.2 312.2M494.6 310.3L494.6 312.1M493 310.2L492.9 313M491.4 310.1L491.3 311.9M489.8 310L489.7 311.8M488.2 309.9L488.1 311.7M486.6 309.8L486.4 311.6M485 309.6L484.7 312.4M483.4 309.5L483.2 311.2M481.8 309.3L481.6 311M480.2 309.1L479.9 310.8M478.6 308.8L478.3 310.6M477 308.6L476.6 311.3M475.4 308.3L475.1 310.1M471.2 307.5L470.6 310.3M469.6 307.2L469.2 309M468 306.9L467.6 308.6M466.4 306.5L466 308.2M464.9 306.1L464.4 307.9M463.3 305.7L462.6 308.4M461.7 305.3L461.3 307M460.2 304.9L459.7 306.6M458.6 304.4L458.1 306.2M457.1 304L456.6 305.7M455.6 303.5L454.7 306.2M454 303L453.5 304.7M452.5 302.5L451.9 304.2M451 301.9L450.4 303.6M449.5 301.4L448.8 303.1M445.3 299.8L444.2 302.4M443.8 299.2L443.1 300.8M442.3 298.5L441.6 300.2M440.8 297.9L440.1 299.5M439.4 297.2L438.6 298.9M437.9 296.6L436.7 299.1M436.4 295.9L435.7 297.5M435 295.2L434.2 296.8M433.6 294.4L432.7 296M432.1 293.7L431.3 295.3M430.7 292.9L429.4 295.4M429.3 292.2L428.4 293.7M427.9 291.4L427 292.9M426.5 290.6L425.6 292.1M425.1 289.7L424.2 291.3M422.1 287.9L420.7 290.3M420.8 287.1L419.8 288.6M419.4 286.2L418.4 287.7M418.1 285.3L417.1 286.8M416.8 284.4L415.7 285.9M415.4 283.5L413.8 285.8M414.1 282.5L413.1 284M412.8 281.6L411.8 283M411.5 280.6L410.5 282M410.3 279.6L409.2 281M409 278.6L407.3 280.8M407.7 277.6L406.6 279M404.3 274.7L402.5 276.9M403.1 273.7L401.9 275M401.9 272.6L400.7 273.9M400.7 271.5L399.5 272.8M399.5 270.4L398.3 271.7M398.4 269.3L396.4 271.3M397.2 268.2L396 269.5M396.1 267L394.8 268.3M395 265.9L393.7 267.1M393.8 264.7L392.5 266M392.7 263.5L390.7 265.4M391.6 262.4L390.3 263.6M388.4 258.6L386.2 260.4M387.3 257.4L386 258.5M386.3 256.1L384.9 257.3M385.3 254.9L383.9 256M384.3 253.6L382.9 254.7M383.3 252.3L381.1 254M382.4 251L380.9 252.1M381.4 249.7L380 250.8M380.5 248.4L379 249.4M379.6 247.1L378.1 248.1M378.7 245.8L376.3 247.3M377.8 244.4L376.3 245.4M376.9 243.1L375.4 244M374.8 239.8L372.4 241.2M374 238.4L372.5 239.3M373.2 237L371.6 237.9M372.4 235.6L370.8 236.5M371.6 234.2L370.1 235M370.9 232.8L368.4 234.1M370.1 231.3L368.5 232.2M369.4 229.9L367.8 230.7M368.7 228.4L367.1 229.2M368 227L366.3 227.8M366.3 223.3L363.7 224.4M365.6 221.8L364 222.5M365 220.3L363.3 221M364.4 218.8L362.7 219.5M363.8 217.3L362.1 218M363.2 215.8L360.6 216.8M362.6 214.3L361 214.9M362.1 212.8L360.4 213.4M361.6 211.2L359.9 211.8M361.1 209.7L359.4 210.3M360.6 208.2L357.9 209M359.5 204.6L356.8 205.3M359 203L357.3 203.5M358.6 201.4L356.9 201.9M358.2 199.9L356.5 200.3M357.8 198.3L356.1 198.7M357.5 196.8L354.7 197.4M357.1 195.2L355.4 195.6M356.8 193.6L355 194M356.5 192L354.7 192.4M355.8 188.1L353 188.6M355.5 186.5L353.7 186.8M355.3 185L353.5 185.2M355.1 183.4L353.3 183.6M354.9 181.8L353.1 182M354.7 180.2L351.9 180.5M354.5 178.6L352.7 178.7M354.1 174L351.3 174.1M354 172.3L352.2 172.4M353.9 170.7L352.1 170.8M353.9 169.1L352.1 169.2M353.8 167.5L352 167.5M353.8 165.9L351 165.9M353.8 164.3L352 164.3M353.8 162.7L352 162.7M353.8 161.1L352 161M353.9 159.4L352.1 159.4M354 155.8L351.2 155.7M354.1 154.2L352.3 154.1M354.3 152.6L352.5 152.5M354.4 151L352.6 150.9M354.5 149.4L352.8 149.2M354.7 147.8L351.9 147.5M354.9 146.2L353.1 146M355.5 142.1L352.7 141.7M355.7 140.6L353.9 140.3M356 139L354.2 138.7M356.3 137.4L354.5 137M356.6 135.8L354.8 135.4M356.9 134.2L354.2 133.6M357.2 132.6L355.5 132.3M357.6 131.1L355.9 130.7M358 129.5L356.2 129.1M359.2 124.7L356.5 123.9M359.7 123.1L358 122.6M360.1 121.6L358.4 121.1M360.6 120.1L358.9 119.5M361.1 118.5L359.4 118M361.6 117L359 116.1M362.2 115.5L360.5 114.9M362.7 114L361 113.3M364.5 109.3L361.9 108.2M365.1 107.8L363.5 107.1M365.8 106.3L364.1 105.6M366.4 104.8L364.8 104.1M367.1 103.3L365.4 102.6M367.8 101.9L365.2 100.7M368.4 100.4L366.8 99.6M370.4 96.5L367.9 95.2M371.2 95.1L369.6 94.2M371.9 93.7L370.4 92.8M372.7 92.3L371.2 91.4M373.5 90.9L372 90M374.3 89.5L371.9 88.1M375.2 88.1L373.6 87.2M377.4 84.6L375 83.1M378.2 83.3L376.7 82.3M379.1 81.9L377.6 80.9M380.1 80.6L378.6 79.6M381 79.3L379.5 78.2M381.9 78L379.7 76.3M384.9 74L382.7 72.3M385.9 72.8L384.5 71.6M386.9 71.5L385.5 70.4M388 70.3L386.6 69.1M389 69.1L387.6 67.9M390.1 67.8L388 66M391.1 66.6L389.8 65.4M393.9 63.6L391.9 61.7M395 62.4L393.7 61.2M396.2 61.3L394.9 60M397.3 60.2L396 58.9M398.4 59L397.2 57.7M399.6 57.9L397.7 55.9M403.1 54.7L401.2 52.6M404.3 53.7L403.1 52.3M405.5 52.6L404.4 51.3M406.8 51.6L405.6 50.2M408 50.6L406.9 49.2M409.3 49.6L407.5 47.4M410.5 48.6L409.4 47.2M413.6 46.3L411.9 44M414.9 45.3L413.9 43.9M416.2 44.4L415.2 42.9M417.6 43.5L416.5 42M418.9 42.6L417.9 41.1M420.2 41.7L418.7 39.3M423.8 39.4L422.3 37.1M425.2 38.6L424.2 37.1M426.5 37.8L425.6 36.2M427.9 37L427.1 35.4M429.4 36.2L428.5 34.6M433.6 34L432.3 31.5M435 33.2L434.2 31.6M436.5 32.5L435.7 30.9M437.9 31.8L437.2 30.2M439.4 31.2L438.6 29.5M440.8 30.5L439.7 27.9M442.3 29.9L441.6 28.2M443.8 29.2L443.1 27.6M447.1 27.9L446.1 25.3M448.6 27.3L447.9 25.7M450.1 26.8L449.5 25.1M451.6 26.2L451 24.5M455.2 25L454.4 22.4M456.8 24.5L456.3 22.8M458.3 24.1L457.8 22.3M459.9 23.6L459.4 21.9M461.4 23.2L461 21.4M463 22.8L462.3 20.1M464.5 22.4L464.1 20.6M466.1 22L465.7 20.2M467.7 21.6L467.3 19.9M469.3 21.3L468.9 19.5M470.8 20.9L470.3 18.2M472.4 20.6L472.1 18.9M474 20.3L473.7 18.6M475.6 20.1L475.3 18.3M477.2 19.8L476.9 18M478.8 19.5L478.4 16.8M480.4 19.3L480.1 17.5M482 19.1L481.8 17.3M483.6 18.9L483.4 17.1M485.2 18.8L485 17M486.8 18.6L486.5 15.8M488.4 18.5L488.3 16.7M490 18.3L489.9 16.5M491.6 18.2L491.5 16.4M493.2 18.2L493.1 16.4" stroke="#111" stroke-width="0.45" fill="none"/>
<g fill="#222"><text x="501.3" y="14.2" font-size="5.2" font-weight="bold" transform="rotate(-89.5 501.3 14.2)" dy="1.5">0</text><text x="509.6" y="14.5" font-size="5.2" font-weight="bold" transform="rotate(-86.3 509.6 14.5)" dy="1.5">25</text><text x="517.8" y="15.3" font-size="5.2" font-weight="bold" transform="rotate(-83.2 517.8 15.3)" dy="1.5">50</text><text x="526" y="16.5" font-size="5.2" font-weight="bold" transform="rotate(-80 526 16.5)" dy="1.5">75</text><text x="534.1" y="18.1" font-size="5.2" font-weight="bold" transform="rotate(-76.9 534.1 18.1)" dy="1.5">100</text><text x="542.1" y="20.2" font-size="5.2" font-weight="bold" transform="rotate(-73.7 542.1 20.2)" dy="1.5">125</text><text x="551.5" y="23.3" font-size="5.2" font-weight="bold" transform="rotate(-69.9 551.5 23.3)" dy="1.5">0</text><text x="559.2" y="26.4" font-size="5.2" font-weight="bold" transform="rotate(-66.8 559.2 26.4)" dy="1.5">25</text><text x="566.7" y="29.8" font-size="5.2" font-weight="bold" transform="rotate(-63.6 566.7 29.8)" dy="1.5">50</text><text x="574" y="33.7" font-size="5.2" font-weight="bold" transform="rotate(-60.4 574 33.7)" dy="1.5">75</text><text x="581.1" y="38" font-size="5.2" font-weight="bold" transform="rotate(-57.3 581.1 38)" dy="1.5">100</text><text x="587.9" y="42.7" font-size="5.2" font-weight="bold" transform="rotate(-54.1 587.9 42.7)" dy="1.5">125</text><text x="594.6" y="47.8" font-size="5.2" font-weight="bold" transform="rotate(-50.9 594.6 47.8)" dy="1.5">0</text><text x="600.8" y="53.1" font-size="5.2" font-weight="bold" transform="rotate(-47.8 600.8 53.1)" dy="1.5">25</text><text x="606.8" y="58.9" font-size="5.2" font-weight="bold" transform="rotate(-44.6 606.8 58.9)" dy="1.5">50</text><text x="612.4" y="64.9" font-size="5.2" font-weight="bold" transform="rotate(-41.4 612.4 64.9)" dy="1.5">75</text><text x="617.7" y="71.3" font-size="5.2" font-weight="bold" transform="rotate(-38.3 617.7 71.3)" dy="1.5">100</text><text x="622.7" y="77.9" font-size="5.2" font-weight="bold" transform="rotate(-35.1 622.7 77.9)" dy="1.5">125</text><text x="627.3" y="84.8" font-size="5.2" font-weight="bold" transform="rotate(-32 627.3 84.8)" dy="1.5">150</text><text x="631.3" y="91.7" font-size="5.2" font-weight="bold" transform="rotate(-28.9 631.3 91.7)" dy="1.5">0</text><text x="635.1" y="99" font-size="5.2" font-weight="bold" transform="rotate(-25.8 635.1 99)" dy="1.5">25</text><text x="638.5" y="106.5" font-size="5.2" font-weight="bold" transform="rotate(-22.6 638.5 106.5)" dy="1.5">50</text><text x="641.4" y="114.3" font-size="5.2" font-weight="bold" transform="rotate(-19.4 641.4 114.3)" dy="1.5">75</text><text x="644" y="122.1" font-size="5.2" font-weight="bold" transform="rotate(-16.3 644 122.1)" dy="1.5">100</text><text x="645.6" y="128.1" font-size="5.2" font-weight="bold" transform="rotate(-13.9 645.6 128.1)" dy="1.5">0</text><text x="647.4" y="136.2" font-size="5.2" font-weight="bold" transform="rotate(-10.8 647.4 136.2)" dy="1.5">25</text><text x="648.7" y="144.3" font-size="5.2" font-weight="bold" transform="rotate(-7.6 648.7 144.3)" dy="1.5">50</text><text x="649.5" y="152.6" font-size="5.2" font-weight="bold" transform="rotate(-4.4 649.5 152.6)" dy="1.5">75</text><text x="650" y="160.8" font-size="5.2" font-weight="bold" transform="rotate(-1.3 650 160.8)" dy="1.5">100</text><text x="650" y="166" font-size="5.2" font-weight="bold" transform="rotate(0.7 650 166)" dy="1.5">0</text><text x="649.7" y="174.2" font-size="5.2" font-weight="bold" transform="rotate(3.8 649.7 174.2)" dy="1.5">25</text><text x="648.9" y="182.5" font-size="5.2" font-weight="bold" transform="rotate(7 648.9 182.5)" dy="1.5">50</text><text x="647.7" y="190.6" font-size="5.2" font-weight="bold" transform="rotate(10.2 647.7 190.6)" dy="1.5">75</text><text x="646" y="198.7" font-size="5.2" font-weight="bold" transform="rotate(13.3 646 198.7)" dy="1.5">100</text><text x="643.7" y="207.2" font-size="5.2" font-weight="bold" transform="rotate(16.7 643.7 207.2)" dy="1.5">0</text><text x="641.1" y="215.1" font-size="5.2" font-weight="bold" transform="rotate(19.8 641.1 215.1)" dy="1.5">25</text><text x="638.1" y="222.8" font-size="5.2" font-weight="bold" transform="rotate(23 638.1 222.8)" dy="1.5">50</text><text x="634.6" y="230.3" font-size="5.2" font-weight="bold" transform="rotate(26.2 634.6 230.3)" dy="1.5">75</text><text x="629.4" y="240" font-size="5.2" font-weight="bold" transform="rotate(30.4 629.4 240)" dy="1.5">0</text><text x="625" y="247.1" font-size="5.2" font-weight="bold" transform="rotate(33.5 625 247.1)" dy="1.5">25</text><text x="620.3" y="253.8" font-size="5.2" font-weight="bold" transform="rotate(36.7 620.3 253.8)" dy="1.5">50</text><text x="615.2" y="260.3" font-size="5.2" font-weight="bold" transform="rotate(39.9 615.2 260.3)" dy="1.5">75</text><text x="609.7" y="266.5" font-size="5.2" font-weight="bold" transform="rotate(43 609.7 266.5)" dy="1.5">100</text><text x="606.3" y="270" font-size="5.2" font-weight="bold" transform="rotate(44.9 606.3 270)" dy="1.5">0</text><text x="600.3" y="275.7" font-size="5.2" font-weight="bold" transform="rotate(48 600.3 275.7)" dy="1.5">25</text><text x="594" y="281.1" font-size="5.2" font-weight="bold" transform="rotate(51.2 594 281.1)" dy="1.5">50</text><text x="587.4" y="286.1" font-size="5.2" font-weight="bold" transform="rotate(54.4 587.4 286.1)" dy="1.5">75</text><text x="582.6" y="289.4" font-size="5.2" font-weight="bold" transform="rotate(56.6 582.6 289.4)" dy="1.5">0</text><text x="575.6" y="293.8" font-size="5.2" font-weight="bold" transform="rotate(59.7 575.6 293.8)" dy="1.5">25</text><text x="568.3" y="297.7" font-size="5.2" font-weight="bold" transform="rotate(62.9 568.3 297.7)" dy="1.5">50</text><text x="558.4" y="302.4" font-size="5.2" font-weight="bold" transform="rotate(67.1 558.4 302.4)" dy="1.5">0</text><text x="550.7" y="305.4" font-size="5.2" font-weight="bold" transform="rotate(70.2 550.7 305.4)" dy="1.5">25</text><text x="542.9" y="307.9" font-size="5.2" font-weight="bold" transform="rotate(73.4 542.9 307.9)" dy="1.5">50</text><text x="534.9" y="310.1" font-size="5.2" font-weight="bold" transform="rotate(76.6 534.9 310.1)" dy="1.5">75</text><text x="526.1" y="311.9" font-size="5.2" font-weight="bold" transform="rotate(80 526.1 311.9)" dy="1.5">0</text><text x="517.9" y="313.1" font-size="5.2" font-weight="bold" transform="rotate(83.1 517.9 313.1)" dy="1.5">25</text><text x="509.7" y="313.9" font-size="5.2" font-weight="bold" transform="rotate(86.3 509.7 313.9)" dy="1.5">50</text><text x="501.1" y="314.2" font-size="5.2" font-weight="bold" transform="rotate(89.6 501.1 314.2)" dy="1.5">0</text><text x="492.8" y="314" font-size="5.2" font-weight="bold" transform="rotate(92.7 492.8 314)" dy="1.5">25</text><text x="484.6" y="313.4" font-size="5.2" font-weight="bold" transform="rotate(95.9 484.6 313.4)" dy="1.5">50</text><text x="476.4" y="312.3" font-size="5.2" font-weight="bold" transform="rotate(99.1 476.4 312.3)" dy="1.5">75</text><text x="470.4" y="311.3" font-size="5.2" font-weight="bold" transform="rotate(101.4 470.4 311.3)" dy="1.5">0</text><text x="462.4" y="309.4" font-size="5.2" font-weight="bold" transform="rotate(104.5 462.4 309.4)" dy="1.5">25</text><text x="454.4" y="307.1" font-size="5.2" font-weight="bold" transform="rotate(107.7 454.4 307.1)" dy="1.5">50</text><text x="443.9" y="303.3" font-size="5.2" font-weight="bold" transform="rotate(112 443.9 303.3)" dy="1.5">0</text><text x="436.3" y="300" font-size="5.2" font-weight="bold" transform="rotate(115.1 436.3 300)" dy="1.5">25</text><text x="428.9" y="296.3" font-size="5.2" font-weight="bold" transform="rotate(118.3 428.9 296.3)" dy="1.5">50</text><text x="420.1" y="291.2" font-size="5.2" font-weight="bold" transform="rotate(122.2 420.1 291.2)" dy="1.5">0</text><text x="413.2" y="286.6" font-size="5.2" font-weight="bold" transform="rotate(125.3 413.2 286.6)" dy="1.5">25</text><text x="406.6" y="281.6" font-size="5.2" font-weight="bold" transform="rotate(128.5 406.6 281.6)" dy="1.5">50</text><text x="401.8" y="277.6" font-size="5.2" font-weight="bold" transform="rotate(130.9 401.8 277.6)" dy="1.5">0</text><text x="395.7" y="272" font-size="5.2" font-weight="bold" transform="rotate(134 395.7 272)" dy="1.5">25</text><text x="389.9" y="266.1" font-size="5.2" font-weight="bold" transform="rotate(137.2 389.9 266.1)" dy="1.5">50</text><text x="385.5" y="261.1" font-size="5.2" font-weight="bold" transform="rotate(139.8 385.5 261.1)" dy="1.5">0</text><text x="380.3" y="254.6" font-size="5.2" font-weight="bold" transform="rotate(142.9 380.3 254.6)" dy="1.5">25</text><text x="375.5" y="247.9" font-size="5.2" font-weight="bold" transform="rotate(146.1 375.5 247.9)" dy="1.5">50</text><text x="371.6" y="241.7" font-size="5.2" font-weight="bold" transform="rotate(148.9 371.6 241.7)" dy="1.5">0</text><text x="367.5" y="234.5" font-size="5.2" font-weight="bold" transform="rotate(152 367.5 234.5)" dy="1.5">25</text><text x="362.8" y="224.8" font-size="5.2" font-weight="bold" transform="rotate(156.2 362.8 224.8)" dy="1.5">0</text><text x="359.7" y="217.1" font-size="5.2" font-weight="bold" transform="rotate(159.3 359.7 217.1)" dy="1.5">25</text><text x="356.9" y="209.3" font-size="5.2" font-weight="bold" transform="rotate(162.5 356.9 209.3)" dy="1.5">50</text><text x="355.8" y="205.6" font-size="5.2" font-weight="bold" transform="rotate(164 355.8 205.6)" dy="1.5">0</text><text x="353.8" y="197.6" font-size="5.2" font-weight="bold" transform="rotate(167.1 353.8 197.6)" dy="1.5">25</text><text x="352" y="188.8" font-size="5.2" font-weight="bold" transform="rotate(170.6 352 188.8)" dy="1.5">0</text><text x="350.9" y="180.6" font-size="5.2" font-weight="bold" transform="rotate(173.7 350.9 180.6)" dy="1.5">25</text><text x="350.3" y="174.2" font-size="5.2" font-weight="bold" transform="rotate(176.2 350.3 174.2)" dy="1.5">0</text><text x="350" y="165.9" font-size="5.2" font-weight="bold" transform="rotate(179.3 350 165.9)" dy="1.5">25</text><text x="350.2" y="155.6" font-size="5.2" font-weight="bold" transform="rotate(183.3 350.2 155.6)" dy="1.5">0</text><text x="350.9" y="147.4" font-size="5.2" font-weight="bold" transform="rotate(186.4 350.9 147.4)" dy="1.5">25</text><text x="351.7" y="141.6" font-size="5.2" font-weight="bold" transform="rotate(188.7 351.7 141.6)" dy="1.5">0</text><text x="353.2" y="133.4" font-size="5.2" font-weight="bold" transform="rotate(191.8 353.2 133.4)" dy="1.5">25</text><text x="355.6" y="123.7" font-size="5.2" font-weight="bold" transform="rotate(195.7 355.6 123.7)" dy="1.5">0</text><text x="358" y="115.8" font-size="5.2" font-weight="bold" transform="rotate(198.8 358 115.8)" dy="1.5">25</text><text x="361" y="107.8" font-size="5.2" font-weight="bold" transform="rotate(202.1 361 107.8)" dy="1.5">0</text><text x="364.3" y="100.3" font-size="5.2" font-weight="bold" transform="rotate(205.2 364.3 100.3)" dy="1.5">25</text><text x="367" y="94.8" font-size="5.2" font-weight="bold" transform="rotate(207.6 367 94.8)" dy="1.5">0</text><text x="371.1" y="87.5" font-size="5.2" font-weight="bold" transform="rotate(210.7 371.1 87.5)" dy="1.5">25</text><text x="374.2" y="82.6" font-size="5.2" font-weight="bold" transform="rotate(213 374.2 82.6)" dy="1.5">0</text><text x="378.9" y="75.7" font-size="5.2" font-weight="bold" transform="rotate(216.1 378.9 75.7)" dy="1.5">25</text><text x="381.9" y="71.7" font-size="5.2" font-weight="bold" transform="rotate(218.1 381.9 71.7)" dy="1.5">0</text><text x="387.2" y="65.3" font-size="5.2" font-weight="bold" transform="rotate(221.2 387.2 65.3)" dy="1.5">25</text><text x="391.1" y="61" font-size="5.2" font-weight="bold" transform="rotate(223.5 391.1 61)" dy="1.5">0</text><text x="397" y="55.2" font-size="5.2" font-weight="bold" transform="rotate(226.6 397 55.2)" dy="1.5">25</text><text x="400.6" y="51.9" font-size="5.2" font-weight="bold" transform="rotate(228.5 400.6 51.9)" dy="1.5">0</text><text x="406.9" y="46.6" font-size="5.2" font-weight="bold" transform="rotate(231.6 406.9 46.6)" dy="1.5">25</text><text x="411.4" y="43.2" font-size="5.2" font-weight="bold" transform="rotate(233.8 411.4 43.2)" dy="1.5">0</text><text x="418.2" y="38.5" font-size="5.2" font-weight="bold" transform="rotate(236.9 418.2 38.5)" dy="1.5">25</text><text x="421.8" y="36.2" font-size="5.2" font-weight="bold" transform="rotate(238.6 421.8 36.2)" dy="1.5">0</text><text x="431.8" y="30.6" font-size="5.2" font-weight="bold" transform="rotate(243 431.8 30.6)" dy="1.5">0</text><text x="439.3" y="27" font-size="5.2" font-weight="bold" transform="rotate(246.1 439.3 27)" dy="1.5">25</text><text x="445.7" y="24.4" font-size="5.2" font-weight="bold" transform="rotate(248.8 445.7 24.4)" dy="1.5">0</text><text x="454.1" y="21.4" font-size="5.2" font-weight="bold" transform="rotate(252.2 454.1 21.4)" dy="1.5">0</text><text x="462" y="19.1" font-size="5.2" font-weight="bold" transform="rotate(255.3 462 19.1)" dy="1.5">25</text><text x="470.1" y="17.2" font-size="5.2" font-weight="bold" transform="rotate(258.5 470.1 17.2)" dy="1.5">50</text><text x="478.2" y="15.8" font-size="5.2" font-weight="bold" transform="rotate(261.7 478.2 15.8)" dy="1.5">75</text><text x="486.4" y="14.8" font-size="5.2" font-weight="bold" transform="rotate(264.8 486.4 14.8)" dy="1.5">100</text></g>
<text x="532.7" y="6.3" font-size="11" font-weight="bold" text-anchor="middle" fill="#111" stroke="#111" stroke-width="0.3" transform="rotate(11.7 532.7 6.3)" dy="3.9">chr1</text>
<text x="578" y="23" font-size="11" font-weight="bold" text-anchor="middle" fill="#111" stroke="#111" stroke-width="0.3" transform="rotate(28.9 578 23)" dy="3.9">2</text>
<text x="622.5" y="59.2" font-size="11" font-weight="bold" text-anchor="middle" fill="#111" stroke="#111" stroke-width="0.3" transform="rotate(49.4 622.5 59.2)" dy="3.9">3</text>
<text x="649.4" y="103.5" font-size="11" font-weight="bold" text-anchor="middle" fill="#111" stroke="#111" stroke-width="0.3" transform="rotate(67.9 649.4 103.5)" dy="3.9">4</text>
<text x="660" y="143.7" font-size="11" font-weight="bold" text-anchor="middle" fill="#111" stroke="#111" stroke-width="0.3" transform="rotate(82.7 660 143.7)" dy="3.9">5</text>
<text x="659.7" y="186.6" font-size="11" font-weight="bold" text-anchor="middle" fill="#111" stroke="#111" stroke-width="0.3" transform="rotate(-82 659.7 186.6)" dy="3.9">6</text>
<text x="648.6" y="226.8" font-size="11" font-weight="bold" text-anchor="middle" fill="#111" stroke="#111" stroke-width="0.3" transform="rotate(-67.2 648.6 226.8)" dy="3.9">7</text>
<text x="628.9" y="261.2" font-size="11" font-weight="bold" text-anchor="middle" fill="#111" stroke="#111" stroke-width="0.3" transform="rotate(-53.1 628.9 261.2)" dy="3.9">8</text>
<text x="603.6" y="287.9" font-size="11" font-weight="bold" text-anchor="middle" fill="#111" stroke="#111" stroke-width="0.3" transform="rotate(-39.9 603.6 287.9)" dy="3.9">9</text>
<text x="577.8" y="305.5" font-size="11" font-weight="bold" text-anchor="middle" fill="#111" stroke="#111" stroke-width="0.3" transform="rotate(-28.8 577.8 305.5)" dy="3.9">10</text>
<text x="547.6" y="318.3" font-size="11" font-weight="bold" text-anchor="middle" fill="#111" stroke="#111" stroke-width="0.3" transform="rotate(-17.1 547.6 318.3)" dy="3.9">11</text>
<text x="516.6" y="324.6" font-size="11" font-weight="bold" text-anchor="middle" fill="#111" stroke="#111" stroke-width="0.3" transform="rotate(-5.9 516.6 324.6)" dy="3.9">12</text>
<text x="486.5" y="324.9" font-size="11" font-weight="bold" text-anchor="middle" fill="#111" stroke="#111" stroke-width="0.3" transform="rotate(4.8 486.5 324.9)" dy="3.9">13</text>
<text x="455.5" y="319.3" font-size="11" font-weight="bold" text-anchor="middle" fill="#111" stroke="#111" stroke-width="0.3" transform="rotate(16 455.5 319.3)" dy="3.9">14</text>
<text x="428.3" y="308.7" font-size="11" font-weight="bold" text-anchor="middle" fill="#111" stroke="#111" stroke-width="0.3" transform="rotate(26.4 428.3 308.7)" dy="3.9">15</text>
<text x="405.5" y="294.9" font-size="11" font-weight="bold" text-anchor="middle" fill="#111" stroke="#111" stroke-width="0.3" transform="rotate(35.8 405.5 294.9)" dy="3.9">16</text>
<text x="386.6" y="279" font-size="11" font-weight="bold" text-anchor="middle" fill="#111" stroke="#111" stroke-width="0.3" transform="rotate(44.6 386.6 279)" dy="3.9">17</text>
<text x="370.1" y="259.8" font-size="11" font-weight="bold" text-anchor="middle" fill="#111" stroke="#111" stroke-width="0.3" transform="rotate(53.6 370.1 259.8)" dy="3.9">18</text>
<text x="357.8" y="240.3" font-size="11" font-weight="bold" text-anchor="middle" fill="#111" stroke="#111" stroke-width="0.3" transform="rotate(61.8 357.8 240.3)" dy="3.9">19</text>
<text x="349" y="221" font-size="11" font-weight="bold" text-anchor="middle" fill="#111" stroke="#111" stroke-width="0.3" transform="rotate(69.4 349 221)" dy="3.9">20</text>
<text x="343.1" y="201.6" font-size="11" font-weight="bold" text-anchor="middle" fill="#111" stroke="#111" stroke-width="0.3" transform="rotate(76.6 343.1 201.6)" dy="3.9">21</text>
<text x="340" y="184.7" font-size="11" font-weight="bold" text-anchor="middle" fill="#111" stroke="#111" stroke-width="0.3" transform="rotate(82.7 340 184.7)" dy="3.9">22</text>
<text x="338.7" y="166.9" font-size="11" font-weight="bold" text-anchor="middle" fill="#111" stroke="#111" stroke-width="0.3" transform="rotate(89.1 338.7 166.9)" dy="3.9">23</text>
<text x="339.4" y="149.3" font-size="11" font-weight="bold" text-anchor="middle" fill="#111" stroke="#111" stroke-width="0.3" transform="rotate(-84.7 339.4 149.3)" dy="3.9">24</text>
<text x="341.9" y="132" font-size="11" font-weight="bold" text-anchor="middle" fill="#111" stroke="#111" stroke-width="0.3" transform="rotate(-78.5 341.9 132)" dy="3.9">25</text>
<text x="346.8" y="113.8" font-size="11" font-weight="bold" text-anchor="middle" fill="#111" stroke="#111" stroke-width="0.3" transform="rotate(-71.8 346.8 113.8)" dy="3.9">26</text>
<text x="352.8" y="98.2" font-size="11" font-weight="bold" text-anchor="middle" fill="#111" stroke="#111" stroke-width="0.3" transform="rotate(-65.9 352.8 98.2)" dy="3.9">27</text>
<text x="359.8" y="84.5" font-size="11" font-weight="bold" text-anchor="middle" fill="#111" stroke="#111" stroke-width="0.3" transform="rotate(-60.4 359.8 84.5)" dy="3.9">28</text>
<text x="367.6" y="72" font-size="11" font-weight="bold" text-anchor="middle" fill="#111" stroke="#111" stroke-width="0.3" transform="rotate(-55.1 367.6 72)" dy="3.9">29</text>
<text x="376.6" y="60.3" font-size="11" font-weight="bold" text-anchor="middle" fill="#111" stroke="#111" stroke-width="0.3" transform="rotate(-49.9 376.6 60.3)" dy="3.9">30</text>
<text x="386.5" y="49.5" font-size="11" font-weight="bold" text-anchor="middle" fill="#111" stroke="#111" stroke-width="0.3" transform="rotate(-44.7 386.5 49.5)" dy="3.9">31</text>
<text x="397.3" y="39.8" font-size="11" font-weight="bold" text-anchor="middle" fill="#111" stroke="#111" stroke-width="0.3" transform="rotate(-39.5 397.3 39.8)" dy="3.9">32</text>
<text x="408.6" y="31.3" font-size="11" font-weight="bold" text-anchor="middle" fill="#111" stroke="#111" stroke-width="0.3" transform="rotate(-34.5 408.6 31.3)" dy="3.9">33</text>
<text x="419.6" y="24.4" font-size="11" font-weight="bold" text-anchor="middle" fill="#111" stroke="#111" stroke-width="0.3" transform="rotate(-29.9 419.6 24.4)" dy="3.9">34</text>
<text x="432.3" y="17.8" font-size="11" font-weight="bold" text-anchor="middle" fill="#111" stroke="#111" stroke-width="0.3" transform="rotate(-24.8 432.3 17.8)" dy="3.9">35</text>
<text x="444.3" y="12.8" font-size="11" font-weight="bold" text-anchor="middle" fill="#111" stroke="#111" stroke-width="0.3" transform="rotate(-20.2 444.3 12.8)" dy="3.9">36</text>
<text x="471.7" y="5.4" font-size="11" font-weight="bold" text-anchor="middle" fill="#111" stroke="#111" stroke-width="0.3" transform="rotate(-10.1 471.7 5.4)" dy="3.9">X</text>
<path d="M473.5 170 C473.5 178 474.5 184 475 188 C474 194 473 198 473.5 201 L473 203.3 L477.5 203.3 L477.3 200 C477 195 478 190 479 186 C480 181 480.5 177 481 174 Z" fill="#6f5e50"/>
<path d="M481 175 C483 182 486 190 488.5 197 L488 201 L492 201.3 L491.8 197 C490 190 489 183 489.5 176 Z" fill="#8a7868"/>
<path d="M493.5 175 C494 183 495.5 190 495.5 196 C495 200 494.5 203 494.5 205 L494 207.4 L499.5 207.4 L499 204 C499.5 199 500.5 193 502 187 C502.5 182 503 178 503 175 Z" fill="#bba994"/>
<path d="M504.5 175 C505.5 183 506.5 190 506.5 196 L506 204.6 L511 204.6 L510.5 197 C510.5 190 511.5 182 512.2 175 Z" fill="#c8b8a5"/>
<path d="M473 201.5 L477.5 201.5 L477.6 203.5 L472.8 203.5 Z M488 199.5 L492 199.7 L492.2 201.5 L487.8 201.3 Z M494 205.6 L499.5 205.6 L499.7 207.6 L493.8 207.6 Z M506 203 L511 203 L511.2 204.8 L505.8 204.8 Z" fill="#4a3d33"/>
<path d="M473.3 165 C473 155 476 147 480 143.5 C482 140 485 139.5 487 140.5 C489.5 142 491 145 492.7 146.4 C494 141 497 138.5 500 138.7 C504 139 507 143 509.5 148 C511 146 512.5 141 514 137 L514.5 131 C515 127 524 126 527 129 C528.5 133 528 139 526.5 142 C527 150 526.5 160 523 168 C520 174 515 177 508 177.5 C500 178.5 490 178 482 176 C476 174 473.3 170 473.3 165 Z" fill="#a69483"/>
<path d="M476 168 C480 174 490 176.5 500 177 C508 177 516 175 521 170 C518 175 513 177.5 506 177.8 C496 178.5 487 178 481 176 C478 174.5 476.5 171 476 168 Z" fill="#8c7a6a"/>
<path d="M480 143.5 C482 140 485 139.5 487 140.5 C489.5 142 491 145 492.7 146.4 C489 145 484 146 480.5 148 Z M492.7 146.4 C494 141 497 138.5 500 138.7 C504 139 507 143 509.5 148 C505 145 498 144 493 148 Z" fill="#cbbdac"/>
<path d="M514.5 131 C515 127 524 126 527 129 C528.5 133 528 139 526.5 142 C523 143.5 518 143 515.5 139 Z" fill="#c3b3a1"/>
<path d="M518.5 134 h1.4 v1.1 h-1.4 Z M523.5 134 h1.4 v1.1 h-1.4 Z" fill="#3a2f28"/>
<path d="M516 150 C520 148 524 147 526.8 146 C527 155 526 162 523 168 C520 162 517 156 516 150 Z" fill="#bcab98" opacity="0.9"/>
<path d="M525.5 143 L529.5 145.5 L526.5 147 L529 149.5 L525 150 Z" fill="#a58f79"/>
<text x="0.1" y="326.6" font-size="14.6" font-weight="bold" fill="#1a1a1a">C</text>
<clipPath id="cclip"><rect x="50.2" y="331.7" width="206.8" height="153.7"/></clipPath>
<g clip-path="url(#cclip)" fill="none" stroke-linejoin="round">
<polyline points="59.7,343.4 83.8,347.7 92.6,349.9 107.2,351.4 115.9,351.4 140,355 181.7,359.8 189.3,362.7 210.2,371.2 219.7,374 229.2,376 238.7,380.3 242.5,450 245.6,486" stroke="#e8302c" stroke-width="1.8"/>
<polyline points="59.7,349.2 79.4,349.9 88.2,352.4 107.2,354.3 140,358 172.3,359.8 210.2,374 227.3,377.9 238.7,381.7 240.6,450 241.2,486" stroke="#2a6a32" stroke-width="2.3" stroke-dasharray="6 2.5"/>
<polyline points="59.7,349.2 79.4,349.9 88.2,351.8 107.2,354.3 140,358 172.3,359.8 210.2,374 227.3,378.8 237.7,399.7 239.6,450 241.9,486" stroke="#c889cc" stroke-width="2.3" stroke-dasharray="6 2.5" stroke-dashoffset="3"/>
<polyline points="59.7,367.4 75,381.3 79.4,384.2 107.2,390 140,395.5 168.5,403.5 212,418.7 229.2,430 238.7,443.4 239.6,450 240.2,486" stroke="#1f4fae" stroke-width="2.6" stroke-dasharray="7 3.5"/>
</g>
<rect x="50.2" y="331.7" width="206.8" height="153.7" fill="none" stroke="#333" stroke-width="1"/>
<path d="M50.2 485.4h-3M50.2 472.1h-1.6M50.2 464.4h-1.6M50.2 458.8h-1.6M50.2 454.6h-1.6M50.2 451.1h-1.6M50.2 448.1h-1.6M50.2 445.6h-1.6M50.2 443.3h-1.6M50.2 441.3h-3M50.2 428h-1.6M50.2 420.3h-1.6M50.2 414.7h-1.6M50.2 410.5h-1.6M50.2 407h-1.6M50.2 404h-1.6M50.2 401.5h-1.6M50.2 399.2h-1.6M50.2 397.2h-3M50.2 383.9h-1.6M50.2 376.2h-1.6M50.2 370.6h-1.6M50.2 366.4h-1.6M50.2 362.9h-1.6M50.2 359.9h-1.6M50.2 357.4h-1.6M50.2 355.1h-1.6M50.2 353.1h-3M50.2 339.8h-1.6M50.2 332.1h-1.6M60.1 485.4v3M107 485.4v3M153.9 485.4v3M200.9 485.4v3M247.8 485.4v3" stroke="#333" stroke-width="0.8" fill="none"/>
<text x="43.2" y="355.3" font-size="8.2" font-weight="bold" text-anchor="end" fill="#222">10</text>
<text x="43.5" y="352.2" font-size="4.6" font-weight="bold" fill="#222">8</text>
<text x="43.2" y="399.4" font-size="8.2" font-weight="bold" text-anchor="end" fill="#222">10</text>
<text x="43.5" y="396.3" font-size="4.6" font-weight="bold" fill="#222">7</text>
<text x="43.2" y="443.5" font-size="8.2" font-weight="bold" text-anchor="end" fill="#222">10</text>
<text x="43.5" y="440.4" font-size="4.6" font-weight="bold" fill="#222">6</text>
<text x="43.2" y="487.6" font-size="8.2" font-weight="bold" text-anchor="end" fill="#222">10</text>
<text x="43.5" y="484.5" font-size="4.6" font-weight="bold" fill="#222">5</text>
<text x="60.1" y="498.6" font-size="8.5" font-weight="bold" text-anchor="middle" fill="#1a1a1a">0</text>
<text x="107" y="498.6" font-size="8.5" font-weight="bold" text-anchor="middle" fill="#1a1a1a">25</text>
<text x="153.9" y="498.6" font-size="8.5" font-weight="bold" text-anchor="middle" fill="#1a1a1a">50</text>
<text x="200.9" y="498.6" font-size="8.5" font-weight="bold" text-anchor="middle" fill="#1a1a1a">75</text>
<text x="247.8" y="498.6" font-size="8.5" font-weight="bold" text-anchor="middle" fill="#1a1a1a">100</text>
<text x="159.5" y="510.5" font-size="11" font-weight="bold" text-anchor="middle" fill="#1a1a1a">N %</text>
<text x="29.6" y="399" font-size="11" font-weight="bold" text-anchor="middle" fill="#222" transform="rotate(-90 29.6 399)">num</text>
<rect x="53.4" y="446.7" width="133" height="35.8" rx="1.5" fill="#fff" fill-opacity="0.85" stroke="#cccccc" stroke-width="0.8"/>
<rect x="55.3" y="450.9" width="9.5" height="1.8" fill="#e8302c"/>
<text x="70.7" y="454.7" font-size="8.1" font-weight="bold" fill="#262626">Bactrian camel<tspan dx="4.2">(Hifi+Hi-C</tspan><tspan dx="2.2">)</tspan></text>
<rect x="55.3" y="460" width="9.5" height="1.8" fill="#2a6a32"/>
<text x="70.7" y="463.8" font-size="8.1" font-weight="bold" fill="#262626">Wild Bactriancamel</text>
<rect x="55.3" y="468.4" width="9.5" height="1.8" fill="#c889cc"/>
<text x="70.7" y="472.2" font-size="8.1" font-weight="bold" fill="#262626">Arabian camel</text>
<rect x="55.3" y="476.5" width="9.5" height="1.8" fill="#1f4fae"/>
<text x="70.7" y="480.3" font-size="8.1" font-weight="bold" fill="#262626">Bactrian camel</text>
<text x="317.2" y="326.3" font-size="14.6" font-weight="bold" fill="#1a1a1a">D</text>
<rect x="418" y="333.9" width="212.8" height="7.9" fill="#50779f"/>
<rect x="630.8" y="333.9" width="8.2" height="7.9" fill="#e8873c"/>
<rect x="639" y="333.9" width="1.3" height="7.9" fill="#aeafb2"/>
<text x="413.5" y="341" font-size="9.4" font-weight="bold" text-anchor="end" fill="#1e1e1e">Camelus bactrianus (Hifi+Hic)</text>
<rect x="418" y="349.8" width="163" height="7.9" fill="#50779f"/>
<rect x="581" y="349.8" width="26" height="7.9" fill="#e8873c"/>
<rect x="607" y="349.8" width="33.3" height="7.9" fill="#aeafb2"/>
<text x="413.5" y="356.8" font-size="9.4" font-weight="bold" text-anchor="end" fill="#1e1e1e" dx="-3">Camelus bactrianus</text>
<rect x="418" y="365.6" width="198.6" height="7.9" fill="#50779f"/>
<rect x="616.6" y="365.6" width="21.5" height="7.9" fill="#e8873c"/>
<rect x="638.1" y="365.6" width="2.2" height="7.9" fill="#aeafb2"/>
<text x="413.5" y="372.6" font-size="9.4" font-weight="bold" text-anchor="end" fill="#1e1e1e">Camelus dromedarius</text>
<rect x="418" y="381.3" width="196.4" height="7.9" fill="#50779f"/>
<rect x="614.4" y="381.3" width="23.2" height="7.9" fill="#e8873c"/>
<rect x="637.6" y="381.3" width="2.7" height="7.9" fill="#aeafb2"/>
<text x="413.5" y="388.4" font-size="9.4" font-weight="bold" text-anchor="end" fill="#1e1e1e" dx="-3">Camelus ferus</text>
<rect x="418" y="397.1" width="188.2" height="7.9" fill="#50779f"/>
<rect x="606.2" y="397.1" width="12.2" height="7.9" fill="#e8873c"/>
<rect x="618.4" y="397.1" width="21.9" height="7.9" fill="#aeafb2"/>
<text x="413.5" y="404.2" font-size="9.4" font-weight="bold" text-anchor="end" fill="#1e1e1e">Lama glama (llama)</text>
<rect x="418" y="412.9" width="200" height="7.9" fill="#50779f"/>
<rect x="618" y="412.9" width="11" height="7.9" fill="#e8873c"/>
<rect x="629" y="412.9" width="11.3" height="7.9" fill="#aeafb2"/>
<text x="413.5" y="420" font-size="9.4" font-weight="bold" text-anchor="end" fill="#1e1e1e">Lama glama chaku</text>
<rect x="418" y="428.8" width="208" height="7.9" fill="#50779f"/>
<rect x="626" y="428.8" width="10.6" height="7.9" fill="#e8873c"/>
<rect x="636.6" y="428.8" width="3.7" height="7.9" fill="#aeafb2"/>
<text x="413.5" y="435.8" font-size="9.4" font-weight="bold" text-anchor="end" fill="#1e1e1e">Lama guanicoe</text>
<rect x="418" y="444.6" width="158" height="7.9" fill="#50779f"/>
<rect x="576" y="444.6" width="17.6" height="7.9" fill="#e8873c"/>
<rect x="593.6" y="444.6" width="46.7" height="7.9" fill="#aeafb2"/>
<text x="413.5" y="451.6" font-size="9.4" font-weight="bold" text-anchor="end" fill="#1e1e1e">Vicugna pacos alpaca (HLvicPac4)</text>
<rect x="418" y="460.3" width="159" height="7.9" fill="#50779f"/>
<rect x="577" y="460.3" width="19.5" height="7.9" fill="#e8873c"/>
<rect x="596.5" y="460.3" width="43.8" height="7.9" fill="#aeafb2"/>
<text x="413.5" y="467.4" font-size="9.4" font-weight="bold" text-anchor="end" fill="#1e1e1e">Vicugna pacos alpaca (vicPac2)</text>
<rect x="418" y="476.2" width="190" height="7.9" fill="#50779f"/>
<rect x="608" y="476.2" width="11.9" height="7.9" fill="#e8873c"/>
<rect x="619.9" y="476.2" width="20.4" height="7.9" fill="#aeafb2"/>
<text x="413.5" y="483.2" font-size="9.4" font-weight="bold" text-anchor="end" fill="#1e1e1e">Vicugna pacos huacaya</text>
<rect x="418" y="491.9" width="208" height="7.9" fill="#50779f"/>
<rect x="626" y="491.9" width="10.3" height="7.9" fill="#e8873c"/>
<rect x="636.3" y="491.9" width="4" height="7.9" fill="#aeafb2"/>
<text x="413.5" y="499" font-size="9.4" font-weight="bold" text-anchor="end" fill="#1e1e1e">Vicugna vicugna mensalis</text>
<path d="M418 337.9h-3M418 353.7h-3M418 369.5h-3M418 385.3h-3M418 401.1h-3M418 416.9h-3M418 432.7h-3M418 448.5h-3M418 464.3h-3M418 480.1h-3M418 495.9h-3M418 503.6v3M430.1 503.6v2M442.1 503.6v2M454.1 503.6v2M466.2 503.6v3M478.2 503.6v2M490.3 503.6v2M502.4 503.6v2M514.4 503.6v3M526.5 503.6v2M538.5 503.6v2M550.5 503.6v2M562.6 503.6v3M574.6 503.6v2M586.7 503.6v2M598.8 503.6v2M610.8 503.6v3M622.9 503.6v2M634.9 503.6v2" stroke="#333" stroke-width="0.8" fill="none"/>
<rect x="418" y="329.7" width="233.6" height="173.9" fill="none" stroke="#333" stroke-width="1"/>
<text x="418" y="514" font-size="8.5" font-weight="bold" text-anchor="middle" fill="#1a1a1a">0</text>
<text x="466.2" y="514" font-size="8.5" font-weight="bold" text-anchor="middle" fill="#1a1a1a">4000</text>
<text x="514.4" y="514" font-size="8.5" font-weight="bold" text-anchor="middle" fill="#1a1a1a">8000</text>
<text x="562.6" y="514" font-size="8.5" font-weight="bold" text-anchor="middle" fill="#1a1a1a">12000</text>
<text x="610.8" y="514" font-size="8.5" font-weight="bold" text-anchor="middle" fill="#1a1a1a">16000</text>
<text x="526.6" y="522.8" font-size="8.5" font-weight="bold" text-anchor="middle" fill="#1a1a1a">gene number</text>
<rect x="254.5" y="504.4" width="151.8" height="30.3" rx="1.5" fill="#fff" stroke="#cccccc" stroke-width="0.8"/>
<rect x="257.4" y="508.3" width="12.9" height="3.4" fill="#50779f"/>
<text x="276" y="512.8" font-size="8.2" font-weight="bold" fill="#262626">intact genes</text>
<rect x="257.4" y="517.6" width="12.9" height="3.4" fill="#e8873c"/>
<text x="276" y="522.1" font-size="8.2" font-weight="bold" fill="#262626">genes with inactivating mutations</text>
<rect x="257.4" y="526.9" width="12.9" height="3.4" fill="#aeafb2"/>
<text x="276" y="531.4" font-size="8.2" font-weight="bold" fill="#262626">genes with missing sequence</text>
<text x="0.9" y="542.5" font-size="14.6" font-weight="bold" fill="#1a1a1a">E</text>
<text x="42.6" y="555.2" font-size="11.6" font-weight="bold" text-anchor="middle" fill="#222">Dromedary</text>
<text x="41.3" y="609.2" font-size="11.6" font-weight="bold" text-anchor="middle" fill="#222">Bactrian camel</text>
<text x="42.6" y="624.2" font-size="11.6" font-weight="bold" text-anchor="middle" fill="#222">(our study)</text>
<text x="43" y="681" font-size="11.6" font-weight="bold" text-anchor="middle" fill="#222">Bactrian camel</text>
<path d="M88.8 555.2C88.8 577.1 89.8 585.4 89.8 607.3L117 607.3C117 585.4 116.3 577.1 116.3 555.2Z" fill="#98c3da"/>
<path d="M119.9 555.2C119.9 577.1 121.7 585.4 121.7 607.3L148.8 607.3C148.8 585.4 147.2 577.1 147.2 555.2Z" fill="#2f75ad"/>
<path d="M150.7 555.2C150.7 577.1 155.2 585.4 155.2 607.3L181.9 607.3C181.9 585.4 177.5 577.1 177.5 555.2Z" fill="#a6d48e"/>
<path d="M180.6 555.2C180.6 577.1 190.8 585.4 190.8 607.3L206.4 607.3C206.4 585.4 195.8 577.1 195.8 555.2Z" fill="#479c45"/>
<path d="M199.8 555.2C199.8 577.1 212.8 585.4 212.8 607.3L233.4 607.3C233.4 585.4 220.8 577.1 220.8 555.2Z" fill="#f3959a"/>
<path d="M224.3 555.2C224.3 577.1 237.2 585.4 237.2 607.3L258.3 607.3C258.3 585.4 245.4 577.1 245.4 555.2Z" fill="#d8302d"/>
<path d="M249.1 555.2C249.1 577.1 262.7 585.4 262.7 607.3L281.2 607.3C281.2 585.4 268 577.1 268 555.2Z" fill="#f7b36d"/>
<path d="M271.6 555.2C271.6 577.1 285.2 585.4 285.2 607.3L303.7 607.3C303.7 585.4 289.8 577.1 289.8 555.2Z" fill="#f17f2c"/>
<path d="M293.4 555.2C293.4 577.1 308 585.4 308 607.3L323.2 607.3C323.2 585.4 310 577.1 310 555.2Z" fill="#bfaed5"/>
<path d="M303.7 557.2C303.7 577.1 315.5 585.4 315.5 606.3" stroke="#fff" stroke-width="1.1" fill="none" opacity="0.9"/>
<path d="M313.9 555.2C313.9 577.1 327.5 585.4 327.5 607.3L341.7 607.3C341.7 585.4 328.8 577.1 328.8 555.2Z" fill="#6a489c"/>
<path d="M333 555.2C333 577.1 345 585.4 345 607.3L361.8 607.3C361.8 585.4 351 577.1 351 555.2Z" fill="#f4f39b"/>
<path d="M344.2 557.2C344.2 577.1 353.3 585.4 353.3 606.3" stroke="#fff" stroke-width="1.1" fill="none" opacity="0.9"/>
<path d="M354.8 555.2C354.8 577.1 366.1 585.4 366.1 607.3L379.6 607.3C379.6 585.4 369.8 577.1 369.8 555.2Z" fill="#a5582e"/>
<path d="M373.3 555.2C373.3 577.1 383.6 585.4 383.6 607.3L398.8 607.3C398.8 585.4 388.2 577.1 388.2 555.2Z" fill="#98c3da"/>
<path d="M391.8 555.2C391.8 577.1 402.8 585.4 402.8 607.3L417.2 607.3C417.2 585.4 407.4 577.1 407.4 555.2Z" fill="#2f75ad"/>
<path d="M410.9 555.2C410.9 577.1 420.5 585.4 420.5 607.3L433.4 607.3C433.4 585.4 423.4 577.1 423.4 555.2Z" fill="#a6d48e"/>
<path d="M427 555.2C427 577.1 437.3 585.4 437.3 607.3L449.2 607.3C449.2 585.4 440.3 577.1 440.3 555.2Z" fill="#479c45"/>
<path d="M443.2 555.2C443.2 577.1 452.6 585.4 452.6 607.3L463.9 607.3C463.9 585.4 454.4 577.1 454.4 555.2Z" fill="#f3959a"/>
<path d="M457.3 555.2C457.3 577.1 468.6 585.4 468.6 607.3L475.9 607.3C475.9 585.4 463.8 577.1 463.8 555.2Z" fill="#d8302d"/>
<path d="M468.4 555.2C468.4 577.1 480.8 585.4 480.8 607.3L490.2 607.3C490.2 585.4 477.2 577.1 477.2 555.2Z" fill="#f7b36d"/>
<path d="M481.8 555.2C481.8 577.1 494.8 585.4 494.8 607.3L502.8 607.3C502.8 585.4 490.7 577.1 490.7 555.2Z" fill="#f17f2c"/>
<path d="M494.2 555.2C494.2 577.1 507.2 585.4 507.2 607.3L514.2 607.3C514.2 585.4 501.4 577.1 501.4 555.2Z" fill="#bfaed5"/>
<path d="M498.7 557.2C498.7 577.1 510.7 585.4 510.7 606.3" stroke="#fff" stroke-width="1.1" fill="none" opacity="0.9"/>
<path d="M505 555.2C505 577.1 518.2 585.4 518.2 607.3L524.2 607.3C524.2 585.4 510.8 577.1 510.8 555.2Z" fill="#6a489c"/>
<path d="M514.4 555.2C514.4 577.1 528.1 585.4 528.1 607.3L536 607.3C536 585.4 521.6 577.1 521.6 555.2Z" fill="#f4f39b"/>
<path d="M525.4 555.2C525.4 577.1 540 585.4 540 607.3L546.4 607.3C546.4 585.4 531 577.1 531 555.2Z" fill="#a5582e"/>
<path d="M534.5 555.2C534.5 577.1 549.9 585.4 549.9 607.3L556.8 607.3C556.8 585.4 543.4 577.1 543.4 555.2Z" fill="#98c3da"/>
<path d="M546.9 555.2C546.9 577.1 561.6 585.4 561.6 607.3L567.9 607.3C567.9 585.4 552.4 577.1 552.4 555.2Z" fill="#2f75ad"/>
<path d="M556.3 555.2C556.3 577.1 571.8 585.4 571.8 607.3L578.4 607.3C578.4 585.4 562.4 577.1 562.4 555.2Z" fill="#a6d48e"/>
<path d="M565.7 555.2C565.7 577.1 582.7 585.4 582.7 607.3L586.9 607.3C586.9 585.4 569.4 577.1 569.4 555.2Z" fill="#479c45"/>
<path d="M573 555.2C573 577.1 591 585.4 591 607.3L596.5 607.3C596.5 585.4 577.6 577.1 577.6 555.2Z" fill="#f3959a"/>
<path d="M581.6 555.2C581.6 577.1 600.9 585.4 600.9 607.3L605.7 607.3C605.7 585.4 587.1 577.1 587.1 555.2Z" fill="#d8302d"/>
<path d="M590.7 555.2C590.7 577.1 609.7 585.4 609.7 607.3L613.9 607.3C613.9 585.4 594.4 577.1 594.4 555.2Z" fill="#f7b36d"/>
<path d="M598 555.2C598 577.1 618.8 585.4 618.8 607.3L623.1 607.3C623.1 585.4 603.2 577.1 603.2 555.2Z" fill="#f17f2c"/>
<path d="M606.6 555.2C606.6 577.1 627.4 585.4 627.4 607.3L631.3 607.3C631.3 585.4 611.4 577.1 611.4 555.2Z" fill="#bfaed5"/>
<path d="M609.6 557.2C609.6 577.1 629.3 585.4 629.3 606.3" stroke="#fff" stroke-width="1.1" fill="none" opacity="0.9"/>
<path d="M615.3 555.2C615.3 577.1 635.6 585.4 635.6 607.3L640.4 607.3C640.4 585.4 620.5 577.1 620.5 555.2Z" fill="#6a489c"/>
<path d="M624.1 555.2C624.1 577.1 643.9 585.4 643.9 607.3L649.4 607.3C649.4 585.4 628.7 577.1 628.7 555.2Z" fill="#f4f39b"/>
<path d="M632.7 555.2C632.7 577.1 653.8 585.4 653.8 607.3L655.9 607.3C655.9 585.4 633.9 577.1 633.9 555.2Z" fill="#a5582e"/>
<path d="M637.6 555.2C637.6 577.1 660.5 585.4 660.5 607.3L682.2 607.3C682.2 585.4 664.4 577.1 664.4 555.2Z" fill="#98c3da"/>
<path d="M205 607.3C220.3 606.1 273.2 602.7 297 600.4C320.8 598.1 330.7 595.4 347.5 593.7C364.3 592 380.1 593.4 398 590C415.9 586.6 437.2 577.4 455 573.6C472.8 569.8 485.4 569 505 567C524.6 565 550 563.2 572.5 561.8C595 560.4 623.3 559.6 639.7 558.5C656.1 557.4 665.8 555.8 671 555.2" fill="none" stroke="#2f75ad" stroke-width="1.3" stroke-linejoin="round"/>
<path d="M358 607.3C365 606.4 383.8 604.3 400 602C416.2 599.7 440.2 595.9 455 593.7C469.8 591.5 476.1 591 488.6 589C501.1 587 518.8 584.6 530 582C541.2 579.4 545.7 576.3 555.7 573.6C565.7 570.9 578.8 568.1 590 566C601.2 563.9 609.2 562.8 623 561C636.8 559.2 664.7 556.2 673 555.2" fill="none" stroke="#f3959a" stroke-width="1.3" stroke-linejoin="round"/>
<path d="M474 607.3C482 606.2 507.7 603.2 522 601C536.3 598.8 551.6 596.7 560 594C568.4 591.3 567.5 588.3 572.5 585C577.5 581.7 581.6 577.5 590 574C598.4 570.5 613 566.7 623 564C633 561.3 641.5 559.5 650 558C658.5 556.5 670 555.7 674 555.2" fill="none" stroke="#479c45" stroke-width="1.3" stroke-linejoin="round"/>
<path d="M644 607.3C645.8 603.6 651.3 591.9 655 585C658.7 578.1 662.3 571 666 566C669.7 561 675.2 557 677 555.2" fill="none" stroke="#a6d48e" stroke-width="1.3" stroke-linejoin="round"/>
<rect x="88.2" y="547.7" width="28.7" height="7.5" rx="1.6" fill="#3c9a7a"/>
<rect x="119.3" y="547.7" width="28.5" height="7.5" rx="1.6" fill="#3c9a7a"/>
<rect x="150.1" y="547.7" width="28" height="7.5" rx="1.6" fill="#3c9a7a"/>
<rect x="180" y="547.7" width="16.4" height="7.5" rx="1.6" fill="#3c9a7a"/>
<rect x="199.2" y="547.7" width="22.2" height="7.5" rx="1.6" fill="#3c9a7a"/>
<rect x="223.7" y="547.7" width="22.3" height="7.5" rx="1.6" fill="#3c9a7a"/>
<rect x="248.5" y="547.7" width="20.1" height="7.5" rx="1.6" fill="#3c9a7a"/>
<rect x="271" y="547.7" width="19.4" height="7.5" rx="1.6" fill="#3c9a7a"/>
<rect x="292.8" y="547.7" width="17.8" height="7.5" rx="1.6" fill="#3c9a7a"/>
<rect x="313.3" y="547.7" width="16.1" height="7.5" rx="1.6" fill="#3c9a7a"/>
<rect x="332.4" y="547.7" width="19.2" height="7.5" rx="1.6" fill="#3c9a7a"/>
<rect x="354.2" y="547.7" width="16.2" height="7.5" rx="1.6" fill="#3c9a7a"/>
<rect x="372.7" y="547.7" width="16.1" height="7.5" rx="1.6" fill="#3c9a7a"/>
<rect x="391.2" y="547.7" width="16.8" height="7.5" rx="1.6" fill="#3c9a7a"/>
<rect x="410.3" y="547.7" width="13.7" height="7.5" rx="1.6" fill="#3c9a7a"/>
<rect x="426.4" y="547.7" width="14.5" height="7.5" rx="1.6" fill="#3c9a7a"/>
<rect x="442.6" y="547.7" width="12.4" height="7.5" rx="1.6" fill="#3c9a7a"/>
<rect x="456.7" y="547.7" width="7.7" height="7.5" rx="1.6" fill="#3c9a7a"/>
<rect x="467.8" y="547.7" width="10" height="7.5" rx="1.6" fill="#3c9a7a"/>
<rect x="481.2" y="547.7" width="10.1" height="7.5" rx="1.6" fill="#3c9a7a"/>
<rect x="493.6" y="547.7" width="8.4" height="7.5" rx="1.6" fill="#3c9a7a"/>
<rect x="504.4" y="547.7" width="7" height="7.5" rx="1.6" fill="#3c9a7a"/>
<rect x="513.8" y="547.7" width="8.4" height="7.5" rx="1.6" fill="#3c9a7a"/>
<rect x="524.8" y="547.7" width="6.8" height="7.5" rx="1.6" fill="#3c9a7a"/>
<rect x="533.9" y="547.7" width="10.1" height="7.5" rx="1.6" fill="#3c9a7a"/>
<rect x="546.3" y="547.7" width="6.7" height="7.5" rx="1.6" fill="#3c9a7a"/>
<rect x="555.7" y="547.7" width="7.3" height="7.5" rx="1.6" fill="#3c9a7a"/>
<rect x="565.1" y="547.7" width="4.9" height="7.5" rx="1.6" fill="#3c9a7a"/>
<rect x="572.4" y="547.7" width="5.8" height="7.5" rx="1.6" fill="#3c9a7a"/>
<rect x="581" y="547.7" width="6.7" height="7.5" rx="1.6" fill="#3c9a7a"/>
<rect x="590.1" y="547.7" width="4.9" height="7.5" rx="1.6" fill="#3c9a7a"/>
<rect x="597.4" y="547.7" width="6.4" height="7.5" rx="1.6" fill="#3c9a7a"/>
<rect x="606" y="547.7" width="6" height="7.5" rx="1.6" fill="#3c9a7a"/>
<rect x="614.7" y="547.7" width="6.4" height="7.5" rx="1.6" fill="#3c9a7a"/>
<rect x="623.5" y="547.7" width="5.8" height="7.5" rx="1.6" fill="#3c9a7a"/>
<rect x="632.1" y="547.7" width="2.4" height="7.5" rx="1.6" fill="#3c9a7a"/>
<rect x="637" y="547.7" width="28" height="7.5" rx="1.6" fill="#3c9a7a"/>
<rect x="667.3" y="547.7" width="2.2" height="7.5" rx="1.6" fill="#3c9a7a"/>
<rect x="671.7" y="547.7" width="1.8" height="7.5" rx="1.6" fill="#3c9a7a"/>
<rect x="675.3" y="547.7" width="1.9" height="7.5" rx="1.6" fill="#3c9a7a"/>
<rect x="679.5" y="547.7" width="2.8" height="7.5" rx="1.6" fill="#3c9a7a"/>
<path d="M96.1 614.6C96.1 630.6 119 656.5 119 672.5" fill="none" stroke="#f17f2c" stroke-width="3.6"/>
<path d="M111.9 614.6C111.9 630.6 89.1 656.5 89.1 672.5M206.1 614.6C206.1 630.6 190.1 656.5 190.1 672.5M237.4 614.6C237.4 630.6 239.3 656.5 239.3 672.5M239.5 614.6C239.5 630.6 251 656.5 251 672.5M303.5 614.6C303.5 644.6 281.1 642.5 281.1 672.5" fill="none" stroke="#479c45" stroke-width="3.6"/>
<path d="M122.6 614.6C122.6 630.6 129.2 656.5 129.2 672.5M237.5 614.6C237.5 630.6 250.7 656.5 250.7 672.5" fill="none" stroke="#f4f39b" stroke-width="3.6"/>
<path d="M157.8 614.6C157.8 630.6 162.1 656.5 162.1 672.5M273.9 614.6C273.9 630.6 269.9 656.5 269.9 672.5M279.9 614.6C279.9 630.6 285 656.5 285 672.5" fill="none" stroke="#2f75ad" stroke-width="3.6"/>
<path d="M183.1 614.6C183.1 630.6 147.7 656.5 147.7 672.5M197.6 614.6C197.6 630.6 182.8 656.5 182.8 672.5M241.2 614.6C241.2 630.6 242.6 656.5 242.6 672.5" fill="none" stroke="#d8302d" stroke-width="3.6"/>
<path d="M195.3 614.6C195.3 630.6 208.5 656.5 208.5 672.5M230 614.6C230 630.6 214.1 656.5 214.1 672.5M302.6 614.6C302.6 644.6 294.2 642.5 294.2 672.5" fill="none" stroke="#f7b36d" stroke-width="3.6"/>
<path d="M196.3 614.6C196.3 630.6 206 656.5 206 672.5" fill="none" stroke="#f3959a" stroke-width="3.6"/>
<path d="M226.8 614.6C226.8 630.6 227.4 656.5 227.4 672.5M301.3 614.6C301.3 644.6 301 642.5 301 672.5" fill="none" stroke="#bfaed5" stroke-width="3.6"/>
<path d="M227.6 614.6C227.6 630.6 214.1 656.5 214.1 672.5M291.2 614.6C291.2 630.6 281.1 656.5 281.1 672.5M303.3 614.6C303.3 644.6 281.4 642.5 281.4 672.5" fill="none" stroke="#a6d48e" stroke-width="3.6"/>
<path d="M227.8 614.6C227.8 630.6 227.3 656.5 227.3 672.5M240.4 614.6C240.4 630.6 214.6 656.5 214.6 672.5M257.6 614.6C257.6 630.6 290 656.5 290 672.5M269 614.6C269 630.6 264.1 656.5 264.1 672.5" fill="none" stroke="#a5582e" stroke-width="3.6"/>
<path d="M89.8 614.6C89.8 630.6 95 656.5 95 672.5M102.4 614.6C102.4 630.6 118.1 656.5 118.1 672.5M134.4 614.6C134.4 630.6 129.4 656.5 129.4 672.5M175.1 614.6C175.1 630.6 159.2 656.5 159.2 672.5" fill="none" stroke="#d8302d" stroke-width="3"/>
<path d="M126.6 614.6C126.6 630.6 148.5 656.5 148.5 672.5M229.3 614.6C229.3 630.6 215.2 656.5 215.2 672.5M244.6 614.6C244.6 630.6 237.3 656.5 237.3 672.5" fill="none" stroke="#98c3da" stroke-width="3"/>
<path d="M131.3 614.6C131.3 630.6 157.3 656.5 157.3 672.5" fill="none" stroke="#6a489c" stroke-width="3"/>
<path d="M164.9 614.6C164.9 630.6 169.3 656.5 169.3 672.5" fill="none" stroke="#f17f2c" stroke-width="3"/>
<path d="M199.5 614.6C199.5 630.6 194.9 656.5 194.9 672.5" fill="none" stroke="#f3959a" stroke-width="3"/>
<path d="M213.5 614.6C213.5 630.6 222.3 656.5 222.3 672.5" fill="none" stroke="#a6d48e" stroke-width="3"/>
<path d="M224.4 614.6C224.4 630.6 215.2 656.5 215.2 672.5" fill="none" stroke="#479c45" stroke-width="3"/>
<path d="M248.7 614.6C248.7 630.6 237.2 656.5 237.2 672.5" fill="none" stroke="#f7b36d" stroke-width="3"/>
<path d="M263.4 614.6C263.4 630.6 278.7 656.5 278.7 672.5" fill="none" stroke="#bfaed5" stroke-width="3"/>
<path d="M285.3 614.6C285.3 630.6 300.2 656.5 300.2 672.5" fill="none" stroke="#a5582e" stroke-width="3"/>
<path d="M301.3 614.6C301.3 644.6 281.4 642.5 281.4 672.5" fill="none" stroke="#f4f39b" stroke-width="3"/>
<path d="M92.3 614.6C92.3 630.6 144 656.5 144 672.5M157.3 614.6C157.3 630.6 171.1 656.5 171.1 672.5M300.3 614.6C300.3 644.6 291.2 642.5 291.2 672.5M469.2 614.6C469.2 644.6 436.5 642.5 436.5 672.5M496.6 614.6C496.6 644.6 456.8 642.5 456.8 672.5M541.7 614.6C541.7 644.6 496.5 642.5 496.5 672.5" fill="none" stroke="#98c3da" stroke-width="2.4"/>
<path d="M95.2 614.6C95.2 630.6 89.9 656.5 89.9 672.5M321.6 614.6C321.6 644.6 310.1 642.5 310.1 672.5M398.8 614.6C398.8 644.6 378.9 642.5 378.9 672.5M441 614.6C441 644.6 414 642.5 414 672.5M469.8 614.6C469.8 644.6 441.7 642.5 441.7 672.5M488.9 614.6C488.9 644.6 452.5 642.5 452.5 672.5M535.8 614.6C535.8 644.6 498.4 642.5 498.4 672.5M574.8 614.6C574.8 644.6 520.8 642.5 520.8 672.5M593 614.6C593 644.6 546.8 642.5 546.8 672.5M595.8 614.6C595.8 644.6 548.3 642.5 548.3 672.5M627.6 614.6C627.6 644.6 564.8 642.5 564.8 672.5" fill="none" stroke="#479c45" stroke-width="2.4"/>
<path d="M97 614.6C97 630.6 92.1 656.5 92.1 672.5M136.1 614.6C136.1 630.6 153.3 656.5 153.3 672.5M196.3 614.6C196.3 630.6 207.3 656.5 207.3 672.5M378 614.6C378 644.6 353.9 642.5 353.9 672.5M385.6 614.6C385.6 644.6 371.2 642.5 371.2 672.5M421.7 614.6C421.7 644.6 397.2 642.5 397.2 672.5M487.7 614.6C487.7 644.6 450.8 642.5 450.8 672.5" fill="none" stroke="#f3959a" stroke-width="2.4"/>
<path d="M102.5 614.6C102.5 630.6 96 656.5 96 672.5M242.5 614.6C242.5 630.6 253 656.5 253 672.5M314.4 614.6C314.4 644.6 310.2 642.5 310.2 672.5M406 614.6C406 644.6 390.9 642.5 390.9 672.5M406.2 614.6C406.2 644.6 384.8 642.5 384.8 672.5M454 614.6C454 644.6 427.9 642.5 427.9 672.5M510.6 614.6C510.6 644.6 475 642.5 475 672.5M544.6 614.6C544.6 644.6 501.8 642.5 501.8 672.5M551.5 614.6C551.5 644.6 501.9 642.5 501.9 672.5M553.1 614.6C553.1 644.6 502.7 642.5 502.7 672.5" fill="none" stroke="#6a489c" stroke-width="2.4"/>
<path d="M110.3 614.6C110.3 630.6 105 656.5 105 672.5M146.1 614.6C146.1 630.6 141.6 656.5 141.6 672.5M190.5 614.6C190.5 630.6 210.7 656.5 210.7 672.5M199.2 614.6C199.2 630.6 168.4 656.5 168.4 672.5M248.4 614.6C248.4 630.6 213.3 656.5 213.3 672.5M288.8 614.6C288.8 630.6 306.2 656.5 306.2 672.5M360 614.6C360 644.6 345.7 642.5 345.7 672.5M423.9 614.6C423.9 644.6 391.1 642.5 391.1 672.5M486.1 614.6C486.1 644.6 458.5 642.5 458.5 672.5M553.8 614.6C553.8 644.6 509.5 642.5 509.5 672.5M584.9 614.6C584.9 644.6 536 642.5 536 672.5M613.5 614.6C613.5 644.6 552.4 642.5 552.4 672.5" fill="none" stroke="#f7b36d" stroke-width="2.4"/>
<path d="M135.3 614.6C135.3 630.6 135.3 656.5 135.3 672.5M328.3 614.6C328.3 644.6 317.5 642.5 317.5 672.5M430 614.6C430 644.6 405.3 642.5 405.3 672.5M472.4 614.6C472.4 644.6 439.7 642.5 439.7 672.5M577.6 614.6C577.6 644.6 528.3 642.5 528.3 672.5M644.8 614.6C644.8 644.6 589.2 642.5 589.2 672.5" fill="none" stroke="#d8302d" stroke-width="2.4"/>
<path d="M137.6 614.6C137.6 630.6 151.7 656.5 151.7 672.5M239.5 614.6C239.5 630.6 251.8 656.5 251.8 672.5M352.7 614.6C352.7 644.6 339.8 642.5 339.8 672.5M432.1 614.6C432.1 644.6 403.1 642.5 403.1 672.5M461.5 614.6C461.5 644.6 439.7 642.5 439.7 672.5M628.3 614.6C628.3 644.6 562.9 642.5 562.9 672.5" fill="none" stroke="#f17f2c" stroke-width="2.4"/>
<path d="M143.2 614.6C143.2 630.6 127.3 656.5 127.3 672.5M167.9 614.6C167.9 630.6 178.1 656.5 178.1 672.5M312.4 614.6C312.4 644.6 310.6 642.5 310.6 672.5M446.6 614.6C446.6 644.6 422.1 642.5 422.1 672.5M452.7 614.6C452.7 644.6 418.1 642.5 418.1 672.5M586.8 614.6C586.8 644.6 528 642.5 528 672.5M644.9 614.6C644.9 644.6 588.3 642.5 588.3 672.5M647.6 614.6C647.6 644.6 585.5 642.5 585.5 672.5" fill="none" stroke="#2f75ad" stroke-width="2.4"/>
<path d="M145.2 614.6C145.2 630.6 128.7 656.5 128.7 672.5M431.1 614.6C431.1 644.6 407.6 642.5 407.6 672.5M446 614.6C446 644.6 418.7 642.5 418.7 672.5M619.7 614.6C619.7 644.6 556.2 642.5 556.2 672.5" fill="none" stroke="#bfaed5" stroke-width="2.4"/>
<path d="M246.3 614.6C246.3 630.6 251.8 656.5 251.8 672.5M496.8 614.6C496.8 644.6 454.5 642.5 454.5 672.5M611.1 614.6C611.1 644.6 556.1 642.5 556.1 672.5" fill="none" stroke="#a6d48e" stroke-width="2.4"/>
<path d="M250.4 614.6C250.4 630.6 236.7 656.5 236.7 672.5M318.1 614.6C318.1 644.6 318 642.5 318 672.5M489.5 614.6C489.5 644.6 461 642.5 461 672.5M511 614.6C511 644.6 471.8 642.5 471.8 672.5M572.9 614.6C572.9 644.6 519.9 642.5 519.9 672.5M593.3 614.6C593.3 644.6 546.9 642.5 546.9 672.5M593.7 614.6C593.7 644.6 541.8 642.5 541.8 672.5" fill="none" stroke="#a5582e" stroke-width="2.4"/>
<path d="M280.5 614.6C280.5 630.6 264.1 656.5 264.1 672.5M392.4 614.6C392.4 644.6 373.7 642.5 373.7 672.5M498.3 614.6C498.3 644.6 457.5 642.5 457.5 672.5M510.3 614.6C510.3 644.6 468.6 642.5 468.6 672.5M654.3 614.6C654.3 644.6 595.7 642.5 595.7 672.5" fill="none" stroke="#f4f39b" stroke-width="2.4"/>
<path d="M665.9 614.6C665.9 644.6 615.7 642.5 615.7 672.5" fill="none" stroke="#d8302d" stroke-width="2.2"/>
<path d="M675 614.6C675 644.6 663.3 642.5 663.3 672.5" fill="none" stroke="#2f75ad" stroke-width="2.2"/>
<path d="M663.9 614.6C663.9 644.6 674.6 642.5 674.6 672.5" fill="none" stroke="#bfaed5" stroke-width="2.2"/>
<path d="M675.3 614.6C675.3 644.6 603.1 642.5 603.1 672.5" fill="none" stroke="#f4f39b" stroke-width="2.2"/>
<path d="M115.6 614.6C115.6 630.6 112.8 656.5 112.8 672.5M153.5 614.6C153.5 630.6 156.7 656.5 156.7 672.5M171.5 614.6C171.5 630.6 168.2 656.5 168.2 672.5M346.9 614.6C346.9 644.6 333.5 642.5 333.5 672.5M349.3 614.6C349.3 644.6 336.4 642.5 336.4 672.5M439.9 614.6C439.9 644.6 410 642.5 410 672.5" fill="none" stroke="#6a489c" stroke-width="2"/>
<path d="M116.1 614.6C116.1 630.6 89 656.5 89 672.5M264.3 614.6C264.3 630.6 284.6 656.5 284.6 672.5M394.2 614.6C394.2 644.6 370.2 642.5 370.2 672.5M405.8 614.6C405.8 644.6 385.7 642.5 385.7 672.5M511.9 614.6C511.9 644.6 469.8 642.5 469.8 672.5M573.3 614.6C573.3 644.6 517.1 642.5 517.1 672.5M585.6 614.6C585.6 644.6 533.4 642.5 533.4 672.5M603.5 614.6C603.5 644.6 545 642.5 545 672.5" fill="none" stroke="#f17f2c" stroke-width="2"/>
<path d="M136.6 614.6C136.6 630.6 129.4 656.5 129.4 672.5M412.4 614.6C412.4 644.6 390.6 642.5 390.6 672.5M431.2 614.6C431.2 644.6 402 642.5 402 672.5M460.8 614.6C460.8 644.6 432.8 642.5 432.8 672.5M535.9 614.6C535.9 644.6 504.9 642.5 504.9 672.5M561.8 614.6C561.8 644.6 510.4 642.5 510.4 672.5M611.4 614.6C611.4 644.6 555.7 642.5 555.7 672.5M647.4 614.6C647.4 644.6 592.5 642.5 592.5 672.5M655.9 614.6C655.9 644.6 590.3 642.5 590.3 672.5" fill="none" stroke="#f7b36d" stroke-width="2"/>
<path d="M147.1 614.6C147.1 630.6 143.4 656.5 143.4 672.5M377.7 614.6C377.7 644.6 357.6 642.5 357.6 672.5M431 614.6C431 644.6 406.4 642.5 406.4 672.5M529.7 614.6C529.7 644.6 477.9 642.5 477.9 672.5M534.2 614.6C534.2 644.6 495.7 642.5 495.7 672.5M556.2 614.6C556.2 644.6 510 642.5 510 672.5" fill="none" stroke="#f3959a" stroke-width="2"/>
<path d="M157.1 614.6C157.1 630.6 159.2 656.5 159.2 672.5M289.7 614.6C289.7 630.6 302.8 656.5 302.8 672.5M567.7 614.6C567.7 644.6 522.5 642.5 522.5 672.5" fill="none" stroke="#d8302d" stroke-width="2"/>
<path d="M160.7 614.6C160.7 630.6 177.5 656.5 177.5 672.5M510.5 614.6C510.5 644.6 471.3 642.5 471.3 672.5M584 614.6C584 644.6 530.1 642.5 530.1 672.5M595.2 614.6C595.2 644.6 543.2 642.5 543.2 672.5" fill="none" stroke="#a5582e" stroke-width="2"/>
<path d="M165.2 614.6C165.2 630.6 178.5 656.5 178.5 672.5M197.6 614.6C197.6 630.6 182.8 656.5 182.8 672.5M269.2 614.6C269.2 630.6 267.2 656.5 267.2 672.5M315 614.6C315 644.6 292.2 642.5 292.2 672.5M335.9 614.6C335.9 644.6 329 642.5 329 672.5M347 614.6C347 644.6 330.6 642.5 330.6 672.5M416 614.6C416 644.6 402.5 642.5 402.5 672.5" fill="none" stroke="#a6d48e" stroke-width="2"/>
<path d="M268.3 614.6C268.3 630.6 272.7 656.5 272.7 672.5M309.9 614.6C309.9 644.6 302.1 642.5 302.1 672.5M438.8 614.6C438.8 644.6 413.9 642.5 413.9 672.5M640.3 614.6C640.3 644.6 579 642.5 579 672.5M647.6 614.6C647.6 644.6 582.8 642.5 582.8 672.5" fill="none" stroke="#479c45" stroke-width="2"/>
<path d="M292 614.6C292 630.6 334.1 656.5 334.1 672.5M408.6 614.6C408.6 644.6 381.1 642.5 381.1 672.5M520.9 614.6C520.9 644.6 480.8 642.5 480.8 672.5" fill="none" stroke="#bfaed5" stroke-width="2"/>
<path d="M328.9 614.6C328.9 644.6 320.7 642.5 320.7 672.5M336.3 614.6C336.3 644.6 324.1 642.5 324.1 672.5M370.7 614.6C370.7 644.6 354.5 642.5 354.5 672.5M529.9 614.6C529.9 644.6 487.3 642.5 487.3 672.5M551.7 614.6C551.7 644.6 505.4 642.5 505.4 672.5" fill="none" stroke="#98c3da" stroke-width="2"/>
<path d="M371.6 614.6C371.6 644.6 357 642.5 357 672.5M385.2 614.6C385.2 644.6 368.4 642.5 368.4 672.5M390.4 614.6C390.4 644.6 369.1 642.5 369.1 672.5M453.3 614.6C453.3 644.6 419.7 642.5 419.7 672.5M554.2 614.6C554.2 644.6 510.7 642.5 510.7 672.5M603.7 614.6C603.7 644.6 546.2 642.5 546.2 672.5M628.2 614.6C628.2 644.6 571.4 642.5 571.4 672.5" fill="none" stroke="#f4f39b" stroke-width="2"/>
<path d="M427.7 614.6C427.7 644.6 404.4 642.5 404.4 672.5M542 614.6C542 644.6 493.9 642.5 493.9 672.5M594.2 614.6C594.2 644.6 541 642.5 541 672.5" fill="none" stroke="#2f75ad" stroke-width="2"/>
<path d="M104.7 614.6C104.7 630.6 118.1 656.5 118.1 672.5M214.7 614.6C214.7 630.6 234.2 656.5 234.2 672.5M385 614.6C385 644.6 367.3 642.5 367.3 672.5M393 614.6C393 644.6 365.5 642.5 365.5 672.5M429.4 614.6C429.4 644.6 404.1 642.5 404.1 672.5M521 614.6C521 644.6 484.8 642.5 484.8 672.5M585.5 614.6C585.5 644.6 538.3 642.5 538.3 672.5M655.4 614.6C655.4 644.6 595.3 642.5 595.3 672.5M670.5 614.6C670.5 644.6 638.2 642.5 638.2 672.5" fill="none" stroke="#a5582e" stroke-width="1.8"/>
<path d="M105.5 614.6C105.5 630.6 122.6 656.5 122.6 672.5M110.4 614.6C110.4 630.6 120.9 656.5 120.9 672.5M116.2 614.6C116.2 630.6 89 656.5 89 672.5M232.2 614.6C232.2 630.6 228.5 656.5 228.5 672.5M332.9 614.6C332.9 644.6 324 642.5 324 672.5M370.3 614.6C370.3 644.6 359.5 642.5 359.5 672.5M463.2 614.6C463.2 644.6 433.5 642.5 433.5 672.5M593.6 614.6C593.6 644.6 541.8 642.5 541.8 672.5M637.2 614.6C637.2 644.6 579.4 642.5 579.4 672.5M639.6 614.6C639.6 644.6 580.8 642.5 580.8 672.5" fill="none" stroke="#f3959a" stroke-width="1.8"/>
<path d="M135 614.6C135 630.6 148.5 656.5 148.5 672.5M264.4 614.6C264.4 630.6 276.6 656.5 276.6 672.5M473.8 614.6C473.8 644.6 442.5 642.5 442.5 672.5M501.5 614.6C501.5 644.6 461.6 642.5 461.6 672.5M610.3 614.6C610.3 644.6 554.7 642.5 554.7 672.5" fill="none" stroke="#f7b36d" stroke-width="1.8"/>
<path d="M135.7 614.6C135.7 630.6 134.3 656.5 134.3 672.5M346.6 614.6C346.6 644.6 336.6 642.5 336.6 672.5M367 614.6C367 644.6 355.7 642.5 355.7 672.5M471.5 614.6C471.5 644.6 443.2 642.5 443.2 672.5M500 614.6C500 644.6 467.4 642.5 467.4 672.5M532.7 614.6C532.7 644.6 491.8 642.5 491.8 672.5" fill="none" stroke="#2f75ad" stroke-width="1.8"/>
<path d="M136.9 614.6C136.9 630.6 129.2 656.5 129.2 672.5M153.4 614.6C153.4 630.6 189.7 656.5 189.7 672.5M197.8 614.6C197.8 630.6 195.2 656.5 195.2 672.5M357.1 614.6C357.1 644.6 344.4 642.5 344.4 672.5M379 614.6C379 644.6 366.4 642.5 366.4 672.5M480.7 614.6C480.7 644.6 448.5 642.5 448.5 672.5M497.2 614.6C497.2 644.6 455.4 642.5 455.4 672.5M619.4 614.6C619.4 644.6 561.7 642.5 561.7 672.5M680.6 614.6C680.6 644.6 595.8 642.5 595.8 672.5" fill="none" stroke="#f17f2c" stroke-width="1.8"/>
<path d="M154.1 614.6C154.1 630.6 173.4 656.5 173.4 672.5M176.1 614.6C176.1 630.6 157.5 656.5 157.5 672.5M230 614.6C230 630.6 231.4 656.5 231.4 672.5M264.9 614.6C264.9 630.6 277 656.5 277 672.5M279.9 614.6C279.9 630.6 267.1 656.5 267.1 672.5M331.4 614.6C331.4 644.6 320.8 642.5 320.8 672.5M572.1 614.6C572.1 644.6 519.5 642.5 519.5 672.5M602.4 614.6C602.4 644.6 544.5 642.5 544.5 672.5M631.2 614.6C631.2 644.6 570.6 642.5 570.6 672.5M675.6 614.6C675.6 644.6 583.6 642.5 583.6 672.5" fill="none" stroke="#a6d48e" stroke-width="1.8"/>
<path d="M167.9 614.6C167.9 630.6 167.4 656.5 167.4 672.5M189 614.6C189 630.6 232.8 656.5 232.8 672.5M222.3 614.6C222.3 630.6 227.4 656.5 227.4 672.5M322.8 614.6C322.8 644.6 307.6 642.5 307.6 672.5M376.1 614.6C376.1 644.6 364.9 642.5 364.9 672.5M522.5 614.6C522.5 644.6 473.7 642.5 473.7 672.5M533.4 614.6C533.4 644.6 490.5 642.5 490.5 672.5M563.7 614.6C563.7 644.6 518 642.5 518 672.5M577 614.6C577 644.6 532.8 642.5 532.8 672.5M612.7 614.6C612.7 644.6 563.2 642.5 563.2 672.5M637.1 614.6C637.1 644.6 573.9 642.5 573.9 672.5M648.6 614.6C648.6 644.6 584.6 642.5 584.6 672.5" fill="none" stroke="#98c3da" stroke-width="1.8"/>
<path d="M173.6 614.6C173.6 630.6 177.5 656.5 177.5 672.5M453 614.6C453 644.6 434.4 642.5 434.4 672.5M457.4 614.6C457.4 644.6 430.7 642.5 430.7 672.5M573.6 614.6C573.6 644.6 523.9 642.5 523.9 672.5M676.1 614.6C676.1 644.6 624.1 642.5 624.1 672.5" fill="none" stroke="#f4f39b" stroke-width="1.8"/>
<path d="M179.7 614.6C179.7 630.6 148.2 656.5 148.2 672.5M182.6 614.6C182.6 630.6 184.2 656.5 184.2 672.5M335.9 614.6C335.9 644.6 322.4 642.5 322.4 672.5M453.8 614.6C453.8 644.6 424 642.5 424 672.5M649.2 614.6C649.2 644.6 590.3 642.5 590.3 672.5M677.3 614.6C677.3 644.6 612.6 642.5 612.6 672.5" fill="none" stroke="#bfaed5" stroke-width="1.8"/>
<path d="M237.2 614.6C237.2 630.6 246.1 656.5 246.1 672.5M271.6 614.6C271.6 630.6 276.6 656.5 276.6 672.5M412.1 614.6C412.1 644.6 390.1 642.5 390.1 672.5M443.5 614.6C443.5 644.6 410.3 642.5 410.3 672.5M530.1 614.6C530.1 644.6 484.5 642.5 484.5 672.5M532.4 614.6C532.4 644.6 496.1 642.5 496.1 672.5M566.3 614.6C566.3 644.6 520.1 642.5 520.1 672.5M567.6 614.6C567.6 644.6 515.1 642.5 515.1 672.5M611.6 614.6C611.6 644.6 555.3 642.5 555.3 672.5M663.7 614.6C663.7 644.6 670.4 642.5 670.4 672.5" fill="none" stroke="#479c45" stroke-width="1.8"/>
<path d="M253 614.6C253 630.6 202.7 656.5 202.7 672.5M267 614.6C267 630.6 282.4 656.5 282.4 672.5M299.4 614.6C299.4 630.6 306.9 656.5 306.9 672.5M309.1 614.6C309.1 644.6 318.2 642.5 318.2 672.5M335.8 614.6C335.8 644.6 326.5 642.5 326.5 672.5M359.2 614.6C359.2 644.6 346 642.5 346 672.5M456.2 614.6C456.2 644.6 419.8 642.5 419.8 672.5M556.5 614.6C556.5 644.6 514.1 642.5 514.1 672.5M603 614.6C603 644.6 533.2 642.5 533.2 672.5" fill="none" stroke="#6a489c" stroke-width="1.8"/>
<path d="M313.8 614.6C313.8 644.6 307.3 642.5 307.3 672.5M346.2 614.6C346.2 644.6 332.8 642.5 332.8 672.5M355.9 614.6C355.9 644.6 343.6 642.5 343.6 672.5M469.5 614.6C469.5 644.6 442.5 642.5 442.5 672.5M469.8 614.6C469.8 644.6 427.5 642.5 427.5 672.5M509 614.6C509 644.6 459.9 642.5 459.9 672.5M670.1 614.6C670.1 644.6 665.3 642.5 665.3 672.5" fill="none" stroke="#d8302d" stroke-width="1.8"/>
<path d="M89.4 614.6C89.4 630.6 108.1 656.5 108.1 672.5M126.6 614.6C126.6 630.6 147.9 656.5 147.9 672.5M198.7 614.6C198.7 630.6 196.5 656.5 196.5 672.5M301.7 614.6C301.7 644.6 286.2 642.5 286.2 672.5M408.2 614.6C408.2 644.6 379.1 642.5 379.1 672.5M469.8 614.6C469.8 644.6 433.1 642.5 433.1 672.5M501.2 614.6C501.2 644.6 461.8 642.5 461.8 672.5M552.8 614.6C552.8 644.6 504.2 642.5 504.2 672.5M628.6 614.6C628.6 644.6 570.2 642.5 570.2 672.5M672.7 614.6C672.7 644.6 635 642.5 635 672.5M672.2 614.6C672.2 644.6 628.7 642.5 628.7 672.5M676.5 614.6C676.5 644.6 615.1 642.5 615.1 672.5" fill="none" stroke="#98c3da" stroke-width="1.5"/>
<path d="M106.9 614.6C106.9 630.6 89 656.5 89 672.5M107.7 614.6C107.7 630.6 105 656.5 105 672.5M273.1 614.6C273.1 630.6 272.7 656.5 272.7 672.5M416.2 614.6C416.2 644.6 393.3 642.5 393.3 672.5M499.5 614.6C499.5 644.6 461 642.5 461 672.5M565.8 614.6C565.8 644.6 523.1 642.5 523.1 672.5M674.1 614.6C674.1 644.6 594.7 642.5 594.7 672.5M677.3 614.6C677.3 644.6 681 642.5 681 672.5M664 614.6C664 644.6 633.4 642.5 633.4 672.5" fill="none" stroke="#a5582e" stroke-width="1.5"/>
<path d="M114.9 614.6C114.9 630.6 95.4 656.5 95.4 672.5M346.1 614.6C346.1 644.6 325.1 642.5 325.1 672.5M544.7 614.6C544.7 644.6 499.9 642.5 499.9 672.5M602 614.6C602 644.6 551.6 642.5 551.6 672.5" fill="none" stroke="#f4f39b" stroke-width="1.5"/>
<path d="M115.4 614.6C115.4 630.6 89.9 656.5 89.9 672.5M622.9 614.6C622.9 644.6 569.3 642.5 569.3 672.5M628.8 614.6C628.8 644.6 565.3 642.5 565.3 672.5M670.3 614.6C670.3 644.6 600.8 642.5 600.8 672.5" fill="none" stroke="#f7b36d" stroke-width="1.5"/>
<path d="M123.4 614.6C123.4 630.6 126.4 656.5 126.4 672.5M191 614.6C191 630.6 190.1 656.5 190.1 672.5M312.1 614.6C312.1 644.6 310 642.5 310 672.5M396.6 614.6C396.6 644.6 373.3 642.5 373.3 672.5M463.2 614.6C463.2 644.6 422.2 642.5 422.2 672.5M545.2 614.6C545.2 644.6 498.3 642.5 498.3 672.5M681.3 614.6C681.3 644.6 579.2 642.5 579.2 672.5" fill="none" stroke="#a6d48e" stroke-width="1.5"/>
<path d="M124.8 614.6C124.8 630.6 127.3 656.5 127.3 672.5M415.2 614.6C415.2 644.6 398.1 642.5 398.1 672.5M475.5 614.6C475.5 644.6 444.4 642.5 444.4 672.5M487.8 614.6C487.8 644.6 442.4 642.5 442.4 672.5M561.6 614.6C561.6 644.6 515.1 642.5 515.1 672.5" fill="none" stroke="#479c45" stroke-width="1.5"/>
<path d="M130 614.6C130 630.6 145.5 656.5 145.5 672.5M293.8 614.6C293.8 630.6 286.2 656.5 286.2 672.5M522.1 614.6C522.1 644.6 480.8 642.5 480.8 672.5M636.1 614.6C636.1 644.6 574.4 642.5 574.4 672.5M640.3 614.6C640.3 644.6 575.1 642.5 575.1 672.5" fill="none" stroke="#f17f2c" stroke-width="1.5"/>
<path d="M216.3 614.6C216.3 630.6 228.9 656.5 228.9 672.5M218.4 614.6C218.4 630.6 228.9 656.5 228.9 672.5M339.5 614.6C339.5 644.6 329.2 642.5 329.2 672.5M355.8 614.6C355.8 644.6 343.9 642.5 343.9 672.5M575 614.6C575 644.6 521.2 642.5 521.2 672.5M665.1 614.6C665.1 644.6 637.4 642.5 637.4 672.5" fill="none" stroke="#bfaed5" stroke-width="1.5"/>
<path d="M254.9 614.6C254.9 630.6 245.7 656.5 245.7 672.5M314.4 614.6C314.4 644.6 300.8 642.5 300.8 672.5M386.1 614.6C386.1 644.6 370 642.5 370 672.5M499.6 614.6C499.6 644.6 464.5 642.5 464.5 672.5M585.6 614.6C585.6 644.6 537.4 642.5 537.4 672.5M669.6 614.6C669.6 644.6 674.9 642.5 674.9 672.5" fill="none" stroke="#f3959a" stroke-width="1.5"/>
<path d="M330.5 614.6C330.5 644.6 319.3 642.5 319.3 672.5M379.6 614.6C379.6 644.6 357.2 642.5 357.2 672.5M447.5 614.6C447.5 644.6 422.7 642.5 422.7 672.5M563.2 614.6C563.2 644.6 517.6 642.5 517.6 672.5M596.5 614.6C596.5 644.6 546.2 642.5 546.2 672.5" fill="none" stroke="#6a489c" stroke-width="1.5"/>
<path d="M371.6 614.6C371.6 644.6 360.5 642.5 360.5 672.5M423.5 614.6C423.5 644.6 409.7 642.5 409.7 672.5M484.4 614.6C484.4 644.6 450.1 642.5 450.1 672.5M512.2 614.6C512.2 644.6 477 642.5 477 672.5M540 614.6C540 644.6 504.1 642.5 504.1 672.5M556.1 614.6C556.1 644.6 502.6 642.5 502.6 672.5M644.7 614.6C644.7 644.6 569.6 642.5 569.6 672.5" fill="none" stroke="#d8302d" stroke-width="1.5"/>
<path d="M404.3 614.6C404.3 644.6 378.2 642.5 378.2 672.5M471.3 614.6C471.3 644.6 424.3 642.5 424.3 672.5M488.9 614.6C488.9 644.6 452.7 642.5 452.7 672.5M612.5 614.6C612.5 644.6 552.4 642.5 552.4 672.5M627.8 614.6C627.8 644.6 568.7 642.5 568.7 672.5M674.3 614.6C674.3 644.6 602.5 642.5 602.5 672.5" fill="none" stroke="#2f75ad" stroke-width="1.5"/>
<path d="M111.1 614.6C111.1 630.6 121.7 656.5 121.7 672.5M208.1 614.6C208.1 630.6 208.9 656.5 208.9 672.5M335.6 614.6C335.6 644.6 322.1 642.5 322.1 672.5M367 614.6C367 644.6 342.9 642.5 342.9 672.5M370.1 614.6C370.1 644.6 354.7 642.5 354.7 672.5M445.2 614.6C445.2 644.6 414 642.5 414 672.5M621.3 614.6C621.3 644.6 576.6 642.5 576.6 672.5" fill="none" stroke="#f4f39b" stroke-width="1.2"/>
<path d="M144 614.6C144 630.6 145.5 656.5 145.5 672.5M222.1 614.6C222.1 630.6 209.8 656.5 209.8 672.5M337.2 614.6C337.2 644.6 322.8 642.5 322.8 672.5M360.9 614.6C360.9 644.6 350.2 642.5 350.2 672.5M441.1 614.6C441.1 644.6 418.9 642.5 418.9 672.5M519.1 614.6C519.1 644.6 472.4 642.5 472.4 672.5M540 614.6C540 644.6 500.4 642.5 500.4 672.5M566 614.6C566 644.6 513.2 642.5 513.2 672.5M655.8 614.6C655.8 644.6 587.2 642.5 587.2 672.5M660.7 614.6C660.7 644.6 592 642.5 592 672.5" fill="none" stroke="#f7b36d" stroke-width="1.2"/>
<path d="M160.5 614.6C160.5 630.6 178.1 656.5 178.1 672.5M323.1 614.6C323.1 644.6 313 642.5 313 672.5M346.1 614.6C346.1 644.6 328.2 642.5 328.2 672.5M385.2 614.6C385.2 644.6 372.3 642.5 372.3 672.5M519.5 614.6C519.5 644.6 476.1 642.5 476.1 672.5" fill="none" stroke="#d8302d" stroke-width="1.2"/>
<path d="M162.3 614.6C162.3 630.6 159.3 656.5 159.3 672.5M315.1 614.6C315.1 644.6 309.6 642.5 309.6 672.5M356.5 614.6C356.5 644.6 346.4 642.5 346.4 672.5M366.6 614.6C366.6 644.6 354 642.5 354 672.5M394.7 614.6C394.7 644.6 373.1 642.5 373.1 672.5M508.2 614.6C508.2 644.6 470.3 642.5 470.3 672.5M543 614.6C543 644.6 499.2 642.5 499.2 672.5M604.4 614.6C604.4 644.6 554.3 642.5 554.3 672.5M654.2 614.6C654.2 644.6 590.1 642.5 590.1 672.5" fill="none" stroke="#479c45" stroke-width="1.2"/>
<path d="M162.5 614.6C162.5 630.6 171.1 656.5 171.1 672.5M200.1 614.6C200.1 630.6 192.4 656.5 192.4 672.5M483.6 614.6C483.6 644.6 451.7 642.5 451.7 672.5M577.9 614.6C577.9 644.6 533.5 642.5 533.5 672.5M603.8 614.6C603.8 644.6 550.2 642.5 550.2 672.5" fill="none" stroke="#a5582e" stroke-width="1.2"/>
<path d="M182.1 614.6C182.1 630.6 157.5 656.5 157.5 672.5M288.4 614.6C288.4 630.6 290.2 656.5 290.2 672.5M408.8 614.6C408.8 644.6 387.2 642.5 387.2 672.5M426 614.6C426 644.6 399.5 642.5 399.5 672.5M431.3 614.6C431.3 644.6 395.2 642.5 395.2 672.5M621.5 614.6C621.5 644.6 564 642.5 564 672.5" fill="none" stroke="#bfaed5" stroke-width="1.2"/>
<path d="M188.7 614.6C188.7 630.6 194.9 656.5 194.9 672.5M310.6 614.6C310.6 644.6 307.9 642.5 307.9 672.5M394.2 614.6C394.2 644.6 377.4 642.5 377.4 672.5M404.2 614.6C404.2 644.6 380.3 642.5 380.3 672.5M411.2 614.6C411.2 644.6 390.5 642.5 390.5 672.5M442.1 614.6C442.1 644.6 409.3 642.5 409.3 672.5M454.2 614.6C454.2 644.6 428.6 642.5 428.6 672.5M665.8 614.6C665.8 644.6 679.5 642.5 679.5 672.5M681.5 614.6C681.5 644.6 642.4 642.5 642.4 672.5" fill="none" stroke="#a6d48e" stroke-width="1.2"/>
<path d="M217.7 614.6C217.7 630.6 236.4 656.5 236.4 672.5M258 614.6C258 630.6 256 656.5 256 672.5M311.3 614.6C311.3 644.6 307 642.5 307 672.5M333 614.6C333 644.6 325.6 642.5 325.6 672.5M386.1 614.6C386.1 644.6 360.4 642.5 360.4 672.5M403.8 614.6C403.8 644.6 376.9 642.5 376.9 672.5M510.6 614.6C510.6 644.6 464.4 642.5 464.4 672.5" fill="none" stroke="#f3959a" stroke-width="1.2"/>
<path d="M225.3 614.6C225.3 630.6 227.2 656.5 227.2 672.5M277.5 614.6C277.5 630.6 269.9 656.5 269.9 672.5M357.7 614.6C357.7 644.6 349 642.5 349 672.5M546.3 614.6C546.3 644.6 497.6 642.5 497.6 672.5M661.9 614.6C661.9 644.6 660.3 642.5 660.3 672.5" fill="none" stroke="#2f75ad" stroke-width="1.2"/>
<path d="M336.7 614.6C336.7 644.6 325.5 642.5 325.5 672.5M386.7 614.6C386.7 644.6 370.9 642.5 370.9 672.5M438.4 614.6C438.4 644.6 415.6 642.5 415.6 672.5M518.9 614.6C518.9 644.6 476 642.5 476 672.5" fill="none" stroke="#98c3da" stroke-width="1.2"/>
<path d="M367.4 614.6C367.4 644.6 349.8 642.5 349.8 672.5M445.4 614.6C445.4 644.6 424.3 642.5 424.3 672.5M485.4 614.6C485.4 644.6 443.7 642.5 443.7 672.5M487.7 614.6C487.7 644.6 455.3 642.5 455.3 672.5M528.2 614.6C528.2 644.6 484.7 642.5 484.7 672.5M585.9 614.6C585.9 644.6 535.6 642.5 535.6 672.5" fill="none" stroke="#6a489c" stroke-width="1.2"/>
<path d="M430 614.6C430 644.6 398.8 642.5 398.8 672.5M444.4 614.6C444.4 644.6 424.6 642.5 424.6 672.5M499.6 614.6C499.6 644.6 464.6 642.5 464.6 672.5M518.3 614.6C518.3 644.6 475.7 642.5 475.7 672.5M619.7 614.6C619.7 644.6 561.8 642.5 561.8 672.5M621.4 614.6C621.4 644.6 567 642.5 567 672.5M637.3 614.6C637.3 644.6 581.7 642.5 581.7 672.5" fill="none" stroke="#f17f2c" stroke-width="1.2"/>
<path d="M297 614.6C297 630.6 281 656.5 281 672.5" fill="none" stroke="#d8302d" stroke-width="6"/>
<path d="M163 614.6C163 630.6 168 656.5 168 672.5" fill="none" stroke="#f4f39b" stroke-width="5"/>
<path d="M110 614.6C110 630.6 97 656.5 97 672.5" fill="none" stroke="#98c3da" stroke-width="3.5"/>
<rect x="88.2" y="607.3" width="30.4" height="7.3" rx="2.6" fill="#cf6328"/>
<rect x="120.9" y="607.3" width="28.7" height="7.3" rx="2.6" fill="#cf6328"/>
<rect x="152" y="607.3" width="33.1" height="7.3" rx="2.6" fill="#cf6328"/>
<rect x="187.5" y="607.3" width="22.2" height="7.3" rx="2.6" fill="#cf6328"/>
<rect x="212" y="607.3" width="22.2" height="7.3" rx="2.6" fill="#cf6328"/>
<rect x="236" y="607.3" width="23.5" height="7.3" rx="2.6" fill="#cf6328"/>
<rect x="261.9" y="607.3" width="20.1" height="7.3" rx="2.6" fill="#cf6328"/>
<rect x="284.4" y="607.3" width="20.1" height="7.3" rx="2.6" fill="#cf6328"/>
<rect x="307.2" y="607.3" width="16.8" height="7.3" rx="2.6" fill="#cf6328"/>
<rect x="326.7" y="607.3" width="15.8" height="7.3" rx="2.6" fill="#cf6328"/>
<rect x="344.2" y="607.3" width="18.4" height="7.3" rx="2.6" fill="#cf6328"/>
<rect x="365.3" y="607.3" width="15.1" height="7.3" rx="2.6" fill="#cf6328"/>
<rect x="382.8" y="607.3" width="16.8" height="7.3" rx="2.6" fill="#cf6328"/>
<rect x="402" y="607.3" width="16" height="7.3" rx="2.6" fill="#cf6328"/>
<rect x="419.7" y="607.3" width="14.5" height="7.3" rx="2.6" fill="#cf6328"/>
<rect x="436.5" y="607.3" width="13.5" height="7.3" rx="2.6" fill="#cf6328"/>
<rect x="451.8" y="607.3" width="12.9" height="7.3" rx="2.6" fill="#cf6328"/>
<rect x="467.5" y="607.3" width="9.5" height="7.3" rx="2.6" fill="#cf6328"/>
<rect x="479.8" y="607.3" width="11.4" height="7.3" rx="2.6" fill="#cf6328"/>
<rect x="494" y="607.3" width="9.6" height="7.3" rx="2.6" fill="#cf6328"/>
<rect x="506.4" y="607.3" width="8.6" height="7.3" rx="2.6" fill="#cf6328"/>
<rect x="517.4" y="607.3" width="7.6" height="7.3" rx="2.6" fill="#cf6328"/>
<rect x="527.3" y="607.3" width="9.5" height="7.3" rx="2.6" fill="#cf6328"/>
<rect x="539.2" y="607.3" width="8" height="7.3" rx="2.6" fill="#cf6328"/>
<rect x="549.1" y="607.3" width="8.5" height="7.3" rx="2.6" fill="#cf6328"/>
<rect x="560.5" y="607.3" width="8.5" height="7.3" rx="2.6" fill="#cf6328"/>
<rect x="571" y="607.3" width="8.2" height="7.3" rx="2.6" fill="#cf6328"/>
<rect x="581.9" y="607.3" width="5.8" height="7.3" rx="2.6" fill="#cf6328"/>
<rect x="590.1" y="607.3" width="7.3" height="7.3" rx="2.6" fill="#cf6328"/>
<rect x="600.1" y="607.3" width="6.4" height="7.3" rx="2.6" fill="#cf6328"/>
<rect x="608.9" y="607.3" width="5.8" height="7.3" rx="2.6" fill="#cf6328"/>
<rect x="618" y="607.3" width="5.9" height="7.3" rx="2.6" fill="#cf6328"/>
<rect x="626.6" y="607.3" width="5.5" height="7.3" rx="2.6" fill="#cf6328"/>
<rect x="634.8" y="607.3" width="6.4" height="7.3" rx="2.6" fill="#cf6328"/>
<rect x="643" y="607.3" width="7.3" height="7.3" rx="2.6" fill="#cf6328"/>
<rect x="653" y="607.3" width="3.7" height="7.3" rx="2.6" fill="#cf6328"/>
<rect x="659.5" y="607.3" width="23.7" height="7.3" rx="2.6" fill="#cf6328"/>
<rect x="88.2" y="672.5" width="595.3" height="7.8" fill="#736db1"/>
<path d="M90.8 680.2v2.4M99.7 680.2v1.4M103.8 680.2v2.5M107.7 680.2v1.9M110.3 680.2v2M114.8 680.2v1.7M117.4 680.2v2.4M122.2 680.2v1.1M127 680.2v2.3M136.2 680.2v1.2M144.9 680.2v1.2M152.8 680.2v1.9M157.6 680.2v2M173.7 680.2v1.8M178.6 680.2v1.6M187.8 680.2v1.9M190.1 680.2v1.7M193.7 680.2v1.6M198.4 680.2v2.4M203.9 680.2v1.9M215.3 680.2v2.4M217.9 680.2v2.4M232.3 680.2v2.5M237.2 680.2v2.2M241.7 680.2v1.8M246.4 680.2v1.3M251 680.2v1.5M255.4 680.2v1.4M258.4 680.2v1M260.6 680.2v2.4M267.8 680.2v1.7M270.8 680.2v2M274.9 680.2v1.4M278.8 680.2v2.5M286.5 680.2v2.1M289.1 680.2v2.5M295.2 680.2v2M300.1 680.2v1.9M304.4 680.2v1.5M311.6 680.2v1.1M318.5 680.2v2.1M321.6 680.2v1M329.4 680.2v2.3M333.6 680.2v2M341.2 680.2v1.3M345.8 680.2v1.7M349.7 680.2v1.4M364.1 680.2v1.8M376.6 680.2v1.5M385.2 680.2v1.4M389.1 680.2v1.2M392.9 680.2v2.3M396.2 680.2v2.2M416.8 680.2v2.5M426.6 680.2v1.9M429.1 680.2v2.1M437.4 680.2v1.6M441.8 680.2v1.3M446.1 680.2v1.9M450.2 680.2v1.3M452.9 680.2v2.5M462.1 680.2v1.1M464.4 680.2v1.8M470.5 680.2v2M484.4 680.2v2.6M489.1 680.2v1.2M491.4 680.2v1.4M495.8 680.2v1.1M498.4 680.2v2.4M501.5 680.2v2.3M503 680.2v1.6M505.9 680.2v1.3M508 680.2v1.9M514.2 680.2v1.2M519.7 680.2v2.2M524.1 680.2v2.5M528.6 680.2v2.5M531.4 680.2v2.1M533.2 680.2v2.3M535.4 680.2v2.4M538.1 680.2v2.4M540.8 680.2v1.1M542.6 680.2v1.6M544.2 680.2v2.5M547.2 680.2v2.5M554.3 680.2v1.8M561.6 680.2v2.5M566.9 680.2v1.4M571.6 680.2v1M574.3 680.2v1.2M576.1 680.2v1.2M581.8 680.2v2.6M586 680.2v1.8M587.8 680.2v2.3M590.8 680.2v2.3M596.9 680.2v2.1M599.3 680.2v1M600.9 680.2v2.6M602.7 680.2v1.5M610.4 680.2v2.1M615.3 680.2v2.4M617.7 680.2v1.5M620.7 680.2v1.7M623.5 680.2v2M631.5 680.2v2M634.4 680.2v1.5M637.1 680.2v2M641.3 680.2v2.2M642.9 680.2v2.6M645.4 680.2v1.1M648 680.2v2.1M650.7 680.2v2.2M656.3 680.2v1.9M658.3 680.2v2.4M662.6 680.2v2.2M665.7 680.2v1.6M671.6 680.2v2.1M680.9 680.2v2.3" stroke="#736db1" stroke-width="0.9" fill="none"/>
<path d="M90 672.3v9M96.7 672.3v4M109.5 672.3v9M114 672.3v4M116.6 672.3v4M121.4 672.3v9M128.7 672.3v4M131.7 672.3v4M135.4 672.3v9M144.1 672.3v9M149 672.3v4M152 672.3v4M164.4 672.3v4M166.5 672.3v9M170.3 672.3v9M182.4 672.3v9M187 672.3v9M189.3 672.3v9M192.9 672.3v4M200.1 672.3v4M203.1 672.3v9M205.4 672.3v4M217.1 672.3v4M224.2 672.3v4M245.6 672.3v4M250.2 672.3v9M254.6 672.3v9M259.8 672.3v4M264.4 672.3v9M267 672.3v4M270 672.3v9M274.1 672.3v4M281.4 672.3v4M285.7 672.3v9M291 672.3v4M294.4 672.3v9M296.4 672.3v4M299.3 672.3v4M303.6 672.3v4M305.9 672.3v9M313.4 672.3v4M317.7 672.3v9M320.8 672.3v4M324.6 672.3v4M328.6 672.3v9M335.8 672.3v4M340.4 672.3v9M345 672.3v4M348.9 672.3v4M351.7 672.3v4M360.4 672.3v9M375.8 672.3v4M384.4 672.3v4M392.1 672.3v4M398.8 672.3v4M405.5 672.3v9M412.3 672.3v4M432.2 672.3v9M441 672.3v9M445.3 672.3v4M449.4 672.3v9M455.2 672.3v4M461.3 672.3v9M469.7 672.3v9M474 672.3v9M486 672.3v4M500.7 672.3v9M505.1 672.3v4M507.2 672.3v4M510.3 672.3v9M513.4 672.3v9M514.9 672.3v4M524.9 672.3v9M534.6 672.3v4M537.3 672.3v9M540 672.3v4M543.4 672.3v9M546.4 672.3v9M548.8 672.3v9M553.5 672.3v9M558.8 672.3v9M562.9 672.3v4M566.1 672.3v4M568 672.3v4M570.8 672.3v4M573.5 672.3v4M578.1 672.3v4M581 672.3v9M583 672.3v4M585.2 672.3v4M591.6 672.3v9M594.2 672.3v9M596.1 672.3v4M600.1 672.3v4M601.9 672.3v4M605 672.3v4M609.6 672.3v4M614.5 672.3v4M619.9 672.3v4M622.7 672.3v4M625.2 672.3v9M633.6 672.3v9M636.3 672.3v9M640.5 672.3v4M644.6 672.3v4M647.2 672.3v4M657.5 672.3v4M659.4 672.3v4M664.9 672.3v9M668 672.3v9M670.8 672.3v9M672.5 672.3v4M677.1 672.3v9" stroke="#ffffff" stroke-width="0.6" fill="none" opacity="0.9"/>
</svg></body></html>
